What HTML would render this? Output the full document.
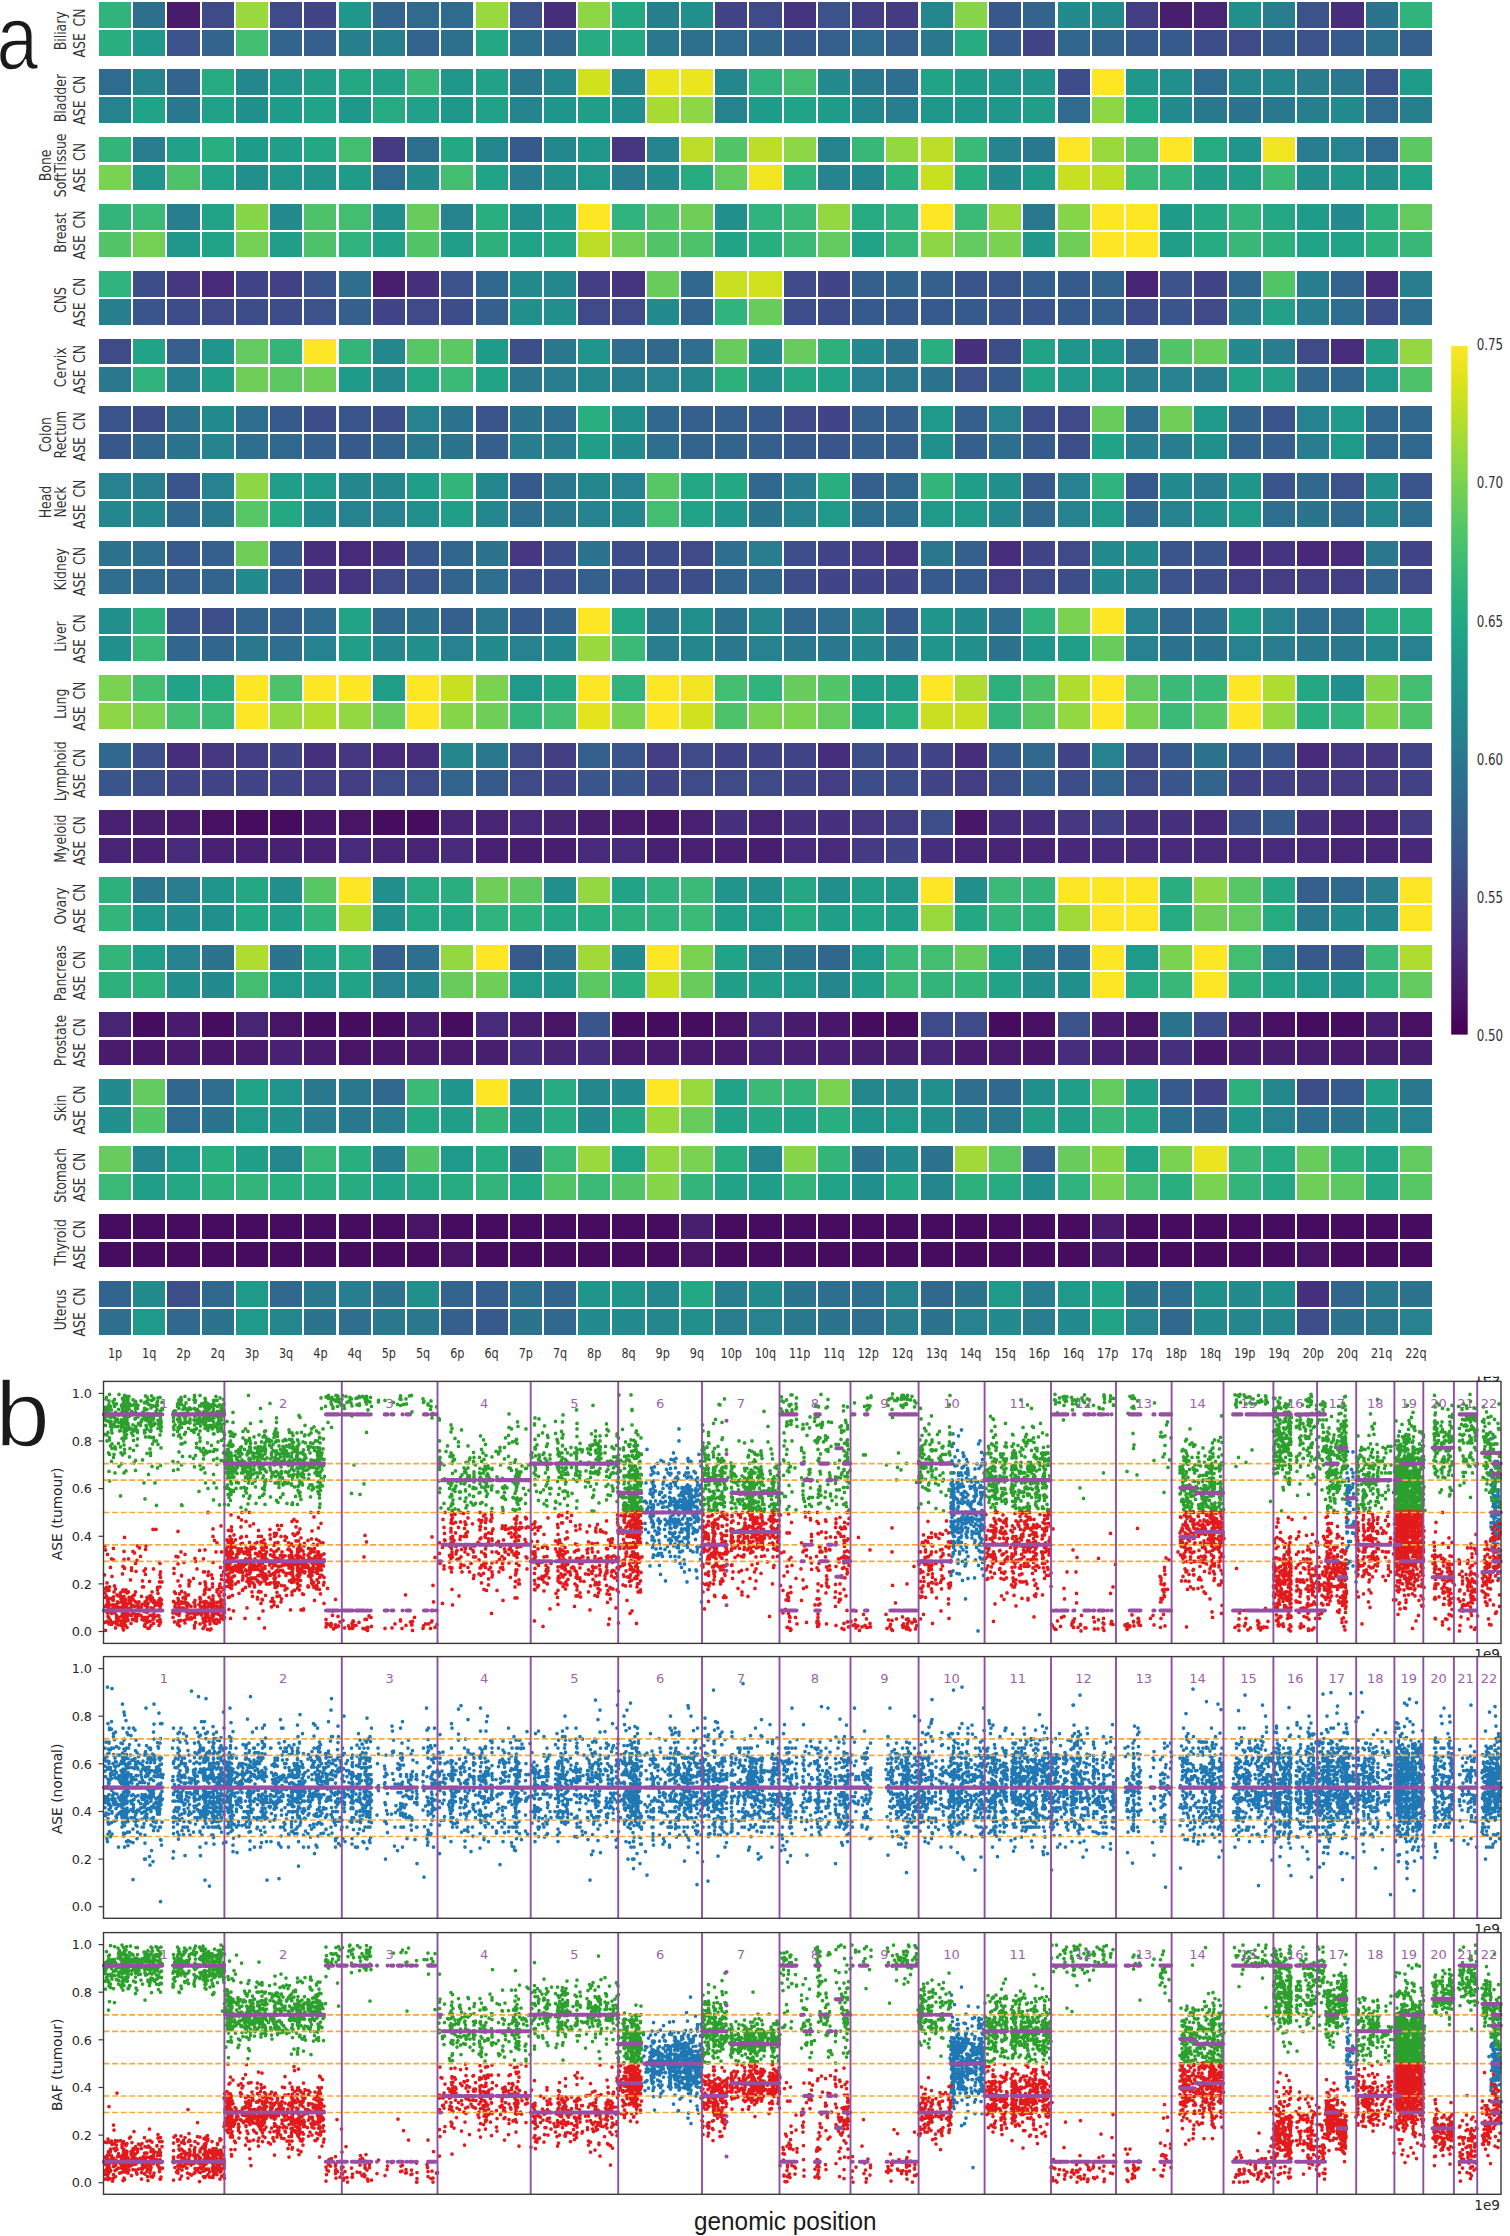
<!DOCTYPE html>
<html><head><meta charset="utf-8"><title>figure</title>
<style>html,body{margin:0;padding:0;background:#fff}svg{display:block}text{font-family:"DejaVu Sans","Liberation Sans",sans-serif}.lib{font-family:"Liberation Sans","DejaVu Sans",sans-serif}</style></head><body>
<svg width="1510" height="2236" viewBox="0 0 1510 2236">
<defs><linearGradient id="cb" x1="0" y1="1" x2="0" y2="0"><stop offset="0.0000" stop-color="#440154"/><stop offset="0.0526" stop-color="#481567"/><stop offset="0.1053" stop-color="#482677"/><stop offset="0.1579" stop-color="#453781"/><stop offset="0.2105" stop-color="#404788"/><stop offset="0.2632" stop-color="#39568c"/><stop offset="0.3158" stop-color="#33638d"/><stop offset="0.3684" stop-color="#2d708e"/><stop offset="0.4211" stop-color="#287d8e"/><stop offset="0.4737" stop-color="#238a8d"/><stop offset="0.5263" stop-color="#1f968b"/><stop offset="0.5789" stop-color="#20a387"/><stop offset="0.6316" stop-color="#29af7f"/><stop offset="0.6842" stop-color="#3cbb75"/><stop offset="0.7368" stop-color="#55c667"/><stop offset="0.7895" stop-color="#73d055"/><stop offset="0.8421" stop-color="#95d840"/><stop offset="0.8947" stop-color="#b8de29"/><stop offset="0.9474" stop-color="#dce319"/><stop offset="1.0000" stop-color="#fde725"/></linearGradient></defs>
<rect width="1510" height="2236" fill="#fff"/>
<g class="h" shape-rendering="crispEdges">
<g transform="translate(0 2.0)"><rect x="98.9" width="32.1" height="25.6" fill="#30b37c"/><rect x="133.1" width="32.1" height="25.6" fill="#2d708e"/><rect x="167.4" width="32.1" height="25.6" fill="#481b6c"/><rect x="201.6" width="32.1" height="25.6" fill="#3f4a89"/><rect x="235.8" width="32.1" height="25.6" fill="#9ad93d"/><rect x="270.1" width="32.1" height="25.6" fill="#3f4a89"/><rect x="304.3" width="32.1" height="25.6" fill="#414487"/><rect x="338.5" width="32.1" height="25.6" fill="#1f978b"/><rect x="372.8" width="32.1" height="25.6" fill="#33648d"/><rect x="407.0" width="32.1" height="25.6" fill="#2f6b8e"/><rect x="441.2" width="32.1" height="25.6" fill="#2f6b8e"/><rect x="475.5" width="32.1" height="25.6" fill="#9ad93d"/><rect x="509.7" width="32.1" height="25.6" fill="#3b528b"/><rect x="544.0" width="32.1" height="25.6" fill="#472e7c"/><rect x="578.2" width="32.1" height="25.6" fill="#8dd645"/><rect x="612.4" width="32.1" height="25.6" fill="#24a884"/><rect x="646.7" width="32.1" height="25.6" fill="#277f8e"/><rect x="680.9" width="32.1" height="25.6" fill="#21908c"/><rect x="715.1" width="32.1" height="25.6" fill="#414487"/><rect x="749.4" width="32.1" height="25.6" fill="#3f4a89"/><rect x="783.6" width="32.1" height="25.6" fill="#453480"/><rect x="817.8" width="32.1" height="25.6" fill="#3b528b"/><rect x="852.1" width="32.1" height="25.6" fill="#433e84"/><rect x="886.3" width="32.1" height="25.6" fill="#443b83"/><rect x="920.5" width="32.1" height="25.6" fill="#24878d"/><rect x="954.8" width="32.1" height="25.6" fill="#87d549"/><rect x="989.0" width="32.1" height="25.6" fill="#38588c"/><rect x="1023.2" width="32.1" height="25.6" fill="#33648d"/><rect x="1057.5" width="32.1" height="25.6" fill="#238b8d"/><rect x="1091.7" width="32.1" height="25.6" fill="#23898d"/><rect x="1126.0" width="32.1" height="25.6" fill="#433e84"/><rect x="1160.2" width="32.1" height="25.6" fill="#481e6f"/><rect x="1194.4" width="32.1" height="25.6" fill="#482475"/><rect x="1228.7" width="32.1" height="25.6" fill="#21908c"/><rect x="1262.9" width="32.1" height="25.6" fill="#287d8e"/><rect x="1297.1" width="32.1" height="25.6" fill="#3b528b"/><rect x="1331.4" width="32.1" height="25.6" fill="#472e7c"/><rect x="1365.6" width="32.1" height="25.6" fill="#2c738e"/><rect x="1399.8" width="32.1" height="25.6" fill="#30b37c"/></g>
<g transform="translate(0 29.9)"><rect x="98.9" width="32.1" height="25.6" fill="#29af7f"/><rect x="133.1" width="32.1" height="25.6" fill="#1f978b"/><rect x="167.4" width="32.1" height="25.6" fill="#3b528b"/><rect x="201.6" width="32.1" height="25.6" fill="#33648d"/><rect x="235.8" width="32.1" height="25.6" fill="#43be71"/><rect x="270.1" width="32.1" height="25.6" fill="#33648d"/><rect x="304.3" width="32.1" height="25.6" fill="#355f8d"/><rect x="338.5" width="32.1" height="25.6" fill="#277f8e"/><rect x="372.8" width="32.1" height="25.6" fill="#277f8e"/><rect x="407.0" width="32.1" height="25.6" fill="#33648d"/><rect x="441.2" width="32.1" height="25.6" fill="#2d708e"/><rect x="475.5" width="32.1" height="25.6" fill="#24a884"/><rect x="509.7" width="32.1" height="25.6" fill="#2d708e"/><rect x="544.0" width="32.1" height="25.6" fill="#31678d"/><rect x="578.2" width="32.1" height="25.6" fill="#27ac81"/><rect x="612.4" width="32.1" height="25.6" fill="#24a884"/><rect x="646.7" width="32.1" height="25.6" fill="#2a788e"/><rect x="680.9" width="32.1" height="25.6" fill="#2d708e"/><rect x="715.1" width="32.1" height="25.6" fill="#2f6b8e"/><rect x="749.4" width="32.1" height="25.6" fill="#31678d"/><rect x="783.6" width="32.1" height="25.6" fill="#375a8c"/><rect x="817.8" width="32.1" height="25.6" fill="#355f8d"/><rect x="852.1" width="32.1" height="25.6" fill="#2f6b8e"/><rect x="886.3" width="32.1" height="25.6" fill="#355f8d"/><rect x="920.5" width="32.1" height="25.6" fill="#2a788e"/><rect x="954.8" width="32.1" height="25.6" fill="#27ac81"/><rect x="989.0" width="32.1" height="25.6" fill="#375a8c"/><rect x="1023.2" width="32.1" height="25.6" fill="#414487"/><rect x="1057.5" width="32.1" height="25.6" fill="#31678d"/><rect x="1091.7" width="32.1" height="25.6" fill="#33648d"/><rect x="1126.0" width="32.1" height="25.6" fill="#375a8c"/><rect x="1160.2" width="32.1" height="25.6" fill="#375a8c"/><rect x="1194.4" width="32.1" height="25.6" fill="#3d4d89"/><rect x="1228.7" width="32.1" height="25.6" fill="#3f4a89"/><rect x="1262.9" width="32.1" height="25.6" fill="#375a8c"/><rect x="1297.1" width="32.1" height="25.6" fill="#3b528b"/><rect x="1331.4" width="32.1" height="25.6" fill="#375a8c"/><rect x="1365.6" width="32.1" height="25.6" fill="#2d708e"/><rect x="1399.8" width="32.1" height="25.6" fill="#355f8d"/></g>
<g transform="translate(0 69.3)"><rect x="98.9" width="32.1" height="25.6" fill="#2f6b8e"/><rect x="133.1" width="32.1" height="25.6" fill="#25848d"/><rect x="167.4" width="32.1" height="25.6" fill="#33648d"/><rect x="201.6" width="32.1" height="25.6" fill="#27ac81"/><rect x="235.8" width="32.1" height="25.6" fill="#24878d"/><rect x="270.1" width="32.1" height="25.6" fill="#1f958b"/><rect x="304.3" width="32.1" height="25.6" fill="#209e88"/><rect x="338.5" width="32.1" height="25.6" fill="#24a884"/><rect x="372.8" width="32.1" height="25.6" fill="#20a188"/><rect x="407.0" width="32.1" height="25.6" fill="#37b878"/><rect x="441.2" width="32.1" height="25.6" fill="#1f978b"/><rect x="475.5" width="32.1" height="25.6" fill="#20a188"/><rect x="509.7" width="32.1" height="25.6" fill="#2a788e"/><rect x="544.0" width="32.1" height="25.6" fill="#24878d"/><rect x="578.2" width="32.1" height="25.6" fill="#d0e11e"/><rect x="612.4" width="32.1" height="25.6" fill="#25848d"/><rect x="646.7" width="32.1" height="25.6" fill="#eae51e"/><rect x="680.9" width="32.1" height="25.6" fill="#eae51e"/><rect x="715.1" width="32.1" height="25.6" fill="#24878d"/><rect x="749.4" width="32.1" height="25.6" fill="#30b37c"/><rect x="783.6" width="32.1" height="25.6" fill="#43be71"/><rect x="817.8" width="32.1" height="25.6" fill="#238b8d"/><rect x="852.1" width="32.1" height="25.6" fill="#2a788e"/><rect x="886.3" width="32.1" height="25.6" fill="#2e6e8e"/><rect x="920.5" width="32.1" height="25.6" fill="#20a387"/><rect x="954.8" width="32.1" height="25.6" fill="#1f9c89"/><rect x="989.0" width="32.1" height="25.6" fill="#1f958b"/><rect x="1023.2" width="32.1" height="25.6" fill="#1f958b"/><rect x="1057.5" width="32.1" height="25.6" fill="#3d4d89"/><rect x="1091.7" width="32.1" height="25.6" fill="#fde725"/><rect x="1126.0" width="32.1" height="25.6" fill="#1f978b"/><rect x="1160.2" width="32.1" height="25.6" fill="#21908c"/><rect x="1194.4" width="32.1" height="25.6" fill="#2f6b8e"/><rect x="1228.7" width="32.1" height="25.6" fill="#24878d"/><rect x="1262.9" width="32.1" height="25.6" fill="#24878d"/><rect x="1297.1" width="32.1" height="25.6" fill="#277f8e"/><rect x="1331.4" width="32.1" height="25.6" fill="#2a788e"/><rect x="1365.6" width="32.1" height="25.6" fill="#3b528b"/><rect x="1399.8" width="32.1" height="25.6" fill="#1f9c89"/></g>
<g transform="translate(0 97.2)"><rect x="98.9" width="32.1" height="25.6" fill="#26828e"/><rect x="133.1" width="32.1" height="25.6" fill="#20a387"/><rect x="167.4" width="32.1" height="25.6" fill="#2a788e"/><rect x="201.6" width="32.1" height="25.6" fill="#20a188"/><rect x="235.8" width="32.1" height="25.6" fill="#21908c"/><rect x="270.1" width="32.1" height="25.6" fill="#1f9c89"/><rect x="304.3" width="32.1" height="25.6" fill="#20a387"/><rect x="338.5" width="32.1" height="25.6" fill="#1f978b"/><rect x="372.8" width="32.1" height="25.6" fill="#27ac81"/><rect x="407.0" width="32.1" height="25.6" fill="#20a188"/><rect x="441.2" width="32.1" height="25.6" fill="#1f978b"/><rect x="475.5" width="32.1" height="25.6" fill="#20a188"/><rect x="509.7" width="32.1" height="25.6" fill="#25848d"/><rect x="544.0" width="32.1" height="25.6" fill="#1f958b"/><rect x="578.2" width="32.1" height="25.6" fill="#209e88"/><rect x="612.4" width="32.1" height="25.6" fill="#21908c"/><rect x="646.7" width="32.1" height="25.6" fill="#a8db34"/><rect x="680.9" width="32.1" height="25.6" fill="#8dd645"/><rect x="715.1" width="32.1" height="25.6" fill="#26828e"/><rect x="749.4" width="32.1" height="25.6" fill="#1f9c89"/><rect x="783.6" width="32.1" height="25.6" fill="#20a387"/><rect x="817.8" width="32.1" height="25.6" fill="#1f9c89"/><rect x="852.1" width="32.1" height="25.6" fill="#24878d"/><rect x="886.3" width="32.1" height="25.6" fill="#287d8e"/><rect x="920.5" width="32.1" height="25.6" fill="#1f978b"/><rect x="954.8" width="32.1" height="25.6" fill="#1f978b"/><rect x="989.0" width="32.1" height="25.6" fill="#1f978b"/><rect x="1023.2" width="32.1" height="25.6" fill="#209e88"/><rect x="1057.5" width="32.1" height="25.6" fill="#2f6b8e"/><rect x="1091.7" width="32.1" height="25.6" fill="#8dd645"/><rect x="1126.0" width="32.1" height="25.6" fill="#24a884"/><rect x="1160.2" width="32.1" height="25.6" fill="#238b8d"/><rect x="1194.4" width="32.1" height="25.6" fill="#2a788e"/><rect x="1228.7" width="32.1" height="25.6" fill="#2c738e"/><rect x="1262.9" width="32.1" height="25.6" fill="#2a788e"/><rect x="1297.1" width="32.1" height="25.6" fill="#277f8e"/><rect x="1331.4" width="32.1" height="25.6" fill="#238b8d"/><rect x="1365.6" width="32.1" height="25.6" fill="#2f6b8e"/><rect x="1399.8" width="32.1" height="25.6" fill="#277f8e"/></g>
<g transform="translate(0 136.6)"><rect x="98.9" width="32.1" height="25.6" fill="#33b57a"/><rect x="133.1" width="32.1" height="25.6" fill="#287d8e"/><rect x="167.4" width="32.1" height="25.6" fill="#20a188"/><rect x="201.6" width="32.1" height="25.6" fill="#29af7f"/><rect x="235.8" width="32.1" height="25.6" fill="#1f9c89"/><rect x="270.1" width="32.1" height="25.6" fill="#209e88"/><rect x="304.3" width="32.1" height="25.6" fill="#24a884"/><rect x="338.5" width="32.1" height="25.6" fill="#43be71"/><rect x="372.8" width="32.1" height="25.6" fill="#443b83"/><rect x="407.0" width="32.1" height="25.6" fill="#2d708e"/><rect x="441.2" width="32.1" height="25.6" fill="#24a884"/><rect x="475.5" width="32.1" height="25.6" fill="#24878d"/><rect x="509.7" width="32.1" height="25.6" fill="#375a8c"/><rect x="544.0" width="32.1" height="25.6" fill="#24878d"/><rect x="578.2" width="32.1" height="25.6" fill="#1f978b"/><rect x="612.4" width="32.1" height="25.6" fill="#453881"/><rect x="646.7" width="32.1" height="25.6" fill="#25848d"/><rect x="680.9" width="32.1" height="25.6" fill="#bcde27"/><rect x="715.1" width="32.1" height="25.6" fill="#52c569"/><rect x="749.4" width="32.1" height="25.6" fill="#bcde27"/><rect x="783.6" width="32.1" height="25.6" fill="#8dd645"/><rect x="817.8" width="32.1" height="25.6" fill="#25848d"/><rect x="852.1" width="32.1" height="25.6" fill="#37b878"/><rect x="886.3" width="32.1" height="25.6" fill="#94d841"/><rect x="920.5" width="32.1" height="25.6" fill="#bcde27"/><rect x="954.8" width="32.1" height="25.6" fill="#3aba76"/><rect x="989.0" width="32.1" height="25.6" fill="#25848d"/><rect x="1023.2" width="32.1" height="25.6" fill="#2a788e"/><rect x="1057.5" width="32.1" height="25.6" fill="#fde725"/><rect x="1091.7" width="32.1" height="25.6" fill="#9ad93d"/><rect x="1126.0" width="32.1" height="25.6" fill="#5cc862"/><rect x="1160.2" width="32.1" height="25.6" fill="#fde725"/><rect x="1194.4" width="32.1" height="25.6" fill="#27ac81"/><rect x="1228.7" width="32.1" height="25.6" fill="#1f958b"/><rect x="1262.9" width="32.1" height="25.6" fill="#f0e520"/><rect x="1297.1" width="32.1" height="25.6" fill="#287d8e"/><rect x="1331.4" width="32.1" height="25.6" fill="#26828e"/><rect x="1365.6" width="32.1" height="25.6" fill="#2f6b8e"/><rect x="1399.8" width="32.1" height="25.6" fill="#5cc862"/></g>
<g transform="translate(0 164.5)"><rect x="98.9" width="32.1" height="25.6" fill="#7ad251"/><rect x="133.1" width="32.1" height="25.6" fill="#1f958b"/><rect x="167.4" width="32.1" height="25.6" fill="#4dc26b"/><rect x="201.6" width="32.1" height="25.6" fill="#20a387"/><rect x="235.8" width="32.1" height="25.6" fill="#21908c"/><rect x="270.1" width="32.1" height="25.6" fill="#1f978b"/><rect x="304.3" width="32.1" height="25.6" fill="#1f958b"/><rect x="338.5" width="32.1" height="25.6" fill="#1f9c89"/><rect x="372.8" width="32.1" height="25.6" fill="#2f6b8e"/><rect x="407.0" width="32.1" height="25.6" fill="#238b8d"/><rect x="441.2" width="32.1" height="25.6" fill="#43be71"/><rect x="475.5" width="32.1" height="25.6" fill="#20a387"/><rect x="509.7" width="32.1" height="25.6" fill="#287d8e"/><rect x="544.0" width="32.1" height="25.6" fill="#21908c"/><rect x="578.2" width="32.1" height="25.6" fill="#1f998a"/><rect x="612.4" width="32.1" height="25.6" fill="#287d8e"/><rect x="646.7" width="32.1" height="25.6" fill="#238b8d"/><rect x="680.9" width="32.1" height="25.6" fill="#27ac81"/><rect x="715.1" width="32.1" height="25.6" fill="#62ca5f"/><rect x="749.4" width="32.1" height="25.6" fill="#f0e520"/><rect x="783.6" width="32.1" height="25.6" fill="#30b37c"/><rect x="817.8" width="32.1" height="25.6" fill="#25848d"/><rect x="852.1" width="32.1" height="25.6" fill="#24878d"/><rect x="886.3" width="32.1" height="25.6" fill="#2cb17d"/><rect x="920.5" width="32.1" height="25.6" fill="#c9e021"/><rect x="954.8" width="32.1" height="25.6" fill="#29af7f"/><rect x="989.0" width="32.1" height="25.6" fill="#238b8d"/><rect x="1023.2" width="32.1" height="25.6" fill="#1f9c89"/><rect x="1057.5" width="32.1" height="25.6" fill="#c9e021"/><rect x="1091.7" width="32.1" height="25.6" fill="#bcde27"/><rect x="1126.0" width="32.1" height="25.6" fill="#3aba76"/><rect x="1160.2" width="32.1" height="25.6" fill="#30b37c"/><rect x="1194.4" width="32.1" height="25.6" fill="#209e88"/><rect x="1228.7" width="32.1" height="25.6" fill="#209e88"/><rect x="1262.9" width="32.1" height="25.6" fill="#3aba76"/><rect x="1297.1" width="32.1" height="25.6" fill="#21908c"/><rect x="1331.4" width="32.1" height="25.6" fill="#1f978b"/><rect x="1365.6" width="32.1" height="25.6" fill="#21908c"/><rect x="1399.8" width="32.1" height="25.6" fill="#20a387"/></g>
<g transform="translate(0 204.0)"><rect x="98.9" width="32.1" height="25.6" fill="#33b57a"/><rect x="133.1" width="32.1" height="25.6" fill="#3aba76"/><rect x="167.4" width="32.1" height="25.6" fill="#277f8e"/><rect x="201.6" width="32.1" height="25.6" fill="#20a387"/><rect x="235.8" width="32.1" height="25.6" fill="#87d549"/><rect x="270.1" width="32.1" height="25.6" fill="#238b8d"/><rect x="304.3" width="32.1" height="25.6" fill="#4dc26b"/><rect x="338.5" width="32.1" height="25.6" fill="#43be71"/><rect x="372.8" width="32.1" height="25.6" fill="#21908c"/><rect x="407.0" width="32.1" height="25.6" fill="#68cc5c"/><rect x="441.2" width="32.1" height="25.6" fill="#25848d"/><rect x="475.5" width="32.1" height="25.6" fill="#29af7f"/><rect x="509.7" width="32.1" height="25.6" fill="#21908c"/><rect x="544.0" width="32.1" height="25.6" fill="#209e88"/><rect x="578.2" width="32.1" height="25.6" fill="#fde725"/><rect x="612.4" width="32.1" height="25.6" fill="#30b37c"/><rect x="646.7" width="32.1" height="25.6" fill="#52c569"/><rect x="680.9" width="32.1" height="25.6" fill="#6ece58"/><rect x="715.1" width="32.1" height="25.6" fill="#21908c"/><rect x="749.4" width="32.1" height="25.6" fill="#30b37c"/><rect x="783.6" width="32.1" height="25.6" fill="#3aba76"/><rect x="817.8" width="32.1" height="25.6" fill="#94d841"/><rect x="852.1" width="32.1" height="25.6" fill="#27ac81"/><rect x="886.3" width="32.1" height="25.6" fill="#30b37c"/><rect x="920.5" width="32.1" height="25.6" fill="#fde725"/><rect x="954.8" width="32.1" height="25.6" fill="#3aba76"/><rect x="989.0" width="32.1" height="25.6" fill="#9ad93d"/><rect x="1023.2" width="32.1" height="25.6" fill="#2a788e"/><rect x="1057.5" width="32.1" height="25.6" fill="#87d549"/><rect x="1091.7" width="32.1" height="25.6" fill="#fde725"/><rect x="1126.0" width="32.1" height="25.6" fill="#fde725"/><rect x="1160.2" width="32.1" height="25.6" fill="#1f9c89"/><rect x="1194.4" width="32.1" height="25.6" fill="#24a884"/><rect x="1228.7" width="32.1" height="25.6" fill="#33b57a"/><rect x="1262.9" width="32.1" height="25.6" fill="#24a884"/><rect x="1297.1" width="32.1" height="25.6" fill="#1f9c89"/><rect x="1331.4" width="32.1" height="25.6" fill="#238b8d"/><rect x="1365.6" width="32.1" height="25.6" fill="#2cb17d"/><rect x="1399.8" width="32.1" height="25.6" fill="#62ca5f"/></g>
<g transform="translate(0 231.9)"><rect x="98.9" width="32.1" height="25.6" fill="#52c569"/><rect x="133.1" width="32.1" height="25.6" fill="#73d055"/><rect x="167.4" width="32.1" height="25.6" fill="#1f978b"/><rect x="201.6" width="32.1" height="25.6" fill="#20a387"/><rect x="235.8" width="32.1" height="25.6" fill="#73d055"/><rect x="270.1" width="32.1" height="25.6" fill="#209e88"/><rect x="304.3" width="32.1" height="25.6" fill="#4dc26b"/><rect x="338.5" width="32.1" height="25.6" fill="#30b37c"/><rect x="372.8" width="32.1" height="25.6" fill="#20a188"/><rect x="407.0" width="32.1" height="25.6" fill="#52c569"/><rect x="441.2" width="32.1" height="25.6" fill="#209e88"/><rect x="475.5" width="32.1" height="25.6" fill="#2cb17d"/><rect x="509.7" width="32.1" height="25.6" fill="#20a387"/><rect x="544.0" width="32.1" height="25.6" fill="#24a884"/><rect x="578.2" width="32.1" height="25.6" fill="#bcde27"/><rect x="612.4" width="32.1" height="25.6" fill="#6ece58"/><rect x="646.7" width="32.1" height="25.6" fill="#52c569"/><rect x="680.9" width="32.1" height="25.6" fill="#4dc26b"/><rect x="715.1" width="32.1" height="25.6" fill="#20a387"/><rect x="749.4" width="32.1" height="25.6" fill="#29af7f"/><rect x="783.6" width="32.1" height="25.6" fill="#3aba76"/><rect x="817.8" width="32.1" height="25.6" fill="#62ca5f"/><rect x="852.1" width="32.1" height="25.6" fill="#20a387"/><rect x="886.3" width="32.1" height="25.6" fill="#37b878"/><rect x="920.5" width="32.1" height="25.6" fill="#8dd645"/><rect x="954.8" width="32.1" height="25.6" fill="#62ca5f"/><rect x="989.0" width="32.1" height="25.6" fill="#7ad251"/><rect x="1023.2" width="32.1" height="25.6" fill="#1f978b"/><rect x="1057.5" width="32.1" height="25.6" fill="#6ece58"/><rect x="1091.7" width="32.1" height="25.6" fill="#fde725"/><rect x="1126.0" width="32.1" height="25.6" fill="#fde725"/><rect x="1160.2" width="32.1" height="25.6" fill="#209e88"/><rect x="1194.4" width="32.1" height="25.6" fill="#27ac81"/><rect x="1228.7" width="32.1" height="25.6" fill="#37b878"/><rect x="1262.9" width="32.1" height="25.6" fill="#2cb17d"/><rect x="1297.1" width="32.1" height="25.6" fill="#20a387"/><rect x="1331.4" width="32.1" height="25.6" fill="#20a387"/><rect x="1365.6" width="32.1" height="25.6" fill="#2cb17d"/><rect x="1399.8" width="32.1" height="25.6" fill="#37b878"/></g>
<g transform="translate(0 271.3)"><rect x="98.9" width="32.1" height="25.6" fill="#30b37c"/><rect x="133.1" width="32.1" height="25.6" fill="#3d4d89"/><rect x="167.4" width="32.1" height="25.6" fill="#453881"/><rect x="201.6" width="32.1" height="25.6" fill="#472b7a"/><rect x="235.8" width="32.1" height="25.6" fill="#414487"/><rect x="270.1" width="32.1" height="25.6" fill="#424185"/><rect x="304.3" width="32.1" height="25.6" fill="#39558c"/><rect x="338.5" width="32.1" height="25.6" fill="#2e6e8e"/><rect x="372.8" width="32.1" height="25.6" fill="#481e6f"/><rect x="407.0" width="32.1" height="25.6" fill="#46317e"/><rect x="441.2" width="32.1" height="25.6" fill="#3b528b"/><rect x="475.5" width="32.1" height="25.6" fill="#30698d"/><rect x="509.7" width="32.1" height="25.6" fill="#238b8d"/><rect x="544.0" width="32.1" height="25.6" fill="#24878d"/><rect x="578.2" width="32.1" height="25.6" fill="#433e84"/><rect x="612.4" width="32.1" height="25.6" fill="#453480"/><rect x="646.7" width="32.1" height="25.6" fill="#68cc5c"/><rect x="680.9" width="32.1" height="25.6" fill="#30698d"/><rect x="715.1" width="32.1" height="25.6" fill="#c9e021"/><rect x="749.4" width="32.1" height="25.6" fill="#d0e11e"/><rect x="783.6" width="32.1" height="25.6" fill="#3f4a89"/><rect x="817.8" width="32.1" height="25.6" fill="#414487"/><rect x="852.1" width="32.1" height="25.6" fill="#355f8d"/><rect x="886.3" width="32.1" height="25.6" fill="#33648d"/><rect x="920.5" width="32.1" height="25.6" fill="#355f8d"/><rect x="954.8" width="32.1" height="25.6" fill="#39558c"/><rect x="989.0" width="32.1" height="25.6" fill="#39558c"/><rect x="1023.2" width="32.1" height="25.6" fill="#355f8d"/><rect x="1057.5" width="32.1" height="25.6" fill="#375a8c"/><rect x="1091.7" width="32.1" height="25.6" fill="#33648d"/><rect x="1126.0" width="32.1" height="25.6" fill="#482475"/><rect x="1160.2" width="32.1" height="25.6" fill="#3b528b"/><rect x="1194.4" width="32.1" height="25.6" fill="#414487"/><rect x="1228.7" width="32.1" height="25.6" fill="#30698d"/><rect x="1262.9" width="32.1" height="25.6" fill="#52c569"/><rect x="1297.1" width="32.1" height="25.6" fill="#287d8e"/><rect x="1331.4" width="32.1" height="25.6" fill="#33648d"/><rect x="1365.6" width="32.1" height="25.6" fill="#472b7a"/><rect x="1399.8" width="32.1" height="25.6" fill="#287d8e"/></g>
<g transform="translate(0 299.2)"><rect x="98.9" width="32.1" height="25.6" fill="#277f8e"/><rect x="133.1" width="32.1" height="25.6" fill="#39558c"/><rect x="167.4" width="32.1" height="25.6" fill="#3d4d89"/><rect x="201.6" width="32.1" height="25.6" fill="#3f4a89"/><rect x="235.8" width="32.1" height="25.6" fill="#3d4d89"/><rect x="270.1" width="32.1" height="25.6" fill="#3d4d89"/><rect x="304.3" width="32.1" height="25.6" fill="#3b528b"/><rect x="338.5" width="32.1" height="25.6" fill="#355f8d"/><rect x="372.8" width="32.1" height="25.6" fill="#414487"/><rect x="407.0" width="32.1" height="25.6" fill="#3f4a89"/><rect x="441.2" width="32.1" height="25.6" fill="#3d4d89"/><rect x="475.5" width="32.1" height="25.6" fill="#355f8d"/><rect x="509.7" width="32.1" height="25.6" fill="#21908c"/><rect x="544.0" width="32.1" height="25.6" fill="#21908c"/><rect x="578.2" width="32.1" height="25.6" fill="#3f4a89"/><rect x="612.4" width="32.1" height="25.6" fill="#3f4a89"/><rect x="646.7" width="32.1" height="25.6" fill="#238b8d"/><rect x="680.9" width="32.1" height="25.6" fill="#33648d"/><rect x="715.1" width="32.1" height="25.6" fill="#30b37c"/><rect x="749.4" width="32.1" height="25.6" fill="#68cc5c"/><rect x="783.6" width="32.1" height="25.6" fill="#3c4f8a"/><rect x="817.8" width="32.1" height="25.6" fill="#3d4d89"/><rect x="852.1" width="32.1" height="25.6" fill="#375a8c"/><rect x="886.3" width="32.1" height="25.6" fill="#375a8c"/><rect x="920.5" width="32.1" height="25.6" fill="#375a8c"/><rect x="954.8" width="32.1" height="25.6" fill="#375a8c"/><rect x="989.0" width="32.1" height="25.6" fill="#39558c"/><rect x="1023.2" width="32.1" height="25.6" fill="#39558c"/><rect x="1057.5" width="32.1" height="25.6" fill="#375a8c"/><rect x="1091.7" width="32.1" height="25.6" fill="#355f8d"/><rect x="1126.0" width="32.1" height="25.6" fill="#3d4d89"/><rect x="1160.2" width="32.1" height="25.6" fill="#39558c"/><rect x="1194.4" width="32.1" height="25.6" fill="#3f4a89"/><rect x="1228.7" width="32.1" height="25.6" fill="#287d8e"/><rect x="1262.9" width="32.1" height="25.6" fill="#20a188"/><rect x="1297.1" width="32.1" height="25.6" fill="#287d8e"/><rect x="1331.4" width="32.1" height="25.6" fill="#2e6e8e"/><rect x="1365.6" width="32.1" height="25.6" fill="#3d4d89"/><rect x="1399.8" width="32.1" height="25.6" fill="#2e6e8e"/></g>
<g transform="translate(0 338.6)"><rect x="98.9" width="32.1" height="25.6" fill="#3f4a89"/><rect x="133.1" width="32.1" height="25.6" fill="#20a387"/><rect x="167.4" width="32.1" height="25.6" fill="#355f8d"/><rect x="201.6" width="32.1" height="25.6" fill="#1f958b"/><rect x="235.8" width="32.1" height="25.6" fill="#62ca5f"/><rect x="270.1" width="32.1" height="25.6" fill="#33b57a"/><rect x="304.3" width="32.1" height="25.6" fill="#fde725"/><rect x="338.5" width="32.1" height="25.6" fill="#33b57a"/><rect x="372.8" width="32.1" height="25.6" fill="#24878d"/><rect x="407.0" width="32.1" height="25.6" fill="#57c766"/><rect x="441.2" width="32.1" height="25.6" fill="#5cc862"/><rect x="475.5" width="32.1" height="25.6" fill="#1f9c89"/><rect x="509.7" width="32.1" height="25.6" fill="#3c4f8a"/><rect x="544.0" width="32.1" height="25.6" fill="#2a788e"/><rect x="578.2" width="32.1" height="25.6" fill="#1f958b"/><rect x="612.4" width="32.1" height="25.6" fill="#2e6e8e"/><rect x="646.7" width="32.1" height="25.6" fill="#30698d"/><rect x="680.9" width="32.1" height="25.6" fill="#2e6e8e"/><rect x="715.1" width="32.1" height="25.6" fill="#68cc5c"/><rect x="749.4" width="32.1" height="25.6" fill="#238b8d"/><rect x="783.6" width="32.1" height="25.6" fill="#68cc5c"/><rect x="817.8" width="32.1" height="25.6" fill="#2cb17d"/><rect x="852.1" width="32.1" height="25.6" fill="#238b8d"/><rect x="886.3" width="32.1" height="25.6" fill="#2c738e"/><rect x="920.5" width="32.1" height="25.6" fill="#29af7f"/><rect x="954.8" width="32.1" height="25.6" fill="#46317e"/><rect x="989.0" width="32.1" height="25.6" fill="#3d4d89"/><rect x="1023.2" width="32.1" height="25.6" fill="#20a387"/><rect x="1057.5" width="32.1" height="25.6" fill="#1f958b"/><rect x="1091.7" width="32.1" height="25.6" fill="#1f958b"/><rect x="1126.0" width="32.1" height="25.6" fill="#31678d"/><rect x="1160.2" width="32.1" height="25.6" fill="#52c569"/><rect x="1194.4" width="32.1" height="25.6" fill="#68cc5c"/><rect x="1228.7" width="32.1" height="25.6" fill="#238b8d"/><rect x="1262.9" width="32.1" height="25.6" fill="#287d8e"/><rect x="1297.1" width="32.1" height="25.6" fill="#3f4a89"/><rect x="1331.4" width="32.1" height="25.6" fill="#472e7c"/><rect x="1365.6" width="32.1" height="25.6" fill="#209e88"/><rect x="1399.8" width="32.1" height="25.6" fill="#94d841"/></g>
<g transform="translate(0 366.5)"><rect x="98.9" width="32.1" height="25.6" fill="#2a788e"/><rect x="133.1" width="32.1" height="25.6" fill="#30b37c"/><rect x="167.4" width="32.1" height="25.6" fill="#277f8e"/><rect x="201.6" width="32.1" height="25.6" fill="#209e88"/><rect x="235.8" width="32.1" height="25.6" fill="#6ece58"/><rect x="270.1" width="32.1" height="25.6" fill="#5cc862"/><rect x="304.3" width="32.1" height="25.6" fill="#6ece58"/><rect x="338.5" width="32.1" height="25.6" fill="#1f9c89"/><rect x="372.8" width="32.1" height="25.6" fill="#24878d"/><rect x="407.0" width="32.1" height="25.6" fill="#24a884"/><rect x="441.2" width="32.1" height="25.6" fill="#3aba76"/><rect x="475.5" width="32.1" height="25.6" fill="#20a387"/><rect x="509.7" width="32.1" height="25.6" fill="#2a788e"/><rect x="544.0" width="32.1" height="25.6" fill="#287d8e"/><rect x="578.2" width="32.1" height="25.6" fill="#24878d"/><rect x="612.4" width="32.1" height="25.6" fill="#277f8e"/><rect x="646.7" width="32.1" height="25.6" fill="#26828e"/><rect x="680.9" width="32.1" height="25.6" fill="#24878d"/><rect x="715.1" width="32.1" height="25.6" fill="#2cb17d"/><rect x="749.4" width="32.1" height="25.6" fill="#21908c"/><rect x="783.6" width="32.1" height="25.6" fill="#24a884"/><rect x="817.8" width="32.1" height="25.6" fill="#20a387"/><rect x="852.1" width="32.1" height="25.6" fill="#26828e"/><rect x="886.3" width="32.1" height="25.6" fill="#2a788e"/><rect x="920.5" width="32.1" height="25.6" fill="#2c738e"/><rect x="954.8" width="32.1" height="25.6" fill="#3b528b"/><rect x="989.0" width="32.1" height="25.6" fill="#375a8c"/><rect x="1023.2" width="32.1" height="25.6" fill="#20a387"/><rect x="1057.5" width="32.1" height="25.6" fill="#1f998a"/><rect x="1091.7" width="32.1" height="25.6" fill="#1f998a"/><rect x="1126.0" width="32.1" height="25.6" fill="#287d8e"/><rect x="1160.2" width="32.1" height="25.6" fill="#26828e"/><rect x="1194.4" width="32.1" height="25.6" fill="#287d8e"/><rect x="1228.7" width="32.1" height="25.6" fill="#20a387"/><rect x="1262.9" width="32.1" height="25.6" fill="#20a188"/><rect x="1297.1" width="32.1" height="25.6" fill="#30698d"/><rect x="1331.4" width="32.1" height="25.6" fill="#30698d"/><rect x="1365.6" width="32.1" height="25.6" fill="#1f998a"/><rect x="1399.8" width="32.1" height="25.6" fill="#4dc26b"/></g>
<g transform="translate(0 405.9)"><rect x="98.9" width="32.1" height="25.6" fill="#39558c"/><rect x="133.1" width="32.1" height="25.6" fill="#3d4d89"/><rect x="167.4" width="32.1" height="25.6" fill="#2c738e"/><rect x="201.6" width="32.1" height="25.6" fill="#238b8d"/><rect x="235.8" width="32.1" height="25.6" fill="#2e6e8e"/><rect x="270.1" width="32.1" height="25.6" fill="#375a8c"/><rect x="304.3" width="32.1" height="25.6" fill="#3d4d89"/><rect x="338.5" width="32.1" height="25.6" fill="#39558c"/><rect x="372.8" width="32.1" height="25.6" fill="#3c4f8a"/><rect x="407.0" width="32.1" height="25.6" fill="#26828e"/><rect x="441.2" width="32.1" height="25.6" fill="#2c738e"/><rect x="475.5" width="32.1" height="25.6" fill="#39558c"/><rect x="509.7" width="32.1" height="25.6" fill="#2c738e"/><rect x="544.0" width="32.1" height="25.6" fill="#2e6e8e"/><rect x="578.2" width="32.1" height="25.6" fill="#29af7f"/><rect x="612.4" width="32.1" height="25.6" fill="#21908c"/><rect x="646.7" width="32.1" height="25.6" fill="#30698d"/><rect x="680.9" width="32.1" height="25.6" fill="#355f8d"/><rect x="715.1" width="32.1" height="25.6" fill="#355f8d"/><rect x="749.4" width="32.1" height="25.6" fill="#375a8c"/><rect x="783.6" width="32.1" height="25.6" fill="#3f4a89"/><rect x="817.8" width="32.1" height="25.6" fill="#414487"/><rect x="852.1" width="32.1" height="25.6" fill="#355f8d"/><rect x="886.3" width="32.1" height="25.6" fill="#355f8d"/><rect x="920.5" width="32.1" height="25.6" fill="#1f998a"/><rect x="954.8" width="32.1" height="25.6" fill="#355f8d"/><rect x="989.0" width="32.1" height="25.6" fill="#26828e"/><rect x="1023.2" width="32.1" height="25.6" fill="#3c4f8a"/><rect x="1057.5" width="32.1" height="25.6" fill="#3f4a89"/><rect x="1091.7" width="32.1" height="25.6" fill="#68cc5c"/><rect x="1126.0" width="32.1" height="25.6" fill="#2e6e8e"/><rect x="1160.2" width="32.1" height="25.6" fill="#6ece58"/><rect x="1194.4" width="32.1" height="25.6" fill="#1f998a"/><rect x="1228.7" width="32.1" height="25.6" fill="#33648d"/><rect x="1262.9" width="32.1" height="25.6" fill="#39558c"/><rect x="1297.1" width="32.1" height="25.6" fill="#26828e"/><rect x="1331.4" width="32.1" height="25.6" fill="#1f998a"/><rect x="1365.6" width="32.1" height="25.6" fill="#30698d"/><rect x="1399.8" width="32.1" height="25.6" fill="#30698d"/></g>
<g transform="translate(0 433.8)"><rect x="98.9" width="32.1" height="25.6" fill="#38588c"/><rect x="133.1" width="32.1" height="25.6" fill="#31678d"/><rect x="167.4" width="32.1" height="25.6" fill="#2c738e"/><rect x="201.6" width="32.1" height="25.6" fill="#25848d"/><rect x="235.8" width="32.1" height="25.6" fill="#2e6e8e"/><rect x="270.1" width="32.1" height="25.6" fill="#30698d"/><rect x="304.3" width="32.1" height="25.6" fill="#355f8d"/><rect x="338.5" width="32.1" height="25.6" fill="#375a8c"/><rect x="372.8" width="32.1" height="25.6" fill="#33648d"/><rect x="407.0" width="32.1" height="25.6" fill="#2a788e"/><rect x="441.2" width="32.1" height="25.6" fill="#2c738e"/><rect x="475.5" width="32.1" height="25.6" fill="#355f8d"/><rect x="509.7" width="32.1" height="25.6" fill="#287d8e"/><rect x="544.0" width="32.1" height="25.6" fill="#287d8e"/><rect x="578.2" width="32.1" height="25.6" fill="#209e88"/><rect x="612.4" width="32.1" height="25.6" fill="#238b8d"/><rect x="646.7" width="32.1" height="25.6" fill="#2e6e8e"/><rect x="680.9" width="32.1" height="25.6" fill="#33648d"/><rect x="715.1" width="32.1" height="25.6" fill="#33648d"/><rect x="749.4" width="32.1" height="25.6" fill="#355f8d"/><rect x="783.6" width="32.1" height="25.6" fill="#375a8c"/><rect x="817.8" width="32.1" height="25.6" fill="#39558c"/><rect x="852.1" width="32.1" height="25.6" fill="#355f8d"/><rect x="886.3" width="32.1" height="25.6" fill="#355f8d"/><rect x="920.5" width="32.1" height="25.6" fill="#21908c"/><rect x="954.8" width="32.1" height="25.6" fill="#355f8d"/><rect x="989.0" width="32.1" height="25.6" fill="#2e6e8e"/><rect x="1023.2" width="32.1" height="25.6" fill="#375a8c"/><rect x="1057.5" width="32.1" height="25.6" fill="#3c4f8a"/><rect x="1091.7" width="32.1" height="25.6" fill="#20a387"/><rect x="1126.0" width="32.1" height="25.6" fill="#287d8e"/><rect x="1160.2" width="32.1" height="25.6" fill="#287d8e"/><rect x="1194.4" width="32.1" height="25.6" fill="#21908c"/><rect x="1228.7" width="32.1" height="25.6" fill="#33648d"/><rect x="1262.9" width="32.1" height="25.6" fill="#355f8d"/><rect x="1297.1" width="32.1" height="25.6" fill="#287d8e"/><rect x="1331.4" width="32.1" height="25.6" fill="#1f998a"/><rect x="1365.6" width="32.1" height="25.6" fill="#30698d"/><rect x="1399.8" width="32.1" height="25.6" fill="#30698d"/></g>
<g transform="translate(0 473.2)"><rect x="98.9" width="32.1" height="25.6" fill="#26828e"/><rect x="133.1" width="32.1" height="25.6" fill="#287d8e"/><rect x="167.4" width="32.1" height="25.6" fill="#39558c"/><rect x="201.6" width="32.1" height="25.6" fill="#26828e"/><rect x="235.8" width="32.1" height="25.6" fill="#8dd645"/><rect x="270.1" width="32.1" height="25.6" fill="#209e88"/><rect x="304.3" width="32.1" height="25.6" fill="#1f998a"/><rect x="338.5" width="32.1" height="25.6" fill="#24878d"/><rect x="372.8" width="32.1" height="25.6" fill="#24878d"/><rect x="407.0" width="32.1" height="25.6" fill="#209e88"/><rect x="441.2" width="32.1" height="25.6" fill="#33b57a"/><rect x="475.5" width="32.1" height="25.6" fill="#24878d"/><rect x="509.7" width="32.1" height="25.6" fill="#375a8c"/><rect x="544.0" width="32.1" height="25.6" fill="#2a788e"/><rect x="578.2" width="32.1" height="25.6" fill="#24878d"/><rect x="612.4" width="32.1" height="25.6" fill="#26828e"/><rect x="646.7" width="32.1" height="25.6" fill="#57c766"/><rect x="680.9" width="32.1" height="25.6" fill="#24a884"/><rect x="715.1" width="32.1" height="25.6" fill="#24a884"/><rect x="749.4" width="32.1" height="25.6" fill="#30698d"/><rect x="783.6" width="32.1" height="25.6" fill="#287d8e"/><rect x="817.8" width="32.1" height="25.6" fill="#29af7f"/><rect x="852.1" width="32.1" height="25.6" fill="#355f8d"/><rect x="886.3" width="32.1" height="25.6" fill="#30698d"/><rect x="920.5" width="32.1" height="25.6" fill="#33b57a"/><rect x="954.8" width="32.1" height="25.6" fill="#209e88"/><rect x="989.0" width="32.1" height="25.6" fill="#21908c"/><rect x="1023.2" width="32.1" height="25.6" fill="#375a8c"/><rect x="1057.5" width="32.1" height="25.6" fill="#26828e"/><rect x="1091.7" width="32.1" height="25.6" fill="#30b37c"/><rect x="1126.0" width="32.1" height="25.6" fill="#375a8c"/><rect x="1160.2" width="32.1" height="25.6" fill="#238b8d"/><rect x="1194.4" width="32.1" height="25.6" fill="#287d8e"/><rect x="1228.7" width="32.1" height="25.6" fill="#1f958b"/><rect x="1262.9" width="32.1" height="25.6" fill="#39558c"/><rect x="1297.1" width="32.1" height="25.6" fill="#30698d"/><rect x="1331.4" width="32.1" height="25.6" fill="#3b528b"/><rect x="1365.6" width="32.1" height="25.6" fill="#21908c"/><rect x="1399.8" width="32.1" height="25.6" fill="#39558c"/></g>
<g transform="translate(0 501.1)"><rect x="98.9" width="32.1" height="25.6" fill="#24878d"/><rect x="133.1" width="32.1" height="25.6" fill="#24878d"/><rect x="167.4" width="32.1" height="25.6" fill="#30698d"/><rect x="201.6" width="32.1" height="25.6" fill="#2a788e"/><rect x="235.8" width="32.1" height="25.6" fill="#57c766"/><rect x="270.1" width="32.1" height="25.6" fill="#24a884"/><rect x="304.3" width="32.1" height="25.6" fill="#238b8d"/><rect x="338.5" width="32.1" height="25.6" fill="#26828e"/><rect x="372.8" width="32.1" height="25.6" fill="#26828e"/><rect x="407.0" width="32.1" height="25.6" fill="#21908c"/><rect x="441.2" width="32.1" height="25.6" fill="#209e88"/><rect x="475.5" width="32.1" height="25.6" fill="#24878d"/><rect x="509.7" width="32.1" height="25.6" fill="#2e6e8e"/><rect x="544.0" width="32.1" height="25.6" fill="#2a788e"/><rect x="578.2" width="32.1" height="25.6" fill="#26828e"/><rect x="612.4" width="32.1" height="25.6" fill="#24878d"/><rect x="646.7" width="32.1" height="25.6" fill="#43be71"/><rect x="680.9" width="32.1" height="25.6" fill="#20a387"/><rect x="715.1" width="32.1" height="25.6" fill="#1f958b"/><rect x="749.4" width="32.1" height="25.6" fill="#2c738e"/><rect x="783.6" width="32.1" height="25.6" fill="#26828e"/><rect x="817.8" width="32.1" height="25.6" fill="#1f998a"/><rect x="852.1" width="32.1" height="25.6" fill="#2e6e8e"/><rect x="886.3" width="32.1" height="25.6" fill="#2e6e8e"/><rect x="920.5" width="32.1" height="25.6" fill="#1f998a"/><rect x="954.8" width="32.1" height="25.6" fill="#1f998a"/><rect x="989.0" width="32.1" height="25.6" fill="#24878d"/><rect x="1023.2" width="32.1" height="25.6" fill="#30698d"/><rect x="1057.5" width="32.1" height="25.6" fill="#26828e"/><rect x="1091.7" width="32.1" height="25.6" fill="#1f998a"/><rect x="1126.0" width="32.1" height="25.6" fill="#30698d"/><rect x="1160.2" width="32.1" height="25.6" fill="#26828e"/><rect x="1194.4" width="32.1" height="25.6" fill="#21908c"/><rect x="1228.7" width="32.1" height="25.6" fill="#1f998a"/><rect x="1262.9" width="32.1" height="25.6" fill="#2e6e8e"/><rect x="1297.1" width="32.1" height="25.6" fill="#2c738e"/><rect x="1331.4" width="32.1" height="25.6" fill="#30698d"/><rect x="1365.6" width="32.1" height="25.6" fill="#24878d"/><rect x="1399.8" width="32.1" height="25.6" fill="#2e6e8e"/></g>
<g transform="translate(0 540.6)"><rect x="98.9" width="32.1" height="25.6" fill="#2c738e"/><rect x="133.1" width="32.1" height="25.6" fill="#2e6e8e"/><rect x="167.4" width="32.1" height="25.6" fill="#375a8c"/><rect x="201.6" width="32.1" height="25.6" fill="#355f8d"/><rect x="235.8" width="32.1" height="25.6" fill="#6ece58"/><rect x="270.1" width="32.1" height="25.6" fill="#375a8c"/><rect x="304.3" width="32.1" height="25.6" fill="#472e7c"/><rect x="338.5" width="32.1" height="25.6" fill="#472b7a"/><rect x="372.8" width="32.1" height="25.6" fill="#46317e"/><rect x="407.0" width="32.1" height="25.6" fill="#38588c"/><rect x="441.2" width="32.1" height="25.6" fill="#31678d"/><rect x="475.5" width="32.1" height="25.6" fill="#2c738e"/><rect x="509.7" width="32.1" height="25.6" fill="#453881"/><rect x="544.0" width="32.1" height="25.6" fill="#3d4d89"/><rect x="578.2" width="32.1" height="25.6" fill="#2c738e"/><rect x="612.4" width="32.1" height="25.6" fill="#3d4d89"/><rect x="646.7" width="32.1" height="25.6" fill="#3d4d89"/><rect x="680.9" width="32.1" height="25.6" fill="#3f4a89"/><rect x="715.1" width="32.1" height="25.6" fill="#2e6e8e"/><rect x="749.4" width="32.1" height="25.6" fill="#287d8e"/><rect x="783.6" width="32.1" height="25.6" fill="#3c4f8a"/><rect x="817.8" width="32.1" height="25.6" fill="#414487"/><rect x="852.1" width="32.1" height="25.6" fill="#433e84"/><rect x="886.3" width="32.1" height="25.6" fill="#453480"/><rect x="920.5" width="32.1" height="25.6" fill="#2a788e"/><rect x="954.8" width="32.1" height="25.6" fill="#355f8d"/><rect x="989.0" width="32.1" height="25.6" fill="#472e7c"/><rect x="1023.2" width="32.1" height="25.6" fill="#414487"/><rect x="1057.5" width="32.1" height="25.6" fill="#3f4a89"/><rect x="1091.7" width="32.1" height="25.6" fill="#238b8d"/><rect x="1126.0" width="32.1" height="25.6" fill="#238b8d"/><rect x="1160.2" width="32.1" height="25.6" fill="#39558c"/><rect x="1194.4" width="32.1" height="25.6" fill="#39558c"/><rect x="1228.7" width="32.1" height="25.6" fill="#472e7c"/><rect x="1262.9" width="32.1" height="25.6" fill="#453480"/><rect x="1297.1" width="32.1" height="25.6" fill="#482878"/><rect x="1331.4" width="32.1" height="25.6" fill="#472b7a"/><rect x="1365.6" width="32.1" height="25.6" fill="#2a788e"/><rect x="1399.8" width="32.1" height="25.6" fill="#414487"/></g>
<g transform="translate(0 568.5)"><rect x="98.9" width="32.1" height="25.6" fill="#2e6e8e"/><rect x="133.1" width="32.1" height="25.6" fill="#30698d"/><rect x="167.4" width="32.1" height="25.6" fill="#355f8d"/><rect x="201.6" width="32.1" height="25.6" fill="#33648d"/><rect x="235.8" width="32.1" height="25.6" fill="#238b8d"/><rect x="270.1" width="32.1" height="25.6" fill="#375a8c"/><rect x="304.3" width="32.1" height="25.6" fill="#453480"/><rect x="338.5" width="32.1" height="25.6" fill="#453480"/><rect x="372.8" width="32.1" height="25.6" fill="#3f4a89"/><rect x="407.0" width="32.1" height="25.6" fill="#39558c"/><rect x="441.2" width="32.1" height="25.6" fill="#33648d"/><rect x="475.5" width="32.1" height="25.6" fill="#2e6e8e"/><rect x="509.7" width="32.1" height="25.6" fill="#3c4f8a"/><rect x="544.0" width="32.1" height="25.6" fill="#3c4f8a"/><rect x="578.2" width="32.1" height="25.6" fill="#355f8d"/><rect x="612.4" width="32.1" height="25.6" fill="#3c4f8a"/><rect x="646.7" width="32.1" height="25.6" fill="#3d4d89"/><rect x="680.9" width="32.1" height="25.6" fill="#3d4d89"/><rect x="715.1" width="32.1" height="25.6" fill="#33648d"/><rect x="749.4" width="32.1" height="25.6" fill="#30698d"/><rect x="783.6" width="32.1" height="25.6" fill="#3d4d89"/><rect x="817.8" width="32.1" height="25.6" fill="#414487"/><rect x="852.1" width="32.1" height="25.6" fill="#414487"/><rect x="886.3" width="32.1" height="25.6" fill="#414487"/><rect x="920.5" width="32.1" height="25.6" fill="#375a8c"/><rect x="954.8" width="32.1" height="25.6" fill="#375a8c"/><rect x="989.0" width="32.1" height="25.6" fill="#433e84"/><rect x="1023.2" width="32.1" height="25.6" fill="#3f4a89"/><rect x="1057.5" width="32.1" height="25.6" fill="#3d4d89"/><rect x="1091.7" width="32.1" height="25.6" fill="#238b8d"/><rect x="1126.0" width="32.1" height="25.6" fill="#24878d"/><rect x="1160.2" width="32.1" height="25.6" fill="#3b528b"/><rect x="1194.4" width="32.1" height="25.6" fill="#3d4d89"/><rect x="1228.7" width="32.1" height="25.6" fill="#433e84"/><rect x="1262.9" width="32.1" height="25.6" fill="#433e84"/><rect x="1297.1" width="32.1" height="25.6" fill="#433e84"/><rect x="1331.4" width="32.1" height="25.6" fill="#433e84"/><rect x="1365.6" width="32.1" height="25.6" fill="#33648d"/><rect x="1399.8" width="32.1" height="25.6" fill="#3f4a89"/></g>
<g transform="translate(0 607.9)"><rect x="98.9" width="32.1" height="25.6" fill="#21908c"/><rect x="133.1" width="32.1" height="25.6" fill="#2cb17d"/><rect x="167.4" width="32.1" height="25.6" fill="#39558c"/><rect x="201.6" width="32.1" height="25.6" fill="#3c4f8a"/><rect x="235.8" width="32.1" height="25.6" fill="#33648d"/><rect x="270.1" width="32.1" height="25.6" fill="#355f8d"/><rect x="304.3" width="32.1" height="25.6" fill="#2f6b8e"/><rect x="338.5" width="32.1" height="25.6" fill="#20a387"/><rect x="372.8" width="32.1" height="25.6" fill="#30698d"/><rect x="407.0" width="32.1" height="25.6" fill="#2c738e"/><rect x="441.2" width="32.1" height="25.6" fill="#355f8d"/><rect x="475.5" width="32.1" height="25.6" fill="#2a788e"/><rect x="509.7" width="32.1" height="25.6" fill="#375a8c"/><rect x="544.0" width="32.1" height="25.6" fill="#33648d"/><rect x="578.2" width="32.1" height="25.6" fill="#fde725"/><rect x="612.4" width="32.1" height="25.6" fill="#24a884"/><rect x="646.7" width="32.1" height="25.6" fill="#2a788e"/><rect x="680.9" width="32.1" height="25.6" fill="#21908c"/><rect x="715.1" width="32.1" height="25.6" fill="#2c738e"/><rect x="749.4" width="32.1" height="25.6" fill="#24878d"/><rect x="783.6" width="32.1" height="25.6" fill="#30698d"/><rect x="817.8" width="32.1" height="25.6" fill="#2e6e8e"/><rect x="852.1" width="32.1" height="25.6" fill="#24878d"/><rect x="886.3" width="32.1" height="25.6" fill="#375a8c"/><rect x="920.5" width="32.1" height="25.6" fill="#1f958b"/><rect x="954.8" width="32.1" height="25.6" fill="#238b8d"/><rect x="989.0" width="32.1" height="25.6" fill="#2e6e8e"/><rect x="1023.2" width="32.1" height="25.6" fill="#30b37c"/><rect x="1057.5" width="32.1" height="25.6" fill="#7ad251"/><rect x="1091.7" width="32.1" height="25.6" fill="#fde725"/><rect x="1126.0" width="32.1" height="25.6" fill="#26828e"/><rect x="1160.2" width="32.1" height="25.6" fill="#30698d"/><rect x="1194.4" width="32.1" height="25.6" fill="#2e6e8e"/><rect x="1228.7" width="32.1" height="25.6" fill="#209e88"/><rect x="1262.9" width="32.1" height="25.6" fill="#26828e"/><rect x="1297.1" width="32.1" height="25.6" fill="#2e6e8e"/><rect x="1331.4" width="32.1" height="25.6" fill="#2e6e8e"/><rect x="1365.6" width="32.1" height="25.6" fill="#27ac81"/><rect x="1399.8" width="32.1" height="25.6" fill="#29af7f"/></g>
<g transform="translate(0 635.8)"><rect x="98.9" width="32.1" height="25.6" fill="#21908c"/><rect x="133.1" width="32.1" height="25.6" fill="#3aba76"/><rect x="167.4" width="32.1" height="25.6" fill="#31678d"/><rect x="201.6" width="32.1" height="25.6" fill="#31678d"/><rect x="235.8" width="32.1" height="25.6" fill="#2a788e"/><rect x="270.1" width="32.1" height="25.6" fill="#2e6e8e"/><rect x="304.3" width="32.1" height="25.6" fill="#26828e"/><rect x="338.5" width="32.1" height="25.6" fill="#209e88"/><rect x="372.8" width="32.1" height="25.6" fill="#24878d"/><rect x="407.0" width="32.1" height="25.6" fill="#21908c"/><rect x="441.2" width="32.1" height="25.6" fill="#26828e"/><rect x="475.5" width="32.1" height="25.6" fill="#238b8d"/><rect x="509.7" width="32.1" height="25.6" fill="#26828e"/><rect x="544.0" width="32.1" height="25.6" fill="#24878d"/><rect x="578.2" width="32.1" height="25.6" fill="#9ad93d"/><rect x="612.4" width="32.1" height="25.6" fill="#3aba76"/><rect x="646.7" width="32.1" height="25.6" fill="#287d8e"/><rect x="680.9" width="32.1" height="25.6" fill="#24878d"/><rect x="715.1" width="32.1" height="25.6" fill="#2a788e"/><rect x="749.4" width="32.1" height="25.6" fill="#26828e"/><rect x="783.6" width="32.1" height="25.6" fill="#2a788e"/><rect x="817.8" width="32.1" height="25.6" fill="#2a788e"/><rect x="852.1" width="32.1" height="25.6" fill="#24878d"/><rect x="886.3" width="32.1" height="25.6" fill="#2c738e"/><rect x="920.5" width="32.1" height="25.6" fill="#1f958b"/><rect x="954.8" width="32.1" height="25.6" fill="#21908c"/><rect x="989.0" width="32.1" height="25.6" fill="#2c738e"/><rect x="1023.2" width="32.1" height="25.6" fill="#1f958b"/><rect x="1057.5" width="32.1" height="25.6" fill="#209e88"/><rect x="1091.7" width="32.1" height="25.6" fill="#68cc5c"/><rect x="1126.0" width="32.1" height="25.6" fill="#26828e"/><rect x="1160.2" width="32.1" height="25.6" fill="#2c738e"/><rect x="1194.4" width="32.1" height="25.6" fill="#2c738e"/><rect x="1228.7" width="32.1" height="25.6" fill="#26828e"/><rect x="1262.9" width="32.1" height="25.6" fill="#287d8e"/><rect x="1297.1" width="32.1" height="25.6" fill="#2a788e"/><rect x="1331.4" width="32.1" height="25.6" fill="#2a788e"/><rect x="1365.6" width="32.1" height="25.6" fill="#24878d"/><rect x="1399.8" width="32.1" height="25.6" fill="#26828e"/></g>
<g transform="translate(0 675.2)"><rect x="98.9" width="32.1" height="25.6" fill="#7ad251"/><rect x="133.1" width="32.1" height="25.6" fill="#43be71"/><rect x="167.4" width="32.1" height="25.6" fill="#20a387"/><rect x="201.6" width="32.1" height="25.6" fill="#27ac81"/><rect x="235.8" width="32.1" height="25.6" fill="#fde725"/><rect x="270.1" width="32.1" height="25.6" fill="#4dc26b"/><rect x="304.3" width="32.1" height="25.6" fill="#fde725"/><rect x="338.5" width="32.1" height="25.6" fill="#fde725"/><rect x="372.8" width="32.1" height="25.6" fill="#209e88"/><rect x="407.0" width="32.1" height="25.6" fill="#fde725"/><rect x="441.2" width="32.1" height="25.6" fill="#c9e021"/><rect x="475.5" width="32.1" height="25.6" fill="#7ad251"/><rect x="509.7" width="32.1" height="25.6" fill="#1f998a"/><rect x="544.0" width="32.1" height="25.6" fill="#24a884"/><rect x="578.2" width="32.1" height="25.6" fill="#fde725"/><rect x="612.4" width="32.1" height="25.6" fill="#30b37c"/><rect x="646.7" width="32.1" height="25.6" fill="#fde725"/><rect x="680.9" width="32.1" height="25.6" fill="#f0e520"/><rect x="715.1" width="32.1" height="25.6" fill="#43be71"/><rect x="749.4" width="32.1" height="25.6" fill="#30b37c"/><rect x="783.6" width="32.1" height="25.6" fill="#68cc5c"/><rect x="817.8" width="32.1" height="25.6" fill="#52c569"/><rect x="852.1" width="32.1" height="25.6" fill="#209e88"/><rect x="886.3" width="32.1" height="25.6" fill="#209e88"/><rect x="920.5" width="32.1" height="25.6" fill="#fde725"/><rect x="954.8" width="32.1" height="25.6" fill="#aedc2f"/><rect x="989.0" width="32.1" height="25.6" fill="#2cb17d"/><rect x="1023.2" width="32.1" height="25.6" fill="#4dc26b"/><rect x="1057.5" width="32.1" height="25.6" fill="#aedc2f"/><rect x="1091.7" width="32.1" height="25.6" fill="#fde725"/><rect x="1126.0" width="32.1" height="25.6" fill="#62ca5f"/><rect x="1160.2" width="32.1" height="25.6" fill="#3aba76"/><rect x="1194.4" width="32.1" height="25.6" fill="#37b878"/><rect x="1228.7" width="32.1" height="25.6" fill="#fde725"/><rect x="1262.9" width="32.1" height="25.6" fill="#aedc2f"/><rect x="1297.1" width="32.1" height="25.6" fill="#24a884"/><rect x="1331.4" width="32.1" height="25.6" fill="#21908c"/><rect x="1365.6" width="32.1" height="25.6" fill="#87d549"/><rect x="1399.8" width="32.1" height="25.6" fill="#43be71"/></g>
<g transform="translate(0 703.1)"><rect x="98.9" width="32.1" height="25.6" fill="#8dd645"/><rect x="133.1" width="32.1" height="25.6" fill="#7ad251"/><rect x="167.4" width="32.1" height="25.6" fill="#43be71"/><rect x="201.6" width="32.1" height="25.6" fill="#3aba76"/><rect x="235.8" width="32.1" height="25.6" fill="#fde725"/><rect x="270.1" width="32.1" height="25.6" fill="#94d841"/><rect x="304.3" width="32.1" height="25.6" fill="#aedc2f"/><rect x="338.5" width="32.1" height="25.6" fill="#94d841"/><rect x="372.8" width="32.1" height="25.6" fill="#68cc5c"/><rect x="407.0" width="32.1" height="25.6" fill="#fde725"/><rect x="441.2" width="32.1" height="25.6" fill="#87d549"/><rect x="475.5" width="32.1" height="25.6" fill="#6ece58"/><rect x="509.7" width="32.1" height="25.6" fill="#33b57a"/><rect x="544.0" width="32.1" height="25.6" fill="#43be71"/><rect x="578.2" width="32.1" height="25.6" fill="#e4e41c"/><rect x="612.4" width="32.1" height="25.6" fill="#7ad251"/><rect x="646.7" width="32.1" height="25.6" fill="#fde725"/><rect x="680.9" width="32.1" height="25.6" fill="#d0e11e"/><rect x="715.1" width="32.1" height="25.6" fill="#4dc26b"/><rect x="749.4" width="32.1" height="25.6" fill="#7ad251"/><rect x="783.6" width="32.1" height="25.6" fill="#7ad251"/><rect x="817.8" width="32.1" height="25.6" fill="#62ca5f"/><rect x="852.1" width="32.1" height="25.6" fill="#20a387"/><rect x="886.3" width="32.1" height="25.6" fill="#29af7f"/><rect x="920.5" width="32.1" height="25.6" fill="#c9e021"/><rect x="954.8" width="32.1" height="25.6" fill="#c9e021"/><rect x="989.0" width="32.1" height="25.6" fill="#33b57a"/><rect x="1023.2" width="32.1" height="25.6" fill="#57c766"/><rect x="1057.5" width="32.1" height="25.6" fill="#94d841"/><rect x="1091.7" width="32.1" height="25.6" fill="#fde725"/><rect x="1126.0" width="32.1" height="25.6" fill="#7ad251"/><rect x="1160.2" width="32.1" height="25.6" fill="#3aba76"/><rect x="1194.4" width="32.1" height="25.6" fill="#57c766"/><rect x="1228.7" width="32.1" height="25.6" fill="#fde725"/><rect x="1262.9" width="32.1" height="25.6" fill="#94d841"/><rect x="1297.1" width="32.1" height="25.6" fill="#29af7f"/><rect x="1331.4" width="32.1" height="25.6" fill="#30b37c"/><rect x="1365.6" width="32.1" height="25.6" fill="#87d549"/><rect x="1399.8" width="32.1" height="25.6" fill="#4dc26b"/></g>
<g transform="translate(0 742.5)"><rect x="98.9" width="32.1" height="25.6" fill="#30698d"/><rect x="133.1" width="32.1" height="25.6" fill="#3c4f8a"/><rect x="167.4" width="32.1" height="25.6" fill="#472e7c"/><rect x="201.6" width="32.1" height="25.6" fill="#453881"/><rect x="235.8" width="32.1" height="25.6" fill="#433e84"/><rect x="270.1" width="32.1" height="25.6" fill="#414487"/><rect x="304.3" width="32.1" height="25.6" fill="#46317e"/><rect x="338.5" width="32.1" height="25.6" fill="#453881"/><rect x="372.8" width="32.1" height="25.6" fill="#472b7a"/><rect x="407.0" width="32.1" height="25.6" fill="#472e7c"/><rect x="441.2" width="32.1" height="25.6" fill="#24878d"/><rect x="475.5" width="32.1" height="25.6" fill="#2a788e"/><rect x="509.7" width="32.1" height="25.6" fill="#3f4a89"/><rect x="544.0" width="32.1" height="25.6" fill="#433e84"/><rect x="578.2" width="32.1" height="25.6" fill="#355f8d"/><rect x="612.4" width="32.1" height="25.6" fill="#39558c"/><rect x="646.7" width="32.1" height="25.6" fill="#433e84"/><rect x="680.9" width="32.1" height="25.6" fill="#3f4a89"/><rect x="715.1" width="32.1" height="25.6" fill="#414487"/><rect x="749.4" width="32.1" height="25.6" fill="#414487"/><rect x="783.6" width="32.1" height="25.6" fill="#414487"/><rect x="817.8" width="32.1" height="25.6" fill="#472e7c"/><rect x="852.1" width="32.1" height="25.6" fill="#3d4d89"/><rect x="886.3" width="32.1" height="25.6" fill="#414487"/><rect x="920.5" width="32.1" height="25.6" fill="#414487"/><rect x="954.8" width="32.1" height="25.6" fill="#472e7c"/><rect x="989.0" width="32.1" height="25.6" fill="#375a8c"/><rect x="1023.2" width="32.1" height="25.6" fill="#30698d"/><rect x="1057.5" width="32.1" height="25.6" fill="#414487"/><rect x="1091.7" width="32.1" height="25.6" fill="#26828e"/><rect x="1126.0" width="32.1" height="25.6" fill="#3f4a89"/><rect x="1160.2" width="32.1" height="25.6" fill="#375a8c"/><rect x="1194.4" width="32.1" height="25.6" fill="#2c738e"/><rect x="1228.7" width="32.1" height="25.6" fill="#375a8c"/><rect x="1262.9" width="32.1" height="25.6" fill="#39558c"/><rect x="1297.1" width="32.1" height="25.6" fill="#472b7a"/><rect x="1331.4" width="32.1" height="25.6" fill="#453881"/><rect x="1365.6" width="32.1" height="25.6" fill="#453881"/><rect x="1399.8" width="32.1" height="25.6" fill="#414487"/></g>
<g transform="translate(0 770.4)"><rect x="98.9" width="32.1" height="25.6" fill="#39558c"/><rect x="133.1" width="32.1" height="25.6" fill="#3c4f8a"/><rect x="167.4" width="32.1" height="25.6" fill="#414487"/><rect x="201.6" width="32.1" height="25.6" fill="#414487"/><rect x="235.8" width="32.1" height="25.6" fill="#414487"/><rect x="270.1" width="32.1" height="25.6" fill="#414487"/><rect x="304.3" width="32.1" height="25.6" fill="#433e84"/><rect x="338.5" width="32.1" height="25.6" fill="#433e84"/><rect x="372.8" width="32.1" height="25.6" fill="#3f4a89"/><rect x="407.0" width="32.1" height="25.6" fill="#3f4a89"/><rect x="441.2" width="32.1" height="25.6" fill="#33648d"/><rect x="475.5" width="32.1" height="25.6" fill="#375a8c"/><rect x="509.7" width="32.1" height="25.6" fill="#3f4a89"/><rect x="544.0" width="32.1" height="25.6" fill="#414487"/><rect x="578.2" width="32.1" height="25.6" fill="#39558c"/><rect x="612.4" width="32.1" height="25.6" fill="#39558c"/><rect x="646.7" width="32.1" height="25.6" fill="#414487"/><rect x="680.9" width="32.1" height="25.6" fill="#3f4a89"/><rect x="715.1" width="32.1" height="25.6" fill="#3f4a89"/><rect x="749.4" width="32.1" height="25.6" fill="#3f4a89"/><rect x="783.6" width="32.1" height="25.6" fill="#414487"/><rect x="817.8" width="32.1" height="25.6" fill="#433e84"/><rect x="852.1" width="32.1" height="25.6" fill="#3d4d89"/><rect x="886.3" width="32.1" height="25.6" fill="#3d4d89"/><rect x="920.5" width="32.1" height="25.6" fill="#414487"/><rect x="954.8" width="32.1" height="25.6" fill="#433e84"/><rect x="989.0" width="32.1" height="25.6" fill="#3c4f8a"/><rect x="1023.2" width="32.1" height="25.6" fill="#355f8d"/><rect x="1057.5" width="32.1" height="25.6" fill="#3d4d89"/><rect x="1091.7" width="32.1" height="25.6" fill="#33648d"/><rect x="1126.0" width="32.1" height="25.6" fill="#3f4a89"/><rect x="1160.2" width="32.1" height="25.6" fill="#39558c"/><rect x="1194.4" width="32.1" height="25.6" fill="#33648d"/><rect x="1228.7" width="32.1" height="25.6" fill="#424185"/><rect x="1262.9" width="32.1" height="25.6" fill="#424185"/><rect x="1297.1" width="32.1" height="25.6" fill="#443b83"/><rect x="1331.4" width="32.1" height="25.6" fill="#443b83"/><rect x="1365.6" width="32.1" height="25.6" fill="#443b83"/><rect x="1399.8" width="32.1" height="25.6" fill="#424185"/></g>
<g transform="translate(0 809.8)"><rect x="98.9" width="32.1" height="25.6" fill="#482172"/><rect x="133.1" width="32.1" height="25.6" fill="#481e6f"/><rect x="167.4" width="32.1" height="25.6" fill="#481b6c"/><rect x="201.6" width="32.1" height="25.6" fill="#471062"/><rect x="235.8" width="32.1" height="25.6" fill="#460c5f"/><rect x="270.1" width="32.1" height="25.6" fill="#460c5f"/><rect x="304.3" width="32.1" height="25.6" fill="#481769"/><rect x="338.5" width="32.1" height="25.6" fill="#481466"/><rect x="372.8" width="32.1" height="25.6" fill="#460c5f"/><rect x="407.0" width="32.1" height="25.6" fill="#460c5f"/><rect x="441.2" width="32.1" height="25.6" fill="#482475"/><rect x="475.5" width="32.1" height="25.6" fill="#482475"/><rect x="509.7" width="32.1" height="25.6" fill="#472b7a"/><rect x="544.0" width="32.1" height="25.6" fill="#482475"/><rect x="578.2" width="32.1" height="25.6" fill="#481e6f"/><rect x="612.4" width="32.1" height="25.6" fill="#481b6c"/><rect x="646.7" width="32.1" height="25.6" fill="#481769"/><rect x="680.9" width="32.1" height="25.6" fill="#482172"/><rect x="715.1" width="32.1" height="25.6" fill="#46317e"/><rect x="749.4" width="32.1" height="25.6" fill="#482475"/><rect x="783.6" width="32.1" height="25.6" fill="#46317e"/><rect x="817.8" width="32.1" height="25.6" fill="#46317e"/><rect x="852.1" width="32.1" height="25.6" fill="#453881"/><rect x="886.3" width="32.1" height="25.6" fill="#433e84"/><rect x="920.5" width="32.1" height="25.6" fill="#3c4f8a"/><rect x="954.8" width="32.1" height="25.6" fill="#481769"/><rect x="989.0" width="32.1" height="25.6" fill="#472e7c"/><rect x="1023.2" width="32.1" height="25.6" fill="#472e7c"/><rect x="1057.5" width="32.1" height="25.6" fill="#453881"/><rect x="1091.7" width="32.1" height="25.6" fill="#424185"/><rect x="1126.0" width="32.1" height="25.6" fill="#472e7c"/><rect x="1160.2" width="32.1" height="25.6" fill="#46317e"/><rect x="1194.4" width="32.1" height="25.6" fill="#482878"/><rect x="1228.7" width="32.1" height="25.6" fill="#3d4d89"/><rect x="1262.9" width="32.1" height="25.6" fill="#375a8c"/><rect x="1297.1" width="32.1" height="25.6" fill="#46317e"/><rect x="1331.4" width="32.1" height="25.6" fill="#482475"/><rect x="1365.6" width="32.1" height="25.6" fill="#482475"/><rect x="1399.8" width="32.1" height="25.6" fill="#443b83"/></g>
<g transform="translate(0 837.7)"><rect x="98.9" width="32.1" height="25.6" fill="#482475"/><rect x="133.1" width="32.1" height="25.6" fill="#482172"/><rect x="167.4" width="32.1" height="25.6" fill="#472b7a"/><rect x="201.6" width="32.1" height="25.6" fill="#482172"/><rect x="235.8" width="32.1" height="25.6" fill="#482172"/><rect x="270.1" width="32.1" height="25.6" fill="#482172"/><rect x="304.3" width="32.1" height="25.6" fill="#482172"/><rect x="338.5" width="32.1" height="25.6" fill="#472b7a"/><rect x="372.8" width="32.1" height="25.6" fill="#482475"/><rect x="407.0" width="32.1" height="25.6" fill="#482475"/><rect x="441.2" width="32.1" height="25.6" fill="#472b7a"/><rect x="475.5" width="32.1" height="25.6" fill="#482172"/><rect x="509.7" width="32.1" height="25.6" fill="#481e6f"/><rect x="544.0" width="32.1" height="25.6" fill="#481e6f"/><rect x="578.2" width="32.1" height="25.6" fill="#472b7a"/><rect x="612.4" width="32.1" height="25.6" fill="#472b7a"/><rect x="646.7" width="32.1" height="25.6" fill="#482172"/><rect x="680.9" width="32.1" height="25.6" fill="#482172"/><rect x="715.1" width="32.1" height="25.6" fill="#482172"/><rect x="749.4" width="32.1" height="25.6" fill="#481e6f"/><rect x="783.6" width="32.1" height="25.6" fill="#472b7a"/><rect x="817.8" width="32.1" height="25.6" fill="#472b7a"/><rect x="852.1" width="32.1" height="25.6" fill="#443b83"/><rect x="886.3" width="32.1" height="25.6" fill="#414487"/><rect x="920.5" width="32.1" height="25.6" fill="#472e7c"/><rect x="954.8" width="32.1" height="25.6" fill="#482475"/><rect x="989.0" width="32.1" height="25.6" fill="#482475"/><rect x="1023.2" width="32.1" height="25.6" fill="#482475"/><rect x="1057.5" width="32.1" height="25.6" fill="#482878"/><rect x="1091.7" width="32.1" height="25.6" fill="#472b7a"/><rect x="1126.0" width="32.1" height="25.6" fill="#472b7a"/><rect x="1160.2" width="32.1" height="25.6" fill="#472b7a"/><rect x="1194.4" width="32.1" height="25.6" fill="#472b7a"/><rect x="1228.7" width="32.1" height="25.6" fill="#472b7a"/><rect x="1262.9" width="32.1" height="25.6" fill="#472b7a"/><rect x="1297.1" width="32.1" height="25.6" fill="#472b7a"/><rect x="1331.4" width="32.1" height="25.6" fill="#482475"/><rect x="1365.6" width="32.1" height="25.6" fill="#482475"/><rect x="1399.8" width="32.1" height="25.6" fill="#482878"/></g>
<g transform="translate(0 877.2)"><rect x="98.9" width="32.1" height="25.6" fill="#2cb17d"/><rect x="133.1" width="32.1" height="25.6" fill="#2a788e"/><rect x="167.4" width="32.1" height="25.6" fill="#287d8e"/><rect x="201.6" width="32.1" height="25.6" fill="#1f958b"/><rect x="235.8" width="32.1" height="25.6" fill="#24a884"/><rect x="270.1" width="32.1" height="25.6" fill="#21908c"/><rect x="304.3" width="32.1" height="25.6" fill="#57c766"/><rect x="338.5" width="32.1" height="25.6" fill="#fde725"/><rect x="372.8" width="32.1" height="25.6" fill="#21908c"/><rect x="407.0" width="32.1" height="25.6" fill="#27ac81"/><rect x="441.2" width="32.1" height="25.6" fill="#29af7f"/><rect x="475.5" width="32.1" height="25.6" fill="#6ece58"/><rect x="509.7" width="32.1" height="25.6" fill="#5cc862"/><rect x="544.0" width="32.1" height="25.6" fill="#21908c"/><rect x="578.2" width="32.1" height="25.6" fill="#94d841"/><rect x="612.4" width="32.1" height="25.6" fill="#20a387"/><rect x="646.7" width="32.1" height="25.6" fill="#30b37c"/><rect x="680.9" width="32.1" height="25.6" fill="#3aba76"/><rect x="715.1" width="32.1" height="25.6" fill="#1f958b"/><rect x="749.4" width="32.1" height="25.6" fill="#21908c"/><rect x="783.6" width="32.1" height="25.6" fill="#24a884"/><rect x="817.8" width="32.1" height="25.6" fill="#21908c"/><rect x="852.1" width="32.1" height="25.6" fill="#209e88"/><rect x="886.3" width="32.1" height="25.6" fill="#1f978b"/><rect x="920.5" width="32.1" height="25.6" fill="#fde725"/><rect x="954.8" width="32.1" height="25.6" fill="#21908c"/><rect x="989.0" width="32.1" height="25.6" fill="#3aba76"/><rect x="1023.2" width="32.1" height="25.6" fill="#33b57a"/><rect x="1057.5" width="32.1" height="25.6" fill="#fde725"/><rect x="1091.7" width="32.1" height="25.6" fill="#fde725"/><rect x="1126.0" width="32.1" height="25.6" fill="#fde725"/><rect x="1160.2" width="32.1" height="25.6" fill="#29af7f"/><rect x="1194.4" width="32.1" height="25.6" fill="#8dd645"/><rect x="1228.7" width="32.1" height="25.6" fill="#57c766"/><rect x="1262.9" width="32.1" height="25.6" fill="#24a884"/><rect x="1297.1" width="32.1" height="25.6" fill="#355f8d"/><rect x="1331.4" width="32.1" height="25.6" fill="#30698d"/><rect x="1365.6" width="32.1" height="25.6" fill="#287d8e"/><rect x="1399.8" width="32.1" height="25.6" fill="#fde725"/></g>
<g transform="translate(0 905.1)"><rect x="98.9" width="32.1" height="25.6" fill="#33b57a"/><rect x="133.1" width="32.1" height="25.6" fill="#1f958b"/><rect x="167.4" width="32.1" height="25.6" fill="#238b8d"/><rect x="201.6" width="32.1" height="25.6" fill="#21908c"/><rect x="235.8" width="32.1" height="25.6" fill="#24a884"/><rect x="270.1" width="32.1" height="25.6" fill="#209e88"/><rect x="304.3" width="32.1" height="25.6" fill="#33b57a"/><rect x="338.5" width="32.1" height="25.6" fill="#aedc2f"/><rect x="372.8" width="32.1" height="25.6" fill="#21908c"/><rect x="407.0" width="32.1" height="25.6" fill="#24a884"/><rect x="441.2" width="32.1" height="25.6" fill="#24a884"/><rect x="475.5" width="32.1" height="25.6" fill="#30b37c"/><rect x="509.7" width="32.1" height="25.6" fill="#2cb17d"/><rect x="544.0" width="32.1" height="25.6" fill="#24a884"/><rect x="578.2" width="32.1" height="25.6" fill="#29af7f"/><rect x="612.4" width="32.1" height="25.6" fill="#2cb17d"/><rect x="646.7" width="32.1" height="25.6" fill="#30b37c"/><rect x="680.9" width="32.1" height="25.6" fill="#3aba76"/><rect x="715.1" width="32.1" height="25.6" fill="#209e88"/><rect x="749.4" width="32.1" height="25.6" fill="#1f998a"/><rect x="783.6" width="32.1" height="25.6" fill="#27ac81"/><rect x="817.8" width="32.1" height="25.6" fill="#209e88"/><rect x="852.1" width="32.1" height="25.6" fill="#20a387"/><rect x="886.3" width="32.1" height="25.6" fill="#209e88"/><rect x="920.5" width="32.1" height="25.6" fill="#9ad93d"/><rect x="954.8" width="32.1" height="25.6" fill="#24a884"/><rect x="989.0" width="32.1" height="25.6" fill="#33b57a"/><rect x="1023.2" width="32.1" height="25.6" fill="#2cb17d"/><rect x="1057.5" width="32.1" height="25.6" fill="#a1da38"/><rect x="1091.7" width="32.1" height="25.6" fill="#fde725"/><rect x="1126.0" width="32.1" height="25.6" fill="#fde725"/><rect x="1160.2" width="32.1" height="25.6" fill="#27ac81"/><rect x="1194.4" width="32.1" height="25.6" fill="#6ece58"/><rect x="1228.7" width="32.1" height="25.6" fill="#62ca5f"/><rect x="1262.9" width="32.1" height="25.6" fill="#27ac81"/><rect x="1297.1" width="32.1" height="25.6" fill="#2a788e"/><rect x="1331.4" width="32.1" height="25.6" fill="#238b8d"/><rect x="1365.6" width="32.1" height="25.6" fill="#24878d"/><rect x="1399.8" width="32.1" height="25.6" fill="#fde725"/></g>
<g transform="translate(0 944.5)"><rect x="98.9" width="32.1" height="25.6" fill="#33b57a"/><rect x="133.1" width="32.1" height="25.6" fill="#209e88"/><rect x="167.4" width="32.1" height="25.6" fill="#26828e"/><rect x="201.6" width="32.1" height="25.6" fill="#2c738e"/><rect x="235.8" width="32.1" height="25.6" fill="#aedc2f"/><rect x="270.1" width="32.1" height="25.6" fill="#2c738e"/><rect x="304.3" width="32.1" height="25.6" fill="#20a387"/><rect x="338.5" width="32.1" height="25.6" fill="#27ac81"/><rect x="372.8" width="32.1" height="25.6" fill="#355f8d"/><rect x="407.0" width="32.1" height="25.6" fill="#2e6e8e"/><rect x="441.2" width="32.1" height="25.6" fill="#94d841"/><rect x="475.5" width="32.1" height="25.6" fill="#fde725"/><rect x="509.7" width="32.1" height="25.6" fill="#375a8c"/><rect x="544.0" width="32.1" height="25.6" fill="#2c738e"/><rect x="578.2" width="32.1" height="25.6" fill="#a1da38"/><rect x="612.4" width="32.1" height="25.6" fill="#238b8d"/><rect x="646.7" width="32.1" height="25.6" fill="#fde725"/><rect x="680.9" width="32.1" height="25.6" fill="#7ad251"/><rect x="715.1" width="32.1" height="25.6" fill="#20a387"/><rect x="749.4" width="32.1" height="25.6" fill="#26828e"/><rect x="783.6" width="32.1" height="25.6" fill="#2c738e"/><rect x="817.8" width="32.1" height="25.6" fill="#31678d"/><rect x="852.1" width="32.1" height="25.6" fill="#1f998a"/><rect x="886.3" width="32.1" height="25.6" fill="#3aba76"/><rect x="920.5" width="32.1" height="25.6" fill="#43be71"/><rect x="954.8" width="32.1" height="25.6" fill="#68cc5c"/><rect x="989.0" width="32.1" height="25.6" fill="#20a387"/><rect x="1023.2" width="32.1" height="25.6" fill="#2a788e"/><rect x="1057.5" width="32.1" height="25.6" fill="#2e6e8e"/><rect x="1091.7" width="32.1" height="25.6" fill="#fde725"/><rect x="1126.0" width="32.1" height="25.6" fill="#1f998a"/><rect x="1160.2" width="32.1" height="25.6" fill="#7ad251"/><rect x="1194.4" width="32.1" height="25.6" fill="#fde725"/><rect x="1228.7" width="32.1" height="25.6" fill="#43be71"/><rect x="1262.9" width="32.1" height="25.6" fill="#26828e"/><rect x="1297.1" width="32.1" height="25.6" fill="#375a8c"/><rect x="1331.4" width="32.1" height="25.6" fill="#38588c"/><rect x="1365.6" width="32.1" height="25.6" fill="#3aba76"/><rect x="1399.8" width="32.1" height="25.6" fill="#aedc2f"/></g>
<g transform="translate(0 972.4)"><rect x="98.9" width="32.1" height="25.6" fill="#2cb17d"/><rect x="133.1" width="32.1" height="25.6" fill="#2cb17d"/><rect x="167.4" width="32.1" height="25.6" fill="#21908c"/><rect x="201.6" width="32.1" height="25.6" fill="#238b8d"/><rect x="235.8" width="32.1" height="25.6" fill="#43be71"/><rect x="270.1" width="32.1" height="25.6" fill="#1f998a"/><rect x="304.3" width="32.1" height="25.6" fill="#1f998a"/><rect x="338.5" width="32.1" height="25.6" fill="#20a387"/><rect x="372.8" width="32.1" height="25.6" fill="#26828e"/><rect x="407.0" width="32.1" height="25.6" fill="#24878d"/><rect x="441.2" width="32.1" height="25.6" fill="#68cc5c"/><rect x="475.5" width="32.1" height="25.6" fill="#6ece58"/><rect x="509.7" width="32.1" height="25.6" fill="#1f998a"/><rect x="544.0" width="32.1" height="25.6" fill="#1f958b"/><rect x="578.2" width="32.1" height="25.6" fill="#5cc862"/><rect x="612.4" width="32.1" height="25.6" fill="#29af7f"/><rect x="646.7" width="32.1" height="25.6" fill="#c9e021"/><rect x="680.9" width="32.1" height="25.6" fill="#68cc5c"/><rect x="715.1" width="32.1" height="25.6" fill="#209e88"/><rect x="749.4" width="32.1" height="25.6" fill="#209e88"/><rect x="783.6" width="32.1" height="25.6" fill="#1f998a"/><rect x="817.8" width="32.1" height="25.6" fill="#24878d"/><rect x="852.1" width="32.1" height="25.6" fill="#209e88"/><rect x="886.3" width="32.1" height="25.6" fill="#3aba76"/><rect x="920.5" width="32.1" height="25.6" fill="#33b57a"/><rect x="954.8" width="32.1" height="25.6" fill="#33b57a"/><rect x="989.0" width="32.1" height="25.6" fill="#20a387"/><rect x="1023.2" width="32.1" height="25.6" fill="#21908c"/><rect x="1057.5" width="32.1" height="25.6" fill="#21908c"/><rect x="1091.7" width="32.1" height="25.6" fill="#fde725"/><rect x="1126.0" width="32.1" height="25.6" fill="#27ac81"/><rect x="1160.2" width="32.1" height="25.6" fill="#37b878"/><rect x="1194.4" width="32.1" height="25.6" fill="#fde725"/><rect x="1228.7" width="32.1" height="25.6" fill="#2cb17d"/><rect x="1262.9" width="32.1" height="25.6" fill="#20a387"/><rect x="1297.1" width="32.1" height="25.6" fill="#1f998a"/><rect x="1331.4" width="32.1" height="25.6" fill="#1f958b"/><rect x="1365.6" width="32.1" height="25.6" fill="#30b37c"/><rect x="1399.8" width="32.1" height="25.6" fill="#62ca5f"/></g>
<g transform="translate(0 1011.8)"><rect x="98.9" width="32.1" height="25.6" fill="#482475"/><rect x="133.1" width="32.1" height="25.6" fill="#460c5f"/><rect x="167.4" width="32.1" height="25.6" fill="#481b6c"/><rect x="201.6" width="32.1" height="25.6" fill="#460c5f"/><rect x="235.8" width="32.1" height="25.6" fill="#482475"/><rect x="270.1" width="32.1" height="25.6" fill="#481466"/><rect x="304.3" width="32.1" height="25.6" fill="#460c5f"/><rect x="338.5" width="32.1" height="25.6" fill="#460c5f"/><rect x="372.8" width="32.1" height="25.6" fill="#460c5f"/><rect x="407.0" width="32.1" height="25.6" fill="#481b6c"/><rect x="441.2" width="32.1" height="25.6" fill="#460c5f"/><rect x="475.5" width="32.1" height="25.6" fill="#472b7a"/><rect x="509.7" width="32.1" height="25.6" fill="#481e6f"/><rect x="544.0" width="32.1" height="25.6" fill="#481466"/><rect x="578.2" width="32.1" height="25.6" fill="#39558c"/><rect x="612.4" width="32.1" height="25.6" fill="#460c5f"/><rect x="646.7" width="32.1" height="25.6" fill="#460c5f"/><rect x="680.9" width="32.1" height="25.6" fill="#460c5f"/><rect x="715.1" width="32.1" height="25.6" fill="#481466"/><rect x="749.4" width="32.1" height="25.6" fill="#472b7a"/><rect x="783.6" width="32.1" height="25.6" fill="#481b6c"/><rect x="817.8" width="32.1" height="25.6" fill="#481769"/><rect x="852.1" width="32.1" height="25.6" fill="#460c5f"/><rect x="886.3" width="32.1" height="25.6" fill="#460c5f"/><rect x="920.5" width="32.1" height="25.6" fill="#3f4a89"/><rect x="954.8" width="32.1" height="25.6" fill="#3f4a89"/><rect x="989.0" width="32.1" height="25.6" fill="#460c5f"/><rect x="1023.2" width="32.1" height="25.6" fill="#471062"/><rect x="1057.5" width="32.1" height="25.6" fill="#3b528b"/><rect x="1091.7" width="32.1" height="25.6" fill="#481b6c"/><rect x="1126.0" width="32.1" height="25.6" fill="#481466"/><rect x="1160.2" width="32.1" height="25.6" fill="#2c738e"/><rect x="1194.4" width="32.1" height="25.6" fill="#3d4d89"/><rect x="1228.7" width="32.1" height="25.6" fill="#481b6c"/><rect x="1262.9" width="32.1" height="25.6" fill="#471062"/><rect x="1297.1" width="32.1" height="25.6" fill="#460c5f"/><rect x="1331.4" width="32.1" height="25.6" fill="#460c5f"/><rect x="1365.6" width="32.1" height="25.6" fill="#481e6f"/><rect x="1399.8" width="32.1" height="25.6" fill="#471062"/></g>
<g transform="translate(0 1039.7)"><rect x="98.9" width="32.1" height="25.6" fill="#481b6c"/><rect x="133.1" width="32.1" height="25.6" fill="#481769"/><rect x="167.4" width="32.1" height="25.6" fill="#481b6c"/><rect x="201.6" width="32.1" height="25.6" fill="#481769"/><rect x="235.8" width="32.1" height="25.6" fill="#481b6c"/><rect x="270.1" width="32.1" height="25.6" fill="#482172"/><rect x="304.3" width="32.1" height="25.6" fill="#481b6c"/><rect x="338.5" width="32.1" height="25.6" fill="#481466"/><rect x="372.8" width="32.1" height="25.6" fill="#481769"/><rect x="407.0" width="32.1" height="25.6" fill="#481b6c"/><rect x="441.2" width="32.1" height="25.6" fill="#481b6c"/><rect x="475.5" width="32.1" height="25.6" fill="#481e6f"/><rect x="509.7" width="32.1" height="25.6" fill="#472e7c"/><rect x="544.0" width="32.1" height="25.6" fill="#482475"/><rect x="578.2" width="32.1" height="25.6" fill="#472e7c"/><rect x="612.4" width="32.1" height="25.6" fill="#481b6c"/><rect x="646.7" width="32.1" height="25.6" fill="#481b6c"/><rect x="680.9" width="32.1" height="25.6" fill="#481b6c"/><rect x="715.1" width="32.1" height="25.6" fill="#481b6c"/><rect x="749.4" width="32.1" height="25.6" fill="#482475"/><rect x="783.6" width="32.1" height="25.6" fill="#482172"/><rect x="817.8" width="32.1" height="25.6" fill="#482172"/><rect x="852.1" width="32.1" height="25.6" fill="#481e6f"/><rect x="886.3" width="32.1" height="25.6" fill="#481e6f"/><rect x="920.5" width="32.1" height="25.6" fill="#482475"/><rect x="954.8" width="32.1" height="25.6" fill="#481b6c"/><rect x="989.0" width="32.1" height="25.6" fill="#481b6c"/><rect x="1023.2" width="32.1" height="25.6" fill="#481769"/><rect x="1057.5" width="32.1" height="25.6" fill="#472e7c"/><rect x="1091.7" width="32.1" height="25.6" fill="#482172"/><rect x="1126.0" width="32.1" height="25.6" fill="#481e6f"/><rect x="1160.2" width="32.1" height="25.6" fill="#46317e"/><rect x="1194.4" width="32.1" height="25.6" fill="#481769"/><rect x="1228.7" width="32.1" height="25.6" fill="#481e6f"/><rect x="1262.9" width="32.1" height="25.6" fill="#481e6f"/><rect x="1297.1" width="32.1" height="25.6" fill="#481e6f"/><rect x="1331.4" width="32.1" height="25.6" fill="#481b6c"/><rect x="1365.6" width="32.1" height="25.6" fill="#481e6f"/><rect x="1399.8" width="32.1" height="25.6" fill="#481e6f"/></g>
<g transform="translate(0 1079.1)"><rect x="98.9" width="32.1" height="25.6" fill="#238b8d"/><rect x="133.1" width="32.1" height="25.6" fill="#62ca5f"/><rect x="167.4" width="32.1" height="25.6" fill="#31678d"/><rect x="201.6" width="32.1" height="25.6" fill="#2e6e8e"/><rect x="235.8" width="32.1" height="25.6" fill="#20a387"/><rect x="270.1" width="32.1" height="25.6" fill="#1f958b"/><rect x="304.3" width="32.1" height="25.6" fill="#2a788e"/><rect x="338.5" width="32.1" height="25.6" fill="#2a788e"/><rect x="372.8" width="32.1" height="25.6" fill="#30698d"/><rect x="407.0" width="32.1" height="25.6" fill="#3aba76"/><rect x="441.2" width="32.1" height="25.6" fill="#1f958b"/><rect x="475.5" width="32.1" height="25.6" fill="#fde725"/><rect x="509.7" width="32.1" height="25.6" fill="#238b8d"/><rect x="544.0" width="32.1" height="25.6" fill="#27ac81"/><rect x="578.2" width="32.1" height="25.6" fill="#24878d"/><rect x="612.4" width="32.1" height="25.6" fill="#238b8d"/><rect x="646.7" width="32.1" height="25.6" fill="#fde725"/><rect x="680.9" width="32.1" height="25.6" fill="#9ad93d"/><rect x="715.1" width="32.1" height="25.6" fill="#20a387"/><rect x="749.4" width="32.1" height="25.6" fill="#3aba76"/><rect x="783.6" width="32.1" height="25.6" fill="#33b57a"/><rect x="817.8" width="32.1" height="25.6" fill="#7ad251"/><rect x="852.1" width="32.1" height="25.6" fill="#24878d"/><rect x="886.3" width="32.1" height="25.6" fill="#24878d"/><rect x="920.5" width="32.1" height="25.6" fill="#21908c"/><rect x="954.8" width="32.1" height="25.6" fill="#2e6e8e"/><rect x="989.0" width="32.1" height="25.6" fill="#30698d"/><rect x="1023.2" width="32.1" height="25.6" fill="#21908c"/><rect x="1057.5" width="32.1" height="25.6" fill="#209e88"/><rect x="1091.7" width="32.1" height="25.6" fill="#62ca5f"/><rect x="1126.0" width="32.1" height="25.6" fill="#209e88"/><rect x="1160.2" width="32.1" height="25.6" fill="#375a8c"/><rect x="1194.4" width="32.1" height="25.6" fill="#414487"/><rect x="1228.7" width="32.1" height="25.6" fill="#2cb17d"/><rect x="1262.9" width="32.1" height="25.6" fill="#24878d"/><rect x="1297.1" width="32.1" height="25.6" fill="#3d4d89"/><rect x="1331.4" width="32.1" height="25.6" fill="#375a8c"/><rect x="1365.6" width="32.1" height="25.6" fill="#209e88"/><rect x="1399.8" width="32.1" height="25.6" fill="#2a788e"/></g>
<g transform="translate(0 1107.0)"><rect x="98.9" width="32.1" height="25.6" fill="#21908c"/><rect x="133.1" width="32.1" height="25.6" fill="#52c569"/><rect x="167.4" width="32.1" height="25.6" fill="#2f6b8e"/><rect x="201.6" width="32.1" height="25.6" fill="#2c738e"/><rect x="235.8" width="32.1" height="25.6" fill="#1f998a"/><rect x="270.1" width="32.1" height="25.6" fill="#21908c"/><rect x="304.3" width="32.1" height="25.6" fill="#287d8e"/><rect x="338.5" width="32.1" height="25.6" fill="#2a788e"/><rect x="372.8" width="32.1" height="25.6" fill="#287d8e"/><rect x="407.0" width="32.1" height="25.6" fill="#24a884"/><rect x="441.2" width="32.1" height="25.6" fill="#209e88"/><rect x="475.5" width="32.1" height="25.6" fill="#33b57a"/><rect x="509.7" width="32.1" height="25.6" fill="#21908c"/><rect x="544.0" width="32.1" height="25.6" fill="#27ac81"/><rect x="578.2" width="32.1" height="25.6" fill="#238b8d"/><rect x="612.4" width="32.1" height="25.6" fill="#24a884"/><rect x="646.7" width="32.1" height="25.6" fill="#9ad93d"/><rect x="680.9" width="32.1" height="25.6" fill="#68cc5c"/><rect x="715.1" width="32.1" height="25.6" fill="#20a387"/><rect x="749.4" width="32.1" height="25.6" fill="#24a884"/><rect x="783.6" width="32.1" height="25.6" fill="#20a387"/><rect x="817.8" width="32.1" height="25.6" fill="#29af7f"/><rect x="852.1" width="32.1" height="25.6" fill="#1f958b"/><rect x="886.3" width="32.1" height="25.6" fill="#1f998a"/><rect x="920.5" width="32.1" height="25.6" fill="#21908c"/><rect x="954.8" width="32.1" height="25.6" fill="#287d8e"/><rect x="989.0" width="32.1" height="25.6" fill="#2a788e"/><rect x="1023.2" width="32.1" height="25.6" fill="#209e88"/><rect x="1057.5" width="32.1" height="25.6" fill="#209e88"/><rect x="1091.7" width="32.1" height="25.6" fill="#37b878"/><rect x="1126.0" width="32.1" height="25.6" fill="#27ac81"/><rect x="1160.2" width="32.1" height="25.6" fill="#2e6e8e"/><rect x="1194.4" width="32.1" height="25.6" fill="#33648d"/><rect x="1228.7" width="32.1" height="25.6" fill="#1f958b"/><rect x="1262.9" width="32.1" height="25.6" fill="#26828e"/><rect x="1297.1" width="32.1" height="25.6" fill="#2e6e8e"/><rect x="1331.4" width="32.1" height="25.6" fill="#2c738e"/><rect x="1365.6" width="32.1" height="25.6" fill="#21908c"/><rect x="1399.8" width="32.1" height="25.6" fill="#26828e"/></g>
<g transform="translate(0 1146.4)"><rect x="98.9" width="32.1" height="25.6" fill="#68cc5c"/><rect x="133.1" width="32.1" height="25.6" fill="#24878d"/><rect x="167.4" width="32.1" height="25.6" fill="#1f998a"/><rect x="201.6" width="32.1" height="25.6" fill="#29af7f"/><rect x="235.8" width="32.1" height="25.6" fill="#209e88"/><rect x="270.1" width="32.1" height="25.6" fill="#24878d"/><rect x="304.3" width="32.1" height="25.6" fill="#37b878"/><rect x="338.5" width="32.1" height="25.6" fill="#29af7f"/><rect x="372.8" width="32.1" height="25.6" fill="#277f8e"/><rect x="407.0" width="32.1" height="25.6" fill="#52c569"/><rect x="441.2" width="32.1" height="25.6" fill="#1f998a"/><rect x="475.5" width="32.1" height="25.6" fill="#27ac81"/><rect x="509.7" width="32.1" height="25.6" fill="#2c738e"/><rect x="544.0" width="32.1" height="25.6" fill="#3aba76"/><rect x="578.2" width="32.1" height="25.6" fill="#9ad93d"/><rect x="612.4" width="32.1" height="25.6" fill="#20a387"/><rect x="646.7" width="32.1" height="25.6" fill="#94d841"/><rect x="680.9" width="32.1" height="25.6" fill="#7ad251"/><rect x="715.1" width="32.1" height="25.6" fill="#29af7f"/><rect x="749.4" width="32.1" height="25.6" fill="#24878d"/><rect x="783.6" width="32.1" height="25.6" fill="#87d549"/><rect x="817.8" width="32.1" height="25.6" fill="#33b57a"/><rect x="852.1" width="32.1" height="25.6" fill="#2c738e"/><rect x="886.3" width="32.1" height="25.6" fill="#238b8d"/><rect x="920.5" width="32.1" height="25.6" fill="#2c738e"/><rect x="954.8" width="32.1" height="25.6" fill="#a1da38"/><rect x="989.0" width="32.1" height="25.6" fill="#5cc862"/><rect x="1023.2" width="32.1" height="25.6" fill="#355f8d"/><rect x="1057.5" width="32.1" height="25.6" fill="#68cc5c"/><rect x="1091.7" width="32.1" height="25.6" fill="#87d549"/><rect x="1126.0" width="32.1" height="25.6" fill="#20a387"/><rect x="1160.2" width="32.1" height="25.6" fill="#7ad251"/><rect x="1194.4" width="32.1" height="25.6" fill="#eae51e"/><rect x="1228.7" width="32.1" height="25.6" fill="#3aba76"/><rect x="1262.9" width="32.1" height="25.6" fill="#27ac81"/><rect x="1297.1" width="32.1" height="25.6" fill="#68cc5c"/><rect x="1331.4" width="32.1" height="25.6" fill="#2cb17d"/><rect x="1365.6" width="32.1" height="25.6" fill="#20a387"/><rect x="1399.8" width="32.1" height="25.6" fill="#62ca5f"/></g>
<g transform="translate(0 1174.3)"><rect x="98.9" width="32.1" height="25.6" fill="#3aba76"/><rect x="133.1" width="32.1" height="25.6" fill="#209e88"/><rect x="167.4" width="32.1" height="25.6" fill="#24a884"/><rect x="201.6" width="32.1" height="25.6" fill="#2cb17d"/><rect x="235.8" width="32.1" height="25.6" fill="#33b57a"/><rect x="270.1" width="32.1" height="25.6" fill="#29af7f"/><rect x="304.3" width="32.1" height="25.6" fill="#29af7f"/><rect x="338.5" width="32.1" height="25.6" fill="#27ac81"/><rect x="372.8" width="32.1" height="25.6" fill="#20a387"/><rect x="407.0" width="32.1" height="25.6" fill="#24a884"/><rect x="441.2" width="32.1" height="25.6" fill="#27ac81"/><rect x="475.5" width="32.1" height="25.6" fill="#33b57a"/><rect x="509.7" width="32.1" height="25.6" fill="#24a884"/><rect x="544.0" width="32.1" height="25.6" fill="#52c569"/><rect x="578.2" width="32.1" height="25.6" fill="#3aba76"/><rect x="612.4" width="32.1" height="25.6" fill="#52c569"/><rect x="646.7" width="32.1" height="25.6" fill="#87d549"/><rect x="680.9" width="32.1" height="25.6" fill="#33b57a"/><rect x="715.1" width="32.1" height="25.6" fill="#20a387"/><rect x="749.4" width="32.1" height="25.6" fill="#209e88"/><rect x="783.6" width="32.1" height="25.6" fill="#33b57a"/><rect x="817.8" width="32.1" height="25.6" fill="#20a387"/><rect x="852.1" width="32.1" height="25.6" fill="#21908c"/><rect x="886.3" width="32.1" height="25.6" fill="#24a884"/><rect x="920.5" width="32.1" height="25.6" fill="#24878d"/><rect x="954.8" width="32.1" height="25.6" fill="#2cb17d"/><rect x="989.0" width="32.1" height="25.6" fill="#27ac81"/><rect x="1023.2" width="32.1" height="25.6" fill="#21908c"/><rect x="1057.5" width="32.1" height="25.6" fill="#30b37c"/><rect x="1091.7" width="32.1" height="25.6" fill="#7ad251"/><rect x="1126.0" width="32.1" height="25.6" fill="#43be71"/><rect x="1160.2" width="32.1" height="25.6" fill="#29af7f"/><rect x="1194.4" width="32.1" height="25.6" fill="#7ad251"/><rect x="1228.7" width="32.1" height="25.6" fill="#33b57a"/><rect x="1262.9" width="32.1" height="25.6" fill="#24a884"/><rect x="1297.1" width="32.1" height="25.6" fill="#6ece58"/><rect x="1331.4" width="32.1" height="25.6" fill="#5cc862"/><rect x="1365.6" width="32.1" height="25.6" fill="#24a884"/><rect x="1399.8" width="32.1" height="25.6" fill="#57c766"/></g>
<g transform="translate(0 1213.8)"><rect x="98.9" width="32.1" height="25.6" fill="#460c5f"/><rect x="133.1" width="32.1" height="25.6" fill="#460c5f"/><rect x="167.4" width="32.1" height="25.6" fill="#460c5f"/><rect x="201.6" width="32.1" height="25.6" fill="#460c5f"/><rect x="235.8" width="32.1" height="25.6" fill="#460c5f"/><rect x="270.1" width="32.1" height="25.6" fill="#460c5f"/><rect x="304.3" width="32.1" height="25.6" fill="#460c5f"/><rect x="338.5" width="32.1" height="25.6" fill="#460c5f"/><rect x="372.8" width="32.1" height="25.6" fill="#460c5f"/><rect x="407.0" width="32.1" height="25.6" fill="#481466"/><rect x="441.2" width="32.1" height="25.6" fill="#460c5f"/><rect x="475.5" width="32.1" height="25.6" fill="#460c5f"/><rect x="509.7" width="32.1" height="25.6" fill="#460c5f"/><rect x="544.0" width="32.1" height="25.6" fill="#460c5f"/><rect x="578.2" width="32.1" height="25.6" fill="#460c5f"/><rect x="612.4" width="32.1" height="25.6" fill="#460c5f"/><rect x="646.7" width="32.1" height="25.6" fill="#460c5f"/><rect x="680.9" width="32.1" height="25.6" fill="#481e6f"/><rect x="715.1" width="32.1" height="25.6" fill="#460c5f"/><rect x="749.4" width="32.1" height="25.6" fill="#460c5f"/><rect x="783.6" width="32.1" height="25.6" fill="#460c5f"/><rect x="817.8" width="32.1" height="25.6" fill="#460c5f"/><rect x="852.1" width="32.1" height="25.6" fill="#460c5f"/><rect x="886.3" width="32.1" height="25.6" fill="#460c5f"/><rect x="920.5" width="32.1" height="25.6" fill="#460c5f"/><rect x="954.8" width="32.1" height="25.6" fill="#460c5f"/><rect x="989.0" width="32.1" height="25.6" fill="#460c5f"/><rect x="1023.2" width="32.1" height="25.6" fill="#460c5f"/><rect x="1057.5" width="32.1" height="25.6" fill="#460c5f"/><rect x="1091.7" width="32.1" height="25.6" fill="#481b6c"/><rect x="1126.0" width="32.1" height="25.6" fill="#460c5f"/><rect x="1160.2" width="32.1" height="25.6" fill="#460c5f"/><rect x="1194.4" width="32.1" height="25.6" fill="#460c5f"/><rect x="1228.7" width="32.1" height="25.6" fill="#460c5f"/><rect x="1262.9" width="32.1" height="25.6" fill="#460c5f"/><rect x="1297.1" width="32.1" height="25.6" fill="#460c5f"/><rect x="1331.4" width="32.1" height="25.6" fill="#460c5f"/><rect x="1365.6" width="32.1" height="25.6" fill="#460c5f"/><rect x="1399.8" width="32.1" height="25.6" fill="#460c5f"/></g>
<g transform="translate(0 1241.7)"><rect x="98.9" width="32.1" height="25.6" fill="#460c5f"/><rect x="133.1" width="32.1" height="25.6" fill="#460c5f"/><rect x="167.4" width="32.1" height="25.6" fill="#460c5f"/><rect x="201.6" width="32.1" height="25.6" fill="#460c5f"/><rect x="235.8" width="32.1" height="25.6" fill="#460c5f"/><rect x="270.1" width="32.1" height="25.6" fill="#460c5f"/><rect x="304.3" width="32.1" height="25.6" fill="#460c5f"/><rect x="338.5" width="32.1" height="25.6" fill="#460c5f"/><rect x="372.8" width="32.1" height="25.6" fill="#460c5f"/><rect x="407.0" width="32.1" height="25.6" fill="#460c5f"/><rect x="441.2" width="32.1" height="25.6" fill="#481466"/><rect x="475.5" width="32.1" height="25.6" fill="#460c5f"/><rect x="509.7" width="32.1" height="25.6" fill="#460c5f"/><rect x="544.0" width="32.1" height="25.6" fill="#460c5f"/><rect x="578.2" width="32.1" height="25.6" fill="#460c5f"/><rect x="612.4" width="32.1" height="25.6" fill="#460c5f"/><rect x="646.7" width="32.1" height="25.6" fill="#460c5f"/><rect x="680.9" width="32.1" height="25.6" fill="#481466"/><rect x="715.1" width="32.1" height="25.6" fill="#460c5f"/><rect x="749.4" width="32.1" height="25.6" fill="#460c5f"/><rect x="783.6" width="32.1" height="25.6" fill="#460c5f"/><rect x="817.8" width="32.1" height="25.6" fill="#460c5f"/><rect x="852.1" width="32.1" height="25.6" fill="#460c5f"/><rect x="886.3" width="32.1" height="25.6" fill="#460c5f"/><rect x="920.5" width="32.1" height="25.6" fill="#460c5f"/><rect x="954.8" width="32.1" height="25.6" fill="#460c5f"/><rect x="989.0" width="32.1" height="25.6" fill="#460c5f"/><rect x="1023.2" width="32.1" height="25.6" fill="#460c5f"/><rect x="1057.5" width="32.1" height="25.6" fill="#460c5f"/><rect x="1091.7" width="32.1" height="25.6" fill="#481769"/><rect x="1126.0" width="32.1" height="25.6" fill="#460c5f"/><rect x="1160.2" width="32.1" height="25.6" fill="#460c5f"/><rect x="1194.4" width="32.1" height="25.6" fill="#460c5f"/><rect x="1228.7" width="32.1" height="25.6" fill="#460c5f"/><rect x="1262.9" width="32.1" height="25.6" fill="#460c5f"/><rect x="1297.1" width="32.1" height="25.6" fill="#481466"/><rect x="1331.4" width="32.1" height="25.6" fill="#460c5f"/><rect x="1365.6" width="32.1" height="25.6" fill="#460c5f"/><rect x="1399.8" width="32.1" height="25.6" fill="#460c5f"/></g>
<g transform="translate(0 1281.1)"><rect x="98.9" width="32.1" height="25.6" fill="#33648d"/><rect x="133.1" width="32.1" height="25.6" fill="#238b8d"/><rect x="167.4" width="32.1" height="25.6" fill="#3c4f8a"/><rect x="201.6" width="32.1" height="25.6" fill="#30698d"/><rect x="235.8" width="32.1" height="25.6" fill="#1f998a"/><rect x="270.1" width="32.1" height="25.6" fill="#30698d"/><rect x="304.3" width="32.1" height="25.6" fill="#2a788e"/><rect x="338.5" width="32.1" height="25.6" fill="#287d8e"/><rect x="372.8" width="32.1" height="25.6" fill="#2c738e"/><rect x="407.0" width="32.1" height="25.6" fill="#21908c"/><rect x="441.2" width="32.1" height="25.6" fill="#33648d"/><rect x="475.5" width="32.1" height="25.6" fill="#355f8d"/><rect x="509.7" width="32.1" height="25.6" fill="#2e6e8e"/><rect x="544.0" width="32.1" height="25.6" fill="#33648d"/><rect x="578.2" width="32.1" height="25.6" fill="#1f958b"/><rect x="612.4" width="32.1" height="25.6" fill="#1f958b"/><rect x="646.7" width="32.1" height="25.6" fill="#24878d"/><rect x="680.9" width="32.1" height="25.6" fill="#24a884"/><rect x="715.1" width="32.1" height="25.6" fill="#287d8e"/><rect x="749.4" width="32.1" height="25.6" fill="#238b8d"/><rect x="783.6" width="32.1" height="25.6" fill="#2c738e"/><rect x="817.8" width="32.1" height="25.6" fill="#2e6e8e"/><rect x="852.1" width="32.1" height="25.6" fill="#2e6e8e"/><rect x="886.3" width="32.1" height="25.6" fill="#26828e"/><rect x="920.5" width="32.1" height="25.6" fill="#30698d"/><rect x="954.8" width="32.1" height="25.6" fill="#2c738e"/><rect x="989.0" width="32.1" height="25.6" fill="#1f998a"/><rect x="1023.2" width="32.1" height="25.6" fill="#287d8e"/><rect x="1057.5" width="32.1" height="25.6" fill="#1f998a"/><rect x="1091.7" width="32.1" height="25.6" fill="#20a387"/><rect x="1126.0" width="32.1" height="25.6" fill="#2c738e"/><rect x="1160.2" width="32.1" height="25.6" fill="#2e6e8e"/><rect x="1194.4" width="32.1" height="25.6" fill="#21908c"/><rect x="1228.7" width="32.1" height="25.6" fill="#238b8d"/><rect x="1262.9" width="32.1" height="25.6" fill="#21908c"/><rect x="1297.1" width="32.1" height="25.6" fill="#46317e"/><rect x="1331.4" width="32.1" height="25.6" fill="#33648d"/><rect x="1365.6" width="32.1" height="25.6" fill="#2a788e"/><rect x="1399.8" width="32.1" height="25.6" fill="#2c738e"/></g>
<g transform="translate(0 1309.0)"><rect x="98.9" width="32.1" height="25.6" fill="#2e6e8e"/><rect x="133.1" width="32.1" height="25.6" fill="#1f998a"/><rect x="167.4" width="32.1" height="25.6" fill="#30698d"/><rect x="201.6" width="32.1" height="25.6" fill="#2c738e"/><rect x="235.8" width="32.1" height="25.6" fill="#1f998a"/><rect x="270.1" width="32.1" height="25.6" fill="#24878d"/><rect x="304.3" width="32.1" height="25.6" fill="#2c738e"/><rect x="338.5" width="32.1" height="25.6" fill="#2e6e8e"/><rect x="372.8" width="32.1" height="25.6" fill="#2a788e"/><rect x="407.0" width="32.1" height="25.6" fill="#2a788e"/><rect x="441.2" width="32.1" height="25.6" fill="#355f8d"/><rect x="475.5" width="32.1" height="25.6" fill="#375a8c"/><rect x="509.7" width="32.1" height="25.6" fill="#2c738e"/><rect x="544.0" width="32.1" height="25.6" fill="#30698d"/><rect x="578.2" width="32.1" height="25.6" fill="#238b8d"/><rect x="612.4" width="32.1" height="25.6" fill="#238b8d"/><rect x="646.7" width="32.1" height="25.6" fill="#24878d"/><rect x="680.9" width="32.1" height="25.6" fill="#21908c"/><rect x="715.1" width="32.1" height="25.6" fill="#287d8e"/><rect x="749.4" width="32.1" height="25.6" fill="#26828e"/><rect x="783.6" width="32.1" height="25.6" fill="#2a788e"/><rect x="817.8" width="32.1" height="25.6" fill="#2c738e"/><rect x="852.1" width="32.1" height="25.6" fill="#2e6e8e"/><rect x="886.3" width="32.1" height="25.6" fill="#287d8e"/><rect x="920.5" width="32.1" height="25.6" fill="#2c738e"/><rect x="954.8" width="32.1" height="25.6" fill="#26828e"/><rect x="989.0" width="32.1" height="25.6" fill="#238b8d"/><rect x="1023.2" width="32.1" height="25.6" fill="#287d8e"/><rect x="1057.5" width="32.1" height="25.6" fill="#238b8d"/><rect x="1091.7" width="32.1" height="25.6" fill="#20a387"/><rect x="1126.0" width="32.1" height="25.6" fill="#26828e"/><rect x="1160.2" width="32.1" height="25.6" fill="#30698d"/><rect x="1194.4" width="32.1" height="25.6" fill="#238b8d"/><rect x="1228.7" width="32.1" height="25.6" fill="#24878d"/><rect x="1262.9" width="32.1" height="25.6" fill="#24878d"/><rect x="1297.1" width="32.1" height="25.6" fill="#3c4f8a"/><rect x="1331.4" width="32.1" height="25.6" fill="#2c738e"/><rect x="1365.6" width="32.1" height="25.6" fill="#2a788e"/><rect x="1399.8" width="32.1" height="25.6" fill="#26828e"/></g>
</g>
<text transform="translate(85.2 17.4) rotate(-90) scale(0.82 1)" font-size="15.2" text-anchor="middle" fill="#333">CN</text><text transform="translate(85.2 45.3) rotate(-90) scale(0.82 1)" font-size="15.2" text-anchor="middle" fill="#333">ASE</text><text transform="translate(66.2 30.8) rotate(-90) scale(0.82 1)" font-size="15.2" text-anchor="middle" fill="#333">Biliary</text>
<text transform="translate(85.2 84.7) rotate(-90) scale(0.82 1)" font-size="15.2" text-anchor="middle" fill="#333">CN</text><text transform="translate(85.2 112.6) rotate(-90) scale(0.82 1)" font-size="15.2" text-anchor="middle" fill="#333">ASE</text><text transform="translate(66.2 98.1) rotate(-90) scale(0.82 1)" font-size="15.2" text-anchor="middle" fill="#333">Bladder</text>
<text transform="translate(85.2 152.0) rotate(-90) scale(0.82 1)" font-size="15.2" text-anchor="middle" fill="#333">CN</text><text transform="translate(85.2 179.9) rotate(-90) scale(0.82 1)" font-size="15.2" text-anchor="middle" fill="#333">ASE</text><text transform="translate(51.0 165.4) rotate(-90) scale(0.82 1)" font-size="15.2" text-anchor="middle" fill="#333">Bone</text><text transform="translate(66.2 165.4) rotate(-90) scale(0.82 1)" font-size="15.2" text-anchor="middle" fill="#333">SoftTissue</text>
<text transform="translate(85.2 219.4) rotate(-90) scale(0.82 1)" font-size="15.2" text-anchor="middle" fill="#333">CN</text><text transform="translate(85.2 247.3) rotate(-90) scale(0.82 1)" font-size="15.2" text-anchor="middle" fill="#333">ASE</text><text transform="translate(66.2 232.7) rotate(-90) scale(0.82 1)" font-size="15.2" text-anchor="middle" fill="#333">Breast</text>
<text transform="translate(85.2 286.7) rotate(-90) scale(0.82 1)" font-size="15.2" text-anchor="middle" fill="#333">CN</text><text transform="translate(85.2 314.6) rotate(-90) scale(0.82 1)" font-size="15.2" text-anchor="middle" fill="#333">ASE</text><text transform="translate(66.2 300.0) rotate(-90) scale(0.82 1)" font-size="15.2" text-anchor="middle" fill="#333">CNS</text>
<text transform="translate(85.2 354.0) rotate(-90) scale(0.82 1)" font-size="15.2" text-anchor="middle" fill="#333">CN</text><text transform="translate(85.2 381.9) rotate(-90) scale(0.82 1)" font-size="15.2" text-anchor="middle" fill="#333">ASE</text><text transform="translate(66.2 367.3) rotate(-90) scale(0.82 1)" font-size="15.2" text-anchor="middle" fill="#333">Cervix</text>
<text transform="translate(85.2 421.3) rotate(-90) scale(0.82 1)" font-size="15.2" text-anchor="middle" fill="#333">CN</text><text transform="translate(85.2 449.2) rotate(-90) scale(0.82 1)" font-size="15.2" text-anchor="middle" fill="#333">ASE</text><text transform="translate(51.0 434.7) rotate(-90) scale(0.82 1)" font-size="15.2" text-anchor="middle" fill="#333">Colon</text><text transform="translate(66.2 434.7) rotate(-90) scale(0.82 1)" font-size="15.2" text-anchor="middle" fill="#333">Rectum</text>
<text transform="translate(85.2 488.6) rotate(-90) scale(0.82 1)" font-size="15.2" text-anchor="middle" fill="#333">CN</text><text transform="translate(85.2 516.5) rotate(-90) scale(0.82 1)" font-size="15.2" text-anchor="middle" fill="#333">ASE</text><text transform="translate(51.0 502.0) rotate(-90) scale(0.82 1)" font-size="15.2" text-anchor="middle" fill="#333">Head</text><text transform="translate(66.2 502.0) rotate(-90) scale(0.82 1)" font-size="15.2" text-anchor="middle" fill="#333">Neck</text>
<text transform="translate(85.2 556.0) rotate(-90) scale(0.82 1)" font-size="15.2" text-anchor="middle" fill="#333">CN</text><text transform="translate(85.2 583.9) rotate(-90) scale(0.82 1)" font-size="15.2" text-anchor="middle" fill="#333">ASE</text><text transform="translate(66.2 569.3) rotate(-90) scale(0.82 1)" font-size="15.2" text-anchor="middle" fill="#333">Kidney</text>
<text transform="translate(85.2 623.3) rotate(-90) scale(0.82 1)" font-size="15.2" text-anchor="middle" fill="#333">CN</text><text transform="translate(85.2 651.2) rotate(-90) scale(0.82 1)" font-size="15.2" text-anchor="middle" fill="#333">ASE</text><text transform="translate(66.2 636.6) rotate(-90) scale(0.82 1)" font-size="15.2" text-anchor="middle" fill="#333">Liver</text>
<text transform="translate(85.2 690.6) rotate(-90) scale(0.82 1)" font-size="15.2" text-anchor="middle" fill="#333">CN</text><text transform="translate(85.2 718.5) rotate(-90) scale(0.82 1)" font-size="15.2" text-anchor="middle" fill="#333">ASE</text><text transform="translate(66.2 703.9) rotate(-90) scale(0.82 1)" font-size="15.2" text-anchor="middle" fill="#333">Lung</text>
<text transform="translate(85.2 757.9) rotate(-90) scale(0.82 1)" font-size="15.2" text-anchor="middle" fill="#333">CN</text><text transform="translate(85.2 785.8) rotate(-90) scale(0.82 1)" font-size="15.2" text-anchor="middle" fill="#333">ASE</text><text transform="translate(66.2 771.3) rotate(-90) scale(0.82 1)" font-size="15.2" text-anchor="middle" fill="#333">Lymphoid</text>
<text transform="translate(85.2 825.2) rotate(-90) scale(0.82 1)" font-size="15.2" text-anchor="middle" fill="#333">CN</text><text transform="translate(85.2 853.1) rotate(-90) scale(0.82 1)" font-size="15.2" text-anchor="middle" fill="#333">ASE</text><text transform="translate(66.2 838.6) rotate(-90) scale(0.82 1)" font-size="15.2" text-anchor="middle" fill="#333">Myeloid</text>
<text transform="translate(85.2 892.6) rotate(-90) scale(0.82 1)" font-size="15.2" text-anchor="middle" fill="#333">CN</text><text transform="translate(85.2 920.5) rotate(-90) scale(0.82 1)" font-size="15.2" text-anchor="middle" fill="#333">ASE</text><text transform="translate(66.2 905.9) rotate(-90) scale(0.82 1)" font-size="15.2" text-anchor="middle" fill="#333">Ovary</text>
<text transform="translate(85.2 959.9) rotate(-90) scale(0.82 1)" font-size="15.2" text-anchor="middle" fill="#333">CN</text><text transform="translate(85.2 987.8) rotate(-90) scale(0.82 1)" font-size="15.2" text-anchor="middle" fill="#333">ASE</text><text transform="translate(66.2 973.2) rotate(-90) scale(0.82 1)" font-size="15.2" text-anchor="middle" fill="#333">Pancreas</text>
<text transform="translate(85.2 1027.2) rotate(-90) scale(0.82 1)" font-size="15.2" text-anchor="middle" fill="#333">CN</text><text transform="translate(85.2 1055.1) rotate(-90) scale(0.82 1)" font-size="15.2" text-anchor="middle" fill="#333">ASE</text><text transform="translate(66.2 1040.5) rotate(-90) scale(0.82 1)" font-size="15.2" text-anchor="middle" fill="#333">Prostate</text>
<text transform="translate(85.2 1094.5) rotate(-90) scale(0.82 1)" font-size="15.2" text-anchor="middle" fill="#333">CN</text><text transform="translate(85.2 1122.4) rotate(-90) scale(0.82 1)" font-size="15.2" text-anchor="middle" fill="#333">ASE</text><text transform="translate(66.2 1107.9) rotate(-90) scale(0.82 1)" font-size="15.2" text-anchor="middle" fill="#333">Skin</text>
<text transform="translate(85.2 1161.8) rotate(-90) scale(0.82 1)" font-size="15.2" text-anchor="middle" fill="#333">CN</text><text transform="translate(85.2 1189.7) rotate(-90) scale(0.82 1)" font-size="15.2" text-anchor="middle" fill="#333">ASE</text><text transform="translate(66.2 1175.2) rotate(-90) scale(0.82 1)" font-size="15.2" text-anchor="middle" fill="#333">Stomach</text>
<text transform="translate(85.2 1229.2) rotate(-90) scale(0.82 1)" font-size="15.2" text-anchor="middle" fill="#333">CN</text><text transform="translate(85.2 1257.1) rotate(-90) scale(0.82 1)" font-size="15.2" text-anchor="middle" fill="#333">ASE</text><text transform="translate(66.2 1242.5) rotate(-90) scale(0.82 1)" font-size="15.2" text-anchor="middle" fill="#333">Thyroid</text>
<text transform="translate(85.2 1296.5) rotate(-90) scale(0.82 1)" font-size="15.2" text-anchor="middle" fill="#333">CN</text><text transform="translate(85.2 1324.4) rotate(-90) scale(0.82 1)" font-size="15.2" text-anchor="middle" fill="#333">ASE</text><text transform="translate(66.2 1309.8) rotate(-90) scale(0.82 1)" font-size="15.2" text-anchor="middle" fill="#333">Uterus</text>
<text transform="translate(115.0 1357.9) scale(0.79 1)" font-size="14.2" text-anchor="middle" fill="#333">1p</text><text transform="translate(149.2 1357.9) scale(0.79 1)" font-size="14.2" text-anchor="middle" fill="#333">1q</text><text transform="translate(183.4 1357.9) scale(0.79 1)" font-size="14.2" text-anchor="middle" fill="#333">2p</text><text transform="translate(217.7 1357.9) scale(0.79 1)" font-size="14.2" text-anchor="middle" fill="#333">2q</text><text transform="translate(251.9 1357.9) scale(0.79 1)" font-size="14.2" text-anchor="middle" fill="#333">3p</text><text transform="translate(286.1 1357.9) scale(0.79 1)" font-size="14.2" text-anchor="middle" fill="#333">3q</text><text transform="translate(320.4 1357.9) scale(0.79 1)" font-size="14.2" text-anchor="middle" fill="#333">4p</text><text transform="translate(354.6 1357.9) scale(0.79 1)" font-size="14.2" text-anchor="middle" fill="#333">4q</text><text transform="translate(388.8 1357.9) scale(0.79 1)" font-size="14.2" text-anchor="middle" fill="#333">5p</text><text transform="translate(423.1 1357.9) scale(0.79 1)" font-size="14.2" text-anchor="middle" fill="#333">5q</text><text transform="translate(457.3 1357.9) scale(0.79 1)" font-size="14.2" text-anchor="middle" fill="#333">6p</text><text transform="translate(491.5 1357.9) scale(0.79 1)" font-size="14.2" text-anchor="middle" fill="#333">6q</text><text transform="translate(525.8 1357.9) scale(0.79 1)" font-size="14.2" text-anchor="middle" fill="#333">7p</text><text transform="translate(560.0 1357.9) scale(0.79 1)" font-size="14.2" text-anchor="middle" fill="#333">7q</text><text transform="translate(594.2 1357.9) scale(0.79 1)" font-size="14.2" text-anchor="middle" fill="#333">8p</text><text transform="translate(628.5 1357.9) scale(0.79 1)" font-size="14.2" text-anchor="middle" fill="#333">8q</text><text transform="translate(662.7 1357.9) scale(0.79 1)" font-size="14.2" text-anchor="middle" fill="#333">9p</text><text transform="translate(696.9 1357.9) scale(0.79 1)" font-size="14.2" text-anchor="middle" fill="#333">9q</text><text transform="translate(731.2 1357.9) scale(0.79 1)" font-size="14.2" text-anchor="middle" fill="#333">10p</text><text transform="translate(765.4 1357.9) scale(0.79 1)" font-size="14.2" text-anchor="middle" fill="#333">10q</text><text transform="translate(799.6 1357.9) scale(0.79 1)" font-size="14.2" text-anchor="middle" fill="#333">11p</text><text transform="translate(833.9 1357.9) scale(0.79 1)" font-size="14.2" text-anchor="middle" fill="#333">11q</text><text transform="translate(868.1 1357.9) scale(0.79 1)" font-size="14.2" text-anchor="middle" fill="#333">12p</text><text transform="translate(902.4 1357.9) scale(0.79 1)" font-size="14.2" text-anchor="middle" fill="#333">12q</text><text transform="translate(936.6 1357.9) scale(0.79 1)" font-size="14.2" text-anchor="middle" fill="#333">13q</text><text transform="translate(970.8 1357.9) scale(0.79 1)" font-size="14.2" text-anchor="middle" fill="#333">14q</text><text transform="translate(1005.1 1357.9) scale(0.79 1)" font-size="14.2" text-anchor="middle" fill="#333">15q</text><text transform="translate(1039.3 1357.9) scale(0.79 1)" font-size="14.2" text-anchor="middle" fill="#333">16p</text><text transform="translate(1073.5 1357.9) scale(0.79 1)" font-size="14.2" text-anchor="middle" fill="#333">16q</text><text transform="translate(1107.8 1357.9) scale(0.79 1)" font-size="14.2" text-anchor="middle" fill="#333">17p</text><text transform="translate(1142.0 1357.9) scale(0.79 1)" font-size="14.2" text-anchor="middle" fill="#333">17q</text><text transform="translate(1176.2 1357.9) scale(0.79 1)" font-size="14.2" text-anchor="middle" fill="#333">18p</text><text transform="translate(1210.5 1357.9) scale(0.79 1)" font-size="14.2" text-anchor="middle" fill="#333">18q</text><text transform="translate(1244.7 1357.9) scale(0.79 1)" font-size="14.2" text-anchor="middle" fill="#333">19p</text><text transform="translate(1278.9 1357.9) scale(0.79 1)" font-size="14.2" text-anchor="middle" fill="#333">19q</text><text transform="translate(1313.2 1357.9) scale(0.79 1)" font-size="14.2" text-anchor="middle" fill="#333">20p</text><text transform="translate(1347.4 1357.9) scale(0.79 1)" font-size="14.2" text-anchor="middle" fill="#333">20q</text><text transform="translate(1381.6 1357.9) scale(0.79 1)" font-size="14.2" text-anchor="middle" fill="#333">21q</text><text transform="translate(1415.9 1357.9) scale(0.79 1)" font-size="14.2" text-anchor="middle" fill="#333">22q</text>
<rect x="1451.2" y="346" width="16.5" height="688.6" fill="url(#cb)"/>
<text transform="translate(1476.8 350.2) scale(0.79 1)" font-size="15" fill="#333">0.75</text><text transform="translate(1476.8 488.3) scale(0.79 1)" font-size="15" fill="#333">0.70</text><text transform="translate(1476.8 626.5) scale(0.79 1)" font-size="15" fill="#333">0.65</text><text transform="translate(1476.8 764.6) scale(0.79 1)" font-size="15" fill="#333">0.60</text><text transform="translate(1476.8 902.8) scale(0.79 1)" font-size="15" fill="#333">0.55</text><text transform="translate(1476.8 1040.9) scale(0.79 1)" font-size="15" fill="#333">0.50</text>
<text class="lib" transform="translate(-3.4 69.4) scale(0.83 1)" font-size="90" fill="#1a1a1a" stroke="#fff" stroke-width="1.5">a</text>
<text class="lib" transform="translate(-4.8 1445.6) scale(1.05 1)" font-size="93.5" fill="#1a1a1a" stroke="#fff" stroke-width="1.5">b</text>
<g><clipPath id="c9"><rect x="1470" y="1376.6" width="40" height="6"/></clipPath><text x="1500" y="1381.8" font-size="13.6" text-anchor="end" fill="#111" clip-path="url(#c9)">1e9</text><rect x="103.5" y="1381.4" width="1397.5" height="262.0" fill="#fff"/>
<g transform="translate(103.5 1381.4) scale(.5)" fill="none" stroke-linecap="round">
<path d="M1076 233zm5 7zm2 22zm0 22zm1-44zm0 56zm1-93zm1 40zm1-107zm0 120zm0 6zm0 62zm1-69zm2-4zm0 51zm3-78zm0 46zm0 99zm1-152zm0 23zm0 4zm0 20zm1-77zm0 75zm0 12zm1-101zm0 53zm0 26zm0 29zm1-80zm0 56zm0 53zm0 7zm1-138zm0 24zm0 76zm0 12zm0 41zm1-118zm0 11zm0 6zm0 25zm0 13zm0 43zm0 3zm0 37zm1-153zm0 8zm0 3zm0 12zm0 0zm0 25zm0 2zm0 3zm0 16zm0 16zm0 2zm0 5zm0 36zm0 20zm1-164zm1-12zm0 39zm0 109zm1-20zm1-80zm0 20zm1 96zm2-73zm0 44zm0 42zm1-184zm1 19zm0 1zm0 62zm0 32zm0 24zm1-27zm0 18zm0 51zm1-49zm0 9zm0 14zm0 29zm1-121zm0 58zm0 12zm0 29zm0 43zm1-146zm1 18zm0 40zm0 54zm0 52zm1-228zm1 64zm0 21zm0 101zm1-82zm1-10zm0 98zm1-145zm0 9zm0 18zm0 11zm0 19zm1-101zm0 39zm0 62zm1-11zm1-59zm0 104zm1-67zm0 47zm0 60zm1-96zm0 47zm0 23zm0 89zm2-223zm1 32zm0 72zm1-29zm0 79zm1-147zm0 99zm0 2zm1 33zm1-152zm0 97zm1-49zm0 19zm0 12zm0 14zm0 4zm0 0zm0 40zm0 39zm0 0zm1-154zm0 26zm0 9zm0 26zm0 28zm0 10zm0 7zm0 11zm0 11zm1-141zm0 31zm0 0zm0 9zm0 20zm0 5zm0 1zm0 31zm0 1zm0 5zm0 40zm0 7zm0 0zm0 26zm1-194zm0 28zm0 27zm0 35zm0 48zm1-19zm0 5zm0 24zm0 14zm1-14zm1-42zm1 5zm0 10zm0 3zm0 30zm1-167zm0 14zm0 43zm0 40zm0 22zm0 67zm1-95zm0 50zm1-48zm0 12zm0 42zm0 14zm1-142zm0 35zm0 0zm0 6zm0 1zm0 48zm0 10zm0 0zm0 13zm0 27zm0 23zm0 25zm1-177zm0 21zm0 11zm0 3zm0 34zm0 0zm0 2zm0 4zm0 1zm0 6zm0 2zm0 5zm0 0zm0 30zm0 21zm0 46zm1-205zm0 86zm0 2zm0 1zm0 35zm1-80zm0 42zm0 0zm0 42zm0 31zm0 3zm0 1zm1-126zm0 49zm0 22zm0 0zm0 27zm0 43zm1-52zm0 32zm1-117zm0 18zm0 31zm0 9zm1-70zm0 84zm0 9zm0 4zm0 0zm0 0zm0 1zm0 47zm0 5zm1-238zm0 24zm0 64zm0 45zm0 21zm0 13zm0 4zm0 44zm0 41zm1-111zm0 40zm0 41zm0 20zm1-105zm0 49zm0 17zm0 62zm1-113zm0 90zm1-116zm1-3zm0 26zm0 5zm0 42zm0 77zm1-160zm0 2zm0 14zm0 58zm0 15zm0 19zm1-79zm0 34zm0 64zm2-109zm0 6zm0 21zm0 5zm1-43zm0 13zm0 7zm0 9zm0 6zm0 8zm0 51zm0 14zm0 30zm1-169zm0 25zm0 29zm0 4zm0 5zm0 11zm0 7zm0 26zm0 70zm0 16zm1-157zm0 10zm0 17zm0 5zm1-20zm0 26zm1-79zm0 28zm0 44zm0 29zm0 30zm1-64zm0 62zm1-119zm0 27zm0 32zm0 10zm0 36zm0 1zm0 29zm0 73zm1-228zm0 34zm0 7zm0 4zm0 26zm0 5zm0 13zm0 13zm0 6zm0 11zm0 18zm0 5zm0 17zm1-178zm0 3zm0 34zm0 30zm0 3zm0 16zm0 13zm0 25zm0 11zm0 16zm0 1zm0 1zm0 3zm0 3zm0 12zm1-165zm0 23zm0 31zm0 43zm0 5zm0 0zm0 0zm0 14zm0 10zm0 7zm0 4zm0 7zm0 6zm0 12zm1-92zm1 45zm0 102zm1-167zm0 15zm0 9zm0 0zm0 2zm0 23zm0 3zm0 25zm1-70zm0 25zm0 4zm0 4zm0 7zm0 18zm0 63zm0 0zm1-178zm0 31zm0 29zm0 6zm0 1zm0 2zm0 11zm0 8zm0 8zm0 20zm0 10zm1-55zm0 6zm0 25zm1-67zm0 22zm1 32zm1-19zm0 15zm0 2zm0 15zm0 6zm0 25zm0 11zm0 37zm1-110zm0 11zm0 25zm0 34zm1-121zm1 51zm0 20zm0 11zm0 0zm0 10zm0 10zm0 14zm1-46zm1-67zm0 35zm0 98zm1-119zm0 17zm0 6zm0 0zm0 5zm0 15zm0 10zm0 127zm1-139zm0 40zm0 23zm0 78zm1-140zm0 21zm0 2zm0 4zm0 65zm0 10zm0 52zm1-200zm0 8zm0 6zm0 12zm0 9zm0 0zm0 25zm0 9zm0 0zm0 0zm0 14zm0 22zm0 1zm0 36zm1-107zm0 9zm0 25zm0 10zm0 0zm0 8zm2-134zm0 130zm2-62zm0 48zm0 30zm1-132zm0 50zm0 15zm0 1zm0 18zm0 86zm0 26zm1-187zm0 38zm0 18zm0 21zm0 12zm0 34zm0 54zm1-106zm0 53zm0 148zm1-100zm2-211zm496 75zm0 26zm0 12zm0 8zm0 0zm0 3zm0 8zm0 18zm0 10zm0 30zm0 68zm1-228zm0 4zm0 19zm0 34zm0 1zm0 6zm0 20zm0 4zm0 34zm0 20zm0 79zm1-251zm0 29zm0 38zm0 3zm0 9zm0 58zm0 5zm0 12zm0 3zm0 5zm0 58zm1-151zm0 8zm0 55zm0 2zm0 27zm0 5zm1-191zm0 60zm0 52zm0 4zm0 21zm0 2zm0 62zm0 37zm0 36zm1-255zm0 59zm0 24zm0 7zm0 2zm0 21zm0 3zm0 7zm0 9zm0 6zm0 0zm0 4zm0 24zm0 9zm0 11zm0 10zm0 7zm0 4zm0 1zm0 13zm1-162zm0 33zm0 6zm0 6zm0 7zm0 19zm0 8zm0 0zm0 5zm0 22zm0 2zm0 1zm0 2zm0 5zm0 1zm0 29zm1-97zm0 47zm0 2zm0 14zm0 15zm0 12zm1-171zm0 18zm0 63zm0 2zm0 104zm4-170zm0 35zm0 9zm0 23zm0 61zm0 3zm0 85zm1-246zm0 76zm0 22zm0 21zm0 5zm0 29zm0 11zm1-103zm0 0zm0 1zm0 4zm0 6zm0 4zm0 6zm0 22zm0 1zm0 8zm0 25zm0 2zm0 2zm0 6zm0 32zm0 4zm0 4zm0 31zm0 7zm1-255zm0 74zm0 5zm0 9zm0 10zm0 44zm0 11zm0 40zm1-143zm0 82zm0 21zm0 51zm0 7zm0 2zm1-115zm0 36zm0 33zm0 26zm0 39zm0 4zm0 40zm1-91zm1-52zm0 38zm1-97zm0 28zm0 14zm0 87zm0 19zm1-234zm0 178zm0 17zm0 9zm0 8zm0 13zm1-149zm0 15zm0 9zm0 8zm0 21zm0 10zm0 26zm0 9zm0 16zm1-63zm0 20zm0 18zm0 0zm0 22zm0 13zm0 63zm0 38zm1-255zm0 29zm0 56zm0 4zm0 44zm0 9zm0 52zm1-187zm0 20zm0 40zm0 56zm1-117zm0 83zm1-12zm0 21zm1 21zm0 107zm1-186zm0 79zm0 12zm0 6zm0 12zm0 35zm0 30zm0 11zm0 67zm1-269zm0 56zm0 10zm0 30zm0 10zm0 8zm0 3zm0 1zm0 21zm0 59zm1-208zm0 28zm0 10zm0 68zm0 0zm0 48zm0 22zm0 9zm1-41zm0 0zm0 12zm1-150zm0 12zm0 5zm0 20zm0 46zm0 24zm0 32zm1-123zm0 4zm0 3zm0 2zm0 40zm0 12zm0 23zm0 0zm0 13zm0 19zm0 56zm0 44zm1-197zm0 0zm0 0zm0 47zm0 37zm1-34zm0 15zm2-52zm1 4zm0 0zm0 36zm0 14zm0 10zm1-30zm0 3zm0 6zm0 25zm0 8zm1-87zm0 2zm0 71zm1-75zm0 44zm0 15zm0 44zm0 6zm0 7zm1-102zm0 51zm0 18zm2-40zm0 34zm1-44zm0 35zm0 25zm0 12zm1-94zm0 30zm0 19zm0 68zm0 68zm1-218zm0 17zm0 6zm0 19zm0 15zm0 30zm0 56zm0 2zm1-121zm0 15zm0 71zm0 72zm1-156zm0 21zm0 3zm0 61zm0 18zm1-87zm0 11zm0 40zm0 8zm0 20zm0 36zm1-167zm2 36zm0 78zm0 24zm0 196zm1-374zm0 119zm0 124zm1-194zm0 102zm0 13zm0 38zm0 11zm1-126zm0 64zm0 25zm0 6zm0 3zm0 17zm1-208zm0 122zm0 37zm0 74zm1-144zm0 1zm0 13zm0 17zm0 37zm0 14zm0 4zm0 20zm0 27zm1-172zm0 55zm0 2zm0 8zm0 0zm0 12zm0 16zm0 5zm0 18zm0 8zm0 2zm0 2zm0 1zm0 16zm0 8zm0 33zm1-213zm0 90zm0 64zm1-132zm0 35zm0 29zm0 30zm0 4zm0 26zm0 28zm0 11zm0 48zm1-219zm0 56zm0 50zm0 11zm0 14zm0 40zm0 0zm0 14zm0 16zm0 5zm0 0zm1-163zm0 23zm0 37zm0 17zm0 21zm1-30zm0 8zm0 51zm0 33zm0 29zm1-166zm0 4zm0 36zm0 8zm0 84zm0 5zm1-212zm0 48zm724 87zm1-99zm0 12zm0 23zm0 3zm0 7zm0 16zm0 34zm0 4zm0 19zm0 2zm0 30zm1-193zm0 29zm0 45zm0 16zm0 7zm0 25zm0 2zm0 26zm0 12zm0 57zm0 15zm1-180zm0 15zm0 5zm0 63zm0 87zm1-165zm0 121zm0 8zm1-106zm1-13zm0 8zm1 25zm0 6zm0 14zm1-46zm0 104zm0 40zm1-71zm1-113zm2 36zm0 91zm1-162zm0 42zm0 8zm0 14zm0 27zm0 53zm0 84zm1-144zm0 31zm0 48zm1-24zm0 4zm0 20zm4 77zm0 20zm270-223zm0 11zm0 18zm0 76zm0 8zm1-113zm0 91zm1-72zm0 41zm0 58zm0 34zm1-140zm0 33zm0 112zm1-222zm0 92zm0 7zm0 2zm0 6zm0 30zm0 12zm0 0zm0 8zm0 34zm0 22zm1-132zm0 7zm0 15zm0 12zm0 11zm0 5zm0 18zm0 20zm0 37zm1-120zm0 3zm0 59zm0 13zm0 7zm0 3zm0 8zm1-106zm0 22zm0 2zm0 20zm0 32zm0 9zm0 29zm0 1zm0 14zm0 1zm0 11zm0 9zm0 42zm1-218zm0 36zm0 13zm0 5zm0 15zm0 7zm0 8zm0 2zm0 8zm0 0zm0 32zm0 3zm0 2zm0 10zm0 3zm0 6zm0 1zm0 8zm0 22zm1-138zm0 14zm0 15zm0 8zm0 12zm0 10zm0 4zm0 6zm0 27zm0 7zm0 4zm0 1zm0 16zm1-85zm0 49zm0 11zm1-64zm0 122zm0 10zm1-204zm0 70zm1-76zm0 29zm0 2zm0 59zm0 12zm0 0zm0 18zm0 26zm1-139zm0 55zm0 5zm0 13zm0 22zm0 25zm0 25zm0 13zm0 24zm1-162zm0 5zm0 25zm0 14zm0 9zm0 22zm0 0zm0 0zm0 5zm0 10zm0 3zm0 26zm0 88zm1-221zm0 67zm0 12zm0 10zm0 14zm0 13zm0 16zm1-12zm0 11zm0 44zm1-43z" stroke="#1f77b4" stroke-width="7.4"/>
<path d="M3 52zm0 4zm0 17zm0 4zm0 29zm1-43zm0 25zm1-53zm0 22zm0 10zm1-35zm1 37zm0 10zm0 28zm0 12zm1-68zm0 13zm1-2zm0 3zm0 2zm0 12zm0 23zm1-50zm0 10zm0 7zm0 74zm1-104zm0 7zm0 2zm0 6zm0 11zm0 115zm1-154zm0 55zm0 32zm0 4zm0 29zm0 53zm2-149zm0 6zm0 15zm0 1zm0 12zm0 0zm0 6zm0 39zm1-49zm1-23zm0 9zm0 31zm0 63zm1-94zm0 26zm0 11zm0 22zm0 9zm2-94zm1 31zm0 15zm0 66zm1-107zm0 101zm1-110zm0 14zm0 22zm1 8zm0 51zm0 52zm1-121zm0 19zm0 9zm0 45zm1-60zm1-30zm2 31zm1 14zm1-34zm0 11zm0 57zm1-98zm0 56zm0 88zm1-71zm2-1zm0 33zm0 98zm1-86zm1-95zm0 29zm0 4zm0 6zm0 4zm0 74zm1-113zm0 9zm0 19zm0 3zm0 7zm0 24zm1-80zm0 1zm0 21zm0 8zm0 3zm0 23zm0 57zm1-103zm0 46zm1-23zm0 12zm0 40zm1-85zm0 5zm0 8zm0 14zm0 4zm0 19zm0 17zm0 14zm0 12zm0 56zm1-155zm0 22zm0 20zm0 2zm0 0zm0 9zm0 14zm0 7zm0 7zm0 27zm0 7zm1-78zm0 13zm1 15zm1-40zm0 4zm0 56zm0 66zm1-149zm0 1zm0 1zm0 8zm0 4zm0 11zm0 14zm0 0zm0 3zm0 12zm0 1zm0 1zm0 12zm0 8zm1-60zm0 6zm0 4zm0 3zm0 5zm0 4zm0 4zm0 5zm0 8zm1-50zm1-4zm0 4zm0 5zm0 12zm0 2zm0 11zm0 1zm0 18zm0 3zm0 9zm1-48zm0 47zm0 1zm1-66zm0 25zm0 15zm0 22zm1-47zm0 106zm1-17zm2-86zm0 15zm0 4zm1-7zm0 35zm0 8zm1-42zm1 35zm1-59zm0 10zm0 40zm0 21zm1 10zm0 20zm1-39zm0 64zm2-123zm0 35zm1-35zm0 10zm0 5zm0 7zm0 12zm0 20zm0 64zm0 20zm1-134zm0 20zm0 26zm0 5zm2 33zm1-74zm0 45zm0 3zm0 13zm1-67zm0 23zm1 13zm2 2zm2 2zm1-49zm0 42zm1-1zm1-13zm0 9zm1-9zm0 90zm1-96zm2 142zm1-160zm0 11zm0 16zm0 2zm0 26zm0 5zm1-61zm0 13zm0 2zm0 45zm0 133zm1-206zm0 42zm0 6zm0 34zm1-23zm1 2zm1-59zm0 9zm0 16zm0 39zm0 49zm1-79zm0 1zm0 13zm1-43zm0 9zm0 27zm0 5zm1-5zm0 114zm1-140zm0 65zm1-45zm0 18zm0 1zm1-16zm0 16zm0 14zm0 36zm1-64zm0 8zm0 1zm0 4zm0 16zm0 43zm0 5zm1-100zm0 5zm0 36zm0 2zm0 7zm0 14zm1-83zm0 9zm1 51zm0 81zm1-93zm0 48zm1-52zm1-37zm0 13zm0 24zm0 2zm0 37zm1-78zm0 33zm0 17zm0 3zm0 0zm0 32zm2-53zm0 18zm0 119zm2-153zm0 10zm0 5zm1-17zm0 18zm0 1zm0 52zm0 129zm1-205zm0 13zm1-16zm0 8zm0 125zm1-140zm0 34zm0 0zm0 11zm0 16zm0 32zm1-61zm0 2zm0 19zm1-2zm0 3zm1-3zm1-52zm0 62zm0 13zm1-48zm0 8zm0 6zm0 9zm0 11zm0 75zm1-89zm0 3zm0 2zm0 15zm0 34zm1-42zm1-49zm0 12zm1 2zm21 104zm1-99zm0 6zm0 4zm0 2zm0 7zm0 11zm0 16zm0 71zm1-82zm1-37zm1 28zm1-28zm4-14zm0 5zm0 26zm0 24zm1-33zm0 26zm0 69zm0 14zm1-67zm1-72zm0 3zm0 6zm0 8zm0 19zm0 8zm0 14zm0 14zm0 32zm1-72zm0 3zm0 6zm0 11zm0 4zm0 14zm1-31zm0 4zm2-48zm0 12zm0 20zm0 18zm0 31zm0 12zm1-88zm0 9zm0 37zm0 9zm0 75zm0 80zm1-122zm0 123zm1-164zm0 66zm1-94zm2-4zm0 18zm1-21zm0 4zm0 1zm0 10zm0 20zm0 22zm1-76zm0 41zm0 2zm0 4zm0 4zm0 41zm1-49zm0 29zm1-59zm1 12zm0 26zm2-22zm0 23zm1-17zm0 2zm1 27zm1-58zm1 17zm0 28zm1-25zm0 19zm0 3zm0 5zm0 67zm2-95zm1 43zm4 2zm0 54zm1-117zm0 40zm0 20zm0 5zm1-74zm0 3zm0 23zm0 33zm0 84zm1-129zm0 13zm0 1zm0 14zm0 9zm1-41zm0 58zm0 52zm2-85zm0 31zm0 30zm0 8zm1-70zm1-6zm0 1zm0 19zm0 8zm2-3zm0 25zm1-39zm0 10zm0 2zm0 141zm1-171zm0 12zm0 11zm0 11zm0 51zm1-106zm0 36zm0 35zm0 14zm0 7zm0 48zm1-91zm0 1zm0 11zm1-40zm0 17zm0 73zm0 37zm1-131zm3 21zm0 16zm1-38zm0 18zm0 11zm0 4zm0 7zm0 0zm0 50zm0 9zm0 12zm0 18zm1-128zm0 15zm0 4zm0 83zm1-96zm0 16zm0 1zm0 7zm0 11zm1-52zm0 8zm0 7zm0 1zm0 1zm0 13zm0 12zm0 3zm0 15zm0 89zm1-146zm0 4zm0 10zm0 21zm0 2zm0 3zm0 10zm0 4zm0 0zm0 48zm0 64zm1-160zm0 11zm0 9zm0 18zm1-21zm0 83zm1-93zm0 19zm1-25zm0 31zm0 0zm0 18zm0 30zm1-34zm0 9zm0 43zm0 73zm1-168zm0 8zm1 2zm0 8zm0 25zm1-40zm0 21zm0 8zm0 14zm1-44zm0 4zm0 23zm0 13zm0 52zm1-93zm2 81zm1-66zm0 15zm1-11zm0 22zm0 7zm0 0zm1-45zm0 11zm0 2zm0 3zm0 7zm0 19zm1-54zm0 6zm0 12zm0 1zm0 4zm0 8zm0 12zm0 10zm0 14zm0 35zm0 17zm0 29zm0 51zm1-168zm0 4zm0 32zm0 98zm1-67zm1-88zm0 16zm0 2zm1-2zm0 26zm1-60zm0 8zm0 49zm1 126zm1-175zm0 26zm0 20zm0 5zm0 48zm0 17zm0 12zm1-116zm0 10zm0 5zm0 0zm0 4zm0 0zm0 1zm0 17zm0 8zm1 1zm0 4zm0 21zm1-48zm0 6zm2-32zm0 17zm0 18zm0 165zm1-214zm0 34zm0 4zm0 6zm0 20zm1-35zm0 15zm0 15zm1-38zm0 4zm0 2zm0 2zm0 4zm0 1zm0 5zm0 4zm0 2zm0 8zm0 4zm0 5zm0 63zm1-91zm0 10zm0 15zm0 7zm0 19zm1-70zm0 49zm2 62zm1-123zm0 19zm0 14zm0 74zm1-98zm0 14zm0 0zm0 3zm0 5zm0 18zm0 18zm0 11zm0 14zm1-21zm0 34zm0 105zm1-82zm0 48zm1-69zm1 3zm0 11zm0 8zm0 9zm0 9zm1-37zm0 2zm0 66zm1-134zm0 66zm0 4zm0 22zm1-36zm0 7zm0 52zm0 12zm0 7zm1-86zm0 9zm0 6zm0 8zm0 5zm0 4zm0 17zm0 14zm0 3zm0 32zm1-89zm0 9zm0 28zm0 9zm0 4zm0 27zm0 33zm1-87zm0 9zm0 14zm0 49zm1-131zm0 22zm0 2zm0 35zm1-34zm0 52zm0 5zm0 9zm0 25zm1-116zm0 8zm0 10zm0 4zm0 7zm0 16zm0 7zm0 3zm0 11zm0 9zm0 0zm0 24zm0 17zm0 5zm0 16zm1-113zm0 18zm0 12zm0 0zm0 9zm0 10zm0 2zm0 7zm0 0zm0 20zm0 0zm0 23zm1-77zm0 7zm0 1zm0 1zm0 18zm0 28zm0 1zm1-102zm0 23zm0 4zm0 30zm1 11zm0 3zm0 13zm0 5zm1-130zm0 20zm0 46zm0 0zm0 55zm0 35zm1-108zm0 64zm0 46zm1-42zm0 13zm2-85zm0 42zm1 30zm1-38zm0 28zm0 46zm1-59zm0 12zm0 16zm0 19zm1-50zm0 21zm0 11zm1-13zm1-13zm1-21zm0 7zm0 19zm0 1zm0 39zm3-53zm0 12zm1-30zm0 2zm0 7zm1 27zm0 45zm0 39zm1-121zm0 32zm0 4zm0 16zm1-38zm0 12zm0 9zm1 10zm1-76zm0 13zm0 55zm0 5zm0 10zm1 46zm1-17zm1-76zm0 25zm0 16zm1 21zm1-103zm0 23zm0 54zm0 7zm0 12zm0 1zm0 27zm1-95zm0 67zm0 66zm1-89zm0 13zm0 33zm0 9zm1-104zm0 28zm0 33zm1-36zm0 22zm0 18zm1-84zm0 40zm0 105zm1-217zm0 144zm0 11zm0 12zm0 8zm1-65zm0 5zm0 11zm0 2zm0 31zm0 47zm1-120zm0 17zm0 39zm0 13zm0 14zm1-78zm0 35zm0 1zm0 7zm0 21zm0 46zm1-145zm0 40zm0 8zm0 4zm0 3zm0 18zm0 15zm0 2zm0 4zm0 5zm0 9zm1-51zm0 37zm2 8zm1-43zm0 21zm0 22zm0 18zm1-55zm0 0zm0 0zm2-38zm0 33zm0 10zm0 8zm0 7zm0 7zm1-25zm0 32zm1-50zm0 64zm0 2zm1-76zm0 88zm1 33zm2-101zm0 40zm1-46zm0 14zm0 7zm0 33zm1-60zm0 1zm0 3zm1 9zm0 16zm1-53zm0 29zm0 35zm1-26zm0 15zm0 11zm0 0zm0 12zm0 49zm1-81zm0 12zm0 13zm1-122zm0 77zm0 9zm0 11zm0 1zm0 31zm1-103zm0 67zm1-26zm0 26zm0 5zm0 13zm0 7zm1-18zm0 20zm1-40zm0 4zm0 11zm0 46zm0 19zm0 14zm1-117zm0 54zm0 3zm0 1zm1 20zm1 36zm1-125zm0 8zm0 22zm0 35zm0 11zm0 24zm0 0zm0 10zm0 7zm1-94zm0 1zm0 6zm0 6zm0 3zm0 5zm0 1zm0 11zm0 50zm0 40zm1-147zm0 37zm0 3zm0 40zm1-67zm0 85zm0 2zm1-80zm0 62zm1-28zm4-37zm1 5zm0 7zm1-84zm0 128zm1-17zm0 22zm0 21zm0 33zm2-112zm0 13zm0 11zm0 4zm0 44zm1-39zm0 30zm0 6zm2-62zm0 12zm1 1zm0 23zm0 21zm1-78zm0 7zm0 47zm1 1zm0 7zm1-67zm0 8zm0 50zm0 2zm0 43zm1-82zm0 19zm0 12zm0 38zm1-95zm0 51zm0 9zm0 25zm1-107zm0 9zm0 37zm0 20zm0 22zm0 77zm1-119zm0 24zm1-40zm0 7zm0 93zm1-40zm0 20zm0 59zm1-123zm0 36zm0 32zm1-58zm0 16zm0 52zm0 2zm0 6zm0 7zm2-47zm0 26zm1-55zm0 15zm0 46zm0 35zm1-95zm0 23zm0 0zm0 11zm1 9zm0 4zm0 8zm0 2zm1-50zm1 49zm1-74zm0 11zm0 10zm0 64zm0 3zm0 18zm0 1zm2-90zm0 7zm0 4zm0 3zm0 7zm1-23zm0 22zm1-40zm0 46zm0 37zm0 5zm1-23zm1-63zm1 11zm0 10zm0 4zm0 61zm1-59zm0 99zm1-94zm1 13zm0 20zm1-53zm0 15zm0 23zm0 35zm1-106zm0 61zm0 22zm0 9zm1-87zm0 14zm0 11zm0 31zm1-26zm2 19zm1-33zm0 32zm0 25zm0 13zm0 17zm0 2zm1-104zm0 13zm0 1zm0 1zm0 25zm0 17zm0 0zm0 12zm0 2zm0 72zm1-123zm0 45zm0 26zm0 2zm0 47zm0 3zm1-138zm0 22zm0 5zm0 28zm1-41zm0 35zm0 31zm1-10zm0 8zm1-51zm0 76zm1-72zm1 1zm0 90zm1-74zm1-5zm0 5zm1-53zm0 27zm0 17zm0 0zm0 8zm0 18zm1-56zm0 18zm0 6zm0 2zm0 5zm0 1zm0 37zm0 5zm0 55zm1-127zm0 10zm0 14zm0 13zm0 3zm0 15zm0 6zm0 30zm0 8zm1-33zm0 24zm1-141zm0 57zm0 98zm1-58zm0 8zm0 26zm1-127zm0 84zm0 11zm0 5zm0 32zm0 18zm0 7zm1-65zm1-21zm0 44zm0 49zm1-134zm0 88zm1-7zm0 7zm0 13zm0 0zm1-60zm0 21zm0 10zm0 9zm0 24zm1-86zm0 22zm0 2zm0 13zm0 9zm1-30zm0 31zm0 9zm0 9zm1 7zm1-84zm0 38zm0 9zm1-68zm0 19zm0 40zm0 5zm0 12zm0 0zm0 6zm1-47zm1 30zm0 25zm4-48zm0 46zm1-44zm0 4zm0 32zm0 27zm0 18zm1-106zm0 79zm2-43zm0 29zm0 35zm1-84zm0 8zm0 39zm0 61zm1-128zm0 54zm0 50zm1-112zm0 63zm1 49zm0 10zm1-59zm0 14zm1-48zm0 87zm1-79zm0 82zm1-123zm0 76zm0 5zm1-34zm0 29zm1-8zm0 24zm1-64zm1 43zm0 21zm1-84zm0 75zm0 5zm1-47zm0 9zm0 16zm0 3zm0 28zm0 23zm1-92zm0 24zm0 5zm0 8zm0 27zm1-32zm0 9zm0 4zm0 10zm0 27zm0 19zm1-56zm0 7zm0 12zm0 41zm1-121zm0 32zm0 5zm0 13zm0 5zm0 2zm1-48zm0 21zm0 5zm0 12zm0 18zm0 15zm0 16zm0 10zm0 3zm0 14zm0 7zm0 19zm1-139zm0 10zm0 23zm0 0zm0 43zm0 56zm1-64zm0 23zm0 14zm1-185zm0 119zm1-98zm0 93zm0 0zm0 18zm0 30zm1-52zm0 12zm0 17zm0 5zm1-10zm0 42zm1-114zm0 40zm1-20zm0 53zm0 29zm1-41zm1 34zm2-140zm1-19zm3 1zm1 50zm1-54zm0 6zm5 0zm0 8zm1-6zm0 10zm0 46zm1-60zm2 19zm0 3zm3-17zm2 2zm1-11zm2 12zm1-11zm0 1zm0 4zm0 1zm0 5zm0 10zm1-20zm1 6zm0 1zm2 5zm3 5zm2-12zm1-7zm3 20zm1 6zm3-24zm2 12zm4-3zm2-7zm2 11zm1-8zm0 189zm1-175zm0 20zm4 98zm4-133zm2 13zm1-14zm2 14zm1-17zm1 2zm0 13zm0 3zm1 178zm5-196zm2 1zm1 174zm2-170zm1 2zm0 3zm2-10zm0 2zm0 13zm0 57zm1-65zm0 3zm1-1zm1 18zm4-16zm1-9zm2 18zm14-12zm0 3zm13-3zm17 4zm8 4zm5-11zm1-6zm0 1zm0 18zm1-12zm5 10zm5-11zm1 10zm6-16zm4-1zm1 33zm22-26zm1 7zm1-2zm8 5zm0 2zm5 9zm1-17zm0 11zm2 23zm2-9zm7-13zm5 23zm0 125zm1-122zm0 42zm0 20zm0 17zm0 16zm0 4zm0 46zm1-70zm0 10zm0 3zm0 49zm2 39zm2-55zm4-31zm0 30zm0 47zm1-49zm3-55zm3-11zm2 74zm0 52zm2-41zm1-64zm0 81zm2-144zm0 14zm0 42zm0 65zm0 41zm1-45zm0 22zm1-132zm0 70zm0 39zm0 0zm0 26zm0 15zm0 1zm0 13zm1-107zm0 33zm0 60zm0 0zm1-96zm0 11zm0 58zm0 20zm0 8zm3-89zm1-42zm0 99zm0 7zm0 35zm1-76zm1 30zm2-9zm1-2zm2-77zm0 9zm0 127zm2-36zm1 13zm1-42zm0 1zm0 28zm1-22zm0 5zm1-107zm1 90zm4-14zm1 8zm0 24zm1-2zm0 37zm1-63zm0 40zm0 2zm0 0zm1-57zm0 21zm0 50zm0 20zm2-5zm1-55zm1-64zm0 34zm0 10zm0 16zm3-33zm0 33zm0 3zm0 17zm0 18zm1-74zm2 89zm4-28zm0 33zm1-105zm0 18zm0 52zm0 18zm1-78zm0 12zm0 17zm0 4zm0 5zm0 3zm0 8zm0 13zm0 33zm3-80zm0 77zm1-30zm6 9zm1-71zm0 31zm1-9zm0 18zm0 0zm0 13zm0 17zm1-113zm0 75zm0 8zm0 6zm0 46zm0 0zm1-50zm1-58zm0 24zm0 36zm0 1zm0 14zm1 31zm2-99zm1-26zm0 59zm0 7zm1-27zm0 44zm1 13zm1-43zm0 31zm1-75zm0 45zm0 1zm0 5zm0 23zm0 10zm0 1zm1-63zm0 71zm0 28zm1-58zm0 15zm0 26zm2-45zm0 40zm1-56zm0 18zm0 23zm1-36zm1 18zm5 22zm0 3zm1-66zm0 23zm0 2zm0 33zm0 45zm8-114zm2 51zm0 30zm2 0zm1-79zm0 3zm3-13zm0 7zm1 28zm3 65zm1-38zm0 18zm0 40zm1 5zm1-43zm0 16zm2-98zm0 23zm0 67zm0 12zm1-25zm1-96zm0 123zm3-23zm3-105zm0 42zm1-85zm0 27zm0 32zm0 49zm3-9zm0 10zm2-79zm0 83zm2-57zm0 77zm1 3zm0 31zm0 24zm1-23zm1-34zm1-37zm1 43zm0 19zm0 35zm1-140zm0 38zm0 33zm0 8zm1-2zm0 23zm0 38zm1-141zm0 61zm0 9zm0 8zm0 4zm0 10zm0 3zm0 3zm0 22zm1-112zm0 59zm0 26zm0 1zm0 23zm0 3zm0 6zm1-161zm1 9zm0 96zm0 18zm0 42zm1-65zm0 4zm1-2zm0 5zm0 3zm0 45zm1-50zm0 52zm0 17zm3-74zm0 54zm2-66zm3 45zm4-40zm0 52zm0 18zm1-149zm1 79zm4-7zm1 51zm4-71zm1-1zm1-3zm0 9zm3 13zm1 18zm1-98zm0 2zm1-14zm0 43zm0 16zm0 3zm0 35zm0 26zm0 11zm1-72zm0 14zm0 25zm0 3zm0 10zm2 33zm1-93zm3-19zm0 48zm0 34zm0 48zm1-163zm0 72zm1 4zm2 9zm0 62zm4-119zm1 43zm1 71zm1-74zm0 102zm1-156zm1 65zm1 29zm1 26zm1-79zm0 29zm0 8zm0 71zm1-74zm0 41zm0 44zm1-141zm0 17zm0 47zm0 2zm0 2zm0 22zm1-86zm0 52zm0 34zm1-6zm2 22zm1-67zm0 8zm0 70zm2-11zm8 40zm1-174zm0 24zm0 136zm1 2zm2-126zm0 51zm1-48zm0 16zm0 36zm0 29zm1-77zm0 23zm0 27zm0 2zm1-34zm0 1zm0 28zm0 2zm0 5zm0 49zm1-77zm0 43zm1-49zm0 6zm0 32zm0 33zm1-52zm0 83zm3-145zm0 58zm0 4zm0 25zm1-74zm0 30zm0 30zm0 20zm1-112zm0 32zm0 15zm0 1zm0 24zm0 43zm1-129zm0 39zm0 74zm0 40zm3 14zm1-48zm0 11zm0 22zm1-83zm0 20zm0 17zm0 3zm0 9zm0 20zm1-43zm0 39zm1-28zm1-13zm0 3zm1-20zm0 40zm0 39zm0 26zm1-62zm0 43zm6-97zm0 15zm1 25zm1 52zm3-28zm2-53zm2 44zm1-54zm0 50zm1-126zm0 86zm0 7zm0 5zm0 13zm0 3zm0 5zm0 77zm1-169zm0 11zm0 15zm0 27zm0 6zm0 35zm0 10zm0 11zm0 0zm0 1zm0 39zm5-45zm1-70zm0 0zm0 12zm0 45zm0 7zm1-27zm3-20zm1-4zm6 62zm0 12zm1-32zm2-13zm1-31zm0 62zm1-32zm1-22zm0 0zm0 59zm1-40zm2-34zm1 7zm0 1zm0 10zm0 35zm0 2zm0 9zm0 18zm2-105zm0 67zm1 87zm1-132zm0 1zm0 104zm1-184zm0 119zm0 16zm1-12zm0 57zm1-11zm0 43zm2-142zm0 7zm1-26zm0 11zm0 13zm0 15zm0 42zm0 3zm0 0zm1-40zm0 13zm1 49zm1-62zm1-16zm1-3zm0 11zm0 16zm0 35zm1-58zm0 15zm0 36zm0 4zm1-25zm0 25zm0 60zm2-134zm0 10zm0 18zm0 6zm0 4zm0 27zm1-43zm1 13zm0 10zm8-11zm1-13zm1 80zm1-125zm0 23zm0 72zm0 10zm0 47zm1-141zm1 64zm1 16zm0 30zm0 21zm1-128zm0 69zm2 24zm2-33zm0 28zm0 41zm3-97zm0 1zm0 51zm0 26zm1-48zm1 53zm0 5zm1-68zm0 22zm0 10zm1-48zm4 16zm1-23zm0 32zm0 9zm1-64zm0 4zm0 51zm0 23zm0 1zm0 15zm0 41zm1-28zm1-57zm0 65zm1-107zm0 34zm0 15zm0 10zm0 4zm0 16zm0 0zm0 11zm1-176zm0 154zm1-46zm0 87zm2-43zm0 51zm1-72zm2 66zm1-128zm1 132zm0 5zm1-100zm0 4zm0 111zm0 8zm1-94zm0 3zm0 24zm0 2zm0 14zm0 27zm0 13zm0 5zm0 2zm0 1zm0 1zm1-104zm0 24zm0 17zm0 8zm0 44zm1-79zm0 50zm0 31zm1-124zm0 111zm1-82zm0 94zm0 2zm0 12zm1-101zm0 94zm0 5zm1-99zm0 31zm0 60zm0 13zm1-42zm0 29zm0 11zm1-110zm0 42zm0 22zm1-86zm0 22zm0 54zm1-46zm0 24zm0 35zm0 13zm0 5zm1-104zm0 29zm0 9zm0 16zm0 0zm0 29zm0 8zm0 19zm1-114zm0 65zm0 18zm0 5zm0 8zm0 31zm0 1zm1-83zm0 7zm0 47zm0 14zm0 10zm0 0zm1-222zm0 90zm0 47zm0 31zm0 2zm0 37zm1-94zm0 37zm0 13zm0 3zm0 20zm0 15zm0 14zm0 1zm1-187zm0 2zm0 29zm0 62zm0 21zm0 6zm0 12zm0 59zm0 9zm1-108zm0 2zm0 24zm0 13zm0 27zm0 17zm0 1zm0 21zm1-63zm0 36zm0 8zm0 5zm1-100zm0 48zm0 7zm0 1zm0 30zm0 27zm0 1zm0 3zm1-138zm0 11zm0 63zm0 37zm0 13zm1-89zm0 1zm0 15zm0 39zm0 17zm0 19zm1-65zm0 7zm0 11zm0 13zm0 22zm0 4zm0 15zm1-130zm0 5zm0 3zm0 25zm0 16zm0 13zm0 7zm0 6zm0 21zm0 29zm1-144zm0 33zm0 2zm0 46zm0 67zm0 2zm1-153zm0 49zm0 28zm0 14zm0 35zm0 4zm0 1zm0 12zm1-101zm0 12zm0 46zm0 8zm0 5zm0 10zm0 2zm0 20zm0 1zm0 9zm0 5zm1-131zm0 15zm0 37zm0 11zm0 10zm0 4zm0 9zm0 3zm0 1zm0 13zm0 19zm0 6zm1-149zm0 90zm0 19zm0 27zm0 11zm1-111zm0 7zm1-3zm0 1zm0 15zm0 23zm1 38zm0 16zm1-80zm0 13zm0 22zm0 6zm0 32zm0 20zm1-50zm0 6zm0 49zm1-145zm0 32zm0 41zm0 1zm0 31zm0 22zm0 11zm1-105zm0 41zm0 16zm0 56zm1-4zm117-15zm3-103zm0 23zm0 54zm1-127zm0 86zm0 18zm0 6zm1-98zm0 24zm0 21zm0 39zm0 37zm0 12zm0 16zm0 8zm0 1zm2-122zm0 2zm1 50zm0 49zm0 10zm1-101zm0 2zm0 5zm0 7zm0 17zm0 7zm1 17zm0 8zm0 6zm1-40zm2-43zm0 1zm0 22zm0 13zm0 30zm2-21zm0 0zm0 11zm0 3zm0 6zm0 3zm0 34zm0 11zm1-142zm0 6zm0 15zm0 25zm0 26zm0 9zm0 24zm0 33zm0 17zm1-133zm0 32zm0 44zm0 6zm0 11zm0 16zm0 4zm0 12zm0 6zm0 4zm2-39zm1-28zm0 66zm2-21zm0 21zm1-28zm1-33zm0 34zm1-90zm0 42zm0 9zm0 4zm0 37zm1-149zm0 63zm0 4zm0 22zm0 4zm0 6zm0 6zm0 31zm0 0zm0 2zm0 9zm1-54zm0 69zm0 5zm0 6zm1-123zm0 51zm0 7zm0 5zm0 28zm1-47zm0 19zm0 7zm0 38zm0 4zm0 4zm1-174zm0 116zm0 3zm0 39zm1-63zm0 17zm0 60zm1-44zm0 47zm1-41zm0 7zm1-63zm0 0zm0 104zm1-128zm0 35zm0 67zm0 13zm1-87zm0 60zm1-172zm0 100zm0 42zm1 14zm1-155zm0 111zm0 4zm0 17zm0 27zm0 25zm0 4zm1 9zm1-16zm1-67zm0 14zm0 8zm0 7zm0 2zm0 54zm1-164zm0 34zm0 38zm0 19zm0 1zm0 5zm0 11zm0 8zm0 23zm0 4zm0 20zm1-132zm0 59zm0 6zm0 5zm0 0zm0 48zm1 6zm2-78zm0 44zm0 28zm0 20zm1-216zm0 170zm0 9zm0 28zm0 8zm1-79zm0 12zm0 26zm0 7zm2-46zm0 3zm1-36zm0 77zm3-22zm6-29zm0 17zm0 6zm0 56zm1-72zm0 6zm0 15zm0 8zm0 13zm0 1zm0 18zm0 23zm1-80zm0 9zm0 15zm0 24zm0 2zm0 8zm0 10zm0 12zm1-71zm0 14zm0 24zm0 11zm0 4zm1-48zm1 13zm1-31zm0 15zm1 1zm0 12zm1 47zm2-55zm0 13zm0 50zm3-53zm0 37zm1-38zm0 9zm0 0zm0 31zm1-22zm0 23zm1-121zm1 106zm0 11zm1-39zm0 2zm0 27zm0 19zm4-56zm1 36zm0 14zm1-32zm0 29zm1-37zm0 49zm1-39zm0 2zm0 43zm1-131zm0 51zm0 19zm0 9zm0 19zm0 4zm0 20zm0 9zm1-75zm0 18zm0 15zm1-1zm0 3zm0 10zm0 3zm0 22zm1-27zm0 27zm2-75zm0 39zm0 21zm0 18zm1-52zm1-49zm0 43zm0 2zm0 34zm0 0zm0 2zm0 16zm1-100zm0 3zm0 42zm0 26zm0 27zm1-63zm0 8zm0 38zm1-91zm0 26zm0 25zm0 5zm0 4zm0 5zm0 7zm0 30zm0 16zm1-73zm0 21zm0 10zm0 42zm1-44zm0 6zm0 0zm0 10zm0 18zm1-69zm0 6zm0 9zm0 0zm0 22zm0 20zm0 3zm0 15zm1-60zm0 11zm0 33zm0 7zm0 16zm1-140zm0 21zm0 45zm0 24zm0 25zm0 2zm1-57zm0 30zm0 21zm0 7zm0 8zm0 12zm1-95zm0 37zm0 2zm0 8zm0 16zm0 3zm0 25zm1-70zm0 16zm0 6zm0 40zm1-33zm0 2zm1-71zm0 1zm0 13zm0 53zm0 12zm0 18zm1-68zm0 11zm0 24zm0 19zm0 13zm0 15zm1-108zm0 14zm0 65zm0 28zm1-11zm1-38zm0 2zm1-33zm0 86zm1-112zm0 45zm1 57zm1-61zm0 10zm0 43zm1-65zm0 4zm0 49zm0 21zm0 6zm1-80zm0 1zm0 14zm0 22zm0 1zm0 18zm1-42zm0 13zm0 50zm2-114zm0 2zm0 2zm0 4zm0 24zm0 13zm0 40zm0 31zm1-107zm0 30zm0 5zm0 3zm0 20zm0 14zm0 9zm1-75zm0 33zm0 14zm0 33zm1-48zm0 48zm0 5zm0 7zm1-52zm1 14zm1-148zm0 159zm0 1zm0 26zm0 14zm1-5zm5-36zm2-129zm0 31zm1 76zm0 31zm1-14zm1 6zm0 1zm0 29zm1-71zm0 46zm1-40zm1-50zm0 93zm1 8zm0 10zm1-101zm0 53zm0 5zm0 1zm0 24zm0 30zm1-103zm0 41zm0 0zm0 1zm0 8zm0 9zm0 2zm0 2zm1-3zm1-12zm0 6zm0 10zm0 2zm0 2zm0 34zm1-66zm0 0zm0 8zm0 4zm0 41zm0 9zm0 1zm1-58zm0 54zm1-78zm0 82zm0 1zm1-58zm0 22zm2 12zm1-64zm0 7zm0 72zm1-58zm0 69zm1-26zm1-28zm0 11zm0 26zm0 1zm0 2zm0 15zm1-77zm0 11zm0 17zm0 16zm0 10zm0 8zm0 3zm1-50zm0 26zm0 17zm0 3zm1-77zm1-100zm1-10zm1-24zm1 8zm0 185zm1-163zm2-20zm0 116zm0 31zm1-85zm0 26zm0 30zm1 71zm1-111zm1 111zm2-193zm0 21zm0 31zm0 57zm1-65zm0 3zm0 52zm0 120zm1-195zm0 26zm0 92zm2-15zm1-117zm0 126zm0 8zm0 27zm0 42zm1-201zm2 30zm0 91zm1-143zm0 19zm0 40zm1-7zm1-52zm0 30zm0 3zm0 59zm0 102zm6-48zm2-128zm0 10zm0 202zm1-224zm0 19zm0 24zm1 14zm9 43zm0 5zm0 55zm2-98zm1-9zm0 119zm0 3zm0 11zm0 8zm1-133zm0 140zm0 1zm1-92zm0 9zm0 8zm1 80zm2 10zm3-165zm0 23zm0 86zm3 40zm1-57zm0 9zm1-93zm0 90zm0 49zm0 14zm1-175zm0 105zm0 7zm1 16zm0 14zm2 37zm2-18zm4-152zm1-7zm0 46zm1-70zm3 39zm0 35zm1-73zm0 20zm0 45zm0 4zm0 80zm1-132zm0 3zm0 49zm0 17zm0 22zm0 74zm1-182zm0 1zm0 61zm0 3zm0 42zm0 60zm0 8zm0 20zm1-91zm0 6zm2-74zm0 27zm0 67zm0 30zm0 6zm0 3zm1-74zm0 40zm0 58zm1-217zm0 202zm1-136zm2-10zm0 5zm2 34zm3 111zm1-123zm0 7zm0 105zm1-168zm0 64zm0 20zm2 61zm1-147zm0 61zm0 140zm1-216zm0 100zm0 4zm0 66zm1-125zm0 83zm1 90zm1-71zm1 5zm0 5zm1 32zm0 4zm1-99zm1-48zm1 156zm6-74zm1 27zm0 4zm0 9zm1-78zm0 105zm1-14zm0 29zm4-120zm0 47zm0 19zm2-34zm0 59zm1-126zm1 102zm1-77zm1-27zm0 9zm0 4zm0 84zm1-3zm0 51zm3-185zm0 10zm0 153zm0 34zm1-147zm0 40zm0 37zm0 2zm1-54zm0 98zm1-73zm0 11zm0 30zm1-112zm1 4zm0 161zm1 7zm1-131zm0 24zm0 2zm0 14zm0 31zm0 9zm0 13zm1-161zm0 37zm0 5zm0 2zm0 0zm0 22zm0 8zm0 2zm0 1zm0 24zm0 5zm0 2zm0 4zm0 20zm0 8zm0 21zm2-76zm1 67zm0 54zm2-79zm9-135zm18 104zm2-97zm2 97zm3-90zm1-24zm0 15zm3 5zm2-4zm2-20zm0 3zm31 135zm3-130zm0 11zm3-13zm5-2zm0 23zm1-31zm0 47zm4-34zm4 159zm1-159zm1-4zm0 138zm2-29zm5-107zm0 12zm0 129zm1-144zm0 0zm0 16zm1-21zm2 24zm1-24zm1 7zm0 12zm4-13zm0 10zm0 1zm1-13zm0 0zm0 14zm0 118zm2-136zm0 7zm0 1zm6 1zm3-7zm5 9zm0 12zm3-8zm1 159zm4-42zm0 93zm1-63zm0 4zm1-56zm0 11zm0 12zm1-44zm0 16zm0 13zm0 42zm0 14zm1-148zm0 127zm1-106zm0 94zm0 4zm0 18zm0 54zm1-57zm1-80zm0 21zm0 5zm0 9zm0 10zm0 39zm0 5zm1-60zm0 15zm0 59zm2-38zm1-27zm0 20zm0 8zm1-80zm1 31zm1 71zm0 18zm1-115zm0 20zm0 37zm0 16zm3 45zm1-36zm1-27zm0 53zm0 35zm1-157zm0 21zm0 45zm0 52zm0 15zm1-62zm1-30zm2 11zm0 37zm1-105zm0 101zm0 9zm1-62zm0 4zm0 17zm0 1zm0 19zm0 29zm0 4zm1-54zm0 26zm0 1zm0 15zm6-41zm0 55zm0 11zm1-67zm0 38zm0 20zm0 59zm3-148zm2 101zm1-84zm0 31zm1-54zm1 60zm0 28zm1-38zm0 1zm1 70zm1-63zm0 7zm1-33zm1 1zm0 13zm0 16zm0 2zm0 35zm1-69zm0 32zm0 21zm1 13zm0 63zm4-113zm1 82zm4-65zm2-35zm0 15zm0 73zm0 2zm1-171zm0 44zm0 30zm0 20zm1-113zm0 75zm0 3zm0 41zm1-21zm0 38zm1 19zm66 0zm2-39zm0 23zm0 21zm1-24zm0 14zm0 51zm1-15zm0 15zm3-35zm1-18zm0 7zm1-53zm0 13zm1-8zm0 10zm0 45zm0 3zm0 0zm0 12zm0 3zm0 11zm0 13zm0 10zm1-6zm1-53zm1-113zm0 103zm0 12zm1-41zm0 8zm0 55zm0 45zm1-153zm0 26zm0 63zm0 2zm1 20zm0 8zm0 12zm1-69zm0 1zm0 16zm0 52zm1-155zm0 52zm0 43zm0 22zm0 6zm0 7zm0 24zm0 17zm1-170zm0 36zm0 80zm0 27zm1-57zm0 9zm1-16zm0 36zm0 0zm0 14zm0 3zm0 24zm1-142zm0 82zm0 7zm0 28zm0 5zm0 6zm0 7zm0 4zm0 3zm0 3zm0 17zm1-145zm0 24zm0 30zm0 1zm0 32zm0 38zm0 26zm1-120zm0 52zm0 19zm1-86zm0 9zm0 25zm0 54zm0 11zm0 22zm1-28zm0 4zm2-17zm0 32zm3-40zm1-33zm0 27zm0 10zm1-54zm0 1zm0 88zm1-83zm1 21zm0 42zm0 14zm1-79zm0 43zm0 48zm1-18zm0 6zm1-61zm1-22zm0 11zm0 35zm1-36zm0 3zm0 9zm0 9zm0 7zm0 11zm0 31zm1-46zm0 4zm0 18zm0 13zm0 23zm1-107zm0 34zm0 34zm0 18zm1-132zm0 160zm1-121zm0 36zm0 15zm0 18zm0 32zm0 12zm1-105zm0 24zm0 37zm0 49zm9-53zm0 28zm1-40zm0 35zm0 8zm0 3zm1-92zm0 23zm0 16zm0 2zm0 24zm0 10zm0 16zm1-115zm0 37zm0 6zm0 4zm0 30zm0 0zm0 27zm0 3zm0 27zm1-133zm0 68zm0 35zm0 4zm0 13zm0 1zm0 22zm1-125zm0 18zm0 26zm0 40zm0 16zm1-87zm1 38zm1-9zm0 21zm0 4zm0 5zm0 11zm0 13zm0 26zm1-104zm0 3zm0 23zm0 4zm0 15zm0 5zm0 41zm0 5zm0 1zm0 12zm1-101zm0 2zm0 9zm0 28zm0 11zm0 53zm1-79zm3-47zm0 99zm1-35zm0 42zm1-54zm0 38zm0 2zm1-36zm0 38zm0 31zm1-112zm0 117zm1-90zm0 12zm0 3zm0 15zm1-161zm0 125zm0 9zm0 68zm0 16zm1-122zm0 15zm0 55zm0 54zm1-36zm2-129zm0 44zm0 47zm1-65zm0 104zm0 8zm0 23zm1-60zm0 28zm1-38zm0 9zm1-70zm0 29zm0 32zm0 20zm0 9zm0 2zm1-103zm1 18zm0 71zm1-94zm0 105zm0 40zm1 8zm1-212zm0 76zm0 51zm0 15zm0 26zm0 10zm0 2zm1-109zm0 51zm0 7zm0 13zm0 8zm0 17zm0 11zm0 3zm0 16zm0 9zm1-91zm0 18zm2 46zm0 24zm0 5zm1-92zm0 38zm1-39zm0 43zm1-87zm0 49zm0 5zm0 2zm0 2zm0 2zm0 25zm0 1zm0 10zm1-160zm0 84zm0 45zm0 49zm2-142zm0 79zm0 47zm1-49zm0 34zm0 2zm1-111zm0 21zm0 64zm0 15zm1-70zm0 29zm0 36zm1-40zm0 25zm1 18zm1-56zm0 63zm0 28zm0 21zm1-92zm0 49zm0 9zm0 11zm0 9zm0 9zm0 7zm1-96zm0 3zm0 24zm0 35zm0 11zm0 25zm1-116zm0 5zm0 71zm1 2zm1-49zm0 41zm0 16zm0 34zm1-143zm0 107zm1 20zm1-75zm0 13zm0 0zm0 52zm0 1zm0 5zm1-79zm0 13zm1-84zm2 60zm2-41zm0 40zm0 6zm0 54zm0 1zm0 9zm0 38zm0 3zm1-99zm0 36zm0 21zm1-80zm0 14zm0 25zm0 15zm0 14zm0 0zm0 28zm0 26zm1-81zm1-17zm0 1zm0 3zm0 5zm0 10zm0 1zm0 7zm0 2zm0 5zm0 0zm0 14zm0 23zm0 3zm0 4zm0 4zm1-92zm0 9zm0 48zm0 3zm0 22zm1-85zm0 33zm1 37zm0 18zm1-21zm0 21zm1-124zm0 51zm0 88zm1-80zm0 2zm0 88zm0 2zm1-128zm0 13zm0 1zm1 12zm1-2zm1 5zm0 8zm0 22zm0 68zm2-58zm8-162zm1-11zm1 12zm0 7zm1-3zm3 21zm4-30zm0 9zm7-11zm1 46zm1-41zm0 12zm1-18zm0 6zm0 1zm2 3zm2-1zm1-8zm9 1zm2 6zm0 7zm0 12zm4-20zm3 8zm1-6zm1-1zm2-2zm0 13zm4 164zm4-180zm0 1zm2 5zm1 195zm2-207zm0 15zm6-7zm1 13zm3-11zm8 11zm11 4zm1 2zm7 1zm1 128zm1-156zm0 3zm1 0zm0 5zm0 7zm11-2zm1-11zm0 6zm6-1zm0 13zm0 1zm27 132zm2-116zm4-34zm4 4zm0 18zm2-23zm0 75zm1-70zm0 16zm0 84zm1-80zm0 73zm1-93zm5 153zm1-148zm33 119zm1-115zm12 67zm1-8zm3 9zm1 40zm2 71zm1-77zm1-36zm0 19zm3-41zm2-6zm1 91zm3-15zm3-44zm18 58zm0 6zm0 6zm0 0zm0 42zm1-1zm2-7zm0 23zm1-101zm0 75zm0 22zm1-62zm0 9zm0 18zm0 36zm1-101zm0 31zm0 9zm0 14zm0 4zm0 5zm0 2zm0 7zm0 28zm0 4zm1-89zm0 27zm0 68zm0 10zm1-98zm0 32zm0 67zm1-68zm0 30zm0 21zm0 9zm1-39zm0 3zm0 1zm0 37zm1-132zm0 20zm0 58zm0 14zm1-58zm0 32zm0 42zm1-111zm0 27zm0 15zm0 5zm0 18zm0 28zm0 16zm0 8zm1-69zm0 50zm0 0zm0 0zm0 20zm0 3zm0 11zm1-99zm0 60zm0 24zm0 18zm1-85zm0 26zm0 17zm0 30zm0 3zm0 1zm0 5zm1 2zm1-91zm1 17zm0 31zm0 18zm0 15zm1-145zm0 31zm0 82zm0 49zm1-37zm0 21zm0 11zm1-22zm1-16zm0 4zm0 9zm0 24zm1-128zm0 29zm0 67zm0 26zm1-25zm1-47zm0 26zm0 61zm1-130zm0 46zm0 53zm2-101zm0 48zm0 7zm0 0zm0 17zm1-73zm0 40zm1 53zm0 6zm0 10zm0 0zm2-26zm1-32zm1-26zm0 62zm1-62zm0 47zm1-56zm0 24zm0 36zm0 44zm1-87zm0 30zm0 61zm0 3zm2-66zm0 35zm1-54zm0 54zm0 23zm1-32zm0 0zm0 41zm1-27zm0 17zm1-11zm0 12zm0 0zm1-46zm0 45zm0 3zm1-115zm0 55zm0 9zm0 37zm0 3zm0 15zm0 5zm1-40zm0 1zm0 10zm1-20zm0 24zm1-70zm0 52zm0 10zm0 17zm1-92zm0 95zm1-32zm0 2zm0 8zm1-52zm0 17zm0 22zm0 3zm0 26zm0 7zm1-77zm0 15zm0 5zm0 9zm0 1zm0 21zm0 0zm0 31zm1-18zm2-49zm0 67zm1-94zm0 58zm0 9zm1-49zm0 78zm1-69zm0 11zm0 7zm0 28zm0 9zm1-97zm0 10zm0 17zm0 40zm0 1zm1-69zm0 15zm0 21zm2 1zm0 17zm0 27zm0 24zm0 11zm1-121zm0 29zm0 19zm0 10zm0 8zm0 2zm0 17zm0 9zm0 0zm0 29zm0 3zm1-138zm0 46zm0 4zm0 12zm0 15zm0 7zm0 6zm0 1zm0 0zm0 0zm0 7zm0 4zm0 25zm0 8zm1-125zm0 12zm0 6zm0 70zm0 4zm1-31zm0 20zm0 4zm0 7zm0 3zm1-44zm0 25zm0 44zm0 3zm1-139zm0 84zm0 11zm0 2zm0 0zm0 8zm0 25zm0 0zm0 0zm0 0zm1-42zm0 38zm1-83zm0 14zm1 78zm0 5zm4-84zm0 52zm1-106zm0 32zm0 53zm1 39zm0 8zm1-116zm0 32zm0 12zm0 53zm0 16zm1-75zm0 47zm0 3zm1-111zm0 63zm0 15zm0 11zm0 11zm0 2zm0 22zm1-31zm0 25zm0 27zm1-188zm0 94zm0 54zm1-95zm0 25zm0 69zm0 1zm0 27zm0 14zm1-95zm0 4zm0 58zm0 0zm2 31zm23-229zm1 19zm1-1zm0 125zm1-133zm0 3zm0 11zm3-23zm1 124zm1-122zm2-4zm1 16zm7-15zm2 4zm2 14zm0 117zm1-130zm5-1zm2 0zm0 12zm4 2zm0 92zm2-102zm5 10zm5-5zm1-12zm1 14zm4-5zm2 3zm7-11zm0 16zm1-14zm0 5zm0 2zm0 2zm1-1zm2 3zm6 198zm6-207zm0 23zm0 44zm1-44zm0 3zm0 11zm0 62zm0 4zm0 14zm0 8zm0 17zm0 9zm1-121zm0 7zm0 39zm0 18zm0 14zm0 44zm1-151zm0 46zm0 41zm0 3zm0 19zm1-89zm0 5zm0 91zm0 13zm1-67zm0 6zm1-37zm0 53zm0 31zm0 12zm0 13zm1-87zm0 71zm1-106zm0 20zm0 25zm0 1zm0 9zm0 9zm0 50zm0 17zm1-143zm0 86zm0 15zm1-52zm0 1zm0 40zm0 43zm1-127zm0 31zm0 15zm0 11zm0 0zm0 48zm0 16zm0 2zm1-126zm0 56zm0 14zm0 39zm1-119zm0 19zm0 25zm0 0zm0 7zm0 19zm0 5zm0 7zm0 22zm0 2zm0 1zm0 9zm0 8zm0 3zm1-52zm0 1zm0 21zm0 13zm1-89zm0 0zm0 50zm0 0zm0 15zm0 24zm0 11zm1-24zm0 129zm1-153zm1 8zm0 3zm0 10zm0 42zm0 7zm1-35zm0 18zm0 53zm1-131zm0 12zm0 30zm0 16zm0 28zm0 50zm1-122zm0 8zm0 29zm0 2zm1-84zm0 12zm0 51zm0 12zm0 3zm0 5zm0 29zm1-87zm0 54zm0 6zm0 4zm0 52zm1-146zm0 19zm0 31zm0 19zm0 23zm0 15zm0 15zm1-114zm0 9zm0 11zm0 7zm0 59zm1-31zm0 75zm1-91zm0 19zm0 17zm0 10zm0 59zm1-148zm0 81zm0 2zm1-65zm0 70zm0 4zm1-95zm0 15zm0 25zm0 1zm0 37zm0 0zm0 11zm0 69zm1-111zm0 7zm0 15zm0 10zm0 22zm0 36zm1-120zm0 14zm0 5zm0 2zm0 1zm0 8zm0 10zm0 63zm0 6zm0 22zm0 7zm0 4zm0 1zm1-143zm0 9zm0 1zm0 45zm0 1zm0 2zm0 36zm1-118zm0 50zm0 6zm0 7zm0 4zm0 8zm0 3zm0 5zm0 4zm0 18zm0 13zm0 13zm0 4zm0 2zm0 21zm1-128zm0 13zm0 39zm0 27zm1-76zm10 18zm0 2zm0 59zm0 11zm1-95zm0 11zm0 80zm0 22zm1 48zm3-139zm0 58zm1-59zm0 25zm1-43zm0 14zm0 11zm0 32zm0 17zm0 61zm1-128zm0 7zm0 34zm0 7zm0 0zm0 0zm0 43zm0 3zm1-62zm3-62zm1 37zm0 40zm0 30zm1-19zm0 19zm1-63zm2 18zm1-13zm0 3zm1-62zm0 77zm1-2zm1-45zm0 44zm0 27zm1-88zm1-10zm0 40zm0 7zm0 26zm0 35zm0 41zm1-113zm0 6zm0 51zm0 34zm0 59zm1-192zm0 16zm0 61zm0 3zm1 29zm1-54zm1 70zm1-133zm0 18zm0 2zm0 36zm0 16zm0 7zm0 21zm0 4zm0 64zm1-164zm0 9zm0 1zm0 37zm0 2zm0 47zm0 6zm0 19zm1-87zm0 62zm1-3zm1 63zm1-94zm1 99zm1-101zm0 66zm3-2zm0 51zm1-157zm0 8zm0 8zm0 1zm0 51zm0 56zm1-21zm0 20zm1-88zm1 48zm0 11zm0 29zm2-60zm0 36zm0 1zm0 4zm1-90zm0 15zm1 98zm1-129zm2 1zm1 109zm0 61zm1-130zm0 52zm0 19zm1-117zm0 15zm0 0zm0 21zm0 15zm0 22zm0 4zm1-55zm0 39zm0 34zm0 31zm1-36zm1-87zm0 95zm1-95zm0 5zm0 1zm1 186zm1-119zm0 13zm0 4zm1-57zm0 34zm0 18zm0 13zm0 41zm1-30zm0 38zm1-90zm0 12zm0 6zm0 18zm0 76zm0 37zm0 5zm1-114zm0 10zm0 3zm0 1zm0 27zm0 1zm0 5zm0 1zm1-72zm0 63zm0 0zm0 3zm0 5zm0 5zm0 20zm0 10zm0 26zm1-156zm0 12zm0 46zm0 70zm1-75zm0 42zm0 22zm1-35zm0 6zm0 36zm0 15zm1-99zm0 5zm0 3zm0 15zm0 5zm0 38zm0 40zm1-108zm0 12zm0 3zm0 21zm0 2zm0 18zm0 22zm0 43zm1-182zm0 52zm0 21zm2 25zm1-49zm0 22zm0 26zm0 12zm0 4zm0 22zm0 8zm1-99zm0 3zm0 109zm1-119zm0 71zm0 8zm0 11zm0 37zm0 24zm1-111zm0 65zm0 2zm0 25zm1-3zm0 7zm1-111zm0 82zm1-88zm0 5zm0 52zm0 7zm1-14zm0 32zm1-86zm0 26zm0 19zm0 16zm0 11zm0 20zm0 8zm1-103zm0 34zm0 30zm0 20zm0 9zm0 4zm1-137zm0 16zm0 41zm0 1zm0 81zm1-168zm0 151zm1-136zm0 34zm0 10zm0 41zm1-11zm0 3zm0 72zm1-119zm0 33zm0 2zm0 79zm1-100zm0 46zm0 36zm1-127zm0 22zm0 34zm0 13zm0 23zm0 27zm1-93zm0 29zm0 11zm0 9zm1-35zm0 8zm0 1zm0 19zm0 5zm0 2zm0 38zm0 24zm1-149zm0 95zm0 24zm0 2zm0 62zm1-122zm0 11zm0 13zm0 2zm0 0zm0 36zm0 23zm1-154zm0 36zm0 10zm1 7zm0 1zm0 17zm0 3zm0 16zm0 5zm0 12zm0 9zm0 7zm1-136zm0 53zm0 9zm0 6zm0 100zm1-150zm0 20zm0 15zm0 1zm0 25zm0 19zm0 12zm0 8zm0 7zm0 11zm0 7zm0 0zm0 51zm1-195zm0 27zm0 55zm0 1zm0 1zm0 5zm0 0zm0 5zm0 4zm0 4zm0 7zm0 4zm0 2zm0 5zm0 6zm0 0zm0 13zm0 5zm0 34zm0 28zm1-158zm0 25zm0 22zm0 4zm0 3zm0 16zm0 9zm0 17zm0 82zm1-167zm20 62zm0 30zm1-1zm0 57zm1-80zm0 3zm0 13zm1-64zm0 62zm0 36zm0 10zm0 8zm0 22zm1-93zm0 13zm0 14zm0 9zm0 64zm3-107zm1-9zm2-6zm0 18zm0 28zm0 28zm0 40zm3-48zm0 21zm0 13zm0 4zm0 3zm0 12zm1-115zm0 38zm0 12zm0 15zm0 16zm0 1zm0 10zm0 24zm1-98zm0 5zm0 66zm0 21zm0 12zm1-57zm0 18zm1-83zm0 31zm0 27zm0 38zm1-27zm0 20zm0 29zm1-89zm0 22zm1 1zm0 40zm4-95zm0 23zm0 10zm0 17zm0 20zm0 1zm0 2zm0 2zm0 36zm1-136zm0 65zm0 17zm0 19zm0 2zm0 49zm1-77zm0 13zm1-23zm0 23zm0 57zm1-188zm0 60zm0 24zm0 51zm0 5zm0 13zm0 22zm1-74zm0 35zm1-59zm1-52zm0 78zm1-32zm0 0zm1-41zm0 57zm0 12zm0 7zm0 19zm0 3zm0 11zm0 10zm0 11zm1-50zm0 12zm1-81zm1-22zm1 83zm1 34zm0 47zm1-41zm0 33zm2-114zm0 32zm1-122zm0 106zm0 9zm0 32zm0 7zm0 4zm0 23zm0 15zm0 8zm1-89zm0 9zm0 18zm0 12zm0 9zm0 18zm0 4zm1-49zm0 70zm1-15zm1-67zm4 23zm0 70zm1-94zm1 1zm0 68zm1-96zm2 21zm1 21zm1-7zm1-32zm0 33zm0 15zm0 39zm0 13zm1-92zm4-13zm0 79zm1-10zm0 18zm1-34zm0 0zm3-44zm0 44zm1-53zm0 37zm5 55zm2-42zm1-53zm0 46zm0 26zm0 8zm0 7zm0 1zm0 37zm1-99zm0 32zm0 18zm0 14zm0 1zm0 20zm0 8zm0 2zm1-169zm0 86zm0 24zm0 3zm0 2zm0 20zm0 2zm0 2zm0 7zm0 22zm0 2zm0 10zm1-140zm0 41zm0 13zm0 10zm0 0zm0 7zm0 12zm0 3zm0 5zm0 29zm0 15zm1-96zm0 0zm0 25zm0 13zm0 18zm0 21zm0 1zm0 14zm0 6zm1-122zm0 29zm0 6zm0 8zm0 14zm0 7zm0 16zm0 0zm0 6zm1-63zm0 2zm0 8zm0 10zm0 15zm0 8zm0 11zm0 1zm0 6zm0 21zm0 1zm0 12zm0 3zm1-146zm0 10zm0 9zm0 5zm0 4zm0 12zm0 19zm0 9zm0 5zm0 6zm0 11zm0 5zm0 8zm0 20zm0 1zm0 4zm0 1zm0 1zm0 5zm0 6zm0 6zm1-124zm0 24zm0 7zm0 5zm0 6zm0 19zm0 2zm0 5zm0 3zm0 3zm0 3zm0 2zm0 9zm0 1zm0 4zm0 11zm0 0zm0 17zm0 4zm1-157zm0 28zm0 8zm0 7zm0 4zm0 13zm0 3zm0 15zm0 10zm0 5zm0 12zm0 9zm0 8zm0 0zm0 0zm0 3zm0 7zm0 0zm0 2zm0 2zm0 12zm0 5zm1-123zm0 13zm0 16zm0 4zm0 1zm0 5zm0 11zm0 10zm0 6zm0 8zm0 2zm0 8zm0 7zm0 1zm0 6zm0 4zm0 5zm1-111zm0 6zm0 32zm0 9zm0 0zm0 12zm0 24zm0 12zm0 6zm0 5zm0 4zm0 4zm0 13zm1-115zm0 1zm0 34zm0 1zm0 17zm0 12zm0 5zm0 9zm0 1zm0 30zm1-119zm0 27zm0 2zm0 4zm0 26zm0 9zm0 13zm0 2zm0 11zm0 15zm0 1zm0 20zm1-173zm0 80zm0 0zm0 5zm0 6zm0 27zm0 7zm0 5zm0 3zm0 6zm0 1zm0 2zm0 6zm0 6zm0 12zm0 1zm1-142zm0 45zm0 11zm0 6zm0 5zm0 12zm0 7zm0 5zm0 11zm0 8zm0 15zm0 1zm0 1zm0 9zm0 6zm1-76zm0 0zm0 6zm0 9zm0 6zm0 11zm0 0zm0 45zm1-117zm0 77zm0 4zm0 2zm0 5zm0 9zm1-118zm0 6zm0 31zm0 19zm0 11zm0 0zm0 11zm0 13zm0 5zm0 17zm0 3zm0 21zm1-123zm0 19zm0 11zm0 2zm0 14zm0 11zm0 14zm0 1zm0 1zm0 11zm0 8zm0 24zm0 5zm0 6zm0 2zm1-150zm0 5zm0 7zm0 14zm0 6zm0 23zm0 9zm0 20zm0 0zm0 5zm0 5zm0 7zm0 13zm0 9zm0 6zm0 13zm1-128zm0 33zm0 13zm0 7zm0 12zm0 3zm0 8zm0 13zm0 2zm0 0zm0 0zm0 0zm0 0zm0 3zm0 2zm0 1zm0 1zm0 3zm0 1zm0 7zm0 8zm0 1zm0 7zm1-142zm0 19zm0 70zm0 36zm0 7zm0 8zm0 7zm0 5zm1-134zm0 49zm0 5zm0 1zm0 4zm0 6zm0 3zm0 2zm0 2zm0 3zm0 4zm0 2zm0 20zm0 7zm0 0zm0 5zm0 2zm0 15zm1-119zm0 17zm0 15zm0 2zm0 5zm0 9zm0 20zm0 7zm0 6zm0 16zm0 5zm0 23zm1-212zm0 71zm0 16zm0 51zm0 1zm0 1zm0 11zm0 8zm0 2zm0 0zm0 5zm0 11zm0 3zm0 5zm0 10zm0 3zm0 1zm0 2zm1-141zm0 7zm0 22zm0 12zm0 7zm0 6zm0 7zm0 14zm0 5zm0 6zm0 7zm0 5zm0 42zm0 3zm0 2zm0 4zm1-161zm0 49zm0 1zm0 45zm0 3zm0 14zm0 2zm0 11zm0 7zm0 2zm0 5zm0 22zm1-179zm0 29zm0 14zm0 25zm0 6zm0 12zm0 3zm0 13zm0 18zm0 11zm0 11zm0 30zm1-166zm0 31zm0 37zm0 5zm0 46zm0 6zm0 11zm0 4zm0 30zm1-86zm0 26zm0 3zm0 30zm0 6zm0 23zm1-73zm0 4zm0 16zm0 27zm0 1zm0 7zm0 6zm0 5zm1-27zm0 28zm1-178zm0 17zm0 58zm0 16zm0 16zm0 27zm0 0zm0 11zm0 24zm1-79zm0 76zm1-116zm0 26zm0 0zm0 3zm0 3zm0 1zm0 2zm0 38zm0 0zm0 1zm0 1zm0 0zm0 12zm0 5zm0 0zm0 9zm0 1zm0 0zm0 1zm0 9zm0 14zm0 4zm1-190zm0 57zm0 12zm0 4zm0 6zm0 2zm0 11zm0 33zm0 7zm0 11zm0 7zm0 2zm0 0zm0 0zm0 16zm0 10zm0 2zm0 2zm0 2zm0 5zm0 2zm0 5zm1-147zm0 40zm0 5zm0 4zm0 8zm0 3zm0 1zm0 11zm0 31zm0 8zm0 10zm0 7zm0 11zm0 2zm0 6zm1-164zm0 38zm0 7zm0 13zm0 15zm0 0zm0 11zm0 2zm0 0zm0 0zm0 26zm0 19zm0 13zm0 4zm0 1zm0 3zm0 1zm0 2zm1-158zm0 46zm0 6zm0 13zm0 8zm0 12zm0 7zm0 4zm0 11zm0 16zm0 14zm0 1zm0 3zm0 5zm0 10zm0 2zm0 1zm0 2zm1-154zm0 66zm0 15zm0 14zm0 1zm0 26zm0 2zm0 6zm0 2zm0 6zm0 3zm0 4zm0 8zm0 0zm0 1zm0 2zm1-80zm0 9zm0 8zm0 8zm0 0zm0 7zm0 1zm0 7zm0 0zm0 4zm0 14zm0 5zm0 5zm0 2zm0 14zm1-93zm0 8zm0 10zm0 13zm0 14zm0 46zm1-73zm0 20zm0 2zm0 6zm0 3zm0 28zm0 8zm1-72zm0 7zm0 7zm0 5zm0 2zm0 0zm0 2zm0 0zm0 13zm0 8zm0 10zm0 4zm0 5zm1-105zm0 17zm0 56zm0 9zm0 30zm1-105zm0 38zm0 22zm0 5zm0 15zm0 14zm0 3zm1-83zm0 26zm0 5zm0 5zm0 17zm0 12zm0 10zm0 7zm0 12zm0 7zm1-68zm0 22zm0 42zm1-153zm0 24zm0 30zm0 22zm0 1zm0 5zm0 6zm0 30zm0 1zm0 8zm0 3zm1-92zm0 24zm0 36zm0 12zm1-76zm0 20zm0 18zm0 55zm0 23zm0 5zm1-117zm0 37zm0 24zm0 4zm0 14zm0 4zm0 2zm0 0zm0 9zm0 5zm0 8zm0 0zm0 1zm0 6zm0 7zm1-96zm0 1zm0 27zm0 2zm0 32zm0 6zm0 3zm0 15zm0 3zm0 5zm1-157zm0 3zm0 47zm0 1zm0 8zm0 3zm0 4zm0 0zm0 2zm0 22zm0 28zm0 4zm0 6zm0 9zm0 1zm1-120zm0 10zm0 8zm0 31zm0 3zm0 20zm0 10zm0 2zm0 14zm0 2zm0 18zm0 3zm1-88zm0 51zm0 11zm0 0zm0 3zm0 9zm0 12zm0 1zm0 1zm0 4zm0 4zm1-141zm0 4zm0 18zm0 21zm0 22zm0 53zm0 11zm1-79zm0 54zm2 47zm18-153zm0 31zm0 22zm0 12zm1-142zm0 53zm0 11zm0 2zm0 1zm0 16zm0 6zm0 12zm0 4zm0 4zm1-86zm0 16zm0 12zm0 5zm0 6zm0 5zm0 30zm0 6zm0 7zm0 13zm0 23zm0 9zm1-120zm0 22zm0 0zm0 2zm0 5zm0 3zm0 10zm0 3zm0 18zm0 6zm0 3zm0 0zm0 3zm0 0zm0 45zm0 3zm1-43zm0 2zm0 15zm1-66zm1-51zm0 51zm0 7zm0 22zm0 56zm1-96zm0 40zm0 10zm0 10zm1-37zm0 13zm0 72zm1-83zm0 10zm1-71zm1 90zm1 85zm2-133zm0 12zm0 34zm0 27zm0 14zm1-52zm0 6zm0 87zm1-136zm0 42zm0 55zm0 5zm1-129zm0 42zm0 4zm0 56zm0 16zm1-11zm0 30zm0 1zm1-30zm1-51zm0 13zm0 27zm0 20zm1-52zm0 37zm1-54zm0 91zm2-74zm0 20zm1-32zm0 0zm1 54zm2-105zm0 79zm0 4zm1-33zm0 41zm0 8zm0 1zm0 31zm1-84zm0 10zm0 6zm0 14zm0 47zm1-110zm0 30zm0 9zm0 12zm0 1zm0 13zm0 3zm0 91zm1-148zm0 6zm0 83zm0 7zm0 35zm0 14zm1-76zm1 67zm1-126zm0 2zm0 27zm0 46zm0 52zm1-170zm0 62zm0 1zm0 3zm0 5zm0 42zm0 3zm1-98zm0 6zm0 116zm2-21zm10-117zm2 44zm0 25zm0 14zm1-27zm0 31zm0 71zm3-122zm1-30zm1 20zm0 32zm0 9zm1 32zm0 33zm1-137zm0 78zm0 37zm0 0zm0 30zm1-101zm0 17zm0 49zm0 48zm1-126zm2 10zm0 95zm1-105zm0 12zm0 67zm1-107zm0 21zm0 28zm0 62zm1-106zm0 35zm1 34zm1 43zm1-96zm0 6zm0 22zm0 71zm2-60zm0 10zm0 32zm1-125zm0 96zm0 25zm0 5zm0 18zm1-130zm0 40zm0 1zm0 15zm0 27zm0 109zm1-119zm0 9zm0 21zm0 9zm1-79zm0 16zm0 6zm0 21zm1 7zm1 60zm1-91zm0 65zm1-62zm1-42zm0 16zm0 8zm1-6zm0 28zm0 33zm0 33zm1-111zm0 49zm0 8zm1-36zm0 43zm1-46zm0 1zm0 6zm0 18zm0 40zm0 30zm0 2zm1-61zm1-11zm1 68zm9-22zm1-63zm1 112zm1-141zm0 48zm0 12zm1-35zm0 6zm0 86zm1-51zm0 19zm0 59zm1-105zm0 22zm0 9zm0 9zm0 13zm0 8zm1-40zm0 32zm0 25zm1-6zm0 12zm0 43zm1-156zm0 44zm0 4zm0 36zm0 22zm1 0zm0 16zm0 0zm0 22zm1-62zm0 27zm0 27zm1-125zm0 34zm0 11zm0 8zm0 28zm1-31zm0 19zm0 10zm0 36zm1-103zm1 56zm0 7zm0 36zm0 39zm1-120zm0 22zm0 16zm0 11zm0 7zm1-56zm0 13zm0 17zm0 3zm1-65zm0 45zm0 12zm0 92zm1 13zm1-16zm1-28zm1-82zm0 20zm0 57zm0 25zm0 29zm1-101zm0 47zm0 8zm1 48zm1-163zm0 92zm0 36zm1-93zm0 14zm0 18zm0 28zm0 28zm1-56zm0 30zm0 46zm0 17zm0 21zm1-95zm0 5zm1-23zm0 52zm1-71zm0 58zm0 4zm0 30zm2-133zm0 90zm0 62zm1-142zm0 87zm0 11zm0 7zm1-154zm0 51zm0 90zm1-36zm0 96zm1-53z" stroke="#2ca02c" stroke-width="7.4"/>
<path d="M2 387zm1-58zm0 86zm0 8zm0 27zm0 32zm1-145zm0 95zm0 66zm2-86zm0 17zm1-26zm0 42zm0 16zm0 19zm1-134zm0 72zm0 20zm0 12zm0 13zm1-24zm0 12zm0 19zm1-28zm0 14zm0 16zm0 11zm1-65zm0 16zm0 16zm0 11zm0 12zm0 12zm1-74zm0 36zm0 14zm1-1zm1-88zm0 89zm0 17zm0 1zm2-124zm0 79zm0 22zm0 8zm0 22zm1-96zm1 57zm1-9zm0 13zm1-117zm0 23zm0 74zm0 6zm0 21zm0 24zm1-61zm1-12zm0 38zm0 2zm0 13zm1 1zm1-48zm0 33zm0 45zm1-46zm0 0zm0 7zm1-7zm0 21zm0 4zm0 6zm0 7zm1-58zm0 48zm1-34zm1 2zm1-14zm0 24zm0 34zm1-35zm0 20zm0 7zm1-26zm1-1zm0 27zm1-56zm0 56zm1-49zm0 5zm0 6zm1-7zm0 20zm0 16zm0 15zm0 3zm1-48zm0 43zm1-98zm0 34zm0 34zm0 7zm0 4zm0 1zm0 0zm1-95zm0 47zm0 20zm0 6zm0 4zm0 6zm0 35zm0 6zm1-36zm0 10zm0 4zm0 5zm0 20zm1-157zm0 16zm0 74zm0 0zm0 9zm0 8zm0 6zm0 11zm0 7zm1-159zm0 61zm0 1zm0 46zm0 19zm0 1zm0 2zm0 4zm0 3zm0 2zm0 8zm0 25zm1-37zm0 14zm0 2zm1-27zm0 14zm0 1zm0 21zm0 16zm1-71zm0 51zm1-21zm0 25zm0 7zm1-56zm0 21zm0 48zm1-47zm0 19zm0 5zm0 6zm1-21zm0 2zm0 22zm1-123zm0 66zm1 11zm0 6zm1 29zm1-26zm1-44zm0 46zm1-6zm0 15zm0 32zm1-111zm0 5zm0 69zm0 12zm0 9zm1-37zm1 45zm1-136zm0 96zm0 24zm0 4zm1-36zm0 9zm1 12zm0 28zm1-134zm0 84zm1 23zm1-86zm0 57zm0 20zm0 25zm0 4zm0 2zm1-92zm1 94zm0 5zm1-121zm0 84zm0 15zm1-128zm1 118zm0 21zm1-17zm0 15zm1-25zm0 16zm1-124zm2 17zm0 106zm0 1zm1 11zm1-38zm0 21zm0 7zm1-12zm0 30zm1-77zm0 12zm0 61zm2-61zm1-32zm0 99zm1-19zm0 1zm0 29zm1-48zm0 4zm0 27zm0 14zm0 4zm1-154zm0 39zm0 11zm0 55zm0 7zm0 0zm0 25zm0 5zm1-149zm1 111zm1-8zm0 5zm0 17zm0 8zm0 12zm0 8zm1-47zm0 15zm0 22zm1-28zm0 15zm0 20zm0 15zm3-94zm0 93zm1-64zm0 2zm0 1zm0 36zm0 12zm2-51zm0 8zm0 2zm0 14zm0 35zm1-20zm1-47zm1 12zm1-137zm0 174zm0 6zm1-101zm0 67zm0 12zm0 30zm1-19zm0 8zm1-34zm0 32zm1-27zm0 4zm1-1zm1-151zm3 116zm0 5zm0 27zm0 25zm0 10zm1-55zm0 17zm0 6zm0 21zm2-31zm0 4zm0 28zm0 19zm1-126zm0 39zm0 37zm0 3zm0 5zm1-82zm0 23zm0 24zm0 23zm0 14zm0 2zm0 5zm0 1zm0 20zm0 8zm1-103zm0 11zm0 57zm0 32zm2-44zm0 8zm1-44zm22 62zm0 9zm1-32zm0 18zm0 3zm1-87zm0 10zm1 37zm0 60zm1-38zm0 7zm1-26zm1-74zm1 104zm0 11zm2-21zm0 10zm0 2zm0 30zm1-186zm0 51zm0 14zm0 34zm0 35zm0 49zm0 2zm1-47zm0 41zm1-29zm0 18zm1-43zm0 28zm0 11zm0 15zm0 10zm1-80zm0 46zm2-114zm0 103zm0 34zm1-90zm0 1zm0 31zm0 21zm0 14zm2-2zm1-20zm0 10zm1-1zm0 12zm1-92zm0 70zm1 11zm0 35zm1-132zm0 77zm0 18zm0 42zm1-49zm1 8zm1-14zm0 20zm0 8zm0 5zm1-10zm0 5zm0 13zm0 6zm1-31zm1 30zm1-47zm0 38zm1-67zm0 7zm0 4zm0 38zm0 17zm1 0zm0 11zm1-75zm0 74zm2-24zm0 22zm1-9zm0 12zm4-81zm1 48zm0 23zm1-22zm0 18zm0 11zm0 16zm0 5zm1-139zm0 84zm0 10zm0 2zm0 17zm0 0zm1-107zm0 122zm3-107zm1 83zm0 5zm0 2zm1 0zm2-19zm1-108zm1 66zm0 28zm0 3zm0 50zm1-50zm0 7zm0 8zm0 7zm0 2zm0 3zm2 5zm1-14zm2 21zm0 20zm1-139zm0 26zm0 60zm0 18zm0 2zm0 1zm0 17zm0 3zm0 0zm0 11zm1-67zm0 23zm0 2zm1-70zm0 38zm0 28zm0 0zm1-110zm0 64zm0 15zm0 7zm0 21zm0 14zm0 1zm0 0zm0 13zm0 9zm0 7zm0 1zm1-85zm0 3zm0 33zm0 4zm0 11zm0 2zm0 0zm0 12zm0 7zm1-64zm0 4zm0 46zm0 5zm0 12zm0 1zm1-39zm2 10zm0 12zm0 9zm0 24zm1-234zm0 126zm0 69zm0 10zm0 3zm1-89zm0 69zm1-18zm0 12zm0 0zm0 3zm1-31zm0 28zm0 1zm0 14zm0 0zm0 15zm0 5zm1 6zm0 12zm2-51zm0 49zm1-108zm0 50zm0 14zm1 4zm0 2zm0 11zm1-74zm0 11zm0 6zm0 33zm0 15zm0 2zm0 0zm0 3zm0 6zm0 1zm1-176zm0 15zm0 52zm0 67zm0 6zm0 16zm0 2zm0 0zm0 3zm0 14zm0 6zm0 0zm0 3zm1-38zm0 1zm0 5zm0 3zm0 7zm0 2zm0 1zm0 4zm0 5zm0 10zm1-38zm0 2zm0 4zm0 13zm1-142zm0 138zm0 1zm0 26zm1-5zm2-137zm1 108zm0 8zm0 2zm0 5zm0 12zm0 8zm1-161zm0 94zm0 4zm0 30zm1-9zm0 15zm1-41zm1 37zm0 11zm0 2zm0 12zm1-51zm0 24zm0 8zm1-49zm0 19zm0 12zm0 17zm0 23zm1-76zm0 52zm1-85zm0 81zm0 15zm1-179zm0 123zm0 9zm0 15zm0 1zm0 6zm0 4zm0 12zm0 11zm0 2zm0 2zm1-133zm0 47zm0 8zm0 55zm4-70zm0 0zm0 80zm0 1zm0 4zm0 10zm1-60zm0 12zm0 10zm0 14zm0 9zm0 3zm0 10zm0 1zm1-113zm0 64zm0 19zm0 17zm0 10zm1-102zm0 6zm0 22zm0 12zm1-69zm0 45zm0 0zm1-45zm0 6zm0 53zm1-65zm0 32zm0 2zm0 8zm1-60zm0 43zm1-41zm0 11zm0 15zm0 12zm0 3zm1-19zm0 0zm0 0zm0 12zm0 11zm0 5zm0 6zm0 15zm0 7zm0 13zm1-112zm0 21zm0 4zm0 1zm0 2zm0 19zm0 6zm0 8zm0 1zm0 9zm0 0zm0 18zm0 5zm0 40zm1-114zm0 23zm0 43zm0 18zm0 1zm0 53zm1-105zm0 21zm0 59zm1-121zm0 10zm0 2zm0 19zm0 5zm0 8zm0 10zm0 33zm0 11zm0 4zm1-83zm0 1zm0 2zm0 7zm0 2zm0 0zm0 5zm0 11zm0 15zm0 29zm0 6zm0 67zm1-207zm0 63zm0 5zm0 6zm0 4zm0 2zm0 4zm0 1zm0 3zm0 5zm0 0zm0 18zm0 3zm0 13zm0 6zm1-109zm0 7zm0 1zm0 17zm0 16zm0 0zm0 71zm0 11zm1-91zm0 8zm0 10zm0 17zm0 2zm0 12zm0 4zm0 24zm0 8zm1-64zm0 37zm0 10zm0 37zm1-106zm1 32zm0 22zm0 83zm1-152zm1 24zm0 42zm0 16zm1-58zm0 38zm1-52zm0 88zm1-27zm1-31zm0 5zm0 27zm1-28zm1-6zm1-10zm0 4zm0 29zm0 4zm0 29zm1-129zm0 94zm0 35zm1-66zm0 6zm0 3zm0 33zm0 4zm0 43zm1-56zm0 13zm1-9zm1-59zm0 25zm1-47zm0 34zm0 15zm0 20zm1-83zm0 34zm0 24zm0 40zm1-113zm0 98zm0 4zm0 0zm0 17zm1-57zm0 47zm0 11zm0 15zm0 21zm1-77zm0 48zm0 4zm0 23zm1-46zm1-26zm2 130zm1-133zm0 14zm0 9zm0 2zm0 11zm0 35zm1-132zm0 53zm0 46zm1-69zm0 31zm0 15zm0 8zm0 24zm1-2zm0 14zm0 53zm1-107zm1-10zm0 58zm1-55zm0 19zm1-3zm0 23zm0 26zm1-142zm0 60zm0 19zm0 4zm0 9zm0 4zm0 4zm0 11zm0 12zm0 20zm0 4zm1-120zm0 46zm0 13zm0 20zm0 12zm0 14zm0 4zm0 1zm1-44zm0 0zm0 2zm0 9zm0 15zm1-51zm0 42zm0 21zm1-58zm0 28zm1-31zm0 63zm0 26zm1-46zm0 55zm1-99zm0 44zm0 28zm1-118zm0 47zm0 37zm0 7zm0 17zm1 1zm1-27zm0 3zm0 6zm0 31zm0 4zm1-86zm0 9zm0 21zm1-11zm0 49zm2-48zm0 26zm1-49zm0 77zm1-23zm0 22zm0 34zm0 3zm1-86zm0 20zm0 19zm1-90zm0 12zm0 54zm0 57zm1-59zm0 7zm0 33zm0 18zm0 54zm1-133zm0 36zm0 12zm1 16zm1-61zm0 16zm0 8zm0 1zm1-48zm0 60zm0 5zm0 2zm0 14zm0 19zm0 23zm1-134zm0 23zm0 18zm0 32zm1-63zm0 2zm0 24zm0 11zm0 1zm0 2zm0 27zm0 1zm0 48zm1-99zm0 11zm0 6zm0 3zm0 5zm0 2zm0 11zm0 6zm0 56zm1-81zm0 37zm0 66zm1-133zm0 11zm0 47zm1-67zm0 55zm0 21zm1-20zm0 24zm0 1zm0 1zm0 94zm1-168zm0 7zm0 16zm0 2zm0 1zm0 4zm0 15zm0 4zm0 12zm1-41zm0 41zm0 0zm0 11zm0 31zm2-96zm0 9zm0 48zm0 16zm1-49zm0 38zm2 11zm2-24zm1-21zm0 7zm0 38zm1-109zm0 11zm0 57zm0 24zm1-73zm0 32zm0 56zm1-66zm0 50zm0 53zm1 11zm1-78zm1 61zm0 3zm1-87zm0 14zm1 20zm1-56zm0 13zm0 5zm0 22zm0 16zm0 10zm0 8zm0 39zm0 6zm1-143zm0 6zm0 50zm0 27zm0 9zm0 9zm1-82zm0 29zm0 9zm0 24zm0 27zm1-56zm0 25zm0 12zm1-85zm0 60zm0 34zm0 10zm1-108zm0 35zm1 39zm0 44zm0 8zm1-142zm0 72zm0 49zm0 41zm1-128zm0 32zm1-19zm0 36zm0 10zm0 22zm1-107zm0 64zm0 10zm0 19zm1 40zm2-81zm0 30zm1-68zm0 47zm0 84zm1-153zm0 81zm0 39zm0 27zm1-94zm0 8zm0 1zm1 3zm0 14zm0 11zm1-27zm1-2zm0 32zm1-20zm1 48zm1-99zm0 8zm0 31zm0 18zm0 50zm2-51zm0 19zm0 3zm1-76zm0 72zm0 44zm1-14zm2-78zm1-13zm0 43zm0 2zm1-40zm0 21zm0 24zm1-37zm0 14zm0 6zm0 1zm0 27zm0 15zm1-50zm1-10zm0 15zm0 29zm0 74zm2-132zm0 16zm0 5zm0 19zm0 4zm0 5zm0 23zm0 5zm0 0zm1-122zm0 87zm0 20zm0 34zm0 6zm1-76zm0 13zm0 5zm0 8zm0 4zm0 1zm0 5zm0 1zm1-83zm0 55zm0 14zm0 16zm1-61zm0 27zm0 37zm0 4zm1-121zm0 125zm0 17zm1-110zm0 110zm1-22zm1-34zm0 1zm0 3zm1-75zm0 28zm0 29zm0 12zm2-80zm0 25zm0 49zm0 34zm1-84zm0 31zm0 1zm0 5zm0 0zm0 6zm0 17zm0 1zm0 3zm0 5zm0 5zm0 9zm0 16zm0 1zm0 10zm1-73zm0 8zm0 22zm0 9zm0 11zm0 5zm0 16zm1-110zm0 17zm0 19zm0 16zm0 19zm0 8zm0 0zm0 28zm1-80zm0 9zm0 3zm0 25zm0 10zm0 14zm1-51zm0 42zm0 2zm0 34zm1-122zm0 32zm0 23zm0 37zm0 21zm1-74zm0 17zm0 24zm0 23zm1-85zm0 144zm1-120zm0 25zm1 11zm1-5zm0 13zm0 44zm1-86zm0 16zm0 3zm0 21zm1-26zm0 3zm0 1zm0 4zm0 10zm0 10zm0 45zm0 29zm0 2zm1-128zm0 17zm0 23zm1-45zm0 1zm0 58zm1-2zm1-22zm0 5zm0 8zm5-54zm0 30zm0 20zm0 41zm0 2zm1-77zm0 22zm0 17zm0 16zm0 22zm1-66zm1 8zm0 23zm0 5zm1-28zm0 33zm1-51zm0 6zm0 2zm0 36zm0 12zm1-129zm1 53zm0 82zm0 6zm1-104zm0 41zm0 16zm0 7zm0 10zm0 15zm1-24zm0 12zm0 5zm1-44zm0 70zm1-81zm0 10zm0 19zm0 15zm0 32zm1-131zm0 67zm0 3zm0 71zm1-78zm0 104zm1-88zm0 10zm1-3zm1-8zm0 10zm0 5zm0 11zm0 7zm1-66zm0 92zm0 7zm1-59zm0 5zm0 19zm0 1zm0 16zm0 13zm1-83zm0 14zm0 25zm0 18zm1-39zm0 2zm0 17zm0 8zm1-110zm0 31zm0 48zm0 26zm0 9zm0 26zm1-83zm0 36zm1-3zm0 5zm0 2zm0 3zm0 30zm0 24zm1-69zm0 14zm0 9zm0 7zm1-27zm0 5zm0 33zm0 0zm0 37zm1-141zm0 39zm0 0zm0 26zm0 7zm0 13zm1-21zm0 29zm1 11zm1-24zm1-41zm1 46zm0 38zm1-62zm0 12zm0 35zm0 10zm0 42zm4 32zm0 15zm1-7zm2-70zm2 72zm5-2zm0 6zm1-4zm2-27zm0 9zm2 27zm4-59zm0 51zm0 5zm5-22zm0 20zm1-1zm3-8zm6-3zm3 15zm8-4zm2 5zm5-10zm1 6zm0 4zm1-15zm0 13zm1-12zm0 8zm5 0zm6-6zm8 12zm2-143zm2-43zm0 168zm0 19zm0 0zm1-19zm2-155zm0 155zm1 16zm1 4zm0 2zm1-6zm2-23zm2 2zm2 1zm1 18zm27 4zm14-1zm6-8zm11-8zm0 2zm3 15zm7-67zm1 61zm9-7zm2 6zm1 0zm1-7zm0 18zm4-26zm17 22zm1-5zm4-4zm6 0zm4 9zm2-13zm1-170zm0 168zm2-71zm1 33zm3-89zm0 140zm4-6zm5-163zm0 21zm0 18zm1 2zm5-32zm0 112zm1-168zm2 16zm0 77zm0 6zm1-71zm0 13zm0 9zm1-64zm0 56zm9 30zm0 13zm1-31zm0 20zm0 22zm1-41zm1-48zm0 11zm0 5zm0 2zm0 11zm0 3zm0 8zm0 4zm0 27zm0 0zm0 20zm1-107zm0 9zm0 2zm0 53zm0 3zm0 47zm1-66zm0 26zm0 4zm0 28zm0 43zm1-154zm0 11zm0 37zm0 2zm0 13zm0 26zm0 96zm1-163zm0 38zm2-4zm2-52zm1 16zm0 21zm1 27zm0 15zm1-5zm1-2zm0 18zm3-64zm1 63zm0 74zm2-113zm1-54zm0 19zm0 29zm0 62zm1-21zm0 15zm1-30zm1 45zm3-117zm1 46zm0 58zm1-74zm0 33zm0 3zm1-49zm0 60zm1-55zm0 48zm1-48zm0 18zm1 6zm0 17zm2-26zm1-39zm0 11zm0 73zm0 26zm3 9zm2-47zm1 30zm3-79zm1 53zm1-9zm0 12zm0 10zm0 43zm1-6zm2-59zm1 22zm5-29zm2-45zm0 80zm0 1zm0 27zm1-59zm1-64zm0 28zm0 6zm0 1zm0 18zm0 11zm0 47zm1-83zm0 36zm0 47zm1-91zm0 31zm0 59zm0 16zm1-47zm0 27zm0 35zm1-125zm3-9zm0 115zm1-20zm0 4zm0 48zm1-71zm1-79zm0 44zm1-28zm0 12zm0 12zm0 6zm0 23zm0 12zm0 3zm0 22zm1-98zm0 3zm0 50zm0 2zm0 35zm1 54zm4-115zm0 12zm0 7zm0 73zm0 12zm1-31zm3-98zm0 94zm1-92zm1-18zm0 5zm0 37zm0 23zm0 137zm1-191zm0 42zm0 3zm0 23zm0 22zm0 18zm0 10zm1-93zm0 89zm1-92zm7 29zm0 17zm0 20zm1 57zm3-98zm0 24zm1 37zm1-25zm2-26zm0 43zm3-79zm0 56zm1-61zm0 75zm0 8zm1-110zm0 98zm0 16zm0 62zm1-121zm1-24zm1 42zm0 19zm1-13zm1-52zm0 7zm0 45zm6-46zm0 51zm1-42zm0 32zm0 27zm3-31zm0 60zm1-99zm0 10zm1 8zm1-19zm0 47zm0 2zm2-14zm1 0zm1 20zm1-72zm0 31zm1-10zm0 14zm0 10zm0 91zm0 22zm1-141zm0 33zm0 19zm0 43zm0 13zm1-117zm0 2zm0 11zm0 6zm0 11zm0 35zm0 29zm0 4zm0 3zm1-108zm0 50zm0 15zm0 5zm0 18zm1-94zm0 62zm0 20zm0 25zm0 56zm2-105zm1-19zm0 9zm0 26zm0 61zm1-109zm0 72zm0 29zm1-105zm0 18zm0 17zm0 78zm1-75zm1-47zm1 47zm1-37zm1-1zm6 24zm1-44zm1 3zm0 18zm0 29zm0 29zm1-77zm1 79zm0 22zm1-84zm5 1zm3-6zm0 34zm0 21zm1-45zm1 61zm1-12zm1 16zm1-20zm1-56zm0 45zm0 11zm0 13zm0 30zm0 14zm0 18zm0 63zm1-198zm0 11zm0 13zm0 36zm0 4zm0 1zm0 5zm0 23zm0 31zm0 12zm1-66zm3 13zm1-44zm0 91zm1-113zm0 37zm1-43zm0 76zm0 26zm0 14zm2-14zm1-32zm1-71zm3 99zm1-58zm0 29zm0 35zm1 94zm2-184zm0 45zm0 40zm0 10zm0 18zm1-91zm0 61zm3-21zm0 11zm0 9zm1-59zm0 47zm1-26zm0 28zm0 6zm0 20zm1-70zm0 71zm1-132zm0 100zm0 0zm0 6zm2 14zm2 62zm2-91zm9-45zm0 16zm1 89zm2-83zm1-55zm0 146zm1-140zm0 14zm0 19zm0 23zm0 23zm0 8zm0 15zm0 5zm0 19zm0 0zm0 28zm1-176zm0 49zm0 27zm0 44zm1-123zm0 82zm1-32zm0 24zm0 0zm0 14zm0 38zm0 9zm1-80zm0 13zm2 35zm0 15zm0 18zm1-120zm0 63zm1-78zm0 59zm0 46zm1-90zm0 55zm0 11zm0 8zm0 7zm0 24zm1-40zm0 2zm0 6zm0 35zm0 19zm1-39zm2-12zm0 46zm1-73zm0 9zm0 3zm0 13zm0 13zm0 7zm0 9zm1-71zm0 48zm0 13zm0 29zm0 10zm1-14zm2-128zm0 28zm0 106zm1-145zm0 51zm0 28zm0 25zm1-2zm0 17zm0 15zm4-43zm0 28zm1-101zm0 107zm2-119zm0 105zm3-2zm2 2zm1-32zm0 109zm1-72zm0 27zm1-116zm0 36zm1-27zm0 94zm0 37zm1-91zm0 17zm0 3zm0 23zm1-27zm0 32zm0 3zm0 20zm0 1zm0 7zm1-90zm0 67zm0 35zm2-92zm2 27zm1-77zm0 8zm0 59zm0 19zm0 20zm0 30zm1-24zm0 32zm3-67zm1-14zm1 1zm2 49zm3-15zm3-84zm0 36zm1 6zm1-8zm0 18zm0 2zm1-34zm0 56zm0 9zm0 35zm2-132zm1 168zm1-48zm2-28zm1-57zm0 10zm0 0zm0 50zm1-43zm0 29zm1 2zm0 6zm0 18zm4-71zm0 25zm0 3zm0 54zm0 21zm1-129zm0 103zm1-109zm0 8zm0 71zm0 17zm0 17zm3-120zm0 38zm0 106zm1-89zm0 73zm1-58zm0 67zm1-21zm0 4zm1-51zm0 13zm0 19zm1-11zm0 41zm1-120zm0 3zm0 59zm0 22zm1-27zm4-53zm4 88zm0 6zm1-10zm1-82zm1-24zm0 55zm0 17zm0 19zm0 1zm0 10zm0 27zm1-56zm0 2zm0 10zm0 14zm0 5zm0 42zm1-90zm0 107zm1-93zm0 4zm0 65zm1-101zm0 169zm2-60zm0 49zm1-63zm1-90zm0 6zm0 107zm2-120zm0 36zm0 30zm0 8zm0 25zm1-98zm0 6zm0 5zm0 31zm1-43zm0 47zm0 16zm1-18zm0 55zm2-66zm0 30zm1 14zm1-61zm2 121zm1-101zm0 4zm0 28zm1-11zm0 44zm1-150zm0 8zm0 7zm0 90zm0 18zm0 8zm1-111zm0 11zm1 6zm0 48zm0 6zm0 17zm0 46zm0 62zm2-151zm1 2zm0 36zm1-77zm1-25zm0 59zm2-24zm1 56zm1-56zm0 1zm0 60zm0 4zm0 39zm1-109zm0 18zm0 71zm1-118zm0 1zm0 7zm0 2zm0 55zm0 25zm0 5zm0 26zm1-128zm0 0zm0 9zm0 5zm0 6zm0 19zm0 1zm0 21zm0 4zm0 30zm0 1zm0 6zm0 2zm1-36zm1-62zm0 141zm1-140zm0 23zm0 8zm0 24zm0 20zm0 6zm0 29zm1-53zm0 15zm0 3zm1-54zm0 20zm0 128zm1-130zm0 83zm1-106zm0 18zm0 30zm1-24zm1-28zm0 29zm0 15zm1-56zm0 96zm0 27zm0 8zm1-116zm0 14zm0 12zm0 14zm0 0zm0 26zm0 26zm0 14zm0 74zm1-202zm0 17zm0 10zm0 0zm0 1zm0 20zm0 23zm0 16zm0 20zm0 18zm0 22zm1-117zm0 8zm0 8zm0 50zm1-96zm0 37zm0 26zm0 5zm0 30zm0 12zm0 4zm0 22zm1-128zm0 78zm0 111zm1-197zm0 0zm0 15zm0 13zm0 51zm0 19zm1-94zm0 6zm0 17zm0 0zm0 2zm0 9zm0 81zm1-110zm0 14zm0 2zm0 17zm0 1zm0 7zm0 10zm0 2zm0 8zm0 9zm0 10zm0 11zm1-94zm0 1zm0 30zm0 8zm0 3zm0 50zm0 17zm1-102zm0 69zm0 6zm0 1zm0 43zm0 0zm0 0zm1-119zm0 5zm0 14zm0 13zm0 1zm0 2zm0 16zm0 53zm1-90zm0 2zm0 8zm0 71zm1-108zm0 64zm0 5zm0 1zm0 20zm0 38zm1-128zm0 18zm0 2zm0 10zm0 13zm0 3zm0 5zm0 0zm0 17zm0 37zm0 25zm0 92zm1-222zm0 14zm0 10zm0 19zm0 44zm0 45zm0 17zm1-149zm0 2zm0 6zm0 7zm0 7zm0 33zm0 3zm0 25zm0 16zm0 11zm0 9zm0 24zm1-136zm0 9zm0 16zm0 2zm0 14zm0 13zm0 3zm0 36zm0 16zm0 9zm0 34zm1-153zm0 4zm0 0zm0 23zm0 15zm0 47zm0 3zm1-98zm0 24zm0 11zm0 19zm0 35zm0 53zm1-97zm0 10zm0 44zm0 60zm1-129zm0 8zm0 5zm0 9zm0 39zm1-88zm0 3zm0 12zm0 42zm0 77zm0 18zm0 4zm1-39zm1-120zm0 22zm0 9zm1 58zm120 17zm1-79zm0 1zm0 4zm0 16zm0 0zm0 2zm0 7zm0 85zm1-140zm0 3zm0 12zm0 1zm0 18zm0 39zm0 29zm0 5zm0 50zm1-120zm0 1zm0 30zm0 9zm1-9zm1 123zm1-141zm0 22zm1-45zm0 11zm0 5zm0 78zm0 21zm2-92zm0 91zm1-118zm0 21zm0 31zm0 24zm1-7zm0 2zm1-88zm0 35zm0 34zm0 12zm0 65zm1-146zm0 10zm0 8zm0 22zm0 4zm0 2zm0 8zm0 31zm0 26zm0 7zm0 52zm1-92zm0 10zm0 6zm0 45zm1-74zm0 13zm0 0zm0 6zm1-28zm0 25zm0 52zm3-134zm0 59zm0 16zm1-60zm0 46zm1-63zm0 23zm0 56zm0 25zm1-75zm0 2zm0 4zm0 17zm0 3zm0 26zm1-64zm0 1zm0 15zm0 14zm0 35zm0 2zm0 20zm0 8zm0 26zm1-124zm0 8zm0 1zm0 1zm0 16zm0 3zm0 7zm0 2zm0 6zm0 5zm0 11zm0 44zm0 12zm1-111zm0 15zm0 4zm0 3zm0 15zm0 11zm0 34zm0 22zm0 38zm1-151zm0 8zm0 20zm0 42zm0 34zm0 49zm1-146zm1 60zm0 1zm0 9zm1-20zm0 0zm0 7zm0 23zm1-102zm0 79zm1-55zm0 83zm1-94zm0 14zm0 5zm0 33zm3 21zm1-4zm0 29zm1-103zm0 107zm0 23zm0 5zm1-101zm0 48zm0 18zm1-56zm0 10zm1-62zm0 27zm0 18zm0 10zm0 36zm0 1zm0 16zm0 25zm0 5zm1-131zm0 21zm1 55zm0 54zm1-137zm0 8zm0 99zm0 8zm0 55zm1-124zm1 14zm0 7zm0 56zm0 44zm1-155zm0 71zm0 43zm1-68zm0 21zm0 28zm1-37zm0 100zm1-133zm0 9zm0 21zm0 6zm0 6zm0 4zm0 13zm1-91zm0 9zm0 11zm0 79zm2-25zm6-46zm0 4zm0 20zm1-37zm0 25zm0 3zm0 4zm0 3zm0 5zm0 13zm0 2zm0 1zm0 0zm0 30zm1-100zm0 2zm0 10zm0 16zm0 30zm0 1zm0 8zm0 32zm1-56zm0 2zm0 81zm1-115zm0 17zm0 85zm1-61zm3 13zm0 19zm2-90zm3 66zm1-29zm0 20zm0 29zm0 66zm1-147zm0 17zm0 26zm0 1zm0 6zm1 64zm1-47zm1-36zm0 12zm1-43zm0 5zm0 51zm2-20zm0 47zm0 0zm0 28zm1 43zm0 6zm1-165zm1 33zm0 24zm0 82zm1-97zm0 1zm0 46zm1-37zm0 8zm0 14zm0 11zm0 1zm1-58zm0 3zm0 18zm0 21zm1-57zm0 8zm0 1zm0 15zm0 3zm1-13zm3 24zm0 63zm1-82zm0 4zm0 12zm0 3zm0 24zm1-75zm0 40zm0 128zm1-168zm0 29zm0 11zm0 32zm1-45zm0 30zm0 7zm0 0zm2-58zm0 126zm1-118zm0 57zm0 10zm1-72zm0 20zm0 10zm0 21zm0 19zm1-38zm0 9zm0 27zm1-63zm0 65zm0 26zm1-105zm0 7zm0 7zm0 34zm1-39zm0 12zm0 7zm0 2zm0 2zm0 26zm0 21zm0 0zm1-68zm0 11zm0 2zm0 9zm0 3zm0 12zm0 20zm1-25zm1-9zm0 4zm0 5zm0 76zm1-103zm0 29zm0 3zm0 0zm0 104zm1-139zm0 21zm0 9zm1-30zm0 39zm0 37zm0 24zm0 24zm1-127zm0 11zm0 1zm0 12zm0 37zm1-54zm0 40zm1-46zm0 33zm0 10zm0 10zm0 38zm1-72zm0 40zm2-27zm0 8zm0 4zm0 13zm1-45zm3-23zm0 6zm0 5zm0 16zm0 6zm0 19zm0 2zm0 4zm0 1zm0 1zm0 3zm0 4zm0 55zm1-122zm0 48zm0 7zm0 13zm0 20zm1-81zm0 3zm0 38zm0 14zm1-45zm0 2zm0 41zm0 5zm0 9zm1-19zm1-21zm0 37zm1-48zm1 19zm0 3zm0 6zm0 36zm3-65zm3 53zm0 24zm1-58zm0 4zm2-31zm1 49zm0 145zm1-157zm1-43zm0 9zm1 12zm1-19zm0 1zm0 16zm0 3zm1-30zm0 0zm0 33zm0 12zm1-45zm0 8zm0 3zm0 4zm0 18zm0 7zm0 5zm0 16zm0 82zm1-123zm0 24zm0 45zm1-73zm0 16zm0 1zm0 15zm0 16zm0 8zm0 38zm1-105zm0 9zm0 92zm1-106zm1 51zm0 23zm1-58zm2 1zm0 17zm1 33zm0 7zm1-42zm0 17zm0 9zm0 18zm0 12zm1-27zm1-61zm0 26zm0 8zm0 5zm0 5zm0 11zm0 10zm0 2zm0 1zm1-63zm0 11zm0 11zm0 21zm0 16zm3-59zm0 141zm1-65zm4 75zm0 41zm0 4zm2-122zm0 48zm3 67zm1-19zm2-134zm0 67zm0 122zm1-111zm0 47zm0 64zm1-68zm1-159zm0 167zm0 6zm0 26zm1-107zm1-54zm0 167zm0 10zm1-8zm0 22zm1-83zm0 87zm1-146zm0 70zm0 74zm1-214zm1 86zm7 104zm0 0zm1-78zm2 91zm8-110zm1-52zm0 115zm3-97zm0 56zm1 17zm1-76zm1-9zm1-67zm1 9zm2 66zm0 12zm0 62zm0 71zm5-220zm3 12zm0 3zm0 76zm2-47zm0 4zm0 9zm0 44zm0 13zm7 71zm3-97zm1-70zm0 93zm0 62zm0 45zm0 3zm1-221zm0 217zm0 11zm1-186zm0 101zm0 14zm0 46zm0 7zm0 7zm0 1zm1-196zm0 21zm0 73zm0 69zm0 42zm1-125zm0 71zm0 50zm1-154zm1 0zm0 10zm0 104zm1-106zm2-38zm0 108zm1-68zm7-64zm0 57zm0 17zm1-71zm0 22zm0 11zm0 26zm0 84zm1-52zm0 18zm0 14zm0 82zm1-89zm0 13zm2-32zm0 34zm1 0zm2-75zm0 33zm1-32zm0 40zm1-66zm9 121zm1-140zm0 20zm0 94zm0 15zm0 29zm1-175zm0 8zm0 1zm0 38zm0 48zm0 118zm4-186zm1 53zm1-51zm0 57zm0 80zm1-5zm1-164zm0 33zm0 100zm0 19zm1-132zm0 144zm1-126zm1-15zm0 58zm0 36zm1 3zm0 102zm1-120zm2-80zm1 16zm0 8zm0 7zm0 24zm0 1zm0 13zm0 9zm0 44zm0 68zm0 12zm1-214zm0 9zm0 33zm0 6zm0 11zm0 12zm1 40zm1-99zm1 66zm0 69zm1-78zm1-89zm0 56zm0 21zm0 37zm0 9zm0 73zm1-196zm0 91zm0 9zm0 20zm0 99zm1-196zm0 30zm0 0zm1 176zm1-217zm0 79zm0 15zm1-27zm0 18zm3 121zm4 8zm4-2zm1-9zm1-18zm0 34zm4-4zm1-177zm2 186zm5-7zm3-25zm3 22zm3-13zm0 17zm2 0zm5-155zm0 147zm1 7zm31-25zm2 28zm3-17zm3 13zm1-4zm2 10zm1-203zm0 48zm0 137zm1-70zm0 90zm6-55zm2 32zm12-4zm0 17zm1 4zm1-7zm2 6zm4-15zm0 17zm0 2zm1-90zm0 85zm1-14zm0 8zm1-9zm0 17zm1 3zm1-16zm2 18zm4-14zm4-113zm1 106zm0 1zm0 2zm2 1zm0 15zm2-6zm2-1zm3-122zm1-25zm0 89zm1-89zm0 36zm0 6zm1-42zm0 36zm0 23zm0 14zm0 18zm0 43zm3-149zm0 33zm0 2zm0 52zm0 8zm0 9zm1-108zm1 2zm0 1zm0 56zm0 28zm1-102zm0 20zm0 65zm0 74zm1-139zm0 2zm0 71zm1-36zm1-12zm0 5zm0 9zm1-47zm0 18zm0 4zm0 91zm1-68zm3-44zm0 31zm1-71zm0 42zm0 64zm1-74zm0 38zm0 17zm0 38zm0 4zm1-37zm0 4zm0 2zm0 0zm4-32zm1-43zm0 9zm0 15zm0 14zm0 26zm0 2zm0 7zm0 26zm0 13zm1-54zm0 6zm0 54zm1-92zm0 56zm0 7zm0 11zm0 81zm6-178zm0 58zm0 33zm1-87zm0 31zm0 23zm0 41zm1 28zm1-28zm4-91zm2-10zm1 33zm0 65zm1-51zm0 25zm0 83zm1-97zm0 35zm0 18zm1-79zm0 53zm1-83zm0 63zm1-25zm0 3zm1 47zm5-96zm0 32zm1-51zm4 24zm0 18zm0 9zm0 75zm0 30zm0 10zm1-112zm0 14zm0 65zm0 62zm1-93zm0 32zm2-90zm0 4zm0 34zm0 42zm0 5zm1-50zm0 1zm67-67zm2 62zm1-88zm0 43zm0 5zm0 2zm0 17zm0 44zm1-2zm1-32zm0 53zm2-98zm0 52zm0 19zm0 25zm1-57zm0 10zm1-13zm0 13zm2-32zm1 0zm0 66zm1-93zm0 1zm0 10zm1 48zm0 4zm0 20zm1-55zm0 76zm1-32zm1-62zm0 13zm0 11zm0 4zm0 38zm1-74zm0 13zm0 38zm0 14zm0 125zm1-206zm1 30zm0 0zm0 21zm0 0zm0 21zm0 3zm0 35zm1-122zm0 16zm0 1zm0 19zm0 8zm0 1zm0 4zm0 1zm0 13zm0 26zm0 94zm1-164zm0 13zm0 59zm1-68zm0 9zm0 2zm0 4zm0 59zm2-97zm1 0zm0 64zm3-50zm1 38zm0 25zm0 37zm1-74zm0 36zm0 36zm1-96zm0 21zm0 1zm1 64zm0 30zm1-102zm0 34zm0 56zm0 47zm1-126zm0 1zm0 43zm1-54zm0 53zm1-79zm1 15zm0 31zm0 12zm0 20zm0 19zm1-59zm0 9zm0 70zm0 12zm0 40zm1-156zm0 79zm1-81zm0 22zm0 81zm1-103zm1 2zm0 4zm0 20zm0 23zm0 28zm0 4zm1-84zm0 14zm0 31zm0 21zm0 52zm1-68zm0 34zm0 64zm1-109zm0 37zm0 7zm6-26zm1-34zm1 53zm0 3zm0 53zm1-62zm0 4zm0 2zm0 9zm0 12zm1-83zm0 12zm0 13zm0 66zm1-70zm0 40zm0 43zm0 18zm1-86zm0 58zm0 16zm0 1zm1 28zm1-134zm0 117zm1-147zm0 56zm0 10zm0 5zm0 29zm0 7zm1-49zm0 19zm0 4zm0 60zm0 0zm1-126zm0 31zm0 13zm0 35zm0 39zm0 52zm1-133zm0 15zm3-49zm0 4zm0 36zm0 38zm2-70zm0 33zm0 2zm0 32zm1-95zm0 111zm0 14zm1-117zm0 44zm0 86zm1-104zm0 78zm0 27zm1-123zm0 33zm0 18zm0 39zm1-106zm0 45zm0 5zm0 5zm0 29zm0 9zm1-91zm0 121zm0 49zm1-105zm1-67zm0 43zm0 5zm0 91zm1-64zm1-39zm0 32zm0 11zm0 10zm1-70zm0 60zm0 23zm0 6zm1-108zm0 24zm0 8zm0 36zm1-46zm1-15zm0 72zm0 59zm1-107zm1-15zm0 127zm1-118zm0 32zm0 18zm0 1zm0 19zm0 6zm0 7zm1-108zm0 31zm0 32zm0 7zm0 1zm0 101zm0 3zm1-165zm1 47zm0 50zm1-107zm0 46zm0 16zm0 7zm0 4zm1-63zm0 69zm0 16zm1-81zm0 56zm1-35zm1-4zm2 12zm0 51zm0 28zm1-91zm0 29zm0 8zm0 24zm0 19zm1-86zm0 15zm0 12zm0 27zm0 10zm0 11zm1-86zm0 49zm0 16zm0 18zm0 38zm0 74zm1-43zm1-124zm0 4zm0 100zm1-116zm0 28zm0 15zm0 12zm0 1zm0 30zm0 52zm1-127zm0 3zm0 21zm0 29zm0 13zm0 36zm0 20zm1-132zm0 38zm0 14zm0 12zm1-71zm0 24zm0 58zm1 46zm2-89zm1 47zm1-82zm1-24zm3 75zm1-26zm1-20zm0 13zm0 6zm0 27zm0 4zm0 9zm0 10zm0 63zm1-145zm0 69zm1-24zm0 0zm0 0zm0 26zm0 20zm2-105zm0 8zm0 24zm0 6zm0 1zm0 23zm0 2zm0 30zm0 2zm0 17zm0 13zm1-110zm0 1zm0 45zm1-36zm0 29zm0 18zm1-8zm0 1zm1-36zm0 41zm0 49zm1-119zm0 23zm0 36zm0 32zm1-86zm0 98zm1-110zm0 114zm1-92zm1 35zm0 28zm1-80zm0 58zm0 11zm0 5zm0 6zm0 41zm1-126zm0 50zm0 3zm0 3zm1-29zm1 94zm0 27zm1 76zm2 3zm1-194zm3 199zm2 2zm1 0zm3-17zm6 11zm2-18zm5-58zm0 56zm1-35zm5-54zm10 103zm0 2zm0 2zm2-151zm0 142zm1 2zm0 11zm2-17zm3-94zm1 43zm0 19zm1-91zm2 140zm5-6zm0 1zm1 12zm1-31zm7 25zm2 0zm15-21zm2 9zm0 14zm7 0zm1-141zm0 123zm9 6zm0 10zm1-19zm1 11zm0 13zm13-194zm0 120zm1 61zm1-5zm3-69zm0 75zm5-120zm19 121zm1 1zm0 1zm3-3zm0 10zm1-11zm0 6zm4 0zm1-2zm4-22zm3 13zm0 1zm1 8zm7-195zm1 180zm0 8zm1-8zm1 6zm0 7zm3 1zm20-14zm5-6zm2 19zm12-97zm1 51zm0 51zm1-99zm0 5zm0 7zm0 29zm0 7zm0 33zm3-57zm0 0zm0 18zm2 31zm1-59zm0 14zm0 7zm1-56zm0 6zm0 27zm0 25zm1-44zm0 30zm0 73zm2-136zm3 63zm3-59zm18-16zm4-38zm1-32zm0 46zm0 6zm0 24zm1-75zm0 27zm0 20zm0 9zm1 2zm0 69zm1-105zm0 16zm0 15zm1-30zm0 3zm0 12zm0 12zm0 30zm1-65zm0 61zm0 6zm0 36zm1-76zm0 47zm1-16zm1-77zm0 60zm0 4zm1-29zm0 7zm0 41zm0 24zm1-94zm0 6zm0 46zm0 7zm0 59zm1-137zm0 27zm0 92zm1-111zm0 17zm0 5zm0 19zm0 13zm0 167zm1-229zm0 12zm0 20zm0 42zm0 24zm0 19zm1-90zm0 17zm0 4zm0 106zm1-121zm0 21zm1-20zm1-1zm0 91zm0 14zm1-90zm0 9zm0 15zm1-64zm0 29zm0 42zm1-79zm0 17zm0 55zm0 17zm0 6zm0 54zm1-108zm0 59zm1-87zm1-13zm0 81zm2-81zm0 22zm0 2zm0 28zm0 64zm1-116zm0 18zm0 11zm0 69zm0 16zm0 11zm0 28zm1-138zm0 17zm0 10zm0 10zm0 27zm0 46zm1-62zm1-39zm0 37zm1 37zm3-65zm1-11zm1-15zm0 27zm0 12zm0 106zm1-144zm0 40zm0 42zm0 44zm1-134zm0 25zm0 51zm0 22zm1-59zm0 91zm1-113zm0 9zm0 82zm1-65zm0 18zm0 2zm1-28zm0 53zm0 9zm0 38zm2-135zm0 99zm0 50zm1-120zm0 0zm0 2zm0 10zm0 1zm0 28zm1-70zm0 23zm0 18zm0 58zm1-99zm0 39zm0 3zm0 58zm1-85zm0 1zm0 14zm0 7zm0 20zm0 35zm0 67zm1-131zm0 6zm0 0zm0 0zm0 9zm0 19zm0 6zm0 19zm0 31zm2-85zm0 11zm0 29zm0 16zm0 8zm0 65zm1-162zm0 102zm1-98zm0 2zm0 12zm0 61zm0 24zm2-86zm0 6zm0 40zm1-39zm0 31zm1-2zm2-8zm0 34zm0 42zm1-121zm0 6zm0 1zm0 1zm0 2zm0 11zm0 30zm0 0zm0 2zm0 60zm0 60zm1-162zm0 50zm1-52zm0 11zm0 18zm0 8zm0 62zm1-65zm0 8zm0 3zm0 2zm0 11zm0 18zm1-85zm0 0zm0 0zm0 4zm0 1zm0 4zm0 6zm0 0zm0 4zm0 13zm0 3zm0 2zm0 9zm0 8zm0 42zm0 2zm0 101zm1-199zm0 16zm0 3zm0 2zm0 11zm0 4zm0 6zm0 18zm0 8zm0 8zm0 29zm0 105zm1-189zm0 19zm0 8zm1-48zm0 10zm0 3zm0 9zm0 5zm0 0zm0 4zm0 9zm0 18zm0 30zm0 2zm0 28zm1-108zm0 15zm0 12zm0 7zm0 19zm0 73zm1-123zm0 1zm0 1zm0 1zm0 1zm0 35zm0 21zm0 29zm0 5zm0 16zm0 9zm0 0zm1-59zm1-42zm0 8zm0 25zm1-64zm0 2zm1 11zm0 9zm1 46zm1-15zm1-35zm0 5zm0 4zm1 42zm0 5zm0 24zm0 47zm1-114zm0 17zm0 58zm0 3zm1-109zm0 0zm0 20zm0 37zm0 6zm0 1zm0 1zm0 5zm0 9zm0 19zm1-77zm0 1zm0 8zm0 4zm0 29zm0 27zm0 55zm1-126zm0 13zm0 6zm0 2zm0 8zm0 41zm0 8zm1-90zm0 41zm0 1zm0 11zm0 56zm1-80zm0 12zm0 7zm0 10zm0 18zm0 54zm0 3zm0 62zm1-190zm0 9zm0 43zm0 122zm1-186zm0 28zm0 13zm0 2zm0 8zm0 72zm1-77zm0 42zm2-36zm22 178zm3-118zm3 114zm1 0zm1-13zm0 13zm0 1zm0 9zm1-35zm10-5zm0 31zm2-5zm1-10zm4 23zm5-4zm14-14zm1 0zm0 8zm1 6zm1-10zm3 14zm1-5zm3 1zm3-2zm3-37zm2 38zm1 0zm2-12zm11-109zm0 38zm0 2zm0 18zm1-74zm0 9zm0 4zm0 8zm0 10zm0 1zm0 1zm0 3zm0 6zm0 26zm0 0zm0 21zm1-128zm0 0zm0 7zm0 30zm0 16zm0 6zm0 6zm0 31zm0 20zm0 19zm1-79zm0 1zm0 8zm2-47zm0 44zm0 30zm0 6zm1-123zm0 62zm0 47zm0 14zm0 12zm0 28zm0 13zm0 11zm1-166zm0 78zm1 1zm0 5zm0 9zm0 2zm0 12zm0 25zm0 3zm0 6zm1-178zm0 7zm0 48zm0 63zm0 51zm0 3zm0 28zm0 5zm0 7zm1-114zm0 31zm0 1zm0 80zm0 4zm1-100zm0 9zm0 31zm0 8zm0 4zm0 2zm1-88zm0 1zm0 25zm0 23zm0 2zm0 14zm0 26zm1-131zm0 66zm0 16zm0 8zm0 3zm0 15zm0 47zm0 2zm0 15zm1-185zm0 68zm0 12zm0 46zm0 0zm1-112zm0 87zm0 11zm0 4zm0 3zm0 10zm0 39zm1-54zm0 16zm1-54zm1 9zm0 40zm1-107zm0 40zm0 29zm0 12zm0 34zm0 5zm0 45zm1-130zm0 11zm0 25zm0 14zm0 18zm0 67zm1-141zm0 36zm0 12zm1-65zm0 15zm0 20zm0 0zm0 8zm0 6zm0 0zm0 2zm0 14zm0 51zm0 5zm1-80zm0 8zm0 8zm0 13zm0 3zm0 21zm1-101zm0 31zm0 4zm0 8zm0 11zm0 6zm0 2zm0 34zm0 11zm0 17zm1-92zm0 3zm0 14zm0 11zm0 45zm1 7zm1-96zm0 47zm0 33zm0 14zm0 18zm1-89zm0 22zm0 11zm0 61zm0 16zm1-36zm0 29zm1-195zm0 69zm0 5zm0 16zm0 47zm0 3zm1-84zm0 7zm0 46zm0 7zm0 0zm0 1zm0 2zm0 6zm0 8zm0 24zm0 25zm0 5zm0 2zm0 34zm0 2zm1-184zm0 28zm0 29zm0 24zm0 27zm0 0zm0 51zm1-159zm0 9zm0 31zm0 9zm0 31zm0 4zm0 15zm0 15zm0 1zm0 4zm0 9zm0 4zm0 8zm0 34zm1-176zm0 43zm0 3zm0 7zm0 11zm0 6zm0 17zm0 1zm0 4zm0 11zm0 11zm0 0zm0 3zm0 16zm0 25zm0 21zm0 9zm1-138zm0 8zm0 5zm0 7zm0 7zm0 12zm0 5zm0 11zm0 11zm0 8zm0 9zm0 8zm0 18zm0 2zm0 18zm2-214zm8 97zm0 66zm1-124zm0 31zm0 73zm0 22zm1-45zm0 4zm0 9zm1 32zm1-74zm1-57zm0 31zm0 75zm1-115zm0 161zm2-65zm0 33zm0 12zm0 49zm1-130zm0 2zm0 20zm0 18zm0 18zm0 3zm0 2zm0 69zm1-39zm0 31zm4-144zm0 56zm0 3zm1-45zm0 18zm0 80zm0 37zm1-130zm0 42zm0 68zm2-197zm0 102zm2 40zm0 39zm1-146zm1 47zm0 42zm0 17zm0 33zm0 25zm1-135zm1-8zm0 33zm0 0zm0 47zm0 7zm0 15zm0 13zm0 20zm1-46zm0 2zm0 15zm0 14zm0 46zm0 3zm1-128zm0 7zm0 7zm0 92zm1-140zm0 123zm1-103zm2-31zm0 16zm0 23zm0 24zm0 3zm0 5zm0 13zm0 8zm1-17zm0 1zm0 46zm1 50zm1-191zm0 69zm0 34zm0 5zm0 8zm0 5zm2-87zm0 48zm0 17zm0 6zm0 9zm0 25zm1-4zm0 52zm3-62zm0 43zm1-154zm0 51zm0 5zm0 2zm0 3zm0 6zm1 14zm0 2zm0 43zm1-119zm0 87zm1-92zm1 5zm1 62zm0 13zm1-50zm0 18zm0 18zm0 17zm0 6zm0 8zm0 47zm1-73zm0 22zm0 59zm3-113zm1 46zm0 37zm0 20zm1-36zm1-43zm1-4zm0 6zm0 60zm0 12zm1-149zm0 77zm1 44zm1-116zm0 88zm0 8zm0 3zm0 3zm1-90zm0 44zm0 18zm1-1zm1-116zm0 85zm0 16zm0 3zm0 60zm1-116zm0 2zm0 57zm0 4zm1-53zm0 11zm0 9zm0 3zm0 1zm0 3zm0 20zm0 41zm0 14zm1-162zm0 15zm0 14zm0 11zm0 10zm0 8zm0 2zm0 16zm0 3zm0 10zm0 46zm0 11zm0 15zm0 15zm1-184zm0 23zm0 44zm0 20zm0 15zm0 7zm0 23zm0 15zm0 16zm1-141zm0 10zm0 105zm0 10zm0 6zm0 31zm1-99zm0 18zm1-20zm0 44zm0 32zm1-123zm0 7zm0 20zm0 11zm0 16zm0 21zm0 10zm0 5zm0 6zm0 20zm0 19zm0 6zm1-102zm0 69zm1-103zm0 17zm0 24zm0 41zm0 20zm0 3zm0 13zm1-137zm0 145zm1-48zm1-6zm0 18zm1-36zm0 2zm0 16zm1-43zm0 18zm0 18zm0 26zm0 16zm1-148zm0 93zm0 9zm0 9zm0 4zm0 1zm1-41zm0 44zm1-6zm1 10zm0 4zm1-57zm0 49zm0 8zm1-31zm0 28zm0 24zm1-97zm0 18zm0 19zm0 8zm0 5zm0 8zm0 10zm0 48zm1-167zm0 28zm0 16zm0 41zm0 2zm0 1zm0 14zm0 2zm0 11zm0 0zm0 35zm0 4zm0 44zm1-47zm1-40zm0 18zm0 48zm1-129zm0 63zm0 24zm0 11zm0 34zm0 20zm1-100zm0 17zm0 15zm0 49zm0 14zm1-75zm1-10zm0 60zm1-92zm0 24zm0 39zm0 2zm1-54zm0 18zm0 31zm0 11zm1-48zm0 20zm0 22zm0 36zm0 34zm0 7zm1-168zm0 11zm0 12zm0 28zm0 16zm0 11zm0 2zm0 11zm0 24zm0 12zm0 7zm1-110zm0 3zm0 35zm0 13zm0 21zm0 19zm0 3zm1-4zm0 9zm0 36zm1-132zm0 0zm0 23zm0 14zm0 43zm0 69zm1-123zm0 11zm0 3zm0 14zm1-51zm0 1zm0 19zm0 10zm0 7zm0 5zm0 1zm0 0zm0 3zm0 7zm0 1zm0 46zm0 53zm1-157zm0 18zm0 8zm0 7zm0 12zm0 1zm0 1zm0 1zm0 1zm0 18zm0 5zm0 17zm0 3zm0 7zm0 15zm0 8zm1-123zm0 18zm0 9zm0 56zm0 1zm0 27zm0 31zm1-209zm0 122zm0 25zm0 5zm0 17zm19-131zm1-38zm0 25zm0 20zm1-31zm0 18zm0 30zm0 17zm0 70zm1-132zm0 22zm0 38zm0 14zm0 12zm0 2zm0 12zm1-127zm0 20zm0 2zm0 8zm0 26zm0 17zm0 23zm0 18zm0 10zm1-88zm0 27zm0 40zm0 5zm0 61zm1-169zm0 77zm4 30zm2 116zm1-95zm1-113zm0 64zm0 15zm0 12zm0 22zm1-122zm0 6zm0 13zm0 6zm0 15zm0 117zm1-127zm0 19zm0 16zm0 5zm0 13zm0 28zm0 7zm1-85zm0 63zm1-51zm0 24zm0 4zm1 38zm2-64zm0 16zm0 46zm0 4zm3-83zm0 12zm0 41zm1-89zm0 22zm0 10zm0 2zm0 21zm0 68zm0 56zm1-164zm0 9zm0 42zm0 42zm0 31zm0 16zm1-104zm0 46zm0 27zm0 11zm1-135zm0 24zm0 32zm0 134zm1-160zm0 16zm0 2zm0 19zm0 21zm0 9zm1 14zm0 50zm2-68zm1-89zm0 18zm0 5zm0 10zm0 21zm0 24zm0 47zm1-119zm0 26zm0 16zm0 15zm0 18zm0 3zm0 22zm1-94zm0 14zm0 49zm0 0zm0 11zm3 5zm0 10zm1-26zm1-26zm0 64zm1-79zm1 34zm0 17zm0 6zm1-81zm0 8zm0 16zm0 4zm0 65zm1-97zm0 32zm0 18zm0 33zm0 7zm1-27zm1-11zm4-31zm3 11zm0 36zm1 50zm1-91zm4-21zm0 74zm0 46zm1-95zm0 38zm3-71zm1 19zm1-27zm0 24zm0 55zm0 28zm0 6zm0 0zm0 13zm1-28zm2-38zm1-9zm0 1zm0 9zm0 58zm6-36zm0 92zm2-152zm0 32zm0 13zm0 3zm1-58zm0 29zm0 42zm0 91zm1-152zm0 25zm0 5zm0 4zm0 5zm0 8zm0 6zm0 7zm0 7zm1-90zm0 9zm0 5zm0 6zm0 24zm0 4zm0 7zm0 46zm0 20zm0 26zm0 28zm1-175zm0 6zm0 26zm0 3zm0 19zm0 4zm0 3zm0 5zm0 3zm0 16zm0 7zm0 7zm0 9zm0 15zm0 1zm1-124zm0 0zm0 24zm0 18zm0 5zm0 13zm0 0zm0 13zm0 4zm0 2zm0 0zm0 0zm0 19zm0 8zm0 11zm0 39zm1-156zm0 9zm0 16zm0 18zm0 2zm0 15zm0 12zm0 5zm0 34zm0 26zm0 2zm0 0zm1-122zm0 1zm0 18zm0 7zm0 5zm0 0zm0 20zm0 5zm0 6zm0 45zm0 80zm1-193zm0 2zm0 2zm0 3zm0 12zm0 16zm0 12zm0 2zm0 13zm0 15zm0 4zm0 2zm0 31zm0 0zm0 24zm0 10zm1-134zm0 1zm0 1zm0 11zm0 3zm0 3zm0 14zm0 6zm0 6zm0 29zm0 14zm0 2zm0 68zm1-183zm0 8zm0 1zm0 0zm0 2zm0 3zm0 6zm0 19zm0 1zm0 1zm0 4zm0 4zm0 9zm0 6zm0 0zm0 5zm0 11zm0 12zm0 1zm0 4zm0 0zm0 10zm0 74zm1-178zm0 1zm0 4zm0 1zm0 10zm0 2zm0 0zm0 2zm0 8zm0 6zm0 4zm0 7zm0 7zm0 30zm0 12zm0 1zm0 13zm0 15zm0 10zm0 5zm0 13zm0 39zm1-190zm0 9zm0 6zm0 10zm0 51zm0 49zm1-119zm0 39zm0 3zm0 6zm0 36zm0 33zm1-123zm0 24zm0 11zm0 2zm0 11zm0 13zm0 7zm0 8zm0 6zm0 3zm0 15zm1-103zm0 11zm0 3zm0 2zm0 5zm0 9zm0 12zm0 2zm0 15zm0 3zm0 3zm0 1zm0 2zm0 4zm0 4zm0 19zm0 31zm1-100zm0 4zm0 19zm0 2zm0 9zm0 19zm0 2zm0 31zm0 7zm0 24zm1-143zm0 4zm0 4zm0 14zm0 11zm0 1zm0 33zm0 16zm0 12zm0 20zm0 0zm1-115zm0 3zm0 31zm0 5zm0 65zm0 8zm1-112zm0 0zm0 0zm0 0zm0 7zm0 9zm0 11zm0 21zm0 4zm0 10zm0 6zm0 4zm0 15zm0 21zm0 47zm1-155zm0 4zm0 6zm0 2zm0 19zm0 9zm0 9zm0 4zm0 0zm0 2zm0 12zm0 2zm0 19zm0 7zm0 3zm0 4zm0 27zm0 1zm0 2zm0 34zm0 25zm1-184zm0 4zm0 0zm0 11zm0 5zm0 14zm0 1zm0 12zm0 4zm0 2zm0 5zm0 2zm0 1zm0 7zm0 0zm0 3zm0 1zm0 6zm0 26zm0 16zm0 2zm0 3zm1-113zm0 5zm0 6zm0 1zm0 2zm0 17zm0 10zm0 13zm0 9zm0 16zm0 5zm0 4zm0 85zm1-192zm0 12zm0 5zm0 7zm0 10zm0 4zm0 4zm0 5zm0 4zm0 3zm0 2zm0 1zm0 3zm0 12zm0 15zm0 0zm0 3zm0 7zm0 22zm0 56zm0 5zm1-180zm0 23zm0 11zm0 6zm0 10zm0 10zm0 3zm0 3zm0 3zm0 31zm0 37zm1-137zm0 0zm0 24zm0 2zm0 1zm0 0zm0 1zm0 13zm0 8zm0 3zm0 12zm0 0zm0 15zm0 7zm0 2zm0 7zm0 7zm0 9zm0 30zm0 1zm0 5zm1-138zm0 0zm0 6zm0 1zm0 13zm0 7zm0 3zm0 1zm0 2zm0 21zm0 16zm0 4zm0 0zm0 1zm0 6zm0 12zm0 0zm0 35zm0 14zm1-147zm0 5zm0 1zm0 6zm0 6zm0 1zm0 1zm0 2zm0 10zm0 4zm0 11zm0 8zm0 15zm0 15zm0 0zm0 19zm0 3zm0 8zm0 0zm0 13zm1-132zm0 10zm0 0zm0 1zm0 7zm0 42zm0 6zm0 4zm0 0zm0 1zm0 2zm0 30zm0 62zm1-165zm0 6zm0 4zm0 18zm0 3zm0 17zm0 12zm0 18zm0 1zm0 15zm0 28zm0 19zm0 11zm1-152zm0 18zm0 4zm0 4zm0 2zm0 10zm0 29zm0 30zm0 45zm1-135zm0 6zm0 0zm0 2zm0 2zm0 2zm0 8zm0 45zm0 2zm0 2zm0 29zm0 13zm0 10zm1-128zm0 46zm0 15zm0 41zm0 32zm1-68zm0 77zm0 9zm1-152zm0 28zm0 10zm0 12zm0 20zm0 0zm0 0zm0 9zm0 51zm1-130zm0 0zm0 14zm0 10zm0 8zm0 10zm0 35zm0 2zm0 23zm0 21zm1-123zm0 0zm0 0zm0 11zm0 10zm0 10zm0 0zm0 1zm0 3zm0 1zm0 21zm0 6zm0 1zm0 25zm0 15zm0 15zm0 6zm0 38zm0 69zm1-232zm0 1zm0 9zm0 0zm0 0zm0 3zm0 2zm0 0zm0 1zm0 1zm0 5zm0 0zm0 7zm0 1zm0 0zm0 0zm0 10zm0 0zm0 2zm0 0zm0 0zm0 21zm0 1zm0 3zm0 3zm0 28zm0 1zm0 8zm0 8zm0 1zm0 3zm0 3zm1-119zm0 5zm0 9zm0 1zm0 9zm0 21zm0 4zm0 14zm0 20zm0 19zm0 20zm0 21zm1-146zm0 0zm0 8zm0 10zm0 50zm0 17zm1-85zm0 0zm0 24zm0 10zm0 10zm0 6zm0 38zm0 12zm0 6zm0 19zm0 14zm0 16zm1-141zm0 10zm0 2zm0 26zm0 8zm0 6zm0 9zm0 9zm0 48zm0 21zm0 14zm1-157zm0 2zm0 18zm0 9zm0 14zm0 26zm0 2zm0 5zm0 22zm1-108zm0 6zm0 4zm0 1zm0 5zm0 49zm0 10zm0 1zm0 0zm0 20zm0 5zm0 35zm0 81zm1-217zm0 0zm0 5zm0 2zm0 5zm0 3zm0 1zm0 2zm0 4zm0 5zm0 4zm0 9zm0 22zm0 36zm1-25zm0 12zm0 4zm0 24zm1-86zm0 3zm0 12zm0 6zm0 5zm0 22zm0 49zm0 11zm1-128zm0 13zm0 40zm0 6zm0 13zm0 10zm0 7zm1-93zm0 10zm0 20zm0 4zm0 1zm0 0zm0 10zm0 0zm0 15zm0 5zm0 79zm0 59zm1-206zm0 27zm0 15zm0 86zm0 48zm1-113zm1-63zm0 7zm0 2zm0 30zm0 4zm0 3zm0 18zm0 1zm0 4zm1-58zm0 10zm0 3zm0 15zm0 21zm0 14zm0 5zm0 4zm0 16zm0 20zm1-119zm0 0zm0 24zm0 3zm0 13zm0 0zm0 16zm0 0zm0 23zm0 0zm0 11zm0 2zm0 15zm0 1zm0 59zm1-159zm0 1zm0 9zm0 0zm0 2zm0 26zm0 14zm0 0zm0 12zm0 32zm0 4zm0 40zm0 38zm1-152zm0 0zm0 4zm0 5zm0 17zm0 7zm0 3zm0 42zm0 23zm0 8zm1-143zm0 6zm0 9zm0 15zm0 13zm0 0zm0 2zm0 0zm0 10zm0 3zm0 6zm0 15zm0 10zm0 28zm0 2zm0 4zm0 2zm0 63zm1-159zm0 22zm0 17zm0 23zm0 20zm0 15zm0 47zm0 14zm1-138zm0 11zm0 14zm0 5zm0 16zm0 54zm1-112zm0 113zm17-63zm1 15zm2-42zm1 8zm0 8zm0 0zm0 16zm0 21zm0 7zm0 32zm0 21zm1-88zm0 15zm0 2zm0 6zm0 38zm0 24zm0 42zm1-173zm0 68zm0 22zm0 5zm0 9zm0 0zm0 4zm0 3zm0 2zm0 21zm0 40zm1-193zm0 88zm0 5zm1-25zm1 37zm0 0zm2-37zm0 36zm0 19zm2 26zm1-55zm2-28zm1 37zm1-31zm1 27zm0 33zm1-152zm0 63zm0 71zm0 85zm0 6zm1-163zm0 30zm0 7zm0 36zm0 24zm0 2zm1-54zm0 42zm0 35zm1-89zm0 39zm0 15zm0 12zm0 23zm1-86zm0 45zm0 16zm0 13zm1-77zm1 118zm3-102zm0 27zm0 14zm0 62zm1-111zm0 16zm1 38zm0 2zm1-89zm0 62zm0 35zm1-116zm0 48zm0 5zm0 6zm0 48zm0 18zm0 7zm0 21zm0 29zm1-122zm0 4zm0 11zm0 10zm0 18zm0 31zm0 20zm1-118zm0 67zm0 51zm1-86zm0 54zm1-44zm0 5zm0 28zm0 19zm1-62zm0 0zm1-59zm0 28zm0 16zm0 90zm0 13zm1-85zm0 15zm1 3zm1 31zm2-26zm8 28zm1-78zm1 4zm0 4zm0 21zm0 33zm0 80zm1-82zm0 23zm0 48zm2-17zm2-91zm0 73zm1-62zm0 8zm0 6zm0 43zm0 11zm2-22zm0 9zm1 1zm1-22zm2 23zm1-62zm2 8zm1-61zm0 31zm0 33zm0 13zm0 37zm1-89zm0 3zm0 46zm0 4zm0 7zm0 26zm0 31zm1-76zm0 2zm2 1zm1-29zm0 14zm0 20zm1-21zm0 41zm0 15zm0 9zm1-126zm0 8zm0 36zm0 12zm0 20zm0 32zm0 26zm0 2zm0 1zm0 29zm1-107zm0 27zm0 8zm0 2zm0 1zm0 14zm0 22zm0 1zm0 9zm1-123zm0 7zm0 43zm0 41zm1-68zm0 29zm0 46zm1-13zm2-13zm1-83zm0 51zm0 15zm0 2zm0 14zm0 80zm1-75zm0 15zm1-99zm0 26zm0 130zm1-187zm1 38zm0 59zm1-14zm1 80zm9-50zm1-36zm0 11zm0 15zm2-8zm0 20zm1-33zm1-31zm0 24zm0 24zm0 0zm1-69zm0 14zm0 12zm0 10zm0 6zm0 54zm1-72zm0 30zm0 35zm0 16zm1-120zm0 79zm1-38zm0 7zm0 4zm0 2zm0 0zm0 32zm1-80zm0 42zm0 75zm0 4zm1-113zm0 11zm0 48zm1 20zm0 13zm1-63zm0 8zm0 9zm0 19zm0 75zm2-138zm0 33zm0 24zm0 92zm1-134zm0 12zm0 22zm0 1zm0 5zm0 45zm1-118zm0 68zm0 14zm0 14zm1-100zm0 172zm2-174zm1 86zm1-104zm0 9zm0 10zm0 14zm0 53zm1-67zm0 27zm0 8zm0 8zm0 14zm0 1zm0 75zm1-75zm1-83zm0 21zm0 6zm0 14zm0 5zm0 26zm2-33zm0 11zm0 2zm0 12zm0 17zm0 19zm0 75zm1-202zm0 112zm1 87zm2-165zm0 76zm1-57zm0 26zm0 43zm0 14zm1-113zm0 50zm0 21zm0 9zm0 5zm0 11zm1-71zm0 4zm1-7zm0 45zm0 75zm0 23zm1-165zm0 16zm0 48z" stroke="#e31a1c" stroke-width="7.4"/>
</g>
<line x1="103.5" x2="1501" y1="1463.6" y2="1463.6" stroke="#f6a935" stroke-width="1.7" stroke-dasharray="5.9 2.7"/><line x1="103.5" x2="1501" y1="1480.1" y2="1480.1" stroke="#f6a935" stroke-width="1.7" stroke-dasharray="5.9 2.7"/><line x1="103.5" x2="1501" y1="1512.5" y2="1512.5" stroke="#f6a935" stroke-width="1.7" stroke-dasharray="5.9 2.7"/><line x1="103.5" x2="1501" y1="1544.8" y2="1544.8" stroke="#f6a935" stroke-width="1.7" stroke-dasharray="5.9 2.7"/><line x1="103.5" x2="1501" y1="1561.3" y2="1561.3" stroke="#f6a935" stroke-width="1.7" stroke-dasharray="5.9 2.7"/>
<path d="M103.9 1414.4H162.3M173.0 1414.4H224.2M326.0 1414.4H338.3M341.6 1414.4H352.7M355.8 1414.4H364.1M366.7 1414.4H367.9M370.7 1414.4h0M384.7 1414.4H387.6M391.6 1414.4H393.4M402.5 1414.4h0M406.5 1414.4H410.0M424.0 1414.4H427.5M431.4 1414.4H433.2M436.3 1414.4H436.7M780.6 1414.4H796.5M815.3 1414.4H819.8M852.0 1414.4H854.5M865.0 1414.4H867.5M890.3 1414.4H900.4M903.0 1414.4H916.3M1051.8 1414.4H1051.9M1054.9 1414.4H1058.0M1060.7 1414.4H1067.5M1073.3 1414.4H1074.4M1084.3 1414.4H1089.7M1093.1 1414.4H1094.3M1098.5 1414.4H1104.1M1107.6 1414.4h0M1111.5 1414.4h0M1129.7 1414.4H1140.4M1153.4 1414.4H1154.5M1160.4 1414.4H1171.0M1233.1 1414.4H1241.4M1246.6 1414.4H1259.3M1262.2 1414.4H1290.7M1296.1 1414.4H1300.6M1303.2 1414.4H1325.0M1459.6 1414.4H1476.3M103.9 1610.5H162.3M173.0 1610.5H224.2M326.0 1610.5H338.3M341.6 1610.5H352.7M355.8 1610.5H364.1M366.7 1610.5H367.9M370.7 1610.5h0M384.7 1610.5H387.6M391.6 1610.5H393.4M402.5 1610.5h0M406.5 1610.5H410.0M424.0 1610.5H427.5M431.4 1610.5H433.2M436.3 1610.5H436.7M780.6 1610.5H796.5M815.3 1610.5H819.8M852.0 1610.5H854.5M865.0 1610.5H867.5M890.3 1610.5H900.4M903.0 1610.5H916.3M1051.8 1610.5H1051.9M1054.9 1610.5H1058.0M1060.7 1610.5H1067.5M1073.3 1610.5H1074.4M1084.3 1610.5H1089.7M1093.1 1610.5H1094.3M1098.5 1610.5H1104.1M1107.6 1610.5h0M1111.5 1610.5h0M1129.7 1610.5H1140.4M1153.4 1610.5H1154.5M1160.4 1610.5H1171.0M1233.1 1610.5H1241.4M1246.6 1610.5H1259.3M1262.2 1610.5H1290.7M1296.1 1610.5H1300.6M1303.2 1610.5H1325.0M1459.6 1610.5H1476.3M225.1 1463.6H324.1M439.6 1463.6H441.0M530.9 1463.6H551.7M555.6 1463.6H618.2M801.5 1463.6H803.7M820.1 1463.6H827.7M843.7 1463.6H850.1M918.9 1463.6H932.5M935.7 1463.6H936.0M939.0 1463.6H951.0M1326.1 1463.6H1337.9M1401.1 1463.6H1423.2M1493.1 1463.6H1500.7M225.1 1561.3H324.1M439.6 1561.3H441.0M530.9 1561.3H551.7M555.6 1561.3H618.2M801.5 1561.3H803.7M820.1 1561.3H827.7M843.7 1561.3H850.1M918.9 1561.3H932.5M935.7 1561.3H936.0M939.0 1561.3H951.0M1326.1 1561.3H1337.9M1401.1 1561.3H1423.2M1493.1 1561.3H1500.7M442.6 1480.1H461.6M464.2 1480.1H470.4M473.1 1480.1H475.5M479.0 1480.1H493.0M496.7 1480.1H529.9M702.2 1480.1H726.6M804.3 1480.1H806.5M809.3 1480.1H811.9M828.2 1480.1H831.6M835.4 1480.1H835.9M984.6 1480.1H1007.1M1011.6 1480.1H1050.5M1356.4 1480.1H1390.5M1394.9 1480.1H1400.4M442.6 1544.8H461.6M464.2 1544.8H470.4M473.1 1544.8H475.5M479.0 1544.8H493.0M496.7 1544.8H529.9M702.2 1544.8H726.6M804.3 1544.8H806.5M809.3 1544.8H811.9M828.2 1544.8H831.6M835.4 1544.8H835.9M984.6 1544.8H1007.1M1011.6 1544.8H1050.5M1356.4 1544.8H1390.5M1394.9 1544.8H1400.4M618.3 1492.9H641.3M731.5 1492.9H779.2M1195.6 1492.9H1223.0M618.3 1532.0H641.3M731.5 1532.0H779.2M1195.6 1532.0H1223.0M644.3 1512.5H701.7M951.0 1512.5H984.2M1491.0 1512.5H1500.8M836.3 1448.2H841.9M836.3 1576.7H841.9M1180.3 1487.9H1194.9M1180.3 1537.0H1194.9M1338.3 1447.7H1346.4M1432.6 1447.7H1453.3M1338.3 1577.2H1346.4M1432.6 1577.2H1453.3M1346.8 1498.2H1355.9M1346.8 1526.7H1355.9M1482.4 1452.9H1493.1M1497.8 1452.9H1499.6M1482.4 1572.0H1493.1M1497.8 1572.0H1499.6M1492.4 1474.4H1500.2M1492.4 1550.5H1500.2M726.5 1420.8h0M726.5 1454.1h0M726.5 1570.8h0M726.5 1605.3h0M726.5 1564.8h0" stroke="#984ea3" stroke-width="4.1" stroke-linecap="round" fill="none"/>
<path d="M224.4 1381.4V1643.4M341.8 1381.4V1643.4M437.5 1381.4V1643.4M530.7 1381.4V1643.4M618.2 1381.4V1643.4M702.0 1381.4V1643.4M779.5 1381.4V1643.4M850.5 1381.4V1643.4M918.6 1381.4V1643.4M984.6 1381.4V1643.4M1051.0 1381.4V1643.4M1116.0 1381.4V1643.4M1171.6 1381.4V1643.4M1223.5 1381.4V1643.4M1273.4 1381.4V1643.4M1317.1 1381.4V1643.4M1356.2 1381.4V1643.4M1394.4 1381.4V1643.4M1423.3 1381.4V1643.4M1453.9 1381.4V1643.4M1477.2 1381.4V1643.4" stroke="#8e519f" stroke-width="1.9" fill="none"/>
<text x="163.9" y="1407.8" font-size="13" text-anchor="middle" fill="#9d5fae">1</text><text x="283.1" y="1407.8" font-size="13" text-anchor="middle" fill="#9d5fae">2</text><text x="389.6" y="1407.8" font-size="13" text-anchor="middle" fill="#9d5fae">3</text><text x="484.1" y="1407.8" font-size="13" text-anchor="middle" fill="#9d5fae">4</text><text x="574.5" y="1407.8" font-size="13" text-anchor="middle" fill="#9d5fae">5</text><text x="660.1" y="1407.8" font-size="13" text-anchor="middle" fill="#9d5fae">6</text><text x="740.8" y="1407.8" font-size="13" text-anchor="middle" fill="#9d5fae">7</text><text x="815.0" y="1407.8" font-size="13" text-anchor="middle" fill="#9d5fae">8</text><text x="884.5" y="1407.8" font-size="13" text-anchor="middle" fill="#9d5fae">9</text><text x="951.6" y="1407.8" font-size="13" text-anchor="middle" fill="#9d5fae">10</text><text x="1017.8" y="1407.8" font-size="13" text-anchor="middle" fill="#9d5fae">11</text><text x="1083.5" y="1407.8" font-size="13" text-anchor="middle" fill="#9d5fae">12</text><text x="1143.8" y="1407.8" font-size="13" text-anchor="middle" fill="#9d5fae">13</text><text x="1197.5" y="1407.8" font-size="13" text-anchor="middle" fill="#9d5fae">14</text><text x="1248.5" y="1407.8" font-size="13" text-anchor="middle" fill="#9d5fae">15</text><text x="1295.2" y="1407.8" font-size="13" text-anchor="middle" fill="#9d5fae">16</text><text x="1336.7" y="1407.8" font-size="13" text-anchor="middle" fill="#9d5fae">17</text><text x="1375.3" y="1407.8" font-size="13" text-anchor="middle" fill="#9d5fae">18</text><text x="1408.8" y="1407.8" font-size="13" text-anchor="middle" fill="#9d5fae">19</text><text x="1438.6" y="1407.8" font-size="13" text-anchor="middle" fill="#9d5fae">20</text><text x="1465.6" y="1407.8" font-size="13" text-anchor="middle" fill="#9d5fae">21</text><text x="1489.1" y="1407.8" font-size="13" text-anchor="middle" fill="#9d5fae">22</text>
<rect x="103.5" y="1381.4" width="1397.5" height="262.0" fill="none" stroke="#3a3a3a" stroke-width="1.4"/>
<line x1="98.5" x2="103.5" y1="1631.5" y2="1631.5" stroke="#3a3a3a" stroke-width="1.2"/><text x="92.0" y="1636.2" font-size="12.8" text-anchor="end" fill="#262626">0.0</text><line x1="98.5" x2="103.5" y1="1583.9" y2="1583.9" stroke="#3a3a3a" stroke-width="1.2"/><text x="92.0" y="1588.6" font-size="12.8" text-anchor="end" fill="#262626">0.2</text><line x1="98.5" x2="103.5" y1="1536.3" y2="1536.3" stroke="#3a3a3a" stroke-width="1.2"/><text x="92.0" y="1541.0" font-size="12.8" text-anchor="end" fill="#262626">0.4</text><line x1="98.5" x2="103.5" y1="1488.6" y2="1488.6" stroke="#3a3a3a" stroke-width="1.2"/><text x="92.0" y="1493.3" font-size="12.8" text-anchor="end" fill="#262626">0.6</text><line x1="98.5" x2="103.5" y1="1441.0" y2="1441.0" stroke="#3a3a3a" stroke-width="1.2"/><text x="92.0" y="1445.7" font-size="12.8" text-anchor="end" fill="#262626">0.8</text><line x1="98.5" x2="103.5" y1="1393.4" y2="1393.4" stroke="#3a3a3a" stroke-width="1.2"/><text x="92.0" y="1398.1" font-size="12.8" text-anchor="end" fill="#262626">1.0</text>
<text transform="translate(62 1513.9) rotate(-90)" font-size="13.8" text-anchor="middle" fill="#262626">ASE (tumour)</text>
<text x="1500" y="1659.4" font-size="13.6" text-anchor="end" fill="#262626">1e9</text>
</g>
<g><rect x="103.5" y="1656.6" width="1397.5" height="261.7" fill="#fff"/>
<g transform="translate(103.5 1656.6) scale(.5)" fill="none" stroke-linecap="round">
<path d="M2 207zm1-24zm0 0zm0 20zm0 16zm0 10zm0 33zm0 0zm0 18zm0 9zm0 13zm1-62zm0 46zm0 4zm0 2zm0 26zm1-147zm0 38zm0 104zm1-51zm0 22zm0 6zm1-91zm0 1zm0 60zm0 2zm0 0zm0 26zm0 1zm0 75zm1-303zm0 134zm0 27zm0 3zm0 55zm0 6zm0 84zm1-236zm0 75zm0 36zm0 17zm0 22zm0 40zm0 7zm0 24zm1-170zm0 68zm0 9zm0 27zm0 7zm0 0zm0 19zm0 20zm1-164zm0 2zm0 20zm0 17zm0 4zm0 8zm0 27zm0 1zm0 4zm0 8zm0 14zm0 30zm1-163zm0 3zm0 79zm0 37zm0 33zm0 1zm0 0zm0 38zm0 16zm1-104zm1-60zm0 36zm0 3zm0 9zm0 4zm0 7zm0 17zm0 0zm0 0zm0 0zm0 40zm0 58zm1-61zm1-169zm0 15zm0 38zm0 53zm0 8zm0 18zm0 5zm0 18zm0 47zm1-268zm0 166zm0 6zm0 74zm0 3zm0 42zm1-77zm1-64zm0 48zm0 27zm1-135zm0 6zm0 23zm0 13zm0 1zm0 76zm0 0zm0 2zm0 18zm1-31zm0 11zm0 11zm1-118zm0 53zm0 17zm0 26zm0 27zm0 7zm0 33zm1-126zm0 25zm0 14zm0 43zm1-134zm0 59zm0 9zm0 2zm0 41zm0 0zm0 0zm1-19zm0 48zm0 13zm0 16zm1-140zm0 31zm0 21zm0 90zm0 0zm0 5zm1-52zm0 42zm1-120zm0 99zm1 0zm0 3zm1-81zm0 22zm0 5zm0 37zm0 32zm0 67zm1-198zm0 55zm0 24zm0 34zm0 0zm0 17zm1-116zm0 84zm1-30zm0 36zm1-73zm0 26zm0 9zm0 13zm0 0zm1-89zm0 41zm0 14zm0 82zm1-101zm0 5zm0 24zm0 16zm0 8zm0 0zm0 15zm0 22zm0 11zm0 3zm0 4zm1-85zm0 18zm0 12zm0 24zm0 7zm0 9zm0 20zm0 19zm1-246zm0 79zm0 19zm0 9zm0 43zm0 1zm0 30zm0 2zm0 3zm0 3zm0 2zm0 8zm0 28zm0 10zm1-189zm0 82zm0 26zm0 33zm0 0zm0 2zm0 4zm0 4zm0 2zm0 42zm1-102zm0 12zm0 23zm0 6zm0 2zm0 34zm0 40zm0 6zm1-248zm0 56zm0 18zm0 11zm0 4zm0 7zm0 5zm0 2zm0 11zm0 3zm0 3zm0 13zm0 5zm0 32zm0 8zm0 7zm0 9zm0 12zm0 3zm1-203zm0 48zm0 41zm0 8zm0 22zm0 1zm0 3zm0 0zm0 5zm0 1zm0 8zm0 4zm0 4zm0 17zm0 0zm0 2zm0 11zm0 15zm0 3zm0 5zm0 7zm0 16zm0 43zm1-193zm0 40zm0 66zm0 12zm0 48zm1-157zm0 4zm0 43zm0 11zm0 7zm0 69zm1-203zm0 90zm0 44zm0 5zm0 16zm0 27zm1-127zm0 13zm0 7zm0 13zm0 20zm0 4zm0 4zm0 0zm0 6zm0 3zm0 6zm0 3zm0 4zm0 6zm0 44zm0 0zm0 54zm1-218zm0 70zm0 1zm0 21zm0 7zm0 7zm0 31zm0 3zm0 1zm0 10zm0 3zm0 16zm1-68zm0 21zm0 3zm0 47zm0 26zm1-195zm0 48zm0 17zm0 11zm0 0zm0 30zm0 6zm0 2zm0 5zm0 35zm0 20zm0 38zm0 10zm1-195zm0 31zm0 39zm0 6zm0 51zm1-167zm0 69zm0 2zm0 8zm0 16zm0 33zm1-95zm0 75zm0 100zm1-137zm0 156zm1-173zm0 92zm1-131zm0 78zm0 4zm0 22zm0 44zm0 16zm1-115zm0 37zm0 2zm0 16zm0 0zm0 16zm0 16zm0 28zm1-100zm0 31zm1-46zm0 81zm1-46zm0 20zm0 14zm0 30zm0 4zm0 35zm0 27zm0 74zm1-303zm0 143zm0 10zm0 6zm1-97zm0 41zm0 40zm0 42zm1-104zm0 98zm1-175zm0 57zm0 58zm1-74zm0 23zm0 5zm0 3zm0 3zm0 40zm0 0zm0 18zm0 30zm0 7zm0 0zm0 9zm0 1zm0 3zm1-163zm0 71zm0 8zm0 64zm0 27zm1-27zm0 2zm1-120zm0 22zm0 125zm0 25zm1-142zm0 16zm0 18zm0 51zm0 44zm1-141zm0 15zm0 37zm0 16zm1-78zm0 89zm0 38zm1-150zm0 131zm1-111zm0 54zm2-37zm0 80zm0 9zm0 52zm1-125zm0 6zm0 26zm1-21zm0 11zm0 30zm0 31zm1-37zm0 26zm0 23zm0 16zm1-124zm0 8zm0 22zm0 39zm0 26zm1-103zm1 132zm1-119zm0 74zm0 38zm1-137zm0 25zm0 30zm0 25zm0 5zm0 4zm0 15zm0 9zm0 95zm1-210zm0 28zm0 39zm0 16zm0 19zm0 13zm0 10zm0 2zm0 35zm0 16zm1-183zm0 0zm0 2zm0 36zm0 0zm0 11zm0 1zm0 36zm0 17zm0 3zm0 109zm0 0zm1-302zm0 214zm1-139zm0 149zm1-130zm0 15zm0 10zm0 12zm0 28zm0 0zm0 27zm0 1zm0 16zm0 9zm0 7zm1-97zm0 1zm0 13zm0 23zm0 18zm0 26zm1-102zm0 1zm0 33zm0 24zm0 4zm0 16zm0 11zm0 11zm1-50zm0 8zm1-79zm0 38zm1-22zm0 33zm0 30zm0 7zm0 131zm1-217zm0 45zm0 18zm0 16zm0 6zm0 8zm0 7zm0 20zm0 114zm1-234zm0 1zm0 2zm0 17zm0 9zm0 68zm0 4zm1-76zm0 36zm0 18zm0 11zm0 5zm0 7zm0 4zm0 19zm0 2zm0 15zm0 12zm1-75zm0 18zm0 108zm1-160zm0 43zm0 29zm1-105zm0 2zm0 130zm1-122zm0 64zm0 53zm0 88zm1-259zm0 97zm0 25zm0 1zm0 6zm0 22zm0 20zm0 8zm0 18zm1-253zm0 40zm0 30zm0 32zm0 42zm0 27zm0 29zm0 46zm1-129zm0 90zm1-103zm0 7zm0 26zm0 62zm0 47zm1-113zm1 12zm0 44zm0 7zm0 41zm1-111zm0 4zm0 0zm0 77zm0 26zm1-66zm0 45zm1-135zm0 53zm0 3zm0 3zm0 26zm0 54zm0 1zm0 3zm1-135zm0 48zm0 9zm0 3zm0 22zm0 20zm0 14zm0 0zm0 5zm0 47zm1-165zm0 45zm0 27zm1-142zm0 90zm0 16zm0 70zm0 0zm0 7zm1-68zm0 52zm0 0zm0 30zm0 5zm0 26zm1-168zm0 27zm0 7zm0 9zm0 10zm0 2zm0 34zm0 19zm0 3zm0 5zm0 5zm0 4zm0 7zm1-171zm0 30zm0 76zm0 17zm0 5zm0 13zm0 3zm0 63zm0 25zm0 124zm1-255zm0 18zm0 36zm0 7zm0 71zm1-164zm0 12zm0 162zm1-243zm0 136zm0 61zm1-89zm0 43zm1-49zm19-53zm0 65zm1-8zm0 8zm0 14zm0 27zm0 33zm0 81zm1-260zm0 24zm0 45zm0 2zm0 48zm0 11zm0 3zm0 55zm0 10zm0 13zm0 36zm1-181zm0 101zm0 10zm1-64zm0 51zm0 1zm1-86zm0 67zm0 33zm1-119zm0 66zm1 33zm1-80zm0 105zm2-162zm0 57zm0 56zm0 3zm0 29zm0 14zm0 11zm0 16zm1-197zm0 11zm0 18zm0 10zm0 12zm0 34zm0 7zm0 16zm0 0zm0 8zm0 19zm1-43zm0 59zm0 60zm1-147zm0 15zm0 15zm0 10zm0 4zm0 0zm0 0zm0 10zm0 30zm0 2zm0 53zm1-206zm0 37zm0 11zm0 37zm0 1zm0 25zm0 19zm0 6zm0 30zm0 0zm0 10zm1-156zm0 57zm0 34zm0 65zm2-184zm0 71zm0 37zm0 11zm0 13zm0 7zm0 2zm0 5zm0 1zm1-81zm0 5zm0 28zm0 20zm0 10zm0 0zm0 7zm0 1zm0 6zm0 4zm0 25zm1 9zm0 24zm1-145zm0 35zm0 53zm1-29zm0 5zm0 74zm1-187zm0 202zm1-61zm0 2zm0 9zm0 24zm1-127zm0 11zm0 23zm0 3zm0 13zm0 1zm0 8zm0 51zm1-95zm0 22zm0 2zm0 12zm0 40zm0 0zm0 1zm0 16zm0 30zm0 57zm1-231zm0 47zm0 72zm1-65zm0 32zm1-94zm0 63zm0 6zm0 44zm0 0zm0 7zm1-106zm0 49zm0 6zm0 3zm1-5zm0 2zm0 113zm1-153zm0 101zm0 14zm1-41zm0 55zm0 31zm1-151zm0 46zm0 30zm0 9zm0 33zm0 15zm1-79zm0 1zm0 44zm0 14zm1-101zm0 53zm0 0zm0 10zm0 43zm0 17zm0 25zm2-107zm0 3zm0 61zm1-245zm0 175zm0 31zm4-48zm0 4zm0 120zm1-137zm0 22zm0 10zm0 37zm0 16zm0 11zm1-137zm0 29zm0 27zm0 17zm0 16zm0 0zm0 10zm0 7zm0 10zm0 13zm1-159zm0 49zm0 41zm0 3zm0 4zm0 10zm0 12zm0 7zm0 15zm0 18zm0 20zm1-97zm0 29zm0 8zm0 7zm0 66zm2-124zm0 42zm0 9zm0 36zm1-103zm0 91zm1-134zm0 87zm0 30zm0 5zm0 32zm0 16zm0 5zm1-77zm1-170zm0 91zm1-11zm0 30zm0 41zm0 64zm0 15zm1-123zm0 4zm0 23zm0 48zm0 22zm0 1zm1-108zm0 26zm0 11zm0 66zm0 28zm0 14zm0 2zm0 25zm0 2zm0 30zm1-224zm0 26zm0 18zm0 24zm0 1zm0 54zm0 32zm0 3zm0 83zm1-215zm0 17zm0 32zm0 87zm1-189zm0 185zm1 42zm2-169zm0 44zm0 30zm0 79zm1-198zm0 40zm0 4zm0 23zm0 1zm0 17zm0 0zm0 10zm0 5zm0 19zm0 0zm0 6zm0 7zm0 5zm0 4zm0 18zm0 6zm0 2zm0 9zm0 22zm1-136zm0 19zm0 20zm0 1zm0 2zm0 31zm0 8zm1-156zm0 73zm0 37zm0 22zm0 8zm0 29zm0 12zm0 11zm0 0zm1-111zm0 17zm0 0zm0 4zm0 4zm0 3zm0 1zm0 2zm0 20zm0 0zm0 0zm0 0zm0 5zm0 2zm0 11zm0 7zm0 2zm0 3zm0 14zm0 21zm0 2zm0 118zm1-293zm0 44zm0 6zm0 6zm0 28zm0 6zm0 1zm0 17zm0 0zm0 0zm0 13zm0 2zm0 6zm0 1zm0 5zm0 3zm0 15zm0 3zm0 5zm0 4zm1-235zm0 70zm0 10zm0 98zm0 0zm0 38zm0 7zm0 15zm0 12zm0 39zm1-179zm0 6zm0 40zm1 38zm0 3zm1-130zm0 41zm0 33zm0 25zm0 22zm0 0zm0 3zm0 24zm0 16zm1-112zm0 4zm0 37zm0 18zm0 11zm0 23zm0 0zm0 6zm0 39zm1-101zm0 0zm0 22zm0 10zm1-101zm0 82zm0 9zm0 27zm0 21zm0 0zm0 31zm1-152zm0 4zm0 21zm0 5zm0 43zm0 10zm0 1zm0 7zm0 13zm0 33zm0 133zm1-240zm0 7zm0 11zm0 6zm0 29zm0 17zm0 13zm1-20zm1-68zm0 22zm1-4zm0 59zm0 22zm0 44zm1-125zm0 2zm0 28zm0 70zm0 25zm1-176zm0 33zm0 0zm0 10zm0 2zm0 7zm0 9zm0 3zm0 17zm0 34zm0 23zm0 10zm0 12zm0 0zm1-201zm0 31zm0 9zm0 3zm0 11zm0 42zm0 26zm0 7zm0 3zm0 1zm0 0zm0 5zm0 2zm0 11zm0 5zm0 7zm0 7zm0 12zm0 35zm1-202zm0 19zm0 9zm0 11zm0 9zm0 2zm0 7zm0 8zm0 0zm0 20zm0 4zm0 0zm0 18zm0 0zm0 0zm0 14zm0 0zm0 6zm0 7zm0 17zm0 11zm0 13zm0 32zm1-198zm0 9zm0 77zm0 12zm0 0zm0 20zm0 13zm0 80zm1-185zm0 31zm0 25zm0 21zm0 60zm1-83zm0 66zm0 14zm0 17zm1-49zm0 11zm1-139zm0 50zm0 45zm0 41zm1-149zm0 74zm0 43zm0 24zm0 28zm0 10zm0 11zm1-117zm0 18zm0 11zm0 4zm0 5zm0 0zm0 0zm0 18zm0 22zm0 8zm0 31zm1-174zm0 27zm0 18zm0 50zm0 11zm0 7zm0 0zm0 4zm0 5zm0 36zm0 2zm1-124zm0 47zm0 34zm0 31zm1-123zm0 22zm0 7zm0 28zm0 81zm0 9zm1-103zm0 12zm0 2zm1-82zm0 15zm0 57zm0 12zm0 4zm0 28zm0 9zm0 1zm0 9zm1-113zm0 54zm0 5zm0 37zm0 24zm0 6zm0 27zm1-117zm0 51zm0 1zm0 18zm0 2zm0 3zm1-139zm0 16zm0 5zm0 0zm0 18zm0 3zm0 4zm0 22zm0 8zm0 2zm0 6zm0 2zm0 18zm0 7zm0 2zm0 3zm0 8zm0 1zm0 11zm0 1zm0 5zm0 6zm0 12zm0 6zm1-105zm0 1zm0 20zm0 15zm0 3zm0 0zm0 41zm0 19zm0 29zm1-115zm0 40zm3-165zm0 76zm0 25zm0 20zm0 18zm0 12zm0 16zm0 8zm0 6zm0 81zm1-230zm0 40zm0 14zm0 17zm0 22zm0 0zm0 8zm0 0zm0 2zm0 1zm0 1zm0 14zm0 14zm0 13zm0 21zm0 6zm1-108zm0 37zm0 5zm0 6zm0 6zm0 16zm0 13zm0 1zm1-55zm0 1zm0 24zm1 0zm0 79zm1-158zm0 37zm0 5zm0 26zm0 27zm0 23zm0 70zm1-133zm0 19zm0 33zm0 37zm1-116zm0 29zm0 40zm1-63zm0 2zm0 9zm0 43zm0 14zm0 2zm0 2zm0 15zm0 0zm1-107zm0 52zm0 6zm0 7zm0 0zm0 0zm0 0zm0 18zm0 1zm0 3zm0 23zm0 1zm0 2zm0 31zm0 13zm1-135zm0 9zm0 8zm0 4zm0 4zm0 18zm0 5zm0 14zm0 3zm0 5zm0 16zm0 0zm0 7zm0 18zm0 6zm0 5zm1-138zm0 18zm0 12zm0 59zm0 12zm1-144zm0 32zm0 19zm0 1zm0 9zm1-118zm0 98zm0 24zm0 37zm0 31zm0 6zm0 9zm0 12zm1-142zm0 5zm0 17zm0 1zm0 38zm0 3zm0 10zm0 0zm0 5zm0 5zm0 0zm0 14zm0 1zm0 6zm0 1zm0 5zm0 7zm0 5zm0 1zm0 8zm0 0zm0 12zm0 0zm1-190zm0 31zm0 6zm0 54zm0 6zm0 7zm0 4zm0 0zm0 7zm0 1zm0 2zm0 2zm0 10zm0 0zm0 0zm0 0zm0 44zm0 4zm0 18zm0 13zm0 9zm1-152zm0 16zm0 18zm0 0zm0 18zm0 12zm0 0zm0 7zm0 9zm0 23zm0 21zm1-119zm0 33zm0 10zm0 26zm0 29zm0 9zm0 7zm0 15zm0 3zm1-105zm0 35zm0 11zm0 22zm0 27zm0 9zm0 13zm1-197zm0 75zm0 152zm0 13zm1-193zm0 120zm0 46zm1-117zm1-2zm0 92zm1-74zm0 11zm0 7zm1-48zm0 20zm0 10zm1-79zm0 106zm1-86zm0 90zm0 3zm0 9zm0 5zm0 31zm1-101zm0 152zm1-158zm1-12zm0 36zm0 0zm0 14zm0 24zm1-43zm0 9zm0 0zm0 23zm0 45zm0 7zm1-120zm0 19zm0 15zm0 32zm0 76zm1-145zm0 75zm1-75zm0 36zm1 16zm0 17zm0 17zm1-86zm0 43zm0 29zm0 5zm1-56zm0 13zm0 4zm0 10zm0 0zm0 40zm1-82zm0 42zm0 10zm0 66zm1-108zm0 24zm0 8zm1-86zm0 38zm0 0zm0 9zm0 16zm0 4zm0 79zm2-12zm0 0zm1-74zm1-59zm0 159zm1-142zm0 3zm0 8zm0 29zm0 14zm0 41zm0 0zm0 33zm0 0zm1-139zm0 14zm0 19zm1-39zm0 26zm0 29zm0 30zm0 48zm0 20zm0 11zm1-113zm0 21zm0 13zm0 11zm0 37zm1-185zm0 148zm0 7zm1-58zm0 54zm0 24zm0 14zm0 8zm1-77zm0 17zm0 7zm0 41zm1-137zm0 19zm0 14zm0 56zm0 57zm0 22zm0 10zm1-163zm0 29zm0 2zm0 3zm0 26zm0 2zm0 12zm0 4zm0 14zm0 1zm0 8zm0 11zm0 26zm1-95zm0 1zm0 48zm0 4zm0 26zm0 17zm0 7zm0 1zm0 34zm0 17zm1-306zm0 130zm0 22zm0 8zm0 30zm0 6zm0 2zm0 11zm0 7zm0 0zm0 36zm0 18zm1-131zm0 29zm0 57zm1 7zm1-50zm1-111zm0 71zm0 14zm1 36zm0 17zm0 0zm0 16zm0 1zm1-123zm0 0zm0 31zm0 22zm1-29zm0 62zm0 20zm0 1zm0 32zm1-139zm0 10zm0 18zm0 3zm0 23zm0 3zm0 141zm1-189zm0 28zm0 8zm0 27zm0 29zm3-141zm0 71zm1-22zm0 52zm0 82zm0 18zm1-134zm0 4zm0 11zm0 42zm0 29zm0 26zm0 19zm1-165zm0 27zm0 11zm0 26zm0 46zm1-94zm0 40zm0 35zm0 9zm0 3zm1-80zm0 32zm0 46zm0 45zm0 4zm1-112zm0 24zm0 4zm0 20zm0 62zm1-125zm1 1zm0 62zm0 0zm0 17zm0 1zm0 9zm0 59zm0 33zm1-178zm0 0zm0 2zm0 3zm0 22zm0 80zm0 15zm1-83zm0 20zm0 30zm0 35zm0 30zm0 15zm1-203zm0 25zm0 34zm0 34zm0 0zm0 16zm0 0zm0 6zm0 19zm0 5zm1-165zm0 29zm0 11zm0 18zm0 35zm0 9zm0 17zm0 0zm0 0zm0 13zm0 12zm0 20zm0 5zm0 7zm1-116zm0 59zm0 30zm0 4zm2-56zm0 7zm0 43zm0 51zm1-204zm0 39zm0 2zm0 2zm0 52zm0 1zm0 16zm0 13zm0 0zm0 0zm0 54zm0 2zm0 4zm1-127zm0 27zm0 10zm0 2zm0 58zm0 11zm0 1zm0 15zm0 6zm0 26zm1-188zm0 99zm0 8zm0 1zm0 8zm0 5zm1-59zm0 86zm1-71zm0 39zm0 5zm0 5zm0 81zm1-78zm0 31zm0 124zm2-185zm2 38zm1-38zm1 0zm0 17zm0 13zm0 10zm0 27zm1-146zm0 79zm0 14zm0 10zm0 14zm1-117zm0 187zm1-138zm0 30zm0 16zm0 36zm1-97zm0 45zm0 5zm0 22zm1-43zm1 7zm0 88zm1-103zm0 56zm1-80zm0 0zm0 22zm0 10zm0 22zm0 12zm0 25zm0 22zm1-107zm0 28zm0 3zm0 11zm0 0zm0 30zm0 13zm1-102zm0 5zm0 28zm0 17zm0 39zm0 4zm0 4zm0 25zm1-109zm0 18zm0 16zm0 5zm0 2zm0 61zm1-74zm0 7zm0 11zm0 0zm0 16zm1-42zm0 18zm0 19zm0 16zm0 3zm0 3zm0 7zm1-50zm0 10zm1-59zm0 4zm0 12zm0 43zm0 0zm0 6zm1 24zm1-50zm0 8zm0 33zm0 90zm1-200zm0 89zm0 9zm0 1zm0 12zm0 6zm0 86zm0 68zm1-182zm1-18zm0 45zm1-163zm0 57zm0 57zm0 22zm0 79zm1-71zm0 10zm0 0zm0 79zm0 22zm1-238zm0 103zm0 16zm0 27zm0 18zm0 10zm1-120zm0 61zm0 4zm1-55zm0 36zm0 19zm1-119zm0 94zm0 1zm0 38zm0 4zm1-90zm0 151zm1-103zm0 27zm0 67zm1-162zm0 44zm1-31zm0 39zm0 28zm0 12zm0 40zm0 33zm0 12zm1-85zm1-48zm0 30zm1-61zm0 7zm0 60zm0 16zm0 50zm0 9zm1-119zm2 72zm0 18zm1-56zm0 22zm0 25zm0 23zm0 45zm0 26zm1-203zm0 18zm0 26zm0 14zm0 4zm0 117zm1-129zm0 10zm0 2zm0 14zm0 8zm0 28zm0 20zm1-30zm1-18zm0 0zm2-79zm0 45zm0 11zm0 13zm0 17zm0 2zm0 25zm0 1zm0 33zm0 5zm0 6zm0 9zm1-167zm0 11zm0 34zm0 0zm0 3zm0 31zm0 13zm0 1zm0 4zm0 3zm0 6zm0 9zm1-109zm0 47zm0 17zm0 13zm0 6zm0 8zm0 9zm0 7zm0 4zm0 0zm0 10zm0 1zm0 11zm1-86zm0 17zm0 34zm0 62zm1-109zm0 2zm0 68zm0 0zm1-134zm0 38zm0 41zm0 45zm1-82zm0 0zm0 71zm0 65zm1-129zm1 17zm0 15zm0 12zm0 15zm0 45zm1-62zm0 43zm0 35zm1-108zm1-41zm0 18zm0 6zm0 8zm0 64zm0 18zm0 44zm1-217zm0 51zm0 3zm0 13zm0 2zm0 18zm0 8zm0 3zm0 1zm0 4zm0 1zm0 21zm0 7zm0 2zm0 11zm0 9zm0 19zm0 7zm0 24zm1-181zm0 23zm0 53zm0 21zm0 16zm0 4zm0 7zm0 5zm0 16zm0 12zm0 5zm1-130zm0 27zm0 21zm0 30zm0 30zm0 70zm0 49zm1-199zm0 2zm0 5zm0 9zm0 14zm1-79zm0 2zm0 57zm0 90zm1-204zm0 105zm0 33zm0 4zm0 13zm0 4zm0 3zm0 15zm0 10zm0 34zm1-68zm0 4zm0 10zm0 49zm1-122zm0 40zm0 76zm1-64zm1-18zm0 18zm0 17zm0 31zm1-156zm0 62zm0 28zm0 18zm0 0zm0 27zm1-67zm0 14zm0 19zm0 34zm0 24zm1-119zm0 42zm0 0zm0 2zm0 31zm0 1zm0 8zm0 27zm0 0zm0 5zm0 47zm0 24zm1-119zm0 42zm1-53zm0 11zm0 27zm0 34zm0 0zm1-91zm0 17zm0 13zm0 0zm0 8zm0 2zm0 36zm1 17zm0 24zm5-144zm0 23zm0 34zm0 27zm0 28zm0 37zm1-158zm0 45zm0 39zm0 7zm0 2zm0 13zm0 2zm0 0zm0 77zm1-119zm0 52zm1-45zm0 7zm1 13zm0 9zm0 2zm0 38zm1-138zm0 64zm0 16zm0 0zm0 10zm0 1zm0 0zm0 70zm1-99zm0 13zm1-68zm0 14zm0 124zm1-155zm0 18zm0 28zm0 10zm0 0zm0 16zm0 0zm0 0zm1-45zm0 61zm0 8zm1-66zm1-86zm0 80zm0 59zm0 5zm0 2zm0 55zm1-176zm0 24zm0 38zm0 56zm0 40zm0 24zm1-131zm0 52zm0 132zm1-257zm0 95zm1 44zm0 43zm1-83zm0 11zm0 15zm0 7zm0 46zm0 62zm1-178zm0 44zm0 19zm0 17zm0 35zm1-131zm0 59zm0 93zm0 46zm1-238zm0 62zm0 17zm0 5zm0 19zm0 7zm0 9zm0 44zm1-106zm0 40zm0 2zm0 20zm0 5zm0 53zm0 39zm1-169zm0 28zm0 18zm0 4zm0 6zm0 16zm0 13zm0 1zm0 29zm0 27zm1-152zm0 23zm0 81zm1-113zm0 12zm0 20zm0 3zm0 13zm0 26zm0 1zm0 30zm0 0zm0 13zm0 4zm0 8zm0 31zm0 0zm1-141zm0 16zm0 3zm0 20zm0 16zm0 12zm0 4zm0 0zm0 17zm0 31zm1-134zm0 70zm0 16zm0 21zm0 35zm0 0zm1-77zm0 9zm0 32zm0 27zm0 45zm1-140zm0 121zm1-78zm0 56zm0 22zm1-102zm0 7zm0 22zm1-3zm0 17zm1-54zm0 28zm0 52zm0 2zm0 49zm1-126zm0 49zm0 29zm3-111zm0 40zm0 15zm0 4zm0 69zm1-128zm0 3zm0 6zm0 11zm0 8zm0 14zm0 26zm0 27zm0 15zm0 16zm0 25zm0 1zm1-104zm0 20zm0 27zm1-49zm0 44zm0 32zm1-119zm0 57zm0 8zm0 0zm0 3zm1-29zm0 26zm0 19zm0 6zm1-157zm0 59zm0 6zm0 16zm0 8zm0 28zm0 15zm0 95zm1-157zm0 9zm1 76zm2-116zm0 29zm0 47zm0 35zm1-173zm0 93zm0 32zm0 30zm0 0zm0 7zm0 18zm0 29zm0 25zm1-257zm0 76zm0 54zm0 17zm0 5zm0 26zm0 40zm0 15zm1-55zm0 11zm0 80zm1-193zm0 68zm0 18zm0 64zm0 12zm1-115zm0 7zm0 48zm0 0zm0 66zm1-91zm0 25zm2 15zm0 55zm1-70zm1-55zm0 33zm0 0zm0 13zm0 9zm0 10zm0 19zm0 19zm0 17zm0 10zm0 27zm0 4zm0 13zm1-163zm0 12zm0 8zm0 51zm0 12zm0 26zm1-65zm1 100zm1-176zm0 17zm0 28zm0 31zm0 0zm0 13zm0 10zm0 11zm0 14zm0 19zm1-190zm0 33zm0 53zm0 47zm0 12zm1-124zm0 38zm0 71zm0 23zm0 82zm1-144zm1 99zm1-130zm0 9zm0 14zm0 100zm2-108zm0 7zm0 1zm0 50zm0 17zm0 1zm0 88zm1-150zm0 34zm0 21zm0 2zm0 2zm0 59zm1-102zm0 83zm0 14zm1-158zm0 65zm1-51zm0 41zm0 52zm0 74zm1-140zm0 43zm0 25zm1-173zm0 75zm0 56zm0 23zm0 9zm0 21zm1-109zm0 79zm0 5zm0 14zm0 4zm0 14zm1-30zm0 90zm2-156zm0 62zm1-48zm1 12zm0 101zm1-133zm1 54zm0 4zm0 10zm1-48zm1 24zm1-18zm0 28zm0 18zm1-49zm0 98zm2-67zm0 30zm0 12zm1-121zm0 20zm0 34zm0 7zm0 18zm0 8zm0 13zm0 19zm0 28zm0 1zm1-128zm0 14zm0 19zm0 1zm0 18zm0 7zm0 0zm0 0zm0 17zm0 2zm0 8zm0 13zm0 20zm0 1zm0 8zm0 33zm0 11zm1-178zm0 15zm0 8zm0 12zm0 8zm0 11zm0 26zm0 2zm0 1zm0 7zm0 15zm0 0zm1-68zm0 2zm0 19zm0 10zm0 28zm0 11zm1-34zm0 20zm0 32zm0 2zm0 22zm1-21zm3 56zm1-141zm0 35zm0 40zm1-97zm0 69zm0 23zm1-133zm0 22zm0 45zm0 11zm0 74zm1-40zm0 92zm1-119zm0 92zm1-200zm0 82zm1-16zm0 24zm0 37zm1-98zm0 0zm0 22zm0 9zm0 26zm0 8zm0 5zm0 9zm0 0zm0 83zm1-178zm0 41zm0 1zm0 31zm0 22zm0 4zm0 8zm0 1zm0 9zm0 1zm0 4zm0 19zm0 2zm0 9zm0 8zm0 2zm1-132zm0 39zm0 56zm0 40zm2-109zm0 25zm1-73zm0 28zm0 19zm0 74zm0 30zm1-151zm0 17zm0 104zm0 7zm1 14zm0 53zm1-64zm0 4zm0 38zm1-165zm0 31zm0 8zm0 48zm0 12zm0 2zm0 88zm1-170zm0 60zm1-95zm0 30zm0 17zm0 17zm0 5zm0 0zm0 26zm0 5zm0 9zm0 8zm0 19zm0 7zm0 31zm1-144zm0 2zm0 15zm0 22zm0 12zm0 24zm0 7zm0 1zm0 18zm0 4zm1-109zm0 14zm0 21zm0 42zm0 6zm0 1zm1-106zm0 36zm0 33zm0 22zm0 0zm0 0zm0 18zm0 18zm0 16zm0 6zm1-197zm0 80zm0 19zm0 24zm0 7zm0 16zm0 9zm0 14zm0 18zm0 74zm1-177zm0 33zm0 7zm0 0zm0 9zm0 6zm0 0zm0 0zm0 18zm0 9zm0 21zm1-145zm0 18zm0 53zm0 26zm0 30zm0 26zm0 23zm0 0zm1-62zm0 11zm1-46zm0 69zm0 17zm1-127zm0 6zm0 12zm0 15zm0 26zm0 0zm0 30zm0 4zm0 14zm0 12zm0 46zm1-208zm0 44zm0 51zm0 7zm0 10zm0 10zm0 2zm0 8zm0 18zm0 6zm0 6zm0 19zm0 31zm1-202zm0 50zm0 42zm0 27zm0 1zm0 72zm1-126zm0 10zm0 6zm0 10zm0 28zm0 13zm1-160zm0 105zm0 28zm0 12zm0 44zm11-15zm1-103zm1-31zm1 12zm0 63zm0 10zm12-49zm0 21zm0 15zm0 74zm1-104zm0 15zm0 12zm0 40zm1 4zm0 34zm0 75zm1-208zm0 36zm1 75zm0 26zm1-98zm0 26zm1 12zm0 41zm0 37zm7-90zm1 53zm1-176zm0 58zm1-48zm0 41zm0 44zm2-67zm0 22zm0 2zm0 55zm2 133zm1-124zm0 86zm1-29zm1-14zm3-74zm0 164zm1-174zm0 0zm0 41zm0 7zm0 10zm0 35zm2-81zm2-8zm0 6zm0 38zm1-119zm0 51zm0 9zm0 14zm0 19zm0 3zm0 16zm0 7zm0 0zm0 10zm0 22zm0 8zm0 3zm0 8zm0 4zm1-55zm0 10zm0 28zm0 41zm2-168zm0 22zm0 12zm0 49zm1-126zm0 72zm0 49zm0 44zm0 5zm0 13zm0 68zm1-119zm0 18zm1-63zm0 103zm0 21zm2-39zm2 13zm1-38zm0 19zm0 26zm1-86zm0 4zm0 22zm0 6zm0 10zm0 44zm1-60zm0 6zm0 96zm2-181zm1-16zm0 80zm0 4zm0 30zm0 41zm2-38zm0 35zm1-57zm0 4zm1-9zm0 5zm1-67zm0 41zm0 4zm0 6zm0 91zm1-99zm0 46zm0 38zm0 25zm1-107zm0 22zm0 18zm0 47zm1-139zm0 42zm0 32zm0 9zm0 55zm1-119zm0 55zm3 30zm1 74zm2-121zm1-9zm0 3zm0 30zm0 15zm0 57zm1-129zm0 34zm0 16zm0 13zm0 7zm0 10zm0 4zm0 45zm0 73zm12-178zm0 14zm0 57zm1-124zm0 0zm0 47zm0 29zm1 3zm0 6zm0 173zm1-101zm2-41zm2-196zm1 44zm0 93zm0 22zm0 19zm0 83zm1-172zm0 70zm0 95zm0 20zm1-211zm0 15zm0 22zm0 59zm0 0zm0 20zm0 7zm0 7zm0 14zm0 7zm0 30zm0 24zm1-228zm0 45zm0 34zm0 68zm0 6zm0 55zm3-131zm1-42zm0 179zm1-117zm0 4zm0 49zm0 1zm0 20zm0 22zm0 18zm1-171zm0 0zm0 23zm0 56zm0 9zm0 13zm1-48zm0 17zm0 5zm0 18zm0 20zm0 10zm0 4zm0 0zm0 17zm1-82zm0 17zm0 22zm0 5zm0 0zm0 19zm0 19zm1-122zm0 26zm0 26zm0 2zm0 3zm0 25zm0 14zm1-104zm0 15zm0 19zm0 88zm0 62zm1-94zm1-144zm0 60zm1-25zm0 70zm0 5zm0 34zm0 18zm1 0zm2-102zm0 28zm0 24zm0 7zm1 14zm1-49zm3-35zm0 47zm1-46zm0 39zm0 4zm0 16zm0 5zm0 5zm0 27zm0 13zm0 35zm0 57zm1-238zm0 47zm0 9zm0 2zm0 54zm2 60zm2-99zm1 22zm0 43zm1-103zm2 46zm0 7zm0 8zm0 20zm0 15zm0 40zm1-65zm0 13zm0 45zm0 41zm1-147zm0 40zm2-10zm3-33zm2 25zm0 60zm2-60zm0 56zm0 9zm1-63zm0 24zm0 0zm0 27zm0 18zm1 7zm1-106zm0 6zm0 0zm0 22zm0 3zm0 1zm0 5zm0 17zm0 6zm0 20zm0 4zm0 10zm0 11zm0 9zm0 8zm0 40zm1-236zm0 49zm0 57zm0 22zm0 3zm0 39zm0 4zm0 22zm1-187zm0 78zm0 7zm0 4zm0 4zm0 26zm0 0zm0 10zm0 3zm0 5zm0 0zm0 6zm0 19zm1-96zm0 12zm0 19zm0 8zm0 14zm0 27zm0 0zm0 10zm0 8zm0 34zm0 0zm1-119zm0 22zm0 32zm0 11zm0 8zm0 27zm0 12zm2-106zm1 34zm1-26zm0 26zm0 4zm0 14zm0 54zm1-106zm0 44zm0 18zm1-76zm0 14zm0 34zm1 0zm1 8zm0 57zm0 14zm1-9zm2-227zm0 50zm0 12zm0 79zm1 2zm0 21zm1-64zm1 17zm0 80zm1-78zm0 8zm0 22zm0 8zm0 22zm0 31zm0 1zm1-218zm0 138zm0 53zm0 3zm1-30zm0 89zm1-131zm0 66zm3-72zm1 8zm0 40zm0 40zm1-119zm0 47zm0 22zm0 62zm0 33zm1-118zm0 40zm0 100zm0 12zm1-216zm0 37zm0 78zm0 5zm0 11zm0 3zm1-89zm0 38zm0 6zm0 45zm0 16zm0 11zm1-46zm0 39zm1 28zm1-93zm0 35zm1-163zm0 61zm0 4zm0 55zm0 27zm0 40zm0 28zm0 9zm3-126zm0 12zm0 1zm0 2zm0 28zm0 43zm1-48zm1-67zm1 45zm0 150zm3-49zm1-45zm0 6zm0 57zm1-164zm0 2zm0 15zm0 5zm0 23zm0 4zm0 24zm0 37zm1-102zm0 11zm0 14zm0 12zm0 4zm0 4zm0 1zm0 5zm0 8zm0 34zm2-82zm1 63zm0 33zm0 12zm1-60zm4 31zm2-53zm0 6zm0 31zm0 1zm0 38zm1-117zm0 73zm0 36zm1-125zm0 20zm0 37zm0 6zm0 16zm0 0zm0 9zm0 36zm0 3zm0 17zm0 27zm0 29zm1-280zm0 46zm0 54zm0 17zm0 10zm0 9zm0 18zm0 53zm0 8zm1-119zm0 50zm0 13zm0 66zm0 4zm1-120zm0 36zm0 14zm0 0zm0 0zm0 18zm0 2zm0 35zm1-130zm0 6zm2 47zm1-4zm0 10zm0 4zm0 12zm0 32zm1-10zm0 8zm0 27zm0 42zm0 5zm1-86zm0 47zm1-144zm0 20zm0 34zm0 101zm1-158zm0 3zm0 28zm0 19zm0 6zm0 4zm0 8zm0 5zm0 15zm0 21zm0 13zm0 15zm0 1zm0 4zm0 19zm1-192zm0 81zm0 22zm0 2zm0 8zm0 4zm0 23zm0 40zm1-199zm0 92zm0 48zm0 20zm2-171zm0 198zm1-108zm0 21zm0 32zm1-26zm0 1zm0 47zm0 7zm0 43zm0 36zm1-146zm0 38zm3-94zm0 151zm1-62zm1 5zm0 0zm0 14zm0 2zm0 6zm0 2zm0 28zm1-145zm0 3zm0 11zm0 9zm0 26zm0 16zm0 0zm0 6zm0 18zm0 4zm0 5zm0 4zm1-25zm0 95zm1-57zm6-38zm1 16zm0 87zm0 4zm1-76zm0 3zm0 30zm2-15zm1-112zm0 37zm0 55zm0 57zm1-28zm1-92zm1-4zm0 208zm1-172zm0 9zm0 22zm3-2zm0 56zm0 12zm1-136zm0 27zm0 19zm0 50zm0 7zm0 9zm1-148zm0 18zm0 61zm0 2zm0 120zm1-160zm0 4zm0 22zm1-27zm1-17zm0 29zm0 28zm0 76zm0 9zm0 18zm1-139zm0 1zm1-2zm0 19zm0 0zm0 9zm0 62zm3-40zm3-119zm0 106zm0 42zm0 59zm1-156zm0 11zm0 7zm0 26zm0 2zm0 101zm0 0zm3-169zm0 56zm0 46zm0 15zm1-27zm0 18zm1-81zm0 25zm0 148zm1-189zm0 113zm0 83zm1-112zm0 74zm1-115zm0 36zm0 8zm0 5zm1-5zm0 50zm1-160zm0 221zm1-145zm0 53zm0 98zm1-104zm0 5zm0 1zm0 5zm0 8zm0 0zm0 30zm0 9zm1-135zm0 4zm0 12zm0 3zm0 29zm0 35zm0 15zm0 6zm0 78zm1-221zm0 34zm0 4zm0 15zm0 16zm0 4zm0 8zm0 43zm0 9zm0 12zm0 3zm0 7zm1-139zm0 12zm0 1zm0 24zm0 20zm0 22zm0 10zm0 7zm0 1zm0 11zm0 31zm0 12zm0 16zm0 14zm1-155zm0 5zm0 3zm0 3zm0 6zm0 18zm0 9zm0 2zm0 7zm0 22zm0 10zm0 47zm1-127zm1-31zm0 28zm0 51zm0 11zm0 11zm1-70zm0 14zm0 4zm0 4zm0 48zm0 2zm1-119zm0 46zm0 37zm0 12zm0 27zm0 21zm0 20zm1-100zm0 6zm0 4zm0 22zm0 24zm0 3zm0 65zm1-187zm1 61zm1-45zm0 1zm0 102zm1 80zm1-191zm0 92zm3-84zm3 90zm1-25zm0 41zm0 28zm0 32zm1-135zm0 0zm0 22zm0 51zm0 2zm1-6zm0 3zm1-136zm0 134zm1 71zm2-119zm1 44zm2-106zm2 136zm1-93zm0 11zm0 4zm0 30zm1-70zm0 86zm0 55zm1-53zm1-18zm1-40zm0 88zm1-99zm0 19zm1 3zm0 11zm0 14zm0 4zm0 0zm0 22zm0 14zm0 6zm0 6zm0 12zm1-97zm0 3zm0 4zm0 4zm0 6zm0 7zm0 1zm0 4zm0 8zm0 7zm0 33zm0 0zm0 1zm0 3zm0 11zm0 37zm0 16zm1-216zm0 74zm0 34zm0 0zm0 14zm0 34zm2-53zm1-39zm0 86zm1-29zm0 27zm1-44zm0 83zm1-192zm0 83zm0 3zm0 7zm0 68zm0 18zm0 17zm0 15zm1-75zm0 37zm1-17zm0 36zm1-113zm1 13zm0 43zm0 22zm3-66zm1 12zm0 5zm0 1zm0 66zm1-49zm0 60zm1-73zm1-102zm0 36zm0 3zm0 41zm0 13zm0 9zm0 79zm1-74zm0 8zm0 86zm1-103zm1 61zm1-110zm0 13zm0 11zm0 97zm1-104zm0 14zm0 18zm0 4zm0 65zm0 30zm1-174zm0 53zm0 12zm0 0zm0 27zm0 54zm0 6zm1-132zm0 17zm0 8zm0 12zm0 35zm0 17zm0 10zm0 52zm1-150zm0 21zm0 7zm0 3zm0 5zm0 56zm0 31zm1-129zm1 64zm1 0zm1-65zm0 65zm0 19zm0 29zm2-33zm0 45zm8-12zm1-134zm0 46zm0 23zm0 11zm0 28zm1-50zm0 28zm2-108zm0 111zm0 55zm1-108zm0 2zm0 43zm0 19zm0 24zm0 57zm1-174zm0 31zm0 5zm0 5zm0 12zm0 1zm0 13zm0 12zm0 0zm0 6zm0 2zm0 45zm0 7zm0 23zm0 25zm1-203zm0 52zm0 25zm0 18zm0 16zm0 3zm0 3zm0 8zm0 18zm0 0zm1-101zm0 53zm0 17zm0 10zm1-76zm0 26zm0 1zm0 5zm0 8zm0 9zm0 0zm0 0zm0 60zm0 30zm1-116zm0 16zm0 10zm0 46zm2-114zm0 6zm0 110zm1-51zm0 3zm0 4zm0 10zm0 48zm0 7zm1-128zm0 6zm0 5zm0 14zm0 0zm0 8zm0 26zm1-113zm0 11zm0 60zm0 0zm0 5zm0 11zm0 5zm0 3zm0 18zm0 16zm0 11zm0 21zm1-113zm0 31zm0 2zm0 0zm0 48zm0 0zm0 18zm0 18zm0 6zm1-98zm2-39zm0 79zm0 72zm1-215zm0 41zm0 16zm0 62zm0 7zm0 17zm0 12zm0 10zm0 13zm0 33zm1-163zm0 24zm0 1zm0 14zm0 47zm0 9zm0 10zm0 1zm0 0zm0 37zm0 25zm1-99zm0 26zm0 38zm1-52zm1-105zm0 64zm0 63zm0 1zm0 34zm1-74zm0 26zm0 5zm0 24zm0 6zm0 4zm0 14zm0 12zm1-112zm0 58zm0 18zm0 29zm0 16zm4-164zm0 81zm1-45zm0 22zm1-8zm0 69zm1-36zm0 5zm0 60zm1-65zm2-21zm1 15zm1 2zm1 30zm0 47zm0 37zm1-133zm0 35zm1-41zm0 30zm0 11zm1-119zm0 22zm0 67zm0 30zm0 0zm1-82zm0 12zm0 22zm0 11zm0 6zm0 17zm0 14zm0 0zm0 4zm0 11zm0 15zm0 68zm1-187zm0 10zm0 31zm0 0zm0 14zm0 12zm0 6zm0 6zm0 10zm0 0zm0 16zm0 1zm0 40zm0 3zm0 12zm0 7zm0 20zm1-168zm0 53zm0 0zm2 0zm2 2zm0 58zm1-146zm0 65zm0 6zm0 9zm0 6zm0 1zm0 15zm0 22zm0 8zm0 49zm0 0zm1-116zm0 51zm0 55zm3-51zm0 69zm1-184zm0 192zm1-119zm2-41zm3 80zm0 5zm0 70zm1-58zm2-91zm0 33zm0 18zm1-26zm0 56zm0 38zm1-86zm0 10zm0 64zm0 56zm1-188zm0 0zm0 50zm0 14zm0 20zm0 25zm0 40zm1-119zm1 6zm1 7zm0 226zm1-261zm0 58zm0 1zm0 5zm0 12zm0 0zm0 16zm0 32zm2-43zm0 50zm0 79zm1-202zm0 31zm0 7zm0 5zm0 8zm1-74zm0 48zm0 25zm0 44zm0 68zm1-157zm0 17zm0 1zm0 33zm0 12zm0 127zm1-67zm0 13zm1-57zm0 52zm2-165zm0 2zm0 24zm0 49zm0 49zm0 0zm0 38zm1-240zm0 80zm0 28zm0 17zm0 59zm0 13zm0 10zm0 2zm0 0zm1-125zm0 61zm0 4zm0 6zm0 20zm0 13zm0 27zm1 18zm1-84zm1-22zm0 0zm0 42zm0 33zm1-163zm0 152zm0 20zm0 29zm0 18zm0 23zm1-161zm0 11zm0 7zm0 19zm0 18zm0 48zm1-70zm0 36zm0 2zm0 13zm0 29zm1-84zm0 31zm0 2zm1-162zm0 44zm0 46zm0 8zm0 21zm0 16zm0 68zm0 27zm1-154zm0 46zm0 17zm0 4zm0 142zm1-178zm0 35zm0 59zm4-72zm4-86zm0 75zm0 77zm1-99zm0 25zm1-45zm0 106zm1-116zm0 10zm0 45zm0 0zm0 34zm0 21zm0 13zm0 3zm0 2zm0 15zm0 4zm0 12zm1-104zm0 34zm0 0zm0 0zm0 55zm0 3zm0 40zm1-157zm0 11zm0 108zm1-146zm0 62zm0 1zm0 7zm0 16zm0 52zm1-137zm0 22zm0 55zm0 38zm2-73zm0 43zm0 41zm1-14zm1-43zm0 27zm0 11zm0 6zm0 9zm0 0zm2-109zm0 31zm0 4zm0 7zm0 69zm1-73zm0 20zm0 6zm0 4zm0 4zm0 14zm0 15zm0 59zm1-216zm0 49zm0 79zm0 0zm1-18zm0 18zm0 18zm0 33zm1-135zm0 127zm0 21zm1-64zm0 11zm0 1zm1 11zm1-23zm2-44zm0 149zm1-160zm0 23zm0 10zm0 13zm0 9zm0 119zm1-238zm0 40zm0 11zm0 20zm0 28zm0 20zm0 11zm0 18zm1-194zm0 111zm0 1zm0 80zm0 15zm0 60zm1-199zm0 9zm0 88zm1-193zm0 145zm0 3zm0 7zm0 23zm0 4zm0 11zm0 28zm0 20zm0 0zm0 11zm0 8zm0 21zm1-88zm1 16zm0 44zm1-33zm1-82zm0 55zm0 60zm1-126zm0 57zm2-17zm0 50zm1-75zm1 3zm0 22zm0 26zm1-48zm0 18zm1-113zm0 59zm0 18zm0 18zm0 37zm0 0zm0 11zm0 0zm0 16zm0 6zm0 0zm0 0zm0 5zm0 1zm0 6zm0 1zm1-161zm0 58zm0 9zm0 6zm0 27zm0 17zm0 1zm0 8zm0 13zm0 29zm0 1zm0 22zm0 1zm0 2zm0 5zm1-107zm0 48zm1 17zm0 14zm1-159zm0 42zm0 28zm0 7zm0 11zm0 26zm0 8zm0 8zm0 50zm0 42zm1-156zm0 20zm0 45zm1-172zm0 122zm0 33zm0 7zm0 33zm1-124zm0 59zm0 25zm0 57zm1-105zm0 70zm0 14zm0 20zm0 23zm0 64zm1-129zm1-40zm0 36zm0 11zm0 1zm1-141zm0 93zm0 6zm0 20zm0 27zm0 10zm0 3zm0 23zm0 10zm0 37zm1-205zm0 27zm0 5zm0 0zm0 4zm0 5zm0 3zm0 51zm0 29zm0 32zm0 12zm1-242zm0 83zm0 31zm0 7zm0 18zm0 6zm0 16zm0 8zm0 0zm0 0zm0 7zm0 8zm0 6zm0 6zm0 21zm0 34zm1-145zm0 2zm0 40zm0 19zm0 12zm0 36zm0 2zm0 71zm1-204zm0 33zm0 18zm0 34zm0 10zm0 3zm0 29zm0 6zm0 0zm0 8zm0 14zm1-159zm0 10zm0 11zm0 20zm0 8zm0 23zm0 12zm0 17zm0 24zm0 2zm1-61zm0 23zm0 0zm0 14zm0 8zm0 1zm0 7zm0 8zm0 15zm0 90zm1-191zm0 11zm0 17zm0 20zm0 0zm0 8zm0 6zm0 7zm0 69zm1-124zm0 20zm0 7zm0 7zm0 0zm0 0zm0 16zm0 11zm0 7zm0 14zm0 59zm0 1zm0 54zm1-207zm0 18zm0 3zm0 2zm0 14zm0 8zm0 22zm0 33zm0 21zm0 23zm0 20zm0 24zm1-234zm0 12zm0 53zm0 4zm0 19zm0 3zm0 0zm0 9zm0 24zm1-155zm0 20zm0 23zm0 45zm0 9zm0 41zm0 5zm0 11zm0 4zm0 16zm0 13zm1-144zm0 0zm0 31zm0 27zm0 48zm0 7zm0 21zm0 13zm1-108zm0 4zm0 14zm0 12zm0 1zm0 15zm0 36zm0 18zm0 1zm1-134zm0 9zm0 7zm0 9zm0 34zm0 6zm0 8zm0 4zm0 3zm0 10zm0 0zm0 8zm0 4zm0 5zm0 6zm0 1zm0 7zm1-127zm0 0zm0 23zm0 19zm0 0zm0 3zm0 17zm0 27zm0 10zm0 2zm0 2zm0 6zm0 4zm0 26zm0 72zm1-251zm0 11zm0 64zm0 38zm0 6zm0 21zm0 1zm0 3zm0 4zm0 1zm0 1zm0 14zm0 3zm0 24zm0 3zm0 0zm1-145zm0 5zm0 0zm0 29zm0 36zm0 0zm0 17zm0 1zm0 9zm0 3zm0 1zm0 1zm0 6zm0 6zm1-139zm0 6zm0 97zm0 10zm0 3zm0 27zm0 11zm1-129zm0 30zm0 0zm0 24zm0 16zm0 27zm0 45zm1-75zm0 10zm0 92zm1-152zm0 44zm0 39zm0 22zm0 8zm0 5zm0 14zm0 73zm1-217zm0 36zm0 4zm0 1zm0 24zm0 60zm0 40zm0 13zm1-141zm0 2zm0 55zm0 31zm0 19zm1-132zm0 10zm0 43zm0 57zm0 22zm0 4zm0 30zm5-43zm2-135zm0 99zm1 94zm1-162zm1 82zm1-117zm0 52zm0 65zm0 127zm1-136zm2-22zm0 41zm3-103zm0 79zm1-142zm0 51zm0 57zm0 60zm1-77zm0 62zm0 3zm1-105zm0 29zm0 55zm1-100zm0 54zm0 16zm0 82zm1-132zm0 31zm0 22zm1-9zm0 0zm0 36zm0 21zm0 31zm0 13zm0 6zm0 7zm1-170zm0 17zm0 36zm0 6zm0 1zm0 5zm0 42zm0 6zm0 12zm0 4zm0 51zm1-174zm1 41zm0 39zm0 1zm1-62zm1-16zm0 80zm1-69zm2 45zm0 0zm0 27zm1-49zm1-23zm0 3zm0 8zm0 25zm0 36zm1-35zm0 8zm0 27zm1-125zm0 102zm0 23zm1-17zm0 8zm0 22zm0 8zm0 47zm1-174zm1 8zm0 54zm0 17zm1 72zm1-30zm0 6zm1-18zm1-67zm0 87zm1-50zm0 15zm0 20zm0 35zm0 43zm1-113zm0 10zm0 92zm1-161zm1 167zm1-140zm0 25zm0 27zm1-115zm0 85zm0 23zm0 38zm3-24zm1-86zm0 116zm1-94zm0 11zm0 105zm2-104zm0 25zm1-59zm0 18zm0 27zm0 30zm0 32zm0 31zm0 13zm0 23zm0 4zm1-238zm0 60zm0 22zm0 5zm0 32zm0 70zm0 9zm1-222zm0 64zm0 10zm0 69zm0 0zm0 18zm0 4zm0 3zm0 2zm0 41zm0 11zm0 0zm0 0zm1-158zm0 31zm0 32zm0 43zm0 21zm1-162zm0 88zm0 37zm0 68zm1-185zm2-1zm1 48zm0 41zm0 24zm0 21zm0 21zm1-48zm0 23zm1-113zm0 22zm0 22zm1-73zm0 62zm0 9zm0 21zm0 1zm0 4zm0 13zm0 9zm0 0zm0 17zm0 23zm0 0zm1-150zm0 36zm0 17zm0 4zm0 19zm0 8zm0 3zm0 10zm0 13zm0 13zm0 3zm0 11zm0 21zm0 17zm0 8zm0 9zm1-161zm0 51zm0 2zm0 64zm0 41zm1-92zm0 28zm0 13zm0 35zm0 16zm0 20zm1-140zm0 5zm0 6zm0 90zm1-88zm1-63zm0 24zm0 41zm1-44zm0 25zm0 11zm0 4zm0 25zm0 5zm0 61zm0 4zm1-176zm0 6zm0 101zm0 4zm0 41zm0 2zm0 11zm0 25zm1-118zm0 69zm0 25zm0 40zm1-162zm0 41zm0 58zm0 4zm1-23zm0 14zm1-45zm1-47zm0 87zm0 6zm0 2zm0 4zm1-56zm0 4zm0 21zm0 13zm0 5zm0 9zm1-90zm0 48zm2-36zm0 48zm0 22zm1-50zm0 34zm0 0zm0 5zm0 5zm0 7zm0 26zm0 30zm0 9zm1-151zm0 4zm0 16zm0 21zm0 6zm0 6zm0 51zm0 14zm0 0zm0 92zm1-187zm0 58zm0 28zm1-16zm0 25zm1-75zm0 2zm0 2zm0 16zm0 95zm1-154zm0 117zm1-117zm0 41zm0 5zm0 20zm0 12zm0 15zm1-68zm0 0zm0 2zm0 1zm0 5zm0 10zm0 2zm0 5zm0 2zm0 36zm0 13zm0 18zm0 19zm1-243zm0 85zm0 42zm0 7zm0 14zm0 16zm0 0zm0 0zm0 7zm0 15zm0 12zm0 29zm0 37zm1-259zm0 98zm0 10zm0 17zm0 6zm0 0zm0 28zm0 0zm0 8zm0 32zm0 79zm1-14zm1-148zm1 19zm0 24zm0 7zm0 7zm0 12zm0 14zm0 0zm0 8zm1-107zm0 11zm0 24zm0 1zm0 7zm0 7zm0 36zm0 21zm1-191zm0 107zm0 36zm0 0zm0 22zm0 12zm0 4zm0 5zm0 5zm0 12zm1-128zm0 84zm1 45zm0 1zm1-121zm1-9zm0 11zm0 33zm0 3zm0 12zm0 9zm0 18zm0 61zm1-193zm0 57zm0 66zm0 9zm1-88zm1-21zm0 28zm0 13zm0 50zm0 16zm0 20zm0 33zm1-69zm1-79zm0 165zm1-181zm0 49zm0 3zm0 21zm0 33zm0 5zm0 44zm1-108zm0 66zm0 24zm0 51zm1-115zm0 11zm0 40zm0 5zm0 42zm0 12zm0 106zm1-313zm0 52zm0 2zm0 17zm0 8zm0 0zm0 14zm0 26zm0 10zm0 17zm0 48zm0 13zm0 25zm0 17zm1-161zm0 31zm0 27zm0 25zm0 36zm2-88zm2-28zm0 28zm0 24zm1-78zm0 15zm0 13zm0 2zm0 46zm0 0zm0 24zm1-125zm0 31zm0 14zm0 4zm0 62zm0 25zm0 38zm1-130zm0 19zm0 23zm1-10zm0 14zm0 11zm0 20zm0 27zm1-128zm0 4zm0 0zm0 0zm0 12zm0 7zm0 20zm0 9zm0 7zm0 34zm0 114zm1-203zm0 0zm0 5zm0 10zm0 10zm0 4zm0 6zm0 10zm0 24zm0 17zm0 0zm0 6zm0 21zm0 21zm2-163zm0 68zm0 29zm1-68zm0 21zm0 61zm0 3zm1-169zm0 20zm0 16zm0 77zm0 39zm0 3zm0 40zm1-125zm0 13zm0 42zm0 44zm0 4zm2-7zm1-53zm0 0zm0 13zm0 13zm0 0zm0 27zm0 7zm1-101zm0 89zm1-122zm0 5zm0 30zm0 20zm0 11zm0 17zm0 41zm0 4zm0 14zm0 2zm0 143zm1-293zm0 58zm0 24zm0 2zm0 6zm0 0zm0 7zm0 4zm0 5zm0 11zm0 7zm0 0zm0 2zm0 3zm0 17zm0 15zm0 38zm0 5zm1-130zm0 10zm0 4zm0 18zm0 0zm0 10zm0 13zm0 7zm0 28zm0 21zm0 0zm1-123zm0 44zm1-44zm0 8zm0 5zm0 123zm1-131zm2 39zm0 26zm0 22zm1-85zm1 21zm0 16zm0 7zm0 7zm1-87zm0 49zm0 24zm0 17zm0 1zm0 9zm0 47zm1-269zm0 161zm0 8zm0 9zm0 3zm0 2zm0 10zm0 2zm0 0zm0 7zm0 0zm0 4zm0 4zm0 2zm0 3zm0 2zm0 13zm0 3zm1-131zm0 5zm0 15zm0 33zm0 2zm0 5zm0 16zm0 17zm0 8zm0 7zm0 14zm0 7zm0 3zm0 8zm0 1zm0 15zm0 8zm1-186zm0 53zm0 1zm0 35zm0 9zm0 49zm0 11zm0 30zm0 13zm0 7zm1-166zm0 3zm0 48zm0 34zm0 6zm0 1zm0 49zm0 11zm0 0zm1-211zm0 106zm0 26zm0 7zm0 31zm1-66zm0 44zm0 47zm1-111zm0 88zm0 2zm1-60zm0 4zm0 48zm1-164zm0 82zm0 44zm0 4zm0 27zm1-146zm0 123zm0 26zm0 14zm0 13zm0 80zm1-121zm0 79zm1-138zm1 31zm0 43zm1-137zm0 4zm0 54zm0 20zm0 10zm0 18zm0 16zm0 45zm0 18zm1-129zm0 80zm0 14zm0 4zm0 47zm1-119zm0 47zm1-109zm0 60zm0 12zm0 35zm0 39zm1-171zm0 25zm0 28zm0 5zm0 5zm0 14zm0 34zm0 0zm0 11zm0 16zm0 7zm0 2zm0 14zm0 15zm0 7zm0 7zm0 5zm1-143zm0 33zm0 26zm0 14zm0 51zm1-107zm0 28zm0 56zm1-59zm0 31zm0 13zm1-27zm0 89zm0 0zm1-148zm0 33zm0 26zm0 10zm0 12zm0 0zm0 38zm0 5zm1-161zm0 43zm0 53zm0 7zm0 112zm1-136zm1-1zm0 18zm0 17zm0 50zm1-87zm0 4zm0 16zm0 10zm0 0zm0 21zm0 11zm0 68zm1-138zm0 6zm0 31zm0 84zm8-155zm0 17zm0 20zm0 114zm1-154zm0 6zm0 0zm0 8zm0 21zm0 23zm0 7zm0 18zm0 12zm0 1zm0 9zm0 8zm0 9zm1-168zm0 9zm0 52zm0 41zm0 9zm0 21zm0 6zm0 38zm0 8zm0 6zm0 3zm0 5zm1-153zm0 31zm0 35zm0 0zm0 6zm0 49zm1-80zm1 19zm2 0zm0 23zm1-65zm0 22zm2-33zm0 3zm0 120zm3-64zm0 32zm1-111zm0 68zm0 32zm0 6zm0 65zm1-132zm0 0zm0 58zm0 0zm0 30zm0 19zm1-78zm0 21zm1-80zm0 20zm1-29zm0 4zm0 20zm0 70zm1-60zm0 29zm2 9zm0 72zm1-71zm0 54zm0 31zm1-111zm0 32zm1-208zm0 165zm0 85zm0 18zm1-96zm0 36zm0 18zm1-83zm0 22zm0 11zm0 32zm0 11zm0 5zm0 42zm1-155zm0 18zm0 92zm0 9zm0 12zm0 16zm0 10zm0 5zm0 14zm1-112zm0 24zm0 20zm0 3zm0 8zm0 5zm1-82zm0 19zm0 92zm1-8zm2-127zm0 59zm0 20zm0 5zm1-68zm0 47zm0 23zm0 6zm1-35zm0 11zm0 5zm0 6zm0 50zm1-121zm0 45zm0 37zm0 7zm0 37zm0 70zm1-157zm0 21zm0 11zm0 0zm0 84zm1-126zm0 13zm0 5zm0 8zm0 6zm0 20zm0 109zm1-198zm0 20zm0 7zm0 47zm0 5zm0 57zm1-161zm0 45zm0 27zm0 0zm0 32zm0 56zm0 19zm1-134zm0 11zm0 11zm0 3zm0 12zm0 10zm0 12zm0 11zm0 8zm0 79zm1-177zm0 57zm0 0zm0 42zm0 14zm0 45zm1-138zm0 4zm0 7zm0 22zm0 17zm0 27zm1-71zm0 37zm0 7zm0 2zm0 7zm0 39zm0 16zm0 8zm1-119zm0 15zm0 22zm0 0zm0 4zm0 21zm0 12zm0 20zm0 17zm1-87zm0 1zm0 15zm0 16zm0 6zm0 14zm0 59zm1-88zm0 17zm1-65zm0 35zm0 22zm0 4zm0 20zm0 23zm1-100zm0 22zm0 23zm0 8zm0 27zm0 26zm1-172zm0 79zm0 14zm0 14zm0 21zm0 25zm0 40zm1-122zm0 14zm0 34zm1-55zm0 7zm0 19zm0 25zm0 4zm0 0zm0 18zm1-48zm0 46zm0 9zm0 62zm1-170zm0 63zm0 15zm0 27zm0 30zm1-107zm0 55zm0 132zm1-119zm0 26zm0 104zm1-199zm0 40zm0 16zm0 0zm0 4zm0 7zm0 37zm0 7zm1-67zm0 25zm0 14zm0 11zm1-51zm0 52zm0 21zm2-164zm0 45zm0 4zm0 13zm0 2zm0 6zm0 4zm0 7zm0 5zm0 18zm0 28zm0 2zm0 14zm0 35zm0 60zm1-275zm0 81zm0 10zm0 33zm0 12zm0 89zm1-191zm0 45zm0 4zm0 21zm0 12zm0 47zm1-86zm0 45zm0 20zm0 9zm0 64zm1-113zm0 63zm1-29zm0 48zm0 31zm1-109zm0 47zm0 10zm0 11zm0 29zm1-101zm0 56zm0 12zm0 45zm3-28zm3-142zm0 58zm1 58zm0 25zm0 17zm2-4zm0 16zm1-111zm0 16zm0 16zm0 13zm0 39zm1-178zm1 148zm1 14zm0 12zm1-107zm0 51zm0 32zm1-59zm0 13zm0 4zm0 18zm0 0zm0 27zm0 24zm0 9zm0 32zm0 27zm1-214zm0 4zm0 2zm0 1zm0 21zm0 2zm0 37zm0 6zm0 7zm0 4zm0 4zm0 23zm0 0zm0 11zm0 52zm1-113zm0 77zm1-100zm0 17zm0 15zm0 2zm0 11zm0 25zm0 11zm0 18zm0 12zm0 6zm1-117zm0 9zm0 12zm0 36zm0 0zm0 65zm2-99zm0 6zm0 28zm0 34zm0 29zm1-97zm0 64zm2-89zm0 73zm0 11zm1-124zm0 43zm0 16zm0 14zm1-22zm0 0zm0 11zm0 37zm0 18zm0 5zm2-102zm0 11zm0 18zm0 6zm0 18zm0 0zm0 10zm0 7zm0 9zm0 13zm0 16zm0 8zm0 23zm0 1zm0 6zm1-98zm0 0zm0 5zm0 26zm0 0zm0 95zm1-150zm0 86zm1-20zm1-11zm0 0zm1 13zm0 113zm1-108zm0 15zm1-86zm0 148zm1-16zm0 23zm1-150zm0 72zm0 28zm0 64zm1-224zm0 108zm0 0zm0 44zm1-81zm0 2zm0 9zm0 26zm0 22zm0 0zm0 15zm1-163zm0 84zm0 28zm0 56zm1 16zm0 66zm1-203zm0 26zm0 39zm0 14zm1 34zm1-66zm0 59zm0 1zm0 27zm1-134zm0 10zm0 1zm0 15zm0 33zm0 32zm0 7zm0 29zm0 12zm0 48zm1-161zm0 5zm0 12zm0 14zm0 42zm0 8zm0 3zm0 10zm0 7zm0 4zm0 97zm1-133zm1-95zm0 27zm0 55zm0 20zm0 8zm0 13zm0 4zm1-118zm0 13zm0 9zm0 61zm0 11zm0 20zm1-92zm0 30zm0 31zm0 66zm1-170zm0 80zm0 55zm0 12zm0 25zm1-90zm0 32zm0 15zm0 32zm0 66zm1-108zm0 2zm0 18zm0 16zm0 15zm0 0zm1-103zm0 2zm0 4zm0 14zm0 4zm0 79zm1-238zm0 80zm0 28zm0 26zm0 59zm0 58zm2-92zm3 11zm1-48zm0 37zm1-79zm0 79zm0 60zm1-88zm0 28zm0 48zm0 0zm1-109zm0 13zm0 26zm0 2zm1-76zm0 89zm0 7zm8 36zm1-36zm0 0zm0 0zm0 60zm0 8zm2-131zm1 1zm0 14zm0 26zm0 8zm0 44zm0 11zm0 7zm1-174zm0 81zm0 34zm0 25zm1-69zm0 18zm0 37zm0 48zm1-82zm0 56zm1-94zm1 80zm0 76zm2-167zm0 83zm0 40zm0 25zm1-38zm0 41zm0 67zm3-161zm1-42zm0 24zm0 66zm1-29zm0 3zm0 15zm0 16zm1-16zm0 1zm0 8zm1-113zm0 45zm0 67zm0 6zm0 30zm2-137zm0 62zm0 3zm0 82zm0 14zm0 16zm2-112zm4-35zm1-27zm0 31zm0 73zm1 25zm2-9zm1-117zm0 26zm0 50zm0 25zm0 4zm0 1zm0 35zm1-119zm0 17zm0 17zm0 1zm0 1zm0 42zm0 41zm0 7zm1-151zm0 11zm0 52zm0 9zm0 7zm0 11zm0 20zm0 3zm0 0zm0 8zm0 6zm0 31zm0 0zm1-124zm0 0zm0 3zm0 8zm0 34zm0 0zm0 4zm0 9zm0 7zm0 2zm0 2zm0 5zm0 2zm1-31zm0 18zm0 9zm0 13zm0 49zm1-132zm1-48zm0 30zm0 35zm0 12zm0 6zm0 8zm0 62zm0 17zm0 16zm1-160zm0 56zm0 9zm0 65zm1-138zm0 156zm1-245zm0 189zm0 21zm1 16zm1-98zm0 34zm2 27zm3-49zm1-35zm0 45zm0 10zm0 2zm0 11zm0 47zm1-137zm0 50zm0 3zm0 26zm0 0zm0 38zm0 3zm0 38zm1-138zm0 11zm0 48zm0 0zm1-59zm0 25zm0 27zm1-13zm0 1zm0 8zm1-148zm0 159zm0 30zm0 8zm0 2zm0 33zm1-103zm0 53zm0 13zm1 32zm1-78zm0 22zm0 15zm1-98zm0 31zm0 40zm0 52zm1-147zm0 70zm0 35zm1-27zm1 17zm1 0zm6-22zm0 56zm1-92zm0 44zm0 5zm0 1zm0 30zm0 21zm0 5zm0 104zm1-253zm0 53zm0 11zm0 37zm0 0zm0 22zm0 13zm0 44zm1-26zm0 1zm3-133zm1 93zm0 41zm0 5zm0 9zm1-160zm0 68zm0 77zm1-104zm0 77zm0 52zm1-216zm0 123zm0 32zm0 16zm0 39zm1-97zm0 89zm0 8zm1-39zm0 34zm1-126zm0 37zm0 31zm0 4zm0 20zm0 35zm0 41zm1-150zm0 18zm0 4zm0 36zm1 97zm2-212zm0 43zm0 40zm0 40zm0 31zm1-146zm0 18zm0 6zm0 14zm0 10zm0 51zm0 6zm0 2zm0 12zm0 0zm0 1zm0 2zm0 27zm0 23zm1-185zm0 47zm0 13zm0 58zm0 6zm0 5zm0 3zm0 43zm1-96zm0 18zm0 27zm0 18zm1-7zm0 15zm1-60zm0 3zm0 81zm0 7zm1-204zm0 127zm1-70zm0 23zm0 34zm0 26zm0 3zm0 4zm0 18zm0 0zm0 2zm0 12zm0 22zm0 0zm0 19zm1-150zm0 2zm0 2zm0 17zm0 12zm0 0zm0 12zm0 2zm0 8zm0 22zm0 0zm0 1zm0 14zm0 3zm0 18zm0 2zm0 0zm0 0zm0 5zm0 3zm0 40zm1-159zm0 25zm0 10zm1-43zm0 59zm1-55zm0 29zm0 3zm0 23zm0 92zm1-92zm0 32zm1-87zm2 5zm1 68zm1-118zm0 35zm0 39zm0 94zm1-95zm0 106zm1-79zm0 27zm3-186zm0 68zm0 47zm0 62zm0 11zm1 2zm1-47zm0 26zm1-63zm0 31zm0 22zm0 0zm0 48zm4-15zm1-55zm0 49zm1-43zm1 16zm5-61zm0 61zm0 20zm0 55zm0 4zm1-138zm0 33zm0 61zm1-65zm1-31zm0 39zm0 6zm0 76zm1-33zm1-140zm0 45zm0 93zm0 35zm1-123zm0 15zm0 19zm0 19zm0 60zm1-107zm0 59zm0 22zm0 31zm1-79zm0 39zm0 7zm0 28zm1-120zm0 94zm0 24zm0 35zm1-102zm1-60zm0 20zm0 25zm0 29zm0 37zm0 26zm0 2zm0 19zm1-104zm0 3zm2 49zm1-45zm0 23zm1-5zm0 14zm0 7zm0 81zm1-191zm0 51zm0 6zm0 6zm0 10zm0 2zm0 78zm1-103zm0 49zm0 1zm0 32zm0 57zm30-136zm1 19zm1 75zm1-106zm1-54zm0 16zm0 1zm0 28zm0 31zm0 9zm0 96zm0 0zm0 56zm1-165zm0 0zm0 26zm0 4zm0 7zm2 31zm1-197zm0 94zm0 47zm1-30zm0 14zm0 2zm0 32zm0 0zm0 12zm0 15zm0 25zm0 13zm1-114zm0 27zm1-37zm0 19zm0 27zm0 1zm0 21zm1-81zm0 15zm0 25zm0 18zm0 5zm0 50zm0 47zm1-120zm0 6zm0 4zm0 22zm0 22zm0 76zm1-84zm1-48zm0 71zm1-45zm1-68zm0 89zm0 25zm2-106zm1 9zm0 7zm0 52zm1-89zm0 49zm0 30zm0 10zm0 13zm0 35zm0 5zm0 10zm0 24zm1-155zm0 87zm1-61zm0 1zm0 41zm0 0zm0 13zm0 14zm0 7zm0 15zm0 12zm1-120zm0 21zm0 72zm0 63zm1-97zm0 28zm0 20zm0 11zm0 54zm1-99zm0 4zm0 9zm1-92zm0 39zm0 53zm1-75zm1 48zm0 40zm1-40zm0 11zm0 13zm0 3zm0 10zm0 62zm0 14zm1-168zm0 3zm0 2zm0 24zm0 15zm0 4zm0 38zm0 9zm0 5zm0 3zm0 6zm1-80zm0 19zm0 7zm0 0zm0 27zm1-106zm0 36zm0 2zm0 55zm0 36zm1-68zm0 48zm0 72zm1-145zm0 18zm0 1zm0 24zm0 39zm0 26zm1-130zm0 31zm0 15zm0 7zm0 12zm0 21zm0 15zm1-51zm0 63zm1-113zm0 65zm0 79zm1-118zm0 100zm0 58zm1-178zm0 6zm0 17zm0 36zm0 0zm0 39zm0 50zm0 22zm1-202zm0 26zm0 10zm0 5zm0 5zm0 19zm0 0zm0 1zm0 5zm0 4zm0 2zm0 3zm0 2zm0 4zm0 1zm0 4zm0 0zm0 4zm0 12zm0 3zm0 21zm0 20zm0 110zm1-249zm0 14zm0 17zm0 32zm0 16zm0 22zm0 2zm0 3zm0 7zm0 45zm1-158zm0 23zm0 26zm0 10zm0 14zm0 16zm0 17zm0 0zm0 41zm0 24zm1-132zm0 10zm0 5zm0 7zm0 4zm0 14zm0 0zm0 0zm0 41zm0 1zm0 1zm0 11zm0 23zm0 15zm1-164zm0 5zm0 4zm0 35zm0 57zm0 3zm0 36zm0 21zm1-137zm0 0zm0 26zm0 22zm0 39zm1-128zm0 55zm0 77zm1-20zm0 11zm0 29zm1-131zm0 52zm0 16zm1 18zm1 52zm1-113zm0 19zm0 13zm1 11zm0 30zm0 25zm2-55zm0 48zm1-68zm0 68zm0 12zm0 6zm0 13zm1-222zm0 64zm0 20zm0 13zm0 46zm0 0zm0 3zm0 12zm0 12zm0 2zm0 9zm0 22zm0 1zm0 4zm1-74zm0 23zm0 0zm1-45zm0 10zm0 46zm1-87zm0 51zm0 11zm0 25zm0 18zm1-96zm0 19zm0 12zm0 40zm0 20zm0 41zm1-61zm1-63zm0 26zm0 30zm0 37zm1-31zm0 17zm1-102zm0 42zm0 37zm0 9zm1-38zm0 25zm1-141zm0 65zm0 51zm0 10zm0 8zm1-46zm0 14zm0 6zm0 49zm0 6zm0 19zm0 12zm0 27zm1-148zm0 35zm0 4zm0 46zm0 16zm0 15zm0 3zm0 12zm1-156zm0 52zm0 22zm0 12zm0 29zm1-66zm1-20zm0 27zm0 0zm0 4zm0 10zm0 16zm0 6zm0 10zm0 2zm0 7zm0 13zm0 17zm0 5zm1-170zm0 54zm0 8zm0 66zm1-61zm0 77zm1-76zm0 2zm0 57zm0 15zm0 36zm1-127zm0 59zm0 0zm0 10zm0 38zm1-35zm0 13zm1-52zm0 46zm0 80zm0 8zm1-199zm0 19zm0 58zm0 14zm0 34zm0 6zm1-146zm0 47zm0 41zm0 65zm3-13zm0 7zm1-149zm0 54zm0 38zm0 38zm1-67zm0 25zm0 28zm0 57zm0 0zm0 14zm0 32zm1-232zm0 58zm0 4zm0 11zm0 48zm0 11zm0 16zm0 1zm0 32zm1-38zm1-56zm2-94zm0 26zm1-30zm0 102zm0 4zm0 4zm0 7zm0 8zm0 38zm0 39zm0 32zm1-278zm0 40zm0 88zm0 15zm0 5zm0 28zm0 22zm0 5zm0 0zm0 63zm1-183zm0 21zm0 46zm0 4zm0 18zm0 4zm0 18zm0 43zm0 31zm6-92zm0 10zm0 7zm0 12zm0 32zm0 18zm1-132zm0 12zm0 23zm0 0zm0 61zm0 22zm0 3zm1-68zm4 84zm1-84zm0 43zm1-57zm1-12zm0 26zm1-98zm0 106zm0 3zm0 12zm1-60zm0 59zm0 12zm0 85zm1-203zm0 75zm0 9zm0 0zm0 34zm1-144zm0 84zm0 26zm1-86zm0 32zm0 28zm0 2zm0 13zm1-30zm0 10zm0 21zm0 0zm0 58zm1-10zm0 17zm0 20zm4-105zm1-4zm0 74zm1-47zm3-21zm1-77zm0 26zm0 86zm0 34zm0 38zm1-121zm0 1zm0 15zm0 26zm0 25zm0 3zm0 10zm0 21zm1-53zm0 24zm0 2zm0 33zm0 4zm1-168zm0 109zm0 50zm0 25zm1-138zm0 9zm0 21zm0 1zm0 39zm0 5zm0 63zm1-193zm0 49zm0 0zm0 14zm0 19zm0 3zm0 41zm0 9zm0 28zm0 20zm0 44zm1-227zm0 78zm0 6zm0 19zm0 1zm0 0zm0 17zm0 25zm0 17zm0 24zm0 13zm1-157zm0 6zm0 2zm0 9zm0 16zm0 39zm0 18zm0 2zm0 70zm1-205zm0 80zm0 22zm0 20zm0 6zm0 69zm1-103zm0 14zm0 9zm0 13zm0 2zm0 14zm0 10zm0 8zm0 23zm1-274zm0 112zm0 10zm0 3zm0 38zm0 4zm0 10zm0 2zm0 16zm0 0zm0 3zm0 2zm0 4zm0 5zm0 6zm0 0zm0 9zm0 8zm0 3zm0 12zm1-147zm0 16zm0 20zm0 10zm0 15zm0 16zm0 2zm0 16zm0 0zm0 0zm0 23zm0 25zm0 12zm0 11zm1-107zm0 11zm0 25zm0 24zm0 3zm0 41zm1-159zm0 61zm0 8zm0 55zm4-81zm0 24zm0 2zm0 32zm0 12zm0 53zm1-97zm0 2zm0 63zm0 1zm0 86zm1-238zm0 20zm0 25zm0 20zm0 3zm0 6zm0 2zm0 9zm0 23zm0 8zm0 1zm0 2zm0 2zm0 9zm0 5zm0 3zm0 26zm0 16zm0 21zm1-172zm0 14zm0 31zm0 10zm0 2zm0 36zm0 23zm1-99zm0 45zm0 46zm0 31zm0 13zm1-192zm0 56zm0 19zm0 62zm0 16zm0 2zm0 32zm1 21zm1-159zm0 25zm1-3zm0 12zm0 30zm0 13zm0 58zm1-124zm0 59zm0 11zm0 11zm0 2zm0 6zm1-231zm0 73zm0 59zm0 47zm0 2zm0 12zm0 1zm0 37zm0 23zm1-139zm0 61zm0 16zm0 34zm0 40zm0 0zm0 74zm1-154zm0 7zm0 12zm0 23zm0 39zm0 5zm1-99zm0 76zm0 12zm0 83zm1-116zm0 34zm2-120zm0 0zm1 45zm0 0zm0 14zm0 18zm0 9zm0 11zm0 57zm1-154zm0 0zm0 8zm0 5zm0 15zm0 1zm0 19zm0 20zm0 18zm1-99zm0 1zm0 27zm0 4zm0 0zm0 67zm0 0zm1-50zm0 23zm0 60zm1-150zm0 2zm0 43zm0 71zm0 7zm0 12zm1-164zm0 11zm0 12zm0 54zm0 2zm0 30zm0 24zm0 0zm0 25zm0 15zm1-119zm0 17zm0 16zm0 10zm1-3zm0 25zm3-56zm0 41zm0 31zm0 8zm0 16zm1-95zm0 55zm0 18zm0 4zm1-62zm0 28zm0 46zm1-159zm0 99zm0 12zm0 41zm0 2zm0 69zm1-205zm0 107zm0 0zm2-20zm1 47zm0 38zm1-79zm0 11zm0 18zm0 1zm1-62zm0 20zm0 42zm0 32zm0 0zm0 9zm0 4zm0 104zm1-265zm0 21zm0 79zm0 60zm1-123zm0 27zm0 36zm0 22zm0 55zm1-97zm0 20zm0 13zm0 36zm1-15zm2-76zm0 20zm0 65zm0 36zm1-101zm0 38zm0 44zm1-139zm0 14zm0 92zm0 13zm1-85zm0 11zm0 34zm0 43zm1-65zm0 22zm0 27zm1-118zm0 18zm0 25zm0 48zm0 10zm0 3zm0 0zm0 40zm0 40zm1-152zm0 33zm0 0zm0 4zm0 11zm0 3zm0 8zm0 0zm0 0zm0 13zm0 11zm0 10zm0 16zm0 29zm0 13zm0 47zm1-169zm0 4zm0 121zm1-158zm0 15zm0 0zm0 7zm0 36zm0 5zm0 28zm0 37zm1-160zm0 51zm0 26zm0 12zm0 16zm0 1zm0 23zm0 8zm0 18zm0 29zm0 9zm1-146zm0 48zm0 40zm0 20zm1-219zm0 80zm0 63zm0 21zm0 55zm1-174zm0 60zm0 32zm0 5zm0 60zm0 40zm1-148zm0 76zm0 2zm1-13zm0 12zm0 36zm1-124zm0 42zm0 76zm0 37zm1-143zm0 5zm0 15zm0 2zm0 42zm0 22zm0 57zm2-152zm0 100zm1-90zm1-16zm0 20zm0 11zm0 38zm0 36zm0 34zm1-123zm0 2zm0 61zm0 47zm1-181zm0 71zm0 2zm0 31zm0 30zm0 6zm0 5zm0 16zm0 11zm0 19zm0 3zm0 31zm1-219zm1 123zm0 53zm1-156zm0 68zm0 6zm0 66zm0 8zm1-159zm0 85zm0 25zm0 31zm0 64zm0 2zm1-151zm0 3zm0 28zm0 15zm0 17zm0 22zm0 9zm1-80zm0 49zm0 23zm0 17zm1-95zm0 52zm0 30zm0 3zm0 89zm1-244zm0 60zm0 31zm0 0zm0 8zm0 12zm0 2zm0 1zm0 2zm0 4zm0 5zm0 16zm0 24zm1-93zm0 5zm0 42zm0 6zm0 16zm0 46zm0 6zm0 16zm1-24zm0 19zm1-165zm0 27zm0 2zm0 17zm0 3zm0 3zm0 1zm0 20zm0 13zm0 27zm0 16zm0 36zm1-158zm0 12zm0 2zm0 22zm0 3zm0 3zm0 2zm0 23zm0 7zm0 5zm0 0zm0 14zm0 1zm0 7zm0 17zm0 9zm0 7zm0 32zm0 2zm0 1zm0 5zm1-134zm0 3zm0 25zm0 17zm0 3zm0 20zm0 5zm0 26zm0 17zm1-125zm0 0zm0 13zm0 13zm0 16zm0 6zm0 48zm0 31zm1-147zm0 38zm0 23zm0 2zm0 73zm0 29zm1-152zm0 67zm0 6zm1-54zm0 174zm3-138zm1-54zm0 67zm0 91zm1-206zm0 62zm0 56zm0 12zm0 48zm0 12zm1-133zm0 31zm0 14zm0 0zm0 26zm0 4zm1-47zm0 24zm0 41zm1-78zm0 0zm0 16zm0 14zm0 0zm0 5zm0 22zm1-38zm0 3zm0 8zm0 7zm0 27zm0 16zm1-129zm0 47zm0 32zm0 48zm1-48zm0 65zm1-114zm0 7zm0 18zm0 35zm0 30zm0 31zm1-145zm0 29zm0 2zm0 8zm0 8zm0 26zm0 5zm0 9zm0 4zm0 25zm0 5zm0 41zm1-122zm0 3zm0 12zm0 34zm0 46zm0 17zm1-193zm0 45zm0 38zm0 31zm0 22zm0 26zm1-167zm0 56zm0 111zm1-167zm0 45zm0 6zm0 20zm0 28zm0 1zm0 13zm0 3zm0 13zm0 8zm0 7zm0 35zm1-100zm0 14zm0 10zm0 34zm0 7zm0 2zm0 34zm0 15zm1-113zm0 15zm0 86zm1-99zm0 19zm7 16zm0 0zm0 106zm1-127zm0 9zm0 6zm0 6zm0 10zm0 5zm1-80zm0 12zm0 16zm0 4zm0 5zm0 28zm0 0zm0 3zm0 11zm0 2zm0 7zm1-130zm0 79zm0 0zm0 11zm0 1zm0 6zm0 10zm0 0zm0 11zm0 4zm0 2zm0 5zm0 26zm1-137zm0 10zm0 16zm0 13zm0 1zm0 7zm0 60zm0 2zm0 10zm0 43zm1-138zm0 9zm0 4zm0 12zm0 6zm0 8zm0 13zm0 23zm0 117zm1-48zm1-119zm0 26zm0 86zm1-159zm0 28zm0 29zm0 2zm0 16zm0 1zm0 11zm0 13zm0 5zm0 9zm0 24zm0 51zm0 17zm1-208zm0 19zm0 18zm0 15zm0 19zm0 9zm0 9zm0 0zm0 9zm0 13zm0 1zm0 4zm0 17zm0 19zm1-135zm0 13zm0 11zm0 20zm0 2zm0 8zm0 26zm0 11zm0 2zm0 1zm0 12zm0 45zm1-119zm0 18zm0 77zm3-125zm0 58zm0 12zm0 20zm0 14zm0 20zm1-133zm0 106zm1-78zm0 23zm0 2zm0 5zm0 41zm0 11zm1-59zm0 2zm0 4zm0 16zm0 54zm1-107zm0 19zm0 10zm0 13zm0 5zm1-83zm0 30zm0 20zm0 25zm0 6zm0 28zm0 8zm1-56zm0 0zm0 28zm0 24zm0 9zm0 9zm0 27zm1-142zm0 7zm0 56zm0 5zm0 45zm0 0zm0 14zm0 15zm0 7zm0 29zm1-151zm0 11zm0 1zm0 126zm1-101zm1-64zm0 14zm0 43zm0 22zm0 32zm0 47zm1-116zm0 65zm0 20zm0 14zm1-181zm0 99zm0 6zm0 1zm0 13zm0 30zm1-137zm0 28zm0 20zm0 25zm0 49zm0 1zm1-84zm0 1zm0 45zm0 5zm0 17zm0 18zm0 24zm0 28zm1-88zm0 105zm1-182zm0 9zm0 27zm0 138zm1-121zm0 53zm0 10zm0 62zm1-174zm0 125zm1-96zm0 7zm0 23zm0 10zm0 0zm0 11zm0 5zm0 6zm0 7zm0 0zm0 34zm0 26zm1-118zm0 14zm0 7zm0 26zm0 4zm0 0zm0 9zm0 13zm0 5zm0 0zm0 0zm0 7zm0 5zm0 3zm0 37zm1-105zm0 17zm0 16zm1-21zm0 36zm1-34zm0 12zm0 16zm0 11zm0 8zm0 44zm1-121zm0 26zm0 16zm0 40zm0 20zm1-16zm0 21zm0 14zm1-177zm0 3zm0 10zm0 29zm0 16zm0 9zm0 13zm0 18zm0 15zm1-49zm0 64zm0 10zm0 39zm0 28zm2-161zm0 20zm0 13zm0 58zm0 15zm0 67zm1-174zm0 21zm0 4zm0 30zm0 0zm0 14zm0 18zm0 37zm1-144zm0 22zm0 1zm0 12zm0 0zm0 18zm0 4zm0 9zm0 88zm1-176zm0 72zm0 7zm0 4zm0 14zm0 0zm0 0zm0 12zm0 83zm1-113zm0 68zm0 18zm1-125zm0 23zm0 12zm0 77zm1-170zm0 27zm0 20zm0 13zm0 24zm0 26zm0 14zm0 19zm0 9zm0 6zm1-122zm0 31zm0 3zm0 28zm0 3zm0 0zm0 14zm0 18zm0 16zm0 11zm0 7zm0 20zm0 7zm1-143zm0 24zm0 10zm0 30zm0 22zm0 21zm0 15zm0 5zm1-107zm0 10zm0 4zm0 80zm1-76zm0 26zm1-87zm0 12zm0 75zm0 60zm1-60zm0 65zm1-102zm0 116zm1-225zm0 92zm0 6zm0 11zm0 37zm0 0zm0 55zm1-150zm0 88zm0 14zm1-41zm2 12zm1-22zm1-79zm0 64zm0 5zm0 0zm0 20zm0 4zm0 16zm0 1zm0 4zm0 9zm0 0zm0 0zm0 16zm0 24zm0 2zm0 15zm1-102zm0 8zm0 64zm0 101zm1-225zm0 42zm0 78zm0 11zm0 8zm0 18zm0 0zm0 19zm0 55zm1-134zm1-110zm0 31zm0 0zm0 11zm0 9zm0 11zm0 0zm0 5zm0 11zm0 2zm0 1zm0 7zm0 22zm0 0zm0 0zm0 8zm0 9zm0 5zm0 14zm0 0zm0 7zm0 17zm0 27zm0 32zm1-161zm0 2zm0 51zm0 7zm0 6zm0 40zm0 34zm0 1zm1-178zm0 55zm0 65zm1-54zm0 38zm1-144zm0 71zm0 34zm0 2zm0 36zm1-122zm0 61zm0 18zm0 9zm0 10zm0 16zm0 46zm1-132zm0 26zm0 25zm0 11zm0 17zm0 123zm1-191zm0 35zm0 24zm0 11zm0 0zm1-78zm1 17zm0 24zm0 86zm1-125zm0 25zm0 13zm0 13zm0 14zm0 19zm0 3zm0 8zm0 18zm0 12zm1-112zm0 30zm0 5zm0 75zm1-66zm0 87zm1-79zm0 13zm0 59zm1-163zm0 43zm0 1zm0 13zm0 24zm0 10zm0 11zm0 19zm0 30zm0 6zm0 99zm1-214zm0 15zm0 8zm0 66zm0 15zm0 29zm1-149zm0 25zm0 62zm0 9zm0 15zm0 2zm1-107zm0 33zm0 17zm0 81zm1-125zm0 22zm0 3zm0 47zm0 8zm0 3zm0 11zm0 38zm1-127zm0 144zm1-96zm0 68zm1-84zm0 6zm0 10zm1-98zm0 50zm0 22zm0 7zm0 19zm0 0zm0 14zm1-80zm0 5zm0 5zm0 6zm0 13zm0 0zm0 6zm0 58zm0 17zm0 4zm1-74zm0 66zm0 25zm1-93zm0 28zm1-58zm0 28zm0 30zm0 7zm0 41zm0 25zm0 46zm1-184zm0 24zm0 29zm0 12zm1 22zm0 7zm2-137zm0 50zm0 58zm0 10zm0 30zm1-23zm0 23zm0 56zm0 17zm1-197zm0 62zm0 65zm1-33zm1 49zm3-65zm0 17zm1-70zm0 0zm0 11zm0 14zm0 34zm0 18zm1-80zm0 5zm0 57zm0 0zm0 0zm0 7zm0 22zm0 5zm0 0zm0 5zm1-87zm0 18zm0 14zm0 2zm0 14zm0 13zm0 27zm0 13zm1-123zm0 59zm0 11zm0 13zm0 2zm0 14zm0 13zm1-101zm0 11zm0 30zm0 61zm0 27zm0 49zm2-184zm0 12zm0 58zm0 5zm0 38zm0 22zm0 9zm1-134zm0 26zm0 15zm0 14zm0 14zm0 20zm1-34zm0 22zm1-117zm0 64zm0 104zm0 12zm6-178zm0 17zm0 17zm0 77zm0 17zm0 9zm1-103zm0 59zm0 0zm0 10zm0 38zm0 15zm0 5zm1-125zm0 21zm0 10zm0 16zm0 10zm0 10zm0 14zm0 6zm0 23zm0 55zm1-211zm0 24zm0 20zm0 21zm0 13zm0 3zm0 12zm0 28zm0 0zm0 9zm0 2zm0 25zm1-219zm0 107zm0 32zm0 26zm0 8zm0 10zm0 9zm0 0zm0 15zm0 6zm1-213zm0 86zm0 22zm0 15zm0 16zm0 0zm0 1zm0 7zm0 32zm1-139zm0 72zm0 10zm0 9zm0 8zm0 51zm0 9zm1-142zm0 20zm0 5zm0 43zm0 18zm0 0zm0 4zm0 6zm0 1zm0 4zm0 14zm0 15zm0 7zm0 26zm0 12zm0 7zm0 5zm1-79zm1-25zm1 7zm0 4zm0 36zm0 5zm0 45zm1-163zm0 57zm0 0zm0 3zm0 44zm0 11zm0 16zm1-99zm0 11zm0 0zm0 48zm0 0zm0 40zm1-131zm0 6zm0 57zm1-74zm0 32zm0 3zm0 24zm0 35zm0 8zm0 0zm0 9zm0 78zm1-199zm0 15zm0 49zm0 46zm0 12zm1 82zm1-140zm0 23zm0 25zm0 0zm0 75zm1-260zm0 106zm0 20zm0 2zm0 4zm0 23zm0 4zm0 1zm0 104zm0 4zm0 27zm1-216zm0 27zm0 20zm0 37zm0 22zm0 12zm0 6zm0 4zm0 6zm1-61zm0 26zm0 17zm0 50zm1-155zm0 122zm0 28zm1-73zm0 4zm0 3zm0 39zm1-36zm0 50zm1-42zm0 22zm0 61zm0 56zm1-74zm1-154zm0 39zm0 157zm1-137zm0 2zm0 70zm0 0zm0 14zm1-73zm0 57zm2-81zm0 47zm0 14zm1-68zm0 173zm1-244zm0 52zm0 8zm0 70zm0 30zm0 1zm1-150zm0 78zm0 72zm1-42zm0 0zm0 15zm0 1zm0 6zm0 5zm0 0zm0 21zm0 6zm1-69zm0 71zm1 23zm1-144zm0 19zm0 68zm0 12zm1-44zm0 89zm6-103zm0 17zm0 7zm0 17zm0 13zm0 58zm1-179zm0 5zm0 22zm0 7zm0 4zm0 11zm0 8zm0 5zm0 4zm0 2zm0 1zm0 2zm0 20zm0 6zm0 1zm0 46zm0 7zm1-86zm0 8zm0 18zm0 0zm0 48zm1-127zm0 49zm0 20zm0 8zm0 2zm0 13zm0 14zm1-64zm0 37zm1-36zm0 60zm1 65zm1-59zm0 18zm1-104zm0 8zm0 14zm0 34zm0 22zm0 12zm0 14zm0 4zm1-86zm1 126zm1-120zm0 10zm0 42zm1-6zm0 74zm1-96zm0 10zm0 23zm0 5zm1-25zm0 31zm1-46zm1 76zm1-60zm1 26zm1-91zm0 73zm0 4zm0 21zm0 17zm1-125zm0 21zm0 4zm0 31zm0 9zm0 0zm0 23zm0 56zm0 12zm0 28zm1-221zm0 76zm0 0zm0 18zm0 0zm0 35zm1-90zm0 2zm0 39zm0 6zm0 8zm0 8zm0 9zm0 14zm0 4zm0 0zm0 9zm0 55zm1-161zm0 109zm0 19zm1 12zm1-22zm1 10zm0 34zm1-181zm0 39zm0 50zm0 0zm0 5zm0 74zm1-103zm1 46zm5-63zm0 15zm0 54zm1-120zm0 36zm0 12zm0 4zm0 40zm0 6zm0 42zm0 64zm0 11zm1-223zm0 52zm1-17zm0 10zm0 89zm1-84zm0 58zm0 72zm1-206zm0 78zm0 66zm0 50zm1-102zm0 34zm0 6zm0 4zm0 9zm0 6zm0 8zm0 12zm0 15zm0 8zm1-130zm0 5zm0 35zm0 12zm0 0zm0 1zm0 2zm0 20zm0 8zm0 1zm0 8zm0 9zm0 26zm0 3zm0 14zm1-64zm0 24zm2-26zm0 44zm1-139zm0 106zm0 2zm0 11zm0 4zm19-123zm1 17zm0 71zm2-24zm0 50zm1-35zm0 0zm0 6zm0 24zm0 17zm1-65zm0 18zm0 22zm0 22zm0 86zm1-212zm0 15zm0 50zm0 26zm0 16zm0 5zm0 30zm0 0zm0 29zm1-67zm2-31zm0 14zm1-10zm0 53zm3-32zm1-39zm0 18zm0 5zm0 7zm0 72zm0 0zm0 4zm1-42zm0 4zm0 106zm1-240zm0 10zm0 49zm0 12zm0 78zm0 23zm1-151zm0 9zm0 11zm0 4zm0 4zm0 18zm0 1zm0 25zm0 10zm0 11zm0 2zm0 14zm0 24zm0 8zm0 6zm0 3zm0 4zm1-147zm0 2zm0 19zm0 24zm0 25zm0 7zm0 16zm0 14zm0 7zm0 5zm1-181zm0 28zm0 58zm0 45zm0 26zm2-34zm1 0zm2-26zm0 17zm1-97zm0 38zm0 57zm0 59zm0 31zm1-198zm0 95zm0 24zm0 8zm0 24zm0 16zm1-130zm0 75zm0 7zm0 0zm0 0zm0 0zm0 11zm0 44zm0 33zm1-199zm0 54zm0 16zm0 19zm0 10zm0 33zm0 13zm0 14zm1-77zm0 29zm0 10zm0 12zm1-88zm1 32zm0 24zm1 55zm19-67zm0 22zm0 32zm4 78zm1-169zm1 19zm0 40zm0 43zm1-115zm0 17zm0 73zm0 50zm0 67zm1-117zm0 4zm0 23zm11-45zm1-56zm0 30zm0 13zm0 13zm0 16zm0 44zm1-70zm0 3zm0 7zm0 0zm0 27zm0 13zm0 39zm1-12zm0 20zm1-23zm1-126zm0 33zm0 2zm0 64zm0 27zm0 15zm1-19zm1-40zm0 3zm0 10zm1-51zm0 9zm0 27zm0 46zm1-153zm0 10zm0 79zm0 55zm0 8zm0 3zm1-92zm0 26zm0 14zm0 20zm0 21zm0 17zm1-112zm0 239zm1-245zm1 50zm2-87zm0 79zm1-17zm2 31zm1-10zm2-89zm0 51zm0 52zm1-85zm0 20zm1-11zm17 3zm0 59zm0 40zm0 36zm1-80zm0 4zm0 161zm1-127zm0 31zm1-148zm1 38zm0 29zm1-37zm0 11zm0 10zm0 9zm0 23zm0 0zm0 16zm0 25zm1-100zm0 17zm0 8zm0 14zm0 27zm0 35zm0 23zm0 30zm1-214zm0 44zm0 25zm0 28zm0 73zm1-28zm1-80zm0 79zm0 16zm0 2zm1-74zm0 10zm0 24zm0 22zm0 8zm0 74zm1-155zm0 25zm0 0zm0 2zm1-124zm0 95zm0 64zm1-113zm0 23zm0 31zm0 14zm0 0zm0 23zm0 11zm0 13zm0 21zm0 6zm1-136zm0 33zm0 1zm0 31zm0 13zm0 2zm0 34zm0 33zm1-106zm0 7zm0 124zm0 28zm1-212zm0 71zm0 3zm0 89zm1-120zm0 125zm1-151zm1 75zm0 2zm0 7zm0 7zm1-34zm0 27zm0 20zm0 32zm0 40zm1-133zm0 14zm0 34zm0 9zm0 31zm0 4zm0 26zm1-142zm1 39zm0 11zm0 4zm0 2zm1 38zm1-39zm1-180zm0 118zm0 34zm0 128zm1-185zm0 35zm0 27zm0 40zm0 16zm0 2zm0 39zm0 42zm0 8zm1-71zm0 29zm1-89zm0 2zm0 22zm0 79zm0 14zm1-93zm0 70zm1-104zm0 12zm0 53zm3-65zm0 74zm1-58zm0 5zm1-52zm0 47zm0 131zm1-192zm0 70zm0 9zm0 27zm0 21zm0 60zm1-200zm0 92zm0 27zm0 69zm1-36zm0 5zm2-137zm0 34zm0 38zm0 40zm0 16zm0 23zm1-170zm0 46zm1 2zm0 13zm1 14zm0 56zm1-131zm0 20zm0 35zm0 27zm0 17zm0 2zm0 42zm1-131zm0 14zm0 65zm0 72zm0 35zm1-139zm0 10zm0 87zm1-156zm0 50zm0 4zm0 37zm0 29zm0 19zm1-82zm0 12zm0 44zm0 5zm0 67zm0 1zm2-136zm0 4zm0 3zm0 27zm0 21zm0 26zm1-78zm0 10zm0 28zm0 43zm0 17zm1-232zm0 81zm0 10zm0 2zm0 39zm0 7zm0 19zm0 41zm0 0zm0 13zm0 11zm0 18zm2-69zm1-79zm0 53zm0 14zm3-36zm0 32zm0 2zm0 14zm0 60zm0 5zm1-138zm0 10zm0 27zm0 6zm0 8zm0 30zm0 26zm0 2zm0 8zm0 35zm1-89zm0 52zm1-35zm0 41zm1-167zm0 66zm0 5zm0 35zm0 8zm0 30zm1-109zm0 24zm0 4zm0 1zm0 3zm0 16zm0 25zm0 11zm0 0zm0 11zm0 7zm0 1zm0 3zm0 7zm0 26zm0 10zm0 3zm0 26zm1-184zm0 3zm0 8zm0 31zm0 8zm0 17zm0 15zm0 1zm0 7zm0 0zm0 29zm0 19zm0 1zm0 44zm1-121zm0 2zm0 26zm0 22zm0 7zm1-83zm0 4zm0 2zm0 5zm0 1zm0 25zm0 17zm0 0zm0 10zm0 0zm0 13zm0 1zm0 24zm0 17zm1-91zm0 8zm0 12zm0 6zm0 3zm0 12zm0 43zm1-137zm0 51zm0 0zm0 11zm0 17zm0 0zm0 8zm0 14zm0 8zm0 10zm0 39zm0 20zm1-164zm0 84zm1-121zm0 157zm1-141zm0 47zm0 31zm3 64zm1-223zm0 147zm0 51zm0 52zm1-83zm0 29zm0 15zm0 35zm1-117zm0 5zm0 81zm0 91zm1-192zm0 13zm0 26zm0 47zm0 1zm0 26zm0 0zm0 19zm0 15zm1-203zm0 51zm0 48zm0 118zm1-116zm0 5zm0 3zm0 27zm0 13zm0 20zm0 4zm0 2zm0 10zm1-232zm0 89zm0 30zm0 1zm0 14zm0 17zm1-43zm0 6zm0 98zm0 6zm0 8zm1-149zm0 30zm0 15zm0 24zm0 10zm0 38zm0 41zm0 7zm1-108zm0 18zm0 4zm0 18zm0 9zm0 99zm22-144zm0 11zm0 29zm0 28zm0 36zm1-38zm1-31zm1-49zm0 52zm0 64zm0 35zm1-167zm0 8zm0 6zm0 34zm0 0zm1-37zm0 10zm0 27zm0 27zm0 33zm0 5zm1-153zm0 9zm0 20zm0 16zm0 9zm0 8zm0 20zm0 6zm0 14zm0 34zm0 47zm1-154zm0 25zm0 75zm0 12zm1-75zm0 54zm1-82zm0 2zm0 48zm0 0zm0 57zm1-211zm0 106zm0 37zm0 24zm0 8zm0 1zm0 19zm0 14zm0 22zm0 1zm0 26zm1-190zm0 47zm0 15zm0 5zm0 10zm0 9zm0 5zm0 0zm0 7zm0 0zm0 1zm0 47zm0 5zm0 14zm0 10zm1-208zm0 64zm0 37zm0 18zm0 23zm0 4zm0 21zm1-66zm0 39zm0 6zm0 17zm1-96zm0 30zm1 49zm0 34zm1-161zm0 7zm0 2zm0 50zm0 61zm1-20zm0 85zm2-160zm0 49zm0 4zm0 26zm0 20zm0 24zm0 17zm0 3zm2-187zm0 94zm0 1zm0 10zm0 74zm1-131zm0 23zm0 31zm0 7zm0 32zm0 2zm1-209zm0 112zm0 36zm0 96zm1-78zm1-40zm0 7zm0 4zm0 37zm0 4zm0 17zm0 4zm0 37zm0 34zm1-147zm0 32zm0 14zm0 16zm0 14zm0 2zm1-64zm0 56zm0 71zm1-131zm0 18zm0 12zm0 33zm0 5zm0 11zm1-13zm0 71zm1-164zm0 90zm1-41zm0 2zm0 10zm0 10zm0 8zm0 34zm0 2zm0 43zm1-174zm0 6zm0 44zm0 153zm1-122zm0 39zm0 34zm0 1zm1-139zm0 5zm0 50zm0 40zm1-64zm1 92zm1-119zm0 20zm0 61zm0 22zm0 67zm1-154zm0 83zm1-83zm1 93zm0 45zm1-79zm0 27zm0 2zm0 5zm2-113zm0 53zm0 47zm1-116zm0 14zm0 9zm0 24zm0 30zm0 26zm0 2zm0 10zm1-5zm0 7zm0 18zm2-26zm0 11zm0 8zm0 61zm1-179zm0 32zm0 11zm0 60zm0 0zm1-71zm0 17zm0 59zm0 0zm0 1zm0 36zm0 33zm1-172zm0 9zm0 9zm0 6zm0 46zm0 9zm0 0zm0 10zm0 4zm0 4zm0 0zm0 3zm0 8zm0 19zm0 148zm1-255zm0 33zm0 2zm0 9zm0 2zm0 13zm0 0zm0 14zm0 20zm0 5zm0 3zm0 18zm1 37zm2-140zm0 68zm1-119zm0 17zm0 14zm0 23zm0 8zm0 6zm0 44zm0 37zm1-97zm0 42zm1-84zm0 68zm0 16zm0 10zm0 6zm0 32zm1-213zm0 63zm0 54zm0 16zm0 15zm0 10zm0 7zm0 0zm0 0zm0 15zm0 23zm0 70zm1-199zm1 71zm0 2zm1-19zm0 18zm0 3zm2-38zm0 60zm1-149zm0 68zm0 18zm0 38zm0 1zm0 8zm0 20zm0 6zm0 11zm0 9zm0 36zm0 16zm0 9zm1-156zm0 11zm0 48zm0 0zm0 0zm0 10zm0 12zm0 3zm0 1zm0 1zm0 0zm0 38zm0 0zm0 21zm1-207zm0 10zm0 99zm0 12zm0 14zm1-40zm0 6zm0 4zm0 16zm0 0zm1-48zm0 22zm0 56zm0 1zm0 9zm0 21zm0 0zm1-73zm0 7zm0 46zm1-105zm0 22zm0 16zm0 66zm1-95zm0 2zm0 66zm0 66zm0 0zm1-138zm0 59zm2-23zm1 11zm0 24zm0 4zm0 11zm0 1zm0 24zm1-52zm0 29zm0 11zm0 3zm0 2zm0 30zm1-143zm0 9zm0 2zm0 4zm0 28zm0 8zm0 51zm0 111zm2-204zm0 50zm1-41zm0 40zm0 4zm0 12zm0 54zm1-139zm0 0zm0 8zm0 26zm0 8zm0 3zm0 8zm0 14zm0 0zm0 19zm0 4zm0 27zm0 2zm0 20zm0 19zm0 6zm1-196zm0 69zm0 26zm0 7zm0 2zm0 7zm0 6zm0 14zm0 7zm0 3zm0 49zm0 30zm1-91zm0 61zm1-79zm1-71zm0 41zm0 42zm0 18zm0 14zm0 58zm1-225zm0 4zm0 9zm0 62zm0 48zm0 0zm0 15zm0 16zm0 4zm0 5zm0 28zm1-164zm1 8zm0 9zm0 14zm0 39zm0 26zm0 0zm0 21zm0 4zm0 2zm0 62zm0 3zm1-153zm0 4zm0 7zm0 42zm0 30zm0 5zm0 15zm0 1zm0 5zm1-64zm0 16zm0 11zm0 21zm0 61zm0 3zm1-172zm0 11zm0 14zm0 67zm0 2zm0 27zm0 20zm0 33zm1-182zm0 15zm0 10zm0 11zm0 70zm0 0zm0 18zm0 2zm0 1zm1-85zm0 26zm0 9zm0 7zm0 0zm0 0zm0 10zm0 12zm0 6zm0 0zm0 4zm0 2zm0 10zm0 1zm0 3zm0 25zm0 15zm0 50zm1-174zm0 19zm0 8zm0 9zm0 68zm1-111zm0 3zm0 29zm0 4zm0 7zm0 10zm0 4zm0 105zm1-133zm1 2zm1-27zm0 39zm1-65zm0 2zm0 4zm0 0zm0 33zm0 0zm0 26zm0 48zm0 5zm1-132zm0 17zm0 10zm0 24zm0 6zm0 6zm0 16zm0 30zm0 65zm1-121zm0 16zm0 19zm0 64zm0 2zm0 17zm1-157zm0 25zm0 6zm0 0zm0 6zm0 21zm0 7zm0 0zm0 0zm0 52zm0 5zm0 15zm0 17zm1-137zm0 20zm0 22zm0 6zm0 6zm0 25zm0 0zm0 11zm0 26zm0 11zm1-174zm0 27zm0 3zm0 28zm0 11zm0 4zm0 5zm0 1zm0 8zm0 16zm0 10zm0 16zm1-52zm0 35zm0 3zm0 10zm0 18zm1-88zm0 43zm1-48zm0 45zm0 40zm0 3zm0 30zm1-117zm0 44zm0 0zm0 22zm0 26zm1-167zm0 119zm0 76zm1-155zm0 10zm0 9zm0 9zm0 3zm0 18zm0 30zm0 10zm0 8zm0 84zm1-262zm0 108zm0 18zm0 4zm0 4zm0 1zm0 10zm0 15zm0 13zm0 20zm0 24zm0 9zm0 2zm0 25zm0 6zm0 12zm0 45zm1-258zm0 54zm0 34zm0 5zm0 4zm0 12zm0 13zm0 2zm0 29zm0 17zm0 3zm0 8zm0 13zm1-171zm0 12zm0 12zm0 7zm0 0zm0 22zm0 4zm0 12zm0 10zm0 8zm0 23zm0 21zm0 3zm1-160zm0 33zm0 0zm0 4zm0 9zm0 4zm0 5zm0 5zm0 5zm0 16zm0 6zm0 0zm0 0zm0 6zm0 1zm0 11zm0 0zm0 20zm0 11zm0 7zm0 5zm0 1zm0 4zm0 3zm0 1zm0 9zm0 27zm0 33zm1-180zm0 11zm0 0zm0 48zm0 0zm0 10zm0 12zm0 1zm0 1zm0 39zm0 26zm0 87zm10-200zm0 46zm1-56zm0 23zm0 3zm0 8zm0 0zm0 10zm0 3zm0 0zm0 14zm0 71zm1-228zm0 5zm0 58zm0 16zm0 1zm0 27zm0 86zm1-21zm0 3zm1-5zm1-113zm0 32zm0 67zm0 6zm0 67zm1-201zm0 99zm0 3zm0 5zm1-37zm0 100zm1-108zm0 4zm0 20zm0 4zm0 3zm0 9zm0 22zm0 0zm0 5zm0 0zm0 24zm1-170zm0 33zm0 7zm0 15zm0 1zm0 8zm0 55zm0 9zm0 1zm0 3zm0 7zm0 4zm0 8zm0 8zm0 11zm0 22zm0 9zm1-135zm0 53zm0 34zm3 85zm1-167zm0 11zm0 13zm0 2zm0 89zm0 12zm0 0zm1-106zm0 2zm0 7zm0 5zm0 47zm0 43zm1-95zm0 7zm0 4zm0 59zm2-82zm0 6zm0 64zm1-35zm0 7zm1-85zm0 7zm0 22zm0 66zm0 5zm1-37zm0 61zm1-51zm0 13zm0 1zm0 17zm0 0zm0 17zm0 31zm0 49zm1-128zm0 27zm1-138zm0 29zm0 3zm0 9zm0 25zm0 8zm0 15zm0 4zm0 18zm0 5zm0 8zm0 5zm0 5zm0 4zm0 4zm0 21zm0 16zm0 75zm1-196zm0 31zm0 7zm0 5zm0 10zm0 16zm0 2zm0 4zm0 8zm0 10zm0 2zm0 4zm0 14zm0 19zm0 14zm1-236zm0 24zm0 11zm0 8zm0 41zm0 33zm0 4zm0 32zm0 38zm1-152zm0 104zm0 25zm0 10zm0 7zm0 56zm1-165zm0 46zm1 31zm0 79zm1-218zm0 52zm0 29zm0 11zm0 3zm0 8zm0 12zm0 7zm0 7zm0 0zm0 9zm0 5zm0 4zm0 6zm0 0zm0 3zm0 13zm0 20zm1-147zm0 24zm0 33zm0 14zm0 7zm0 9zm0 15zm0 7zm0 6zm0 5zm0 32zm0 114zm1-216zm0 27zm0 50zm0 39zm1-186zm0 2zm0 26zm0 14zm0 25zm0 14zm0 10zm0 4zm0 4zm1-16zm1-55zm0 6zm0 14zm0 4zm0 1zm0 9zm0 15zm0 16zm0 14zm0 7zm0 23zm0 18zm1-155zm0 67zm0 3zm0 4zm0 112zm1-79zm0 79zm2-79zm0 15zm0 31zm1-137zm0 2zm0 61zm0 8zm0 20zm0 8zm0 26zm0 51zm1-176zm0 65zm0 26zm0 0zm0 16zm0 11zm0 7zm0 19zm0 1zm1-142zm0 61zm0 18zm0 35zm0 53zm1-174zm0 36zm0 59zm0 18zm1-18zm0 8zm0 33zm0 7zm1-98zm0 2zm0 98zm0 29zm1-168zm0 5zm0 44zm0 12zm0 11zm0 17zm0 8zm0 2zm0 10zm0 2zm0 5zm0 0zm0 2zm0 24zm0 12zm1-136zm0 22zm0 36zm0 13zm0 11zm0 20zm0 0zm0 5zm0 59zm0 12zm0 52zm1-251zm0 148zm1-51zm0 41zm1 6zm1-160zm0 36zm0 38zm0 34zm0 5zm0 9zm0 34zm1-137zm0 69zm0 47zm0 9zm0 4zm0 11zm1-139zm0 29zm0 25zm0 8zm0 26zm0 79zm1-266zm0 97zm0 11zm0 13zm0 0zm0 13zm0 12zm0 25zm0 10zm0 15zm0 4zm0 0zm0 14zm0 10zm0 28zm0 28zm1-123zm0 10zm0 9zm0 57zm0 17zm0 67zm0 22zm1-250zm0 109zm0 1zm0 67zm1-121zm0 8zm0 16zm0 33zm0 12zm0 1zm0 1zm0 28zm0 62zm1-178zm0 17zm0 8zm0 50zm0 9zm0 2zm0 8zm2-88zm0 19zm0 22zm0 41zm0 31zm0 26zm1-202zm0 94zm0 22zm0 19zm0 3zm0 0zm0 12zm0 64zm0 0zm1-241zm0 100zm0 26zm0 35zm0 9zm0 15zm0 0zm0 19zm0 58zm1-184zm0 6zm0 0zm0 3zm0 6zm0 2zm0 19zm0 7zm0 13zm0 0zm0 9zm0 10zm0 0zm0 8zm0 14zm0 6zm0 5zm0 9zm0 38zm0 3zm1-204zm0 39zm0 24zm0 8zm0 6zm0 4zm0 4zm0 26zm0 17zm0 5zm0 5zm0 3zm0 49zm0 40zm0 13zm1-220zm0 24zm0 19zm0 8zm0 3zm0 18zm0 12zm0 13zm0 5zm0 8zm0 46zm0 27zm1-103zm0 1zm0 111zm1-173zm0 35zm0 8zm0 50zm0 84zm1-176zm0 42zm0 8zm0 6zm0 0zm0 16zm0 9zm0 4zm0 17zm0 6zm0 8zm0 12zm0 0zm0 16zm1-130zm0 43zm0 17zm0 26zm0 44zm0 3zm0 16zm0 2zm0 3zm1-290zm0 71zm0 25zm0 6zm0 38zm0 16zm0 0zm0 25zm0 14zm0 2zm0 50zm0 10zm1-146zm0 2zm0 35zm0 8zm0 77zm1-106zm1-28zm0 79zm1-67zm0 25zm0 54zm0 0zm0 16zm0 9zm0 39zm0 2zm0 8zm1-193zm0 48zm0 29zm0 16zm0 22zm0 4zm0 17zm0 45zm1-132zm0 6zm0 30zm0 12zm0 7zm0 9zm0 6zm0 0zm0 13zm0 35zm0 26zm0 18zm1-157zm0 25zm0 6zm0 37zm0 10zm1 1zm1 0zm0 2zm0 4zm1-50zm0 3zm0 38zm1-52zm0 15zm0 26zm0 53zm0 2zm1-204zm0 63zm0 7zm0 0zm0 10zm0 18zm0 1zm0 32zm0 2zm0 32zm0 13zm0 28zm0 8zm1-228zm0 93zm0 20zm0 20zm0 2zm0 14zm0 7zm0 7zm0 0zm0 0zm0 6zm0 9zm0 6zm0 12zm0 19zm0 13zm1-109zm0 83zm0 21zm1-187zm0 70zm0 12zm0 3zm1-37zm0 5zm0 74zm0 3zm0 24zm0 3zm0 7zm0 28zm1-99zm0 34zm0 23zm0 14zm0 11zm0 4zm1-146zm0 98zm0 14zm0 30zm1-107zm0 7zm0 64zm0 31zm1-138zm0 16zm0 17zm0 10zm0 29zm0 1zm0 22zm0 22zm0 110zm1-172zm0 8zm0 32zm0 0zm0 6zm0 31zm0 11zm1-129zm0 22zm0 11zm0 18zm0 7zm0 11zm0 12zm0 0zm0 0zm0 22zm0 12zm0 5zm0 91zm1-211zm0 2zm0 31zm0 0zm0 26zm0 3zm0 1zm0 39zm0 4zm0 2zm0 0zm0 1zm0 10zm0 27zm0 37zm0 82zm1-263zm0 26zm0 8zm0 6zm0 24zm0 2zm0 13zm0 0zm0 13zm0 39zm1-111zm0 8zm0 51zm0 43zm0 45zm1-198zm0 42zm0 20zm0 27zm0 21zm0 0zm0 16zm0 8zm1-60zm0 49zm0 3zm1-95zm0 9zm0 2zm0 10zm0 10zm0 0zm0 6zm0 0zm0 2zm0 12zm0 5zm0 1zm0 5zm0 17zm0 0zm0 0zm0 9zm0 5zm0 2zm0 14zm0 5zm0 2zm0 11zm0 31zm1-145zm0 26zm0 6zm0 6zm0 5zm0 1zm0 2zm0 2zm0 1zm0 17zm0 0zm0 0zm0 0zm0 0zm0 7zm0 3zm0 4zm0 4zm0 0zm0 1zm0 3zm0 0zm0 11zm0 1zm0 1zm0 1zm0 1zm0 3zm0 13zm0 7zm0 1zm0 14zm0 25zm1-227zm0 48zm0 31zm0 22zm0 5zm0 12zm0 9zm0 0zm0 10zm0 1zm0 9zm0 13zm0 62zm1-214zm0 48zm0 27zm0 13zm0 20zm0 4zm0 47zm1-151zm0 43zm0 7zm0 17zm0 3zm0 19zm0 4zm0 1zm0 17zm0 0zm0 16zm0 3zm0 19zm0 1zm0 21zm0 72zm1-240zm0 29zm0 12zm0 19zm0 11zm0 13zm0 12zm0 12zm0 5zm0 0zm0 5zm0 9zm0 15zm0 9zm0 26zm1-148zm0 18zm0 13zm0 0zm0 23zm0 4zm0 4zm0 17zm0 0zm0 13zm1-79zm0 7zm0 107zm0 31zm1-121zm1 42zm0 59zm1-83zm0 11zm0 13zm0 13zm1-201zm0 121zm0 2zm0 95zm0 18zm1-66zm0 45zm0 25zm1-34zm2-97zm0 111zm1-91zm0 28zm0 9zm0 8zm0 14zm0 22zm0 8zm0 40zm0 70zm1-184zm0 18zm0 14zm0 12zm0 22zm1-38zm0 43zm0 13zm3-40zm1-132zm0 144zm0 27zm0 63zm1-181zm0 20zm0 19zm0 40zm0 21zm1-45zm0 6zm0 32zm0 28zm0 5zm0 16zm1-158zm0 24zm0 45zm0 1zm0 3zm0 8zm0 6zm0 26zm0 1zm0 14zm1-173zm0 61zm0 7zm0 48zm0 2zm0 14zm0 8zm0 0zm0 11zm0 3zm0 12zm0 8zm0 10zm0 21zm0 4zm1-164zm0 36zm0 4zm0 10zm0 35zm0 0zm0 3zm0 9zm0 14zm0 63zm1-105zm0 10zm2 39zm2-49zm1-164zm0 146zm0 44zm0 16zm0 77zm1-130zm1-114zm1 72zm0 42zm0 3zm0 23zm0 0zm0 11zm0 0zm0 0zm0 0zm0 10zm0 103zm1-153zm0 3zm0 19zm0 13zm0 5zm0 0zm0 4zm0 14zm0 7zm0 2zm0 10zm0 11zm0 46zm1-142zm0 14zm0 4zm0 7zm0 5zm0 18zm0 38zm0 15zm0 4zm0 8zm0 17zm0 46zm1-204zm0 25zm0 11zm0 40zm1-59zm0 4zm0 7zm0 61zm0 9zm0 9zm0 59zm1-179zm0 46zm0 34zm0 48zm1-12zm1-116zm0 58zm0 9zm0 22zm0 30zm3-52zm0 0zm0 0zm1-35zm0 2zm0 38zm0 0zm0 17zm0 0zm0 0zm0 7zm0 0zm0 4zm0 11zm0 5zm0 27zm0 6zm0 1zm0 2zm1-142zm0 24zm0 3zm0 8zm0 33zm0 2zm0 9zm0 0zm0 15zm0 12zm0 11zm1-112zm0 57zm0 10zm0 7zm0 0zm1-26zm0 18zm0 8zm0 12zm0 5zm0 1zm0 54zm1-159zm0 28zm0 0zm0 19zm0 3zm0 9zm0 2zm0 6zm0 36zm0 11zm0 38zm0 30zm1-58zm0 5zm0 4zm2-68zm0 115zm1-160zm0 18zm0 9zm0 10zm0 14zm0 16zm0 0zm0 6zm0 14zm1-99zm0 9zm0 5zm0 17zm0 8zm0 7zm0 11zm0 2zm0 4zm0 1zm0 15zm0 18zm0 7zm0 23zm0 31zm0 19zm1-204zm0 49zm0 45zm0 12zm0 6zm0 12zm0 61zm1-132zm1 93zm1-110zm0 56zm0 14zm1-69zm0 117zm0 113zm1-243zm0 82zm0 40zm0 44zm1-23zm1-133zm0 72zm0 33zm0 1zm0 8zm1-157zm0 85zm0 2zm0 6zm0 0zm0 12zm0 10zm0 10zm0 4zm0 10zm0 3zm0 7zm0 45zm1-127zm0 8zm0 10zm0 2zm0 28zm0 0zm0 14zm0 9zm0 1zm0 22zm0 21zm0 6zm1-93zm0 20zm0 22zm1-22zm0 21zm1-24zm3 33zm1 60zm1-182zm1 13zm0 63zm0 16zm0 124zm1-194zm0 36zm1 61zm1 0zm2-88zm1-49zm0 45zm0 65zm0 14zm0 4zm0 0zm0 9zm0 7zm1-65zm0 12zm0 36zm3-91zm1 101zm0 24zm0 28zm1-150zm0 3zm0 3zm0 19zm0 24zm0 32zm0 15zm0 28zm0 2zm1-79zm0 6zm0 36zm2-54zm1 12zm0 16zm0 8zm0 0zm0 60zm0 154zm1-306zm0 47zm7 121zm1-187zm0 85zm0 6zm0 8zm0 12zm0 29zm1-148zm0 75zm0 7zm0 0zm0 18zm0 19zm0 0zm0 6zm0 4zm0 8zm0 4zm0 84zm0 2zm1-187zm0 0zm0 7zm0 7zm0 2zm0 15zm0 35zm0 1zm0 6zm0 6zm0 18zm0 0zm0 4zm0 1zm1-153zm0 11zm0 49zm0 16zm0 17zm0 12zm0 8zm0 3zm0 4zm0 23zm0 0zm0 1zm0 7zm0 34zm0 24zm1-158zm0 0zm0 20zm0 25zm0 12zm0 7zm0 15zm0 6zm0 10zm0 6zm0 5zm0 3zm0 1zm0 11zm0 44zm1-214zm0 9zm0 40zm0 0zm0 34zm0 15zm0 30zm0 9zm0 5zm0 8zm0 8zm0 1zm0 3zm0 14zm0 0zm0 31zm0 16zm1-223zm0 69zm0 2zm0 15zm0 16zm0 4zm0 4zm0 6zm0 6zm0 12zm0 1zm0 72zm0 56zm1-230zm0 4zm0 25zm0 50zm0 5zm0 5zm0 2zm0 2zm0 2zm0 5zm0 3zm0 14zm0 16zm0 6zm0 4zm0 0zm0 5zm0 2zm0 24zm0 8zm0 61zm1-267zm0 60zm0 15zm0 2zm0 16zm0 0zm0 4zm0 8zm0 14zm0 0zm0 0zm0 5zm0 17zm0 3zm0 2zm0 7zm0 0zm0 14zm0 19zm1-151zm0 25zm0 11zm0 6zm0 12zm0 4zm0 0zm0 3zm0 3zm0 1zm0 1zm0 1zm0 1zm0 4zm0 5zm0 2zm0 5zm0 0zm0 0zm0 3zm0 15zm0 4zm0 2zm0 1zm0 5zm0 10zm0 4zm0 16zm0 2zm0 0zm0 3zm0 11zm0 58zm1-238zm0 25zm0 17zm0 1zm0 2zm0 9zm0 8zm0 8zm0 9zm0 19zm0 16zm0 3zm0 0zm0 7zm0 2zm0 3zm0 2zm0 4zm0 12zm0 5zm0 3zm0 17zm0 22zm0 5zm0 3zm0 0zm1-200zm0 54zm0 22zm0 8zm0 10zm0 19zm0 5zm0 6zm0 38zm0 8zm0 27zm1-148zm0 0zm0 1zm0 7zm0 28zm0 12zm0 22zm0 35zm1-126zm0 19zm0 16zm0 10zm0 10zm0 19zm0 0zm0 32zm0 3zm0 23zm1-166zm0 32zm0 6zm0 11zm0 14zm0 7zm0 7zm0 9zm0 13zm0 9zm0 0zm0 7zm0 0zm0 2zm0 13zm0 16zm0 2zm0 5zm0 52zm1-183zm0 50zm0 2zm0 8zm0 8zm0 4zm0 14zm0 0zm0 10zm0 4zm0 10zm0 16zm0 8zm0 0zm0 35zm0 12zm1-135zm0 22zm0 9zm1 9zm0 4zm1-75zm0 23zm0 4zm0 1zm0 20zm0 6zm0 6zm0 3zm0 8zm0 0zm0 11zm0 37zm0 12zm0 5zm0 4zm0 3zm1-241zm0 47zm0 24zm0 19zm0 0zm0 14zm0 6zm0 4zm0 5zm0 2zm0 7zm0 15zm0 12zm0 1zm0 13zm0 0zm0 8zm0 3zm0 11zm0 3zm0 2zm0 1zm0 10zm0 1zm0 9zm1-116zm0 0zm0 1zm0 8zm0 21zm0 23zm0 1zm0 14zm0 0zm0 0zm0 13zm0 14zm0 13zm0 8zm0 6zm0 6zm0 0zm0 4zm1-162zm0 53zm0 17zm0 10zm0 3zm0 15zm0 14zm0 8zm0 0zm0 5zm0 2zm0 9zm0 54zm0 1zm0 9zm1-161zm0 11zm0 34zm0 0zm0 38zm0 10zm0 0zm0 0zm0 6zm0 2zm1-142zm0 45zm0 21zm0 11zm0 4zm0 3zm0 16zm0 0zm0 0zm0 16zm0 18zm0 7zm0 2zm0 10zm0 4zm0 3zm0 4zm0 3zm0 41zm0 41zm1-314zm0 27zm0 63zm0 16zm0 11zm0 6zm0 8zm0 12zm0 4zm0 1zm0 1zm0 3zm0 8zm0 27zm0 22zm0 9zm0 10zm0 6zm0 18zm0 42zm0 32zm0 21zm1-252zm0 5zm0 6zm0 3zm0 16zm0 8zm0 12zm0 2zm0 0zm0 18zm0 0zm0 0zm0 14zm0 65zm0 11zm0 62zm1-221zm0 10zm0 11zm0 10zm0 14zm0 6zm0 3zm0 6zm0 9zm0 0zm0 0zm0 8zm0 1zm0 11zm0 5zm0 13zm0 8zm0 2zm0 0zm0 4zm0 6zm0 7zm0 7zm0 0zm0 23zm1-178zm0 15zm0 3zm0 28zm0 11zm0 38zm0 15zm0 13zm0 25zm0 18zm1-134zm0 3zm0 7zm0 10zm0 31zm0 0zm0 27zm0 30zm0 6zm1-240zm0 151zm0 4zm0 22zm0 0zm0 0zm0 10zm0 14zm0 19zm0 7zm0 10zm1-192zm0 92zm0 23zm0 17zm0 0zm0 25zm0 46zm0 36zm1-155zm0 11zm0 17zm0 4zm0 38zm0 0zm0 12zm0 8zm0 21zm1-158zm0 73zm1-26zm0 0zm0 0zm0 41zm0 46zm0 1zm0 23zm1-122zm0 30zm0 15zm0 14zm0 102zm1-189zm0 2zm0 6zm0 10zm0 10zm0 5zm0 10zm0 2zm0 0zm0 8zm0 6zm0 5zm0 1zm0 16zm0 2zm0 4zm0 0zm0 3zm0 1zm0 5zm0 7zm0 7zm0 35zm0 25zm0 16zm0 25zm1-250zm0 15zm0 32zm0 0zm0 14zm0 1zm0 5zm0 2zm0 5zm0 9zm0 9zm0 0zm0 7zm0 7zm0 2zm0 4zm0 3zm0 2zm0 9zm0 0zm0 0zm0 0zm0 10zm0 4zm0 4zm0 12zm0 4zm0 4zm0 5zm0 5zm0 6zm0 1zm0 3zm0 8zm0 13zm0 4zm0 4zm1-166zm0 0zm0 46zm0 33zm0 13zm0 9zm0 5zm0 0zm0 92zm1-128zm0 9zm0 0zm0 13zm0 5zm0 40zm0 2zm0 59zm0 87zm1-285zm0 0zm0 26zm0 13zm0 14zm0 36zm0 6zm0 2zm0 2zm0 9zm0 4zm0 6zm0 1zm0 16zm0 91zm1-235zm0 9zm0 38zm0 3zm0 4zm0 3zm0 3zm0 11zm0 6zm0 11zm0 0zm0 5zm0 12zm1-102zm0 15zm0 29zm0 3zm0 7zm0 5zm0 20zm0 6zm0 0zm0 36zm0 3zm0 2zm0 2zm0 10zm0 54zm0 1zm1-183zm0 13zm0 14zm0 0zm0 48zm0 8zm0 4zm0 15zm0 16zm0 29zm0 7zm1-249zm0 98zm0 9zm0 56zm0 1zm0 12zm0 14zm0 20zm0 0zm0 10zm0 1zm0 4zm0 8zm0 1zm0 10zm1-91zm0 37zm0 67zm0 8zm0 7zm1-170zm0 46zm0 22zm0 79zm1-128zm0 27zm0 40zm0 9zm0 5zm0 36zm0 5zm0 53zm1-205zm0 6zm0 10zm0 53zm0 10zm0 0zm0 22zm0 5zm0 11zm0 81zm1-211zm0 63zm0 7zm0 22zm0 24zm1-72zm0 22zm0 35zm0 43zm0 16zm0 15zm1-162zm0 27zm0 11zm0 27zm0 14zm0 0zm0 27zm0 46zm1-130zm0 9zm0 30zm0 18zm0 23zm0 6zm0 50zm1-164zm0 17zm0 3zm0 15zm0 2zm0 10zm0 1zm0 12zm0 3zm0 5zm0 17zm0 6zm0 4zm0 11zm0 13zm0 15zm0 11zm1-146zm0 7zm0 9zm0 18zm0 2zm0 30zm0 20zm0 13zm0 14zm0 38zm0 75zm1-221zm0 2zm0 3zm0 35zm0 4zm0 21zm0 4zm0 2zm0 10zm0 11zm0 6zm0 14zm0 3zm0 5zm0 1zm1-154zm0 49zm0 40zm0 1zm0 10zm0 5zm0 5zm0 4zm0 18zm0 0zm0 1zm0 8zm0 17zm0 8zm0 1zm0 7zm0 4zm0 11zm0 20zm0 0zm1-139zm0 18zm0 0zm0 17zm0 9zm0 3zm0 6zm0 13zm0 3zm0 2zm0 77zm0 13zm1-158zm0 1zm0 14zm0 48zm0 26zm1 8zm17-51zm1-27zm2 22zm0 10zm0 30zm0 49zm1-168zm0 16zm0 21zm0 5zm0 19zm0 4zm0 2zm0 0zm0 5zm0 7zm0 7zm0 36zm0 5zm0 0zm0 1zm0 30zm1-174zm0 40zm0 14zm0 27zm0 14zm0 0zm0 0zm0 8zm0 4zm0 1zm0 11zm0 3zm0 0zm0 21zm0 9zm0 3zm0 16zm0 64zm1-239zm0 8zm0 12zm0 0zm0 17zm0 14zm0 4zm0 1zm0 3zm0 9zm0 5zm0 8zm0 4zm0 14zm0 0zm0 27zm0 5zm0 6zm0 14zm0 3zm0 9zm0 1zm0 48zm0 6zm1-189zm0 33zm0 33zm0 18zm0 51zm1-81zm0 66zm1-67zm0 1zm0 16zm0 40zm0 20zm0 68zm1-183zm0 73zm1-109zm0 32zm0 25zm0 97zm1-63zm1 29zm0 50zm1-105zm0 74zm1-90zm1 116zm1-217zm0 64zm0 26zm0 69zm1-22zm0 12zm0 12zm1-146zm0 66zm0 42zm0 9zm0 65zm1-95zm0 16zm0 36zm0 3zm0 4zm0 4zm0 11zm0 1zm0 9zm0 22zm1-144zm0 17zm0 18zm0 22zm0 0zm0 4zm0 18zm0 18zm0 1zm1-61zm0 64zm1-181zm0 80zm0 55zm0 2zm0 0zm0 44zm0 0zm0 8zm0 15zm1-93zm0 10zm0 16zm0 74zm0 10zm0 17zm1-57zm0 57zm1-23zm1-67zm0 84zm1-25zm1-70zm0 22zm0 42zm0 6zm1-55zm0 52zm1-153zm0 128zm0 59zm1-167zm0 18zm0 3zm0 5zm0 40zm0 101zm1-167zm0 5zm0 20zm0 3zm0 38zm0 8zm0 4zm0 10zm0 0zm0 51zm0 6zm0 3zm1-203zm0 44zm0 81zm0 18zm0 0zm0 36zm0 4zm0 8zm0 9zm0 3zm0 11zm1-202zm0 37zm0 15zm0 0zm0 31zm0 64zm0 18zm0 5zm1-102zm0 29zm1-25zm0 16zm0 43zm0 3zm1-57zm0 33zm0 39zm0 4zm0 41zm0 1zm0 41zm1-173zm0 13zm0 2zm0 7zm0 8zm0 8zm0 44zm0 13zm0 7zm0 9zm1-69zm0 6zm0 25zm0 13zm1-97zm1 73zm0 33zm12-103zm0 50zm0 50zm0 3zm0 1zm0 0zm1-54zm0 26zm0 36zm0 30zm4-52zm0 31zm1-104zm0 16zm0 43zm0 0zm0 6zm0 10zm0 63zm1-88zm1-25zm0 47zm1-13zm0 27zm0 79zm4-156zm0 16zm0 17zm0 17zm1-13zm1-22zm0 13zm0 36zm1-73zm1 33zm0 39zm0 18zm0 17zm0 65zm1-147zm0 12zm0 29zm0 35zm2-72zm1 14zm0 29zm0 14zm1-110zm0 20zm0 34zm0 7zm0 6zm0 5zm0 40zm1-194zm0 131zm0 34zm0 28zm0 11zm0 28zm0 0zm0 35zm1-157zm0 2zm0 13zm0 4zm0 14zm0 44zm0 34zm0 4zm1-94zm0 34zm2 15zm2-71zm0 4zm0 120zm1-140zm0 13zm0 25zm0 52zm0 6zm0 5zm0 4zm0 12zm0 3zm1-26zm0 5zm1-27zm1-28zm0 0zm0 3zm0 16zm0 0zm0 25zm0 44zm0 2zm1 7zm0 50zm11-149zm0 119zm1-155zm0 32zm0 15zm0 39zm0 2zm0 18zm0 39zm0 6zm1-85zm0 14zm0 46zm0 12zm1-123zm0 3zm0 14zm0 74zm0 5zm0 50zm1-117zm0 10zm0 12zm0 11zm0 37zm0 47zm1-159zm0 27zm0 5zm0 21zm0 11zm0 11zm0 11zm0 5zm0 52zm1-121zm0 2zm0 6zm0 22zm0 12zm0 12zm0 1zm0 1zm0 6zm0 14zm0 26zm0 19zm1-192zm0 50zm0 39zm0 2zm0 22zm0 9zm0 1zm0 33zm0 100zm1-226zm0 71zm0 12zm0 34zm0 14zm0 7zm1-127zm0 22zm0 27zm0 14zm0 9zm0 12zm0 11zm0 3zm0 8zm0 6zm0 4zm0 4zm0 17zm0 22zm0 32zm1-191zm0 6zm0 26zm0 14zm0 22zm0 4zm0 35zm0 30zm0 30zm1-174zm0 27zm0 3zm0 15zm0 26zm0 0zm0 19zm1-81zm0 0zm0 54zm0 2zm0 14zm0 8zm0 5zm0 18zm0 17zm1-85zm0 0zm0 2zm0 13zm0 10zm0 34zm0 0zm0 5zm0 11zm0 29zm0 12zm1-148zm0 83zm0 18zm0 21zm1-204zm0 72zm0 17zm0 14zm0 20zm0 11zm0 12zm0 24zm0 7zm0 16zm0 77zm1-198zm0 14zm0 0zm0 40zm0 35zm0 12zm0 2zm0 3zm0 7zm0 6zm0 4zm1-101zm0 16zm0 7zm0 10zm0 7zm0 17zm0 12zm0 2zm0 46zm0 0zm0 42zm1-184zm0 54zm0 17zm0 1zm0 6zm0 4zm0 0zm0 8zm0 21zm0 23zm1-131zm0 24zm0 115zm1-112zm0 62zm0 7zm1-41zm0 2zm0 0zm0 141zm1-184zm0 6zm0 11zm0 10zm0 3zm0 4zm0 11zm0 2zm0 0zm0 4zm0 5zm0 2zm0 7zm0 4zm0 9zm0 28zm0 7zm0 65zm1-161zm0 32zm0 12zm0 0zm0 4zm0 18zm0 24zm0 52zm1-118zm0 24zm0 10zm0 8zm0 7zm0 35zm1-145zm0 26zm0 11zm0 18zm0 21zm0 1zm0 8zm0 15zm0 1zm0 0zm0 2zm0 27zm0 3zm0 0zm0 12zm1-222zm0 88zm0 45zm0 4zm0 3zm0 22zm0 3zm0 19zm0 2zm0 3zm0 3zm0 2zm0 10zm0 1zm0 0zm0 5zm0 12zm0 5zm1-208zm0 68zm0 16zm0 21zm0 14zm0 10zm0 0zm0 4zm0 1zm0 9zm0 3zm0 21zm0 3zm0 3zm0 8zm0 2zm0 1zm0 19zm0 4zm0 44zm1-231zm0 25zm0 50zm0 30zm0 18zm0 21zm0 74zm1-137zm0 24zm0 32zm1-105zm0 36zm0 87zm0 5zm1-106zm0 3zm0 18zm0 14zm0 13zm0 13zm0 48zm1-77zm0 6zm0 1zm0 11zm0 10zm0 3zm0 17zm0 13zm0 11zm0 5zm0 52zm1-200zm0 6zm0 23zm0 16zm0 4zm0 16zm0 7zm0 10zm0 4zm0 4zm0 32zm0 8zm0 6zm0 20zm0 7zm1-155zm0 61zm0 8zm0 31zm0 0zm0 4zm0 6zm0 8zm0 9zm0 29zm1-60zm0 8zm0 12zm0 11zm0 75zm1-195zm0 28zm0 56zm0 9zm0 42z" stroke="#1f77b4" stroke-width="7.4"/>
</g>
<line x1="103.5" x2="1501" y1="1738.8" y2="1738.8" stroke="#f6a935" stroke-width="1.7" stroke-dasharray="5.9 2.7"/><line x1="103.5" x2="1501" y1="1755.3" y2="1755.3" stroke="#f6a935" stroke-width="1.7" stroke-dasharray="5.9 2.7"/><line x1="103.5" x2="1501" y1="1787.6" y2="1787.6" stroke="#f6a935" stroke-width="1.7" stroke-dasharray="5.9 2.7"/><line x1="103.5" x2="1501" y1="1820.0" y2="1820.0" stroke="#f6a935" stroke-width="1.7" stroke-dasharray="5.9 2.7"/><line x1="103.5" x2="1501" y1="1836.5" y2="1836.5" stroke="#f6a935" stroke-width="1.7" stroke-dasharray="5.9 2.7"/>
<path d="M103.9 1787.6H162.3M173.0 1787.6H371.3M377.0 1787.6H378.4M384.7 1787.6H387.6M391.2 1787.6H416.8M423.1 1787.6H436.7M439.6 1787.6H461.6M464.2 1787.6H470.4M473.1 1787.6H475.5M479.0 1787.6H493.0M496.7 1787.6H551.7M555.6 1787.6H641.3M644.3 1787.6H726.6M731.5 1787.6H796.5M801.5 1787.6H806.5M809.3 1787.6H811.9M815.3 1787.6H831.6M835.4 1787.6H870.5M886.7 1787.6H932.5M935.7 1787.6H936.0M939.0 1787.6H1007.1M1011.6 1787.6H1067.9M1071.0 1787.6H1089.7M1093.1 1787.6H1115.6M1125.6 1787.6H1140.8M1150.6 1787.6H1154.5M1160.4 1787.6H1171.0M1180.3 1787.6H1223.0M1233.1 1787.6H1290.7M1296.1 1787.6H1300.6M1303.2 1787.6H1390.5M1394.9 1787.6H1423.2M1432.6 1787.6H1453.3M1459.6 1787.6H1476.3M1482.4 1787.6H1500.8" stroke="#984ea3" stroke-width="4.1" stroke-linecap="round" fill="none"/>
<path d="M224.4 1656.6V1918.3M341.8 1656.6V1918.3M437.5 1656.6V1918.3M530.7 1656.6V1918.3M618.2 1656.6V1918.3M702.0 1656.6V1918.3M779.5 1656.6V1918.3M850.5 1656.6V1918.3M918.6 1656.6V1918.3M984.6 1656.6V1918.3M1051.0 1656.6V1918.3M1116.0 1656.6V1918.3M1171.6 1656.6V1918.3M1223.5 1656.6V1918.3M1273.4 1656.6V1918.3M1317.1 1656.6V1918.3M1356.2 1656.6V1918.3M1394.4 1656.6V1918.3M1423.3 1656.6V1918.3M1453.9 1656.6V1918.3M1477.2 1656.6V1918.3" stroke="#8e519f" stroke-width="1.9" fill="none"/>
<text x="163.9" y="1683.0" font-size="13" text-anchor="middle" fill="#9d5fae">1</text><text x="283.1" y="1683.0" font-size="13" text-anchor="middle" fill="#9d5fae">2</text><text x="389.6" y="1683.0" font-size="13" text-anchor="middle" fill="#9d5fae">3</text><text x="484.1" y="1683.0" font-size="13" text-anchor="middle" fill="#9d5fae">4</text><text x="574.5" y="1683.0" font-size="13" text-anchor="middle" fill="#9d5fae">5</text><text x="660.1" y="1683.0" font-size="13" text-anchor="middle" fill="#9d5fae">6</text><text x="740.8" y="1683.0" font-size="13" text-anchor="middle" fill="#9d5fae">7</text><text x="815.0" y="1683.0" font-size="13" text-anchor="middle" fill="#9d5fae">8</text><text x="884.5" y="1683.0" font-size="13" text-anchor="middle" fill="#9d5fae">9</text><text x="951.6" y="1683.0" font-size="13" text-anchor="middle" fill="#9d5fae">10</text><text x="1017.8" y="1683.0" font-size="13" text-anchor="middle" fill="#9d5fae">11</text><text x="1083.5" y="1683.0" font-size="13" text-anchor="middle" fill="#9d5fae">12</text><text x="1143.8" y="1683.0" font-size="13" text-anchor="middle" fill="#9d5fae">13</text><text x="1197.5" y="1683.0" font-size="13" text-anchor="middle" fill="#9d5fae">14</text><text x="1248.5" y="1683.0" font-size="13" text-anchor="middle" fill="#9d5fae">15</text><text x="1295.2" y="1683.0" font-size="13" text-anchor="middle" fill="#9d5fae">16</text><text x="1336.7" y="1683.0" font-size="13" text-anchor="middle" fill="#9d5fae">17</text><text x="1375.3" y="1683.0" font-size="13" text-anchor="middle" fill="#9d5fae">18</text><text x="1408.8" y="1683.0" font-size="13" text-anchor="middle" fill="#9d5fae">19</text><text x="1438.6" y="1683.0" font-size="13" text-anchor="middle" fill="#9d5fae">20</text><text x="1465.6" y="1683.0" font-size="13" text-anchor="middle" fill="#9d5fae">21</text><text x="1489.1" y="1683.0" font-size="13" text-anchor="middle" fill="#9d5fae">22</text>
<rect x="103.5" y="1656.6" width="1397.5" height="261.7" fill="none" stroke="#3a3a3a" stroke-width="1.4"/>
<line x1="98.5" x2="103.5" y1="1906.7" y2="1906.7" stroke="#3a3a3a" stroke-width="1.2"/><text x="92.0" y="1911.4" font-size="12.8" text-anchor="end" fill="#262626">0.0</text><line x1="98.5" x2="103.5" y1="1859.1" y2="1859.1" stroke="#3a3a3a" stroke-width="1.2"/><text x="92.0" y="1863.8" font-size="12.8" text-anchor="end" fill="#262626">0.2</text><line x1="98.5" x2="103.5" y1="1811.5" y2="1811.5" stroke="#3a3a3a" stroke-width="1.2"/><text x="92.0" y="1816.2" font-size="12.8" text-anchor="end" fill="#262626">0.4</text><line x1="98.5" x2="103.5" y1="1763.8" y2="1763.8" stroke="#3a3a3a" stroke-width="1.2"/><text x="92.0" y="1768.5" font-size="12.8" text-anchor="end" fill="#262626">0.6</text><line x1="98.5" x2="103.5" y1="1716.2" y2="1716.2" stroke="#3a3a3a" stroke-width="1.2"/><text x="92.0" y="1720.9" font-size="12.8" text-anchor="end" fill="#262626">0.8</text><line x1="98.5" x2="103.5" y1="1668.6" y2="1668.6" stroke="#3a3a3a" stroke-width="1.2"/><text x="92.0" y="1673.3" font-size="12.8" text-anchor="end" fill="#262626">1.0</text>
<text transform="translate(62 1788.9) rotate(-90)" font-size="13.8" text-anchor="middle" fill="#262626">ASE (normal)</text>
<text x="1500" y="1934.3" font-size="13.6" text-anchor="end" fill="#262626">1e9</text>
</g>
<g><rect x="103.5" y="1932.6" width="1397.5" height="261.7" fill="#fff"/>
<g transform="translate(103.5 1932.6) scale(.5)" fill="none" stroke-linecap="round">
<path d="M1076 258zm4-54zm1 43zm2-12zm0 64zm0 17zm1-88zm1 51zm1-18zm0 4zm0 8zm0 24zm1-68zm0 31zm0 5zm0 31zm1-24zm1 7zm1-68zm0 100zm2-56zm1-15zm0 9zm0 10zm1-54zm0 49zm0 3zm0 1zm0 16zm0 1zm1-48zm0 23zm0 0zm0 36zm1-43zm0 13zm0 3zm0 7zm0 11zm0 14zm0 4zm1-98zm0 37zm0 1zm0 42zm0 9zm0 14zm1-83zm0 2zm0 37zm0 3zm0 3zm0 11zm0 18zm0 11zm1-62zm0 18zm0 8zm0 2zm0 4zm0 9zm0 1zm0 3zm0 31zm1-136zm0 41zm0 14zm0 2zm0 10zm0 19zm0 3zm0 5zm0 4zm0 12zm0 9zm0 12zm0 17zm1-111zm0 44zm0 28zm0 20zm1-91zm0 48zm0 7zm0 82zm1-118zm0 20zm0 2zm0 23zm1-78zm0 33zm0 7zm1 14zm2-17zm0 25zm0 12zm0 5zm1-4zm0 16zm1-97zm0 33zm0 5zm0 9zm0 9zm0 5zm0 1zm0 8zm0 12zm1-32zm0 3zm0 27zm0 2zm0 25zm1-50zm0 6zm0 7zm1-51zm0 11zm0 12zm0 42zm0 3zm0 12zm1-14zm0 45zm1-133zm0 65zm0 15zm0 23zm0 12zm1-66zm0 78zm1-68zm0 26zm1-37zm0 5zm0 8zm0 13zm0 36zm1-60zm0 0zm1-36zm0 22zm0 14zm0 10zm0 8zm0 54zm1-131zm0 46zm0 34zm0 7zm0 16zm1-84zm1 11zm1 32zm0 10zm0 22zm1-63zm0 9zm0 12zm0 24zm0 18zm1-31zm1 14zm1-28zm1 9zm0 11zm1-29zm0 3zm0 19zm0 21zm1 39zm1-55zm0 20zm0 16zm1-110zm0 24zm0 31zm0 9zm0 4zm0 2zm0 12zm0 10zm0 5zm0 5zm0 15zm0 6zm1-59zm0 6zm0 1zm0 1zm0 8zm0 1zm0 13zm0 0zm0 16zm0 19zm1-109zm0 29zm0 5zm0 1zm0 4zm0 1zm0 14zm0 0zm0 1zm0 7zm0 6zm0 2zm0 1zm0 14zm0 9zm0 6zm0 3zm0 5zm0 5zm0 1zm1-69zm0 12zm0 10zm0 3zm0 17zm0 1zm0 23zm1-106zm0 23zm0 32zm0 7zm0 6zm0 1zm0 4zm0 9zm1-43zm1 26zm1-8zm1-83zm0 47zm0 32zm0 5zm0 0zm0 0zm0 81zm1-144zm0 28zm0 38zm0 3zm0 3zm0 7zm0 8zm1-77zm0 7zm0 19zm0 17zm0 4zm0 34zm1-81zm0 1zm0 1zm0 4zm0 28zm0 4zm0 5zm0 9zm0 1zm0 9zm0 2zm0 1zm0 1zm0 2zm0 2zm0 6zm0 6zm0 3zm0 31zm1-114zm0 11zm0 1zm0 3zm0 0zm0 6zm0 11zm0 12zm0 8zm0 0zm0 1zm0 1zm0 1zm0 14zm0 2zm0 1zm0 3zm0 7zm0 1zm0 9zm1-69zm0 11zm0 6zm0 10zm0 3zm0 5zm0 23zm0 17zm1-83zm0 3zm0 1zm0 29zm0 21zm0 3zm1-66zm0 44zm0 17zm0 4zm0 5zm0 18zm1-81zm0 10zm0 12zm0 22zm0 11zm0 17zm0 12zm1-86zm0 3zm0 6zm0 5zm0 16zm0 25zm0 80zm1-157zm0 32zm0 13zm0 3zm0 7zm0 12zm0 1zm0 1zm0 87zm1-137zm0 3zm0 40zm0 3zm0 0zm0 5zm0 20zm0 18zm0 7zm1-69zm0 17zm0 13zm0 2zm0 20zm0 3zm0 13zm1-89zm0 26zm0 37zm0 10zm0 13zm0 22zm1-88zm0 24zm0 12zm1-13zm1-60zm0 6zm0 9zm0 9zm0 9zm0 4zm0 3zm0 31zm1-49zm0 2zm0 6zm0 18zm0 2zm0 37zm0 34zm1-120zm0 81zm0 11zm1-89zm0 14zm1 9zm0 21zm0 3zm0 1zm0 50zm1-107zm0 29zm0 1zm0 2zm0 4zm0 2zm0 9zm0 13zm0 11zm0 3zm1-78zm0 22zm0 4zm0 10zm0 10zm0 0zm0 1zm0 8zm0 12zm0 12zm0 2zm0 10zm0 2zm1-57zm0 33zm0 36zm0 7zm1-115zm0 53zm0 2zm0 7zm0 0zm0 52zm1-89zm0 27zm0 1zm0 2zm0 8zm0 17zm0 4zm0 9zm0 1zm1-130zm0 86zm0 9zm0 10zm0 18zm1-55zm0 14zm0 1zm0 18zm0 7zm0 9zm0 2zm0 23zm1-125zm0 53zm0 8zm0 1zm0 11zm0 1zm0 4zm0 3zm0 5zm0 3zm0 6zm0 6zm0 3zm0 2zm0 2zm0 0zm0 0zm0 11zm0 12zm1-100zm0 22zm0 0zm0 10zm0 3zm0 9zm0 13zm0 2zm0 5zm0 7zm0 2zm0 4zm0 9zm0 3zm0 8zm0 9zm0 57zm1-166zm0 18zm0 7zm0 22zm0 12zm0 1zm0 4zm0 3zm0 5zm0 1zm0 10zm0 12zm0 22zm0 39zm1-148zm0 58zm0 3zm1-38zm0 6zm0 35zm1-59zm0 22zm0 14zm0 7zm0 4zm0 1zm0 5zm0 7zm0 7zm0 23zm1-179zm0 105zm0 7zm0 11zm0 1zm0 9zm0 5zm0 1zm0 1zm0 0zm0 4zm0 18zm0 5zm0 19zm0 7zm0 15zm1-142zm0 3zm0 22zm0 17zm0 1zm0 14zm0 19zm0 3zm0 3zm0 7zm0 10zm0 21zm0 1zm0 66zm1-168zm0 22zm0 4zm0 5zm0 4zm0 22zm0 33zm1-88zm0 72zm0 6zm1-24zm1-51zm0 9zm0 10zm0 10zm0 0zm0 6zm0 3zm0 32zm1-81zm0 6zm0 32zm0 13zm0 1zm0 5zm0 26zm0 7zm1-47zm1-5zm0 8zm0 2zm0 8zm0 23zm0 4zm0 5zm0 4zm1-38zm0 9zm0 4zm0 2zm0 24zm1-134zm0 39zm0 60zm1-39zm0 10zm0 11zm0 0zm0 16zm0 18zm0 11zm0 8zm0 6zm0 20zm0 0zm1-74zm0 3zm0 6zm0 18zm0 4zm1-92zm0 54zm0 9zm0 3zm0 43zm0 20zm0 1zm0 25zm1-163zm0 6zm0 7zm0 49zm0 2zm0 0zm0 12zm0 11zm0 1zm0 0zm0 6zm0 6zm0 5zm0 10zm0 10zm0 45zm1-115zm0 5zm0 12zm0 13zm0 30zm0 2zm1 60zm1-115zm0 30zm0 24zm1-49zm1-28zm0 3zm0 9zm0 25zm0 11zm1-65zm0 1zm0 43zm0 5zm0 4zm0 12zm0 0zm0 11zm0 1zm0 5zm0 22zm1-127zm0 67zm0 13zm0 3zm0 5zm0 1zm0 9zm0 1zm0 49zm1-87zm0 47zm0 7zm1-68zm0 16zm0 1zm0 22zm1-26zm495 8zm1-34zm1-21zm0 34zm0 4zm0 0zm0 10zm0 12zm0 4zm0 60zm0 64zm1-259zm0 68zm0 17zm0 13zm0 1zm0 0zm0 4zm0 3zm0 0zm0 1zm0 31zm0 10zm0 16zm0 2zm0 0zm0 19zm0 4zm1-95zm0 1zm0 3zm0 10zm0 35zm0 4zm0 2zm0 12zm0 14zm0 5zm0 14zm0 0zm1-150zm0 9zm0 57zm0 3zm0 16zm0 4zm0 9zm0 62zm1-137zm0 19zm0 19zm0 13zm0 11zm0 7zm0 16zm0 4zm0 6zm0 9zm0 3zm0 9zm1-116zm0 20zm0 10zm0 7zm0 2zm0 0zm0 6zm0 2zm0 1zm0 12zm0 8zm0 15zm0 2zm0 4zm0 1zm0 13zm0 9zm0 5zm0 0zm0 9zm0 0zm0 16zm0 7zm0 7zm1-122zm0 4zm0 2zm0 7zm0 7zm0 2zm0 5zm0 3zm0 12zm0 5zm0 1zm0 6zm0 8zm0 10zm0 1zm0 16zm0 2zm0 7zm0 28zm1-208zm0 51zm0 1zm0 15zm0 5zm0 1zm0 11zm0 19zm0 45zm0 5zm0 25zm0 13zm1-106zm0 25zm0 9zm0 19zm0 7zm0 7zm1-60zm0 3zm0 35zm2-80zm0 58zm0 13zm1-81zm0 21zm0 17zm0 0zm0 15zm0 5zm0 98zm1-166zm0 36zm0 18zm0 5zm0 15zm0 2zm0 1zm0 22zm0 7zm1-96zm0 0zm0 9zm0 25zm0 3zm0 10zm0 14zm0 1zm0 1zm0 5zm0 8zm0 5zm0 0zm0 15zm0 0zm0 6zm0 6zm0 8zm0 2zm0 0zm0 10zm1-129zm0 19zm0 2zm0 8zm0 13zm0 3zm0 3zm0 15zm0 62zm1-88zm0 3zm0 1zm0 12zm0 29zm0 8zm0 7zm0 19zm1-77zm0 1zm0 1zm0 12zm0 1zm0 27zm0 0zm0 1zm0 16zm0 10zm0 2zm1-54zm0 59zm0 15zm0 8zm1-92zm0 50zm0 5zm0 27zm1-100zm0 1zm0 16zm0 28zm0 30zm0 18zm0 6zm0 1zm1-202zm0 124zm0 7zm0 8zm0 16zm0 20zm0 0zm0 102zm1-149zm0 13zm0 7zm0 3zm0 5zm0 3zm0 17zm0 4zm0 6zm0 5zm0 35zm1-122zm0 2zm0 5zm0 8zm0 22zm0 22zm0 1zm0 7zm0 16zm1-83zm0 10zm0 11zm0 17zm0 9zm0 23zm0 17zm0 14zm1-79zm0 44zm0 1zm0 3zm0 2zm0 23zm1-127zm0 51zm0 26zm1 124zm1-165zm0 3zm0 12zm0 54zm1-104zm0 20zm0 4zm0 55zm0 50zm0 1zm0 2zm0 7zm1-158zm0 48zm0 4zm0 12zm0 35zm0 2zm0 1zm0 1zm0 2zm0 4zm0 15zm0 2zm0 1zm0 31zm0 50zm1-169zm0 15zm0 3zm0 1zm0 22zm0 10zm0 24zm0 35zm0 8zm1-102zm0 36zm0 1zm0 30zm0 44zm1-137zm0 58zm0 9zm0 12zm0 1zm0 7zm0 5zm0 3zm0 41zm0 16zm1-101zm0 2zm0 6zm0 8zm0 0zm0 3zm0 1zm0 31zm0 34zm0 0zm0 30zm1-211zm0 67zm0 33zm0 17zm0 8zm1-51zm0 107zm2-78zm1-4zm0 9zm0 8zm0 13zm0 5zm1-58zm0 12zm0 38zm0 38zm1-89zm0 54zm0 42zm1-131zm0 16zm0 36zm0 7zm0 10zm0 38zm0 27zm1-149zm0 57zm0 5zm0 23zm0 18zm0 19zm1-14zm0 190zm1-229zm1-18zm0 21zm1-74zm0 43zm0 43zm0 11zm0 13zm0 59zm1-131zm0 22zm0 12zm0 20zm0 5zm0 2zm0 0zm0 37zm0 9zm0 47zm1-125zm0 43zm0 1zm0 1zm0 18zm0 34zm1-82zm0 8zm0 3zm0 8zm0 6zm0 7zm0 33zm1-77zm0 4zm0 0zm0 26zm0 23zm1-54zm2-90zm0 80zm0 4zm0 2zm0 16zm0 10zm1-85zm0 9zm0 6zm0 69zm0 31zm0 31zm1-151zm0 41zm0 2zm0 28zm0 76zm1-136zm0 41zm0 1zm0 68zm0 5zm1-59zm0 3zm0 1zm0 31zm0 41zm1-124zm0 34zm0 2zm0 6zm0 4zm0 2zm0 16zm0 5zm0 3zm0 27zm0 5zm0 5zm1-111zm0 27zm0 5zm0 2zm0 8zm0 2zm0 4zm0 18zm0 8zm0 5zm0 4zm0 4zm0 8zm0 5zm0 1zm0 2zm0 14zm0 8zm0 1zm0 3zm0 21zm1-165zm0 39zm0 11zm0 15zm0 13zm0 51zm1-118zm0 16zm0 29zm0 4zm0 14zm0 3zm0 21zm0 6zm0 16zm0 12zm0 4zm0 0zm0 53zm1-159zm0 16zm0 24zm0 6zm0 5zm0 3zm0 2zm0 6zm0 3zm0 12zm0 14zm0 11zm0 7zm1-60zm0 16zm0 10zm0 14zm1-98zm0 45zm0 9zm0 1zm0 12zm0 10zm0 7zm1-97zm0 50zm0 24zm0 25zm0 28zm0 6zm0 5zm1-62zm0 1zm0 4zm1-6zm0 25zm723-26zm0 24zm0 29zm1-128zm0 29zm0 23zm0 13zm0 2zm0 13zm0 1zm0 21zm1-84zm0 20zm0 18zm0 9zm0 2zm0 4zm0 3zm0 10zm0 18zm0 16zm0 3zm0 1zm1-129zm0 18zm0 22zm0 9zm0 22zm0 3zm0 63zm1-93zm0 98zm2-69zm0 1zm1-42zm1 34zm0 20zm0 22zm1-46zm0 30zm0 5zm3-43zm1 14zm0 22zm0 28zm0 18zm1-77zm0 60zm1-61zm4 28zm0 43zm266-54zm4-20zm0 66zm0 14zm0 6zm0 2zm1-92zm0 4zm0 48zm0 24zm1-77zm0 21zm0 1zm1 14zm0 4zm0 5zm0 1zm1-121zm0 73zm0 10zm0 2zm0 1zm0 15zm0 19zm0 5zm0 3zm0 15zm0 6zm0 7zm0 4zm0 0zm1-105zm0 3zm0 30zm0 10zm0 26zm0 4zm0 28zm1-53zm0 8zm0 6zm0 23zm1-88zm0 8zm0 17zm0 15zm0 1zm0 4zm0 3zm0 9zm0 7zm0 4zm0 19zm1-72zm0 27zm0 4zm0 0zm0 2zm0 5zm0 0zm0 4zm0 15zm0 2zm1-53zm0 3zm0 22zm0 5zm0 5zm0 2zm0 8zm0 3zm0 3zm0 1zm0 2zm0 3zm0 14zm0 4zm1-63zm0 26zm0 49zm0 13zm1-43zm0 29zm1-74zm0 32zm0 12zm0 3zm0 4zm1-110zm0 28zm0 22zm0 63zm1-66zm0 2zm0 28zm0 12zm0 1zm0 1zm0 12zm0 5zm0 12zm0 35zm1-101zm0 14zm0 6zm0 6zm0 1zm0 2zm0 9zm0 3zm0 4zm0 6zm0 4zm0 2zm0 2zm0 5zm0 3zm1-99zm0 38zm0 18zm0 9zm0 18zm1-29zm0 10zm0 0zm0 19zm0 25zm1-70zm0 25zm0 12z" stroke="#1f77b4" stroke-width="7.4"/>
<path d="M2 72zm1-4zm0 7zm0 2zm0 5zm0 15zm1-37zm0 17zm0 36zm1-40zm0 24zm1-59zm0 52zm1-22zm0 21zm0 5zm1-37zm0 12zm1-8zm0 23zm0 11zm1-48zm0 108zm1-102zm0 7zm0 39zm0 2zm0 6zm1-62zm0 20zm0 1zm0 1zm0 18zm0 53zm2-112zm0 33zm0 4zm0 40zm0 7zm2-55zm0 17zm0 11zm0 2zm0 3zm1-27zm0 25zm0 7zm2-39zm0 12zm1-9zm0 20zm0 35zm2-84zm0 26zm0 23zm0 9zm0 54zm1-54zm1-26zm0 1zm0 15zm1-3zm0 3zm1-13zm0 31zm3-63zm0 20zm1-9zm0 42zm0 12zm0 7zm1-64zm0 9zm0 22zm0 10zm0 8zm1-52zm1 31zm0 13zm1-30zm0 55zm1-59zm0 9zm0 8zm0 14zm1-22zm0 8zm0 7zm0 39zm1-84zm0 16zm0 36zm0 6zm0 7zm0 8zm1-44zm0 2zm0 4zm0 8zm0 5zm0 1zm0 2zm0 5zm1-28zm0 38zm0 7zm0 4zm0 13zm1-85zm0 14zm0 12zm0 21zm0 4zm1-19zm0 8zm0 4zm0 1zm0 19zm0 12zm1-69zm0 17zm0 1zm0 0zm0 8zm0 1zm0 3zm0 0zm0 3zm0 0zm0 21zm1-49zm0 33zm1-23zm0 4zm0 39zm1-60zm0 13zm0 10zm0 11zm0 20zm1-61zm0 17zm0 8zm0 14zm0 2zm0 12zm0 16zm0 0zm1-47zm0 13zm0 4zm0 5zm0 20zm1-41zm0 3zm0 13zm0 30zm1-35zm0 4zm0 4zm0 6zm0 7zm0 4zm0 2zm0 23zm1-46zm0 4zm0 7zm0 35zm1-65zm0 9zm0 53zm1-69zm0 66zm1-48zm0 48zm1-79zm1 26zm0 5zm1-3zm0 10zm0 2zm0 9zm0 7zm1-40zm2 2zm0 13zm1 12zm0 27zm1-38zm0 16zm1-23zm1 19zm0 4zm1-23zm0 0zm0 6zm0 10zm0 9zm0 2zm0 2zm0 8zm0 10zm0 23zm1-92zm0 21zm0 60zm2-54zm0 18zm0 40zm1-85zm0 14zm0 25zm0 9zm1-25zm0 9zm1 22zm1-14zm0 6zm1-22zm2 15zm0 14zm1-24zm0 36zm1-26zm1-9zm0 2zm1-10zm0 51zm1-48zm2-16zm1 0zm0 12zm0 22zm1-33zm0 5zm0 29zm0 6zm0 1zm0 54zm1-90zm0 7zm0 4zm0 0zm0 2zm0 9zm0 5zm0 13zm1-40zm1-2zm1 5zm0 7zm0 16zm0 13zm1-38zm0 10zm1-20zm0 7zm0 15zm0 37zm0 3zm1-24zm1-24zm0 3zm1 10zm0 9zm0 34zm1-25zm0 20zm1-57zm0 31zm1-46zm0 29zm0 33zm0 4zm1-56zm0 32zm0 49zm1-89zm0 52zm1-46zm0 55zm1-42zm0 4zm1 6zm0 7zm1-22zm0 3zm0 16zm0 10zm0 5zm1 1zm0 17zm1-43zm0 1zm0 15zm1-5zm1-37zm0 47zm0 19zm1-50zm0 3zm0 38zm0 18zm2-72zm0 26zm0 14zm0 3zm0 2zm0 16zm1-61zm0 4zm0 9zm0 41zm1-37zm0 66zm1-69zm0 3zm0 11zm0 10zm0 35zm1-58zm1-7zm0 6zm0 9zm0 3zm0 7zm0 15zm0 10zm0 14zm1-61zm0 59zm0 18zm1-90zm0 13zm1 35zm0 13zm0 12zm1-40zm22 19zm0 22zm0 6zm1-65zm0 33zm0 16zm0 14zm1-56zm1 8zm0 11zm0 20zm1-28zm0 35zm1-42zm1 23zm1-8zm2-41zm0 19zm0 33zm0 1zm0 5zm1-43zm0 10zm0 1zm0 6zm0 8zm0 8zm0 5zm1-45zm0 0zm1-4zm0 7zm0 12zm0 24zm0 43zm1-80zm0 14zm0 1zm0 3zm0 0zm0 8zm0 16zm0 39zm1-63zm0 8zm0 8zm2-21zm0 8zm0 6zm0 16zm0 3zm0 22zm1-63zm0 1zm0 27zm0 40zm1-66zm1 13zm0 9zm1-11zm0 21zm1-34zm1-6zm1-7zm0 27zm0 25zm0 15zm1-58zm0 19zm0 23zm0 5zm0 13zm1-42zm1 3zm1-26zm0 21zm0 5zm0 21zm2 13zm1-14zm1-22zm0 43zm1-54zm0 29zm1-33zm0 9zm1-22zm3 11zm4-5zm0 32zm1-25zm0 40zm0 17zm0 3zm1-72zm0 53zm0 11zm0 11zm1-62zm0 16zm0 5zm0 7zm0 1zm1-47zm0 26zm0 0zm0 38zm2-51zm0 31zm0 17zm2-23zm3 3zm1-39zm0 23zm0 13zm0 26zm1-11zm0 9zm0 3zm1-60zm0 22zm0 12zm0 15zm1-33zm0 19zm0 16zm1-47zm1 17zm2-26zm0 30zm0 22zm1-47zm0 3zm0 8zm0 5zm0 10zm0 1zm0 1zm0 18zm0 8zm0 2zm0 6zm0 1zm1-6zm1-26zm0 1zm0 12zm1-36zm0 14zm0 8zm0 5zm0 0zm0 11zm0 1zm0 16zm0 2zm0 0zm0 7zm0 7zm1-78zm0 14zm0 3zm0 1zm0 0zm0 12zm0 4zm0 10zm0 4zm0 3zm0 16zm1-23zm0 16zm0 10zm0 10zm1-46zm1-21zm0 42zm1-46zm0 5zm0 10zm0 39zm1-47zm0 38zm0 1zm1-50zm0 30zm0 19zm1-46zm0 10zm0 7zm0 19zm0 8zm1-37zm0 11zm0 7zm0 4zm0 5zm1-30zm0 36zm0 4zm0 1zm0 23zm1-42zm2-16zm0 44zm1-53zm0 2zm0 22zm1-21zm0 12zm0 28zm0 1zm0 16zm0 1zm0 21zm1-69zm0 7zm0 6zm0 2zm0 3zm0 2zm0 5zm0 4zm0 2zm1-40zm0 1zm0 14zm0 3zm0 3zm0 3zm0 4zm0 11zm0 22zm0 16zm1-63zm0 2zm0 24zm0 4zm0 30zm1-87zm0 13zm0 12zm0 26zm1 5zm2-40zm0 37zm1-11zm1-30zm0 8zm0 5zm0 13zm0 10zm0 0zm1-33zm0 20zm0 5zm0 27zm1-64zm0 30zm0 15zm1-37zm0 1zm0 26zm1-33zm0 31zm1-27zm0 16zm0 2zm0 2zm0 26zm1-36zm0 23zm0 2zm1-42zm0 20zm0 17zm0 13zm1-60zm0 0zm0 20zm0 5zm0 14zm0 11zm0 5zm0 3zm1-37zm0 24zm0 0zm0 3zm0 12zm0 0zm1-44zm0 46zm1 70zm2-128zm0 4zm0 27zm0 2zm0 13zm0 2zm0 4zm0 9zm0 5zm1-31zm0 7zm0 3zm0 16zm0 1zm0 9zm1-57zm0 34zm0 65zm1-26zm0 35zm0 8zm1-33zm0 24zm0 10zm1-46zm0 1zm0 9zm0 1zm0 9zm0 95zm1-44zm1-30zm0 5zm0 12zm1-57zm0 23zm0 22zm0 19zm0 8zm0 3zm0 4zm1-106zm0 32zm0 5zm0 10zm0 4zm0 7zm0 16zm0 0zm0 35zm0 21zm1-124zm0 34zm0 8zm0 19zm0 4zm0 1zm0 1zm0 7zm0 13zm0 16zm0 0zm0 4zm0 49zm1-110zm0 31zm0 20zm1-134zm0 72zm0 10zm0 51zm1-55zm0 9zm0 4zm0 5zm0 6zm0 16zm0 12zm1-57zm0 2zm0 13zm0 4zm0 2zm0 0zm0 13zm0 6zm0 6zm0 5zm0 10zm0 2zm0 24zm1-98zm0 30zm0 8zm0 15zm0 6zm0 14zm0 17zm0 7zm1-76zm0 6zm0 3zm0 1zm0 29zm0 15zm0 25zm1-127zm0 55zm0 4zm0 19zm0 8zm1-39zm0 0zm0 25zm0 4zm0 0zm0 25zm1-60zm0 29zm0 25zm1-91zm1-20zm1 63zm0 36zm0 12zm1-7zm1-97zm0 84zm0 0zm0 34zm1-15zm1-141zm0 96zm0 14zm1-11zm1 36zm1-50zm0 3zm0 1zm0 4zm0 4zm0 88zm1-95zm0 4zm0 21zm0 53zm1-77zm0 2zm0 30zm0 9zm0 5zm0 43zm1-74zm1-3zm0 67zm1-81zm1-34zm0 76zm0 12zm1-127zm0 98zm0 3zm0 24zm1-39zm0 13zm0 1zm0 39zm1-35zm1-26zm0 29zm0 6zm0 34zm2-73zm0 54zm1-72zm0 57zm0 6zm1-4zm0 6zm1-61zm0 1zm0 16zm0 54zm1-26zm0 6zm0 27zm1-52zm0 13zm0 5zm0 26zm0 18zm1-82zm0 60zm0 10zm1-74zm0 26zm0 4zm0 18zm0 6zm1-75zm0 68zm0 2zm0 7zm0 73zm1-92zm0 29zm0 43zm1-136zm0 60zm0 6zm0 1zm0 5zm0 1zm0 3zm0 40zm0 2zm1-97zm0 35zm0 12zm0 0zm0 9zm0 63zm1-100zm0 0zm0 3zm0 19zm0 2zm0 6zm0 2zm0 16zm1-47zm0 10zm0 5zm0 31zm0 10zm0 7zm0 6zm1-60zm0 2zm1 30zm2-51zm0 28zm0 28zm1-48zm0 7zm0 21zm0 1zm1-15zm0 4zm0 23zm1-2zm0 4zm0 1zm0 17zm1-63zm0 36zm0 20zm0 18zm1-49zm0 24zm0 8zm0 8zm2-89zm1 66zm1-76zm0 20zm1 20zm0 7zm0 25zm0 22zm1-36zm0 22zm1-18zm1-102zm0 44zm0 16zm0 56zm0 15zm1-45zm0 5zm0 11zm0 22zm2-46zm0 15zm0 9zm0 11zm0 6zm1-25zm0 30zm0 0zm0 20zm0 6zm1-108zm1-1zm0 3zm0 2zm0 13zm0 9zm0 9zm0 34zm1-27zm0 9zm0 1zm0 23zm0 5zm0 6zm0 2zm0 8zm0 4zm1-49zm0 2zm0 11zm1-22zm0 57zm1-31zm0 3zm1-51zm0 24zm0 40zm0 0zm0 0zm1-49zm0 19zm0 5zm0 27zm1-68zm0 19zm0 32zm0 21zm0 5zm0 7zm0 3zm1-73zm0 8zm0 55zm0 7zm1-60zm0 10zm0 22zm1-32zm3 37zm2-74zm0 16zm1 14zm0 32zm1 0zm0 6zm0 16zm1-22zm0 26zm1-24zm0 25zm0 10zm1-82zm0 7zm0 83zm1-46zm1 5zm0 6zm1-41zm0 42zm1-53zm0 47zm0 10zm1-36zm0 2zm0 10zm0 31zm1-103zm0 16zm0 42zm0 4zm0 0zm0 4zm0 12zm1-25zm0 21zm0 5zm0 22zm0 5zm1-72zm0 63zm1-59zm0 28zm0 1zm0 33zm0 2zm1-62zm0 51zm1-57zm0 44zm0 31zm0 5zm0 3zm1-14zm1-49zm0 48zm0 3zm0 3zm1-66zm0 7zm0 17zm0 2zm1-17zm0 38zm0 16zm1-82zm0 25zm1 18zm0 26zm0 21zm1-117zm0 40zm0 14zm0 23zm1-37zm0 21zm0 13zm0 23zm0 0zm1 4zm1 12zm1-89zm0 22zm0 21zm0 0zm0 49zm1-13zm1-76zm0 78zm2-41zm0 4zm0 4zm0 10zm2-74zm0 102zm1-88zm0 30zm0 2zm0 65zm1-67zm2-23zm1 18zm0 27zm0 1zm0 39zm1 3zm1-94zm0 41zm0 13zm0 6zm0 8zm0 1zm1-49zm0 1zm1 5zm0 40zm0 2zm1-43zm0 45zm1-53zm0 9zm0 4zm0 0zm0 15zm0 1zm0 39zm0 52zm1-107zm0 54zm1-39zm0 5zm0 11zm0 17zm0 26zm1-17zm0 4zm1-79zm0 53zm1-54zm0 12zm0 36zm0 68zm1-90zm0 29zm0 4zm2-61zm0 3zm0 31zm1-5zm0 9zm0 21zm1-30zm0 57zm1-54zm0 2zm0 4zm0 5zm0 16zm1-83zm0 8zm0 36zm0 7zm0 13zm0 1zm0 10zm0 6zm0 3zm0 4zm0 5zm0 1zm0 53zm0 5zm1-115zm0 22zm0 2zm0 11zm0 0zm0 16zm0 7zm0 46zm1-77zm0 1zm0 32zm0 3zm1-47zm1 3zm0 26zm0 6zm0 29zm1-70zm0 29zm0 38zm1-108zm0 58zm0 4zm1 13zm0 14zm2-51zm0 77zm1-112zm0 45zm0 4zm0 24zm0 40zm1-66zm0 22zm1-25zm0 1zm0 6zm0 0zm0 1zm0 13zm0 4zm0 22zm0 46zm1-95zm0 31zm0 20zm1-65zm0 0zm0 31zm0 14zm0 35zm1-118zm0 51zm0 18zm0 2zm0 26zm1 28zm1-74zm1 0zm2 47zm1-54zm0 5zm0 7zm0 5zm0 1zm1 1zm0 3zm0 36zm0 0zm1-56zm0 29zm1 9zm1-65zm0 34zm0 21zm1-75zm0 5zm0 19zm0 34zm0 3zm0 5zm0 23zm0 12zm0 7zm1-39zm0 2zm0 14zm0 70zm1-149zm0 68zm0 2zm0 19zm1-69zm0 30zm0 4zm0 13zm0 2zm1-33zm0 9zm0 19zm0 12zm2-32zm0 24zm0 54zm1-68zm0 8zm0 6zm0 11zm1-45zm0 47zm0 22zm0 8zm2-78zm1-3zm0 8zm0 7zm0 8zm1-45zm0 2zm0 43zm0 7zm0 58zm1-85zm0 22zm0 9zm0 2zm0 8zm0 2zm1-47zm0 12zm0 3zm0 24zm0 36zm0 15zm1-115zm0 0zm0 27zm0 22zm0 18zm0 17zm1-35zm0 11zm0 28zm0 5zm0 4zm0 14zm0 6zm1-103zm0 31zm0 11zm0 3zm1-37zm0 16zm0 1zm0 6zm0 9zm0 2zm0 1zm1-57zm0 45zm0 16zm0 4zm0 0zm0 0zm0 2zm0 21zm1-24zm0 16zm1-57zm0 19zm0 22zm1-21zm1 2zm0 4zm0 42zm2-38zm0 20zm1 44zm1-47zm3-112zm0 85zm1-113zm0 25zm0 34zm1-42zm2 10zm0 4zm2 11zm5-29zm0 17zm1 2zm2-18zm0 10zm2-10zm5-13zm0 12zm0 17zm3-13zm0 55zm2-73zm0 26zm0 93zm1-99zm2-14zm2 32zm3-36zm11 18zm2-11zm1-10zm0 9zm1-11zm2 11zm1 7zm0 18zm0 19zm2-37zm1-10zm0 1zm1 16zm4 15zm4-39zm4 23zm0 27zm1-46zm0 20zm1 7zm3-15zm3 5zm1 23zm2-21zm1 3zm1 23zm1-49zm0 9zm0 6zm0 8zm1-14zm0 18zm0 16zm4-34zm0 9zm1-6zm0 1zm0 8zm1 16zm0 74zm1-107zm0 17zm1 27zm45-33zm15-1zm3-5zm7 5zm0 20zm2-1zm0 98zm3-126zm16 25zm15-2zm6 0zm2-13zm1 42zm5-19zm1-12zm3 6zm4-16zm0 112zm8 27zm1-98zm0 56zm0 13zm0 43zm0 5zm1-67zm0 33zm0 4zm5 38zm0 4zm3-5zm0 17zm1-81zm0 37zm0 27zm6-35zm2 1zm2 24zm0 55zm1-90zm0 24zm0 11zm0 59zm1-65zm1-71zm0 0zm0 37zm0 14zm0 1zm0 10zm0 1zm0 9zm0 28zm0 1zm0 0zm1-75zm0 18zm0 24zm0 28zm1-77zm0 48zm0 4zm0 10zm0 45zm1-122zm0 39zm0 79zm0 2zm0 12zm1-104zm0 17zm0 30zm0 17zm0 7zm3-39zm1-9zm0 23zm0 6zm2-22zm0 14zm2 24zm0 9zm1-21zm1 8zm1-84zm0 43zm0 8zm1-4zm0 29zm1-60zm1-3zm0 63zm1-56zm0 21zm0 20zm0 7zm0 25zm1-27zm0 11zm0 35zm0 0zm1-85zm1 11zm3 52zm1-16zm1-27zm0 44zm0 0zm1-60zm0 5zm0 9zm1 8zm0 7zm0 15zm0 16zm1-56zm0 46zm1 0zm3-83zm0 39zm0 26zm0 3zm0 8zm1-74zm2 20zm0 14zm0 36zm1 11zm0 16zm1-65zm5 72zm1-58zm0 25zm0 5zm0 3zm1-63zm0 14zm0 23zm0 11zm0 8zm0 3zm0 6zm0 10zm1-81zm1 63zm1-28zm0 3zm7 63zm1-26zm0 3zm1-88zm0 23zm0 25zm0 12zm0 31zm0 5zm1-50zm0 67zm1-61zm0 9zm0 15zm0 29zm1-96zm0 27zm0 30zm0 41zm0 1zm0 8zm1-37zm0 20zm3-80zm0 37zm1-34zm1 45zm0 18zm1-67zm0 35zm0 8zm0 6zm0 17zm0 41zm1-91zm0 32zm1-45zm0 27zm0 64zm1-46zm2 16zm1-2zm0 3zm1-1zm1-43zm2-48zm3 39zm0 30zm0 5zm0 24zm0 2zm1-93zm0 5zm0 27zm0 3zm0 9zm0 30zm0 4zm0 1zm0 16zm1-151zm1 146zm6 2zm2-80zm3 38zm0 36zm0 26zm1 4zm1-102zm1 100zm1-46zm3-42zm1-41zm0 42zm0 15zm0 63zm1-35zm0 1zm0 26zm0 10zm1-54zm2-8zm0 26zm0 48zm1-108zm1 65zm0 8zm6-58zm0 36zm1-8zm0 34zm3-23zm1 43zm1-123zm1 66zm0 23zm1 0zm1-29zm1-20zm0 14zm1-16zm0 53zm1 49zm1-118zm0 36zm0 5zm0 34zm1-136zm0 39zm0 34zm0 15zm0 0zm0 65zm1-102zm0 29zm0 20zm0 10zm0 35zm0 1zm1-29zm0 3zm0 0zm0 4zm0 2zm0 1zm0 19zm0 7zm0 2zm1-87zm0 8zm0 0zm0 28zm0 7zm0 13zm0 3zm0 15zm0 1zm0 11zm2-28zm1-69zm0 49zm0 14zm0 27zm0 4zm1-65zm0 47zm0 9zm0 8zm0 8zm1-129zm0 64zm0 25zm0 5zm3-48zm2 23zm2-3zm1 12zm3 44zm1-54zm0 2zm0 61zm1-13zm0 30zm0 4zm1-80zm1-68zm0 77zm3-74zm0 53zm1 42zm2 37zm3-124zm0 22zm0 9zm0 31zm1-30zm0 25zm3-11zm0 9zm1 18zm1-133zm0 46zm0 10zm0 26zm0 2zm0 28zm0 20zm0 35zm0 6zm1-114zm0 9zm0 36zm0 2zm0 2zm0 27zm0 3zm0 4zm1-56zm0 23zm0 23zm4-80zm0 16zm1 79zm1-70zm0 4zm0 21zm0 2zm0 20zm0 25zm1-76zm0 23zm2-39zm0 55zm4-49zm1 39zm0 20zm0 24zm1 5zm1-76zm1-42zm0 38zm0 29zm0 11zm1-37zm1 16zm1 26zm1-53zm0 27zm0 24zm1-62zm0 34zm0 7zm0 13zm0 7zm0 7zm1-18zm0 25zm0 33zm1-101zm0 23zm0 9zm0 14zm0 7zm0 2zm1-56zm0 18zm0 28zm0 13zm0 15zm0 34zm1-59zm2-23zm1 25zm3-60zm8 13zm0 20zm0 26zm1-3zm0 65zm2-7zm1-114zm0 47zm0 10zm1-40zm0 19zm0 5zm0 1zm0 10zm0 9zm0 8zm0 12zm0 8zm0 1zm0 6zm1-55zm0 6zm0 15zm0 16zm0 10zm0 0zm1-67zm0 19zm0 43zm1-64zm0 10zm0 31zm0 11zm0 3zm0 1zm0 8zm1-28zm0 1zm1-8zm0 6zm1-21zm0 19zm1-36zm0 58zm0 4zm1-71zm0 30zm0 1zm0 3zm0 12zm0 17zm1-69zm0 24zm0 18zm0 7zm0 35zm0 4zm0 27zm1-104zm0 23zm0 76zm0 35zm2-92zm1-22zm0 2zm0 23zm1-49zm0 8zm0 19zm0 4zm0 10zm0 27zm0 18zm1-63zm0 17zm0 24zm0 23zm0 4zm1-96zm1 11zm1-26zm0 58zm0 0zm0 11zm0 23zm1-67zm0 14zm0 4zm0 6zm0 15zm0 15zm1-18zm2 37zm2-36zm2 29zm2 5zm2-45zm4-23zm0 61zm2-79zm0 74zm0 5zm1-58zm0 14zm0 3zm0 26zm0 0zm0 11zm1-87zm0 43zm0 3zm0 14zm0 11zm0 6zm0 10zm0 3zm0 21zm1-67zm0 38zm0 40zm4-11zm1-87zm0 26zm0 3zm0 47zm1-68zm0 22zm0 15zm2 14zm2-14zm1 16zm5-1zm0 52zm2-28zm1-71zm1 50zm1-66zm0 35zm0 19zm0 7zm1-35zm0 5zm0 23zm1-32zm1-34zm0 85zm2-78zm0 29zm0 2zm0 8zm2 8zm0 14zm1-66zm0 43zm0 15zm0 11zm0 6zm1-32zm0 69zm1-118zm0 54zm0 14zm0 19zm1-33zm1 15zm2-54zm0 13zm0 25zm0 6zm1-30zm0 17zm0 5zm0 1zm0 7zm0 17zm0 27zm0 7zm1-54zm3-23zm1 16zm0 18zm0 16zm0 4zm1-140zm0 61zm0 26zm0 3zm0 38zm1-47zm0 28zm0 82zm1-76zm0 16zm0 0zm1-39zm0 14zm0 14zm0 17zm0 68zm1-118zm0 8zm0 2zm0 58zm1-108zm0 103zm1-5zm7-102zm0 49zm0 15zm1-32zm0 43zm1 10zm1-51zm0 3zm0 15zm0 5zm0 1zm0 22zm0 43zm0 10zm1-70zm0 22zm0 16zm1-21zm1-29zm0 30zm0 4zm3-68zm0 69zm2-23zm0 10zm0 4zm0 5zm2-9zm0 4zm0 32zm1-62zm0 38zm1-4zm1-25zm0 20zm0 15zm0 33zm1-57zm1-5zm0 41zm2-60zm2 12zm1-45zm0 1zm0 61zm0 78zm1-113zm0 20zm0 26zm0 12zm1-33zm0 8zm0 7zm1-60zm0 117zm0 27zm1-127zm0 47zm0 9zm0 27zm0 1zm0 14zm0 16zm0 12zm0 2zm0 6zm1-47zm2 13zm0 14zm1-42zm4 14zm1-28zm1-7zm0 43zm0 44zm1-74zm0 6zm0 5zm0 1zm0 3zm0 4zm0 10zm0 8zm0 6zm0 29zm1-99zm0 12zm0 8zm0 10zm0 4zm0 4zm0 10zm0 2zm0 7zm0 14zm0 15zm1-34zm1 6zm0 3zm1-48zm0 37zm0 17zm0 13zm1-47zm0 58zm1-60zm0 4zm0 7zm0 7zm0 33zm1-55zm0 60zm1-49zm0 31zm0 22zm1-16zm2-60zm0 25zm0 10zm0 41zm1-88zm0 54zm0 13zm1-25zm0 12zm0 4zm0 5zm0 11zm1-57zm0 36zm0 9zm0 3zm0 12zm0 18zm1-86zm0 29zm0 4zm0 23zm0 17zm0 11zm1-91zm0 15zm0 5zm0 3zm0 25zm0 35zm0 5zm1-77zm0 26zm0 29zm0 1zm0 5zm1-63zm0 31zm0 4zm0 5zm0 10zm0 32zm1-78zm0 7zm0 23zm0 4zm0 6zm0 29zm0 4zm1-76zm0 28zm0 0zm0 10zm0 5zm0 10zm0 2zm0 10zm0 9zm1-67zm0 33zm0 3zm0 10zm0 29zm0 2zm1-60zm0 1zm0 5zm1-41zm0 48zm0 1zm0 31zm1-100zm0 25zm0 18zm0 7zm0 13zm0 23zm0 13zm1-58zm0 2zm0 1zm0 7zm0 4zm0 8zm0 6zm0 7zm0 5zm0 4zm0 5zm0 2zm0 4zm0 1zm1-67zm0 12zm0 7zm0 10zm0 3zm0 6zm0 13zm0 11zm0 2zm0 1zm0 6zm0 0zm0 8zm0 3zm0 0zm1-92zm0 20zm0 14zm0 2zm0 8zm0 4zm0 3zm0 5zm0 2zm0 1zm0 3zm0 5zm0 29zm1-73zm0 26zm0 3zm0 0zm0 9zm0 11zm0 1zm0 6zm1-48zm0 13zm0 32zm0 8zm1-58zm0 12zm0 14zm0 2zm0 32zm0 2zm1-87zm0 60zm0 5zm0 11zm1-32zm0 12zm0 32zm1-76zm0 2zm0 33zm0 8zm0 0zm0 14zm1-88zm0 17zm0 65zm0 1zm1-30zm0 19zm0 14zm1 18zm3-51zm116-13zm1 3zm0 1zm0 51zm1-87zm0 7zm0 6zm0 4zm0 37zm0 27zm0 1zm0 13zm0 5zm1-130zm0 51zm0 3zm0 13zm0 11zm0 1zm0 29zm0 15zm2-60zm0 4zm1-49zm0 21zm0 10zm0 17zm0 50zm1-103zm0 29zm0 18zm0 7zm0 13zm0 14zm0 24zm0 16zm1-103zm0 29zm0 21zm2-2zm0 7zm1-48zm0 39zm0 1zm0 23zm0 13zm1-95zm0 61zm0 56zm1-122zm0 18zm0 10zm0 13zm0 2zm0 37zm0 1zm0 5zm0 9zm1-130zm0 16zm0 17zm0 3zm0 12zm0 25zm0 1zm0 16zm0 0zm0 1zm0 1zm0 1zm0 11zm0 17zm0 5zm0 12zm0 0zm1-98zm0 12zm0 8zm0 12zm0 56zm0 28zm1-86zm0 6zm1-18zm0 6zm0 25zm0 13zm1 7zm2-32zm0 18zm2-28zm0 31zm1 9zm0 25zm0 11zm0 1zm1-100zm0 1zm0 42zm0 8zm0 5zm0 5zm0 2zm0 2zm0 4zm0 0zm1-76zm0 28zm0 16zm0 6zm0 11zm0 22zm0 4zm0 23zm1-142zm0 44zm0 3zm0 8zm0 10zm0 4zm0 12zm0 18zm0 32zm1-67zm0 18zm0 16zm0 14zm1-68zm0 17zm0 36zm1-26zm0 2zm0 3zm0 6zm0 34zm0 15zm1-110zm0 52zm0 2zm0 13zm0 19zm1-25zm0 12zm0 3zm0 31zm1-97zm0 44zm0 1zm0 30zm1-56zm0 91zm2-23zm1-49zm0 5zm0 38zm1-70zm0 22zm0 4zm0 42zm0 18zm1-93zm0 48zm0 19zm0 11zm1-15zm0 50zm1-106zm0 31zm0 24zm0 24zm1-134zm0 22zm0 39zm0 15zm0 1zm0 15zm0 8zm0 1zm0 16zm0 14zm1-103zm0 0zm0 44zm1 55zm0 10zm1-62zm0 19zm1-25zm0 47zm1-48zm0 4zm0 40zm0 11zm1-138zm0 59zm0 21zm0 9zm0 13zm1-40zm1-23zm0 21zm0 31zm0 11zm0 3zm0 31zm1-71zm0 12zm0 47zm1 1zm0 6zm2-5zm2-14zm1 28zm2 24zm1-61zm0 26zm0 14zm1-28zm0 3zm0 2zm0 5zm0 1zm0 3zm0 3zm0 6zm0 15zm0 6zm0 9zm1-60zm0 7zm0 13zm0 1zm0 19zm0 11zm0 1zm1-46zm0 16zm0 9zm0 2zm0 18zm1-2zm1-14zm2-6zm0 16zm1-29zm1 9zm1-36zm0 78zm3-21zm1-33zm0 10zm0 26zm1-46zm0 13zm0 9zm0 17zm0 1zm0 7zm0 2zm0 16zm1-73zm1 25zm0 1zm0 6zm0 13zm1-17zm0 7zm0 4zm1-8zm0 11zm0 4zm0 7zm2-27zm0 1zm1 20zm0 15zm1-61zm0 43zm1-8zm0 0zm0 1zm0 3zm1-27zm0 29zm1-31zm0 29zm0 37zm1-86zm0 12zm0 33zm0 4zm0 1zm1-36zm0 7zm0 8zm0 7zm0 3zm0 8zm0 6zm0 3zm1-21zm0 11zm0 22zm1-53zm1 24zm1-21zm0 7zm0 7zm0 4zm0 9zm1-1zm0 31zm1-46zm0 18zm0 2zm0 3zm1-27zm0 3zm0 3zm0 10zm0 18zm1-25zm0 3zm0 1zm1-5zm0 0zm0 4zm0 8zm0 12zm1-38zm0 0zm0 5zm0 6zm0 17zm0 30zm1-73zm0 25zm0 5zm0 6zm0 11zm0 16zm0 17zm1-53zm0 22zm0 9zm0 1zm0 15zm1-66zm0 11zm0 19zm0 14zm0 21zm1-62zm0 10zm0 21zm0 8zm1-27zm0 14zm0 1zm0 19zm0 24zm1-141zm0 60zm0 26zm0 28zm0 3zm0 13zm1-41zm0 24zm0 6zm0 16zm1-52zm0 6zm0 5zm0 17zm1-43zm0 29zm0 3zm0 10zm0 28zm1-84zm0 42zm0 5zm0 9zm0 1zm0 7zm1-26zm0 8zm0 23zm1-31zm0 9zm1-23zm0 21zm0 0zm0 1zm0 23zm1-60zm0 39zm0 22zm0 3zm1-63zm0 11zm0 26zm0 38zm1-95zm0 30zm0 33zm1-4zm0 5zm1-55zm0 30zm0 14zm0 6zm0 15zm1-30zm0 8zm1-10zm0 4zm0 17zm0 2zm1 6zm1-40zm0 2zm0 3zm0 6zm0 1zm0 4zm0 5zm0 1zm0 18zm0 19zm1-77zm0 19zm0 36zm1-37zm0 7zm0 1zm0 1zm0 16zm0 6zm0 1zm1-42zm0 18zm0 7zm0 6zm0 20zm1-20zm0 20zm1-38zm0 9zm1-3zm0 29zm0 15zm1-47zm0 6zm0 3zm0 20zm0 7zm2-28zm1-3zm3 7zm0 6zm0 6zm1-25zm2-36zm1 49zm2-13zm1-10zm0 6zm1 4zm0 6zm0 11zm0 0zm0 14zm0 17zm1-53zm0 6zm0 14zm0 13zm0 5zm1-24zm0 12zm0 0zm0 9zm0 1zm0 5zm0 12zm0 11zm1-63zm0 13zm0 31zm1-56zm0 15zm0 2zm0 5zm0 6zm0 7zm1-36zm0 14zm0 4zm0 32zm0 4zm1-26zm0 40zm1-41zm0 3zm0 4zm1 2zm0 5zm1-40zm1 1zm0 27zm0 14zm1-48zm0 51zm1-4zm0 4zm0 19zm2-64zm0 10zm0 5zm0 10zm0 1zm0 1zm0 2zm0 3zm0 4zm0 6zm0 30zm0 5zm1-54zm0 10zm1-2zm1-10zm1-163zm0 40zm3-30zm0 50zm1-37zm0 126zm1-74zm1-42zm0 11zm1-44zm0 16zm0 132zm1-139zm0 111zm1 24zm3-131zm0 90zm1-105zm1 54zm0 64zm2-94zm0 1zm0 12zm0 7zm0 26zm2-49zm1-14zm0 3zm2-4zm0 146zm1-131zm0 42zm0 76zm1-111zm0 35zm7-18zm1-30zm1 51zm0 2zm9 58zm1-40zm0 11zm0 57zm0 38zm3-127zm0 47zm0 37zm1-5zm1-2zm1-30zm0 2zm1 34zm1-95zm0 131zm2-69zm0 50zm0 21zm1-93zm0 44zm0 44zm3-43zm1-2zm1-62zm0 82zm1 9zm0 46zm1-85zm0 19zm0 8zm2 26zm0 5zm0 17zm6-24zm2-184zm3 7zm0 3zm0 12zm0 9zm1-34zm0 5zm0 24zm0 31zm1-30zm0 9zm0 59zm1-90zm0 3zm0 8zm0 14zm0 1zm0 8zm0 4zm0 32zm0 14zm0 58zm0 19zm1-133zm0 32zm2-59zm0 9zm0 39zm0 17zm0 20zm0 35zm1 4zm0 7zm1 2zm0 6zm2-79zm1 38zm2 47zm3-13zm1-75zm0 55zm1-29zm0 2zm0 40zm0 18zm0 3zm0 21zm1-75zm0 15zm0 26zm1 29zm0 6zm1-30zm1-131zm0 98zm0 26zm0 32zm1-1zm0 37zm0 12zm1-209zm1 118zm0 6zm1-121zm0 144zm1 10zm0 39zm1 5zm2 3zm7-168zm0 57zm0 73zm0 12zm0 43zm1-227zm0 168zm1-102zm4-72zm1 52zm1 32zm1 28zm1 57zm1-172zm0 107zm1-9zm0 11zm0 18zm1-25zm0 22zm0 13zm3-7zm0 18zm0 68zm1-140zm0 28zm0 52zm0 29zm1-181zm0 23zm0 119zm0 7zm1-38zm0 48zm1-68zm0 110zm1-151zm1 170zm1-184zm0 46zm0 1zm0 21zm0 23zm0 16zm0 12zm0 9zm0 9zm0 13zm1-85zm0 4zm0 0zm0 24zm0 15zm0 6zm0 2zm0 60zm1-130zm1-13zm1 63zm0 33zm1 44zm1-165zm2-22zm2-26zm7 10zm0 4zm7-1zm9 20zm2-26zm1 20zm0 13zm2 47zm1-84zm6 46zm3-39zm0 13zm33-17zm1 7zm1 22zm2 81zm5-74zm1-21zm2-21zm2 30zm4 6zm0 5zm0 7zm0 23zm1-52zm2 4zm1 6zm4 2zm1-6zm2 13zm2-4zm1-21zm1 6zm0 8zm0 51zm1-49zm1-2zm0 40zm2-55zm1 0zm0 9zm1 12zm0 2zm1-21zm0 17zm0 7zm0 1zm1 6zm0 29zm1-74zm1 3zm3 56zm2-13zm2-16zm4-5zm1-24zm2 4zm0 17zm1-5zm0 12zm0 7zm2-30zm1 124zm1 23zm1-9zm0 2zm1 12zm0 36zm1-67zm0 7zm0 14zm0 6zm0 12zm1-65zm0 3zm0 17zm0 33zm0 6zm1-71zm0 18zm0 15zm0 3zm0 14zm0 10zm0 51zm1-97zm0 0zm0 65zm1-53zm0 7zm0 1zm0 9zm0 4zm0 8zm0 19zm1-57zm0 5zm0 11zm0 50zm1-58zm1-36zm0 31zm0 18zm1-42zm0 7zm0 46zm0 17zm0 16zm1-72zm0 93zm1-41zm1 2zm0 24zm1-65zm0 28zm0 9zm3-73zm0 52zm1-6zm0 75zm1-76zm0 8zm0 6zm0 29zm1-70zm0 11zm0 2zm0 18zm0 27zm0 53zm1-54zm0 37zm3-26zm0 6zm1-75zm0 39zm0 19zm0 3zm1-84zm0 34zm0 17zm0 0zm0 2zm0 32zm0 1zm0 17zm1-70zm0 51zm0 2zm0 10zm1-77zm0 6zm5 2zm0 57zm0 5zm0 18zm1-63zm0 52zm0 6zm0 3zm1-12zm4-14zm1-70zm2 26zm0 44zm1-34zm0 9zm0 43zm1-24zm0 79zm1-56zm0 19zm1-98zm0 26zm0 58zm1-34zm0 6zm0 6zm0 1zm1-63zm0 33zm0 66zm1-111zm0 74zm4-34zm1-17zm0 17zm5 13zm0 74zm1-146zm0 56zm0 14zm0 38zm1-69zm0 24zm0 5zm0 45zm1-6zm1-47zm0 8zm0 36zm1-48zm2 1zm65 42zm1-39zm0 27zm0 40zm1-23zm1-15zm0 29zm0 1zm0 11zm0 20zm2-53zm1 65zm1-117zm0 62zm0 69zm1-84zm0 11zm0 15zm0 12zm0 11zm0 9zm1-55zm0 28zm0 13zm0 15zm1-60zm0 87zm1-121zm0 54zm1-33zm0 23zm0 11zm1 40zm1-75zm0 31zm0 28zm0 1zm0 39zm1-125zm0 25zm0 23zm0 6zm0 11zm0 9zm0 24zm2-101zm0 46zm0 1zm0 3zm0 17zm0 1zm0 11zm1-78zm0 63zm0 1zm0 8zm0 4zm0 3zm0 12zm0 4zm0 29zm1-64zm0 15zm1-36zm0 7zm0 24zm0 8zm0 1zm0 13zm0 15zm0 15zm1-98zm0 17zm0 8zm0 10zm0 1zm0 6zm0 2zm0 10zm0 4zm0 21zm0 2zm1-95zm0 69zm0 3zm0 15zm0 1zm0 4zm1-107zm0 55zm0 31zm0 1zm0 8zm1-76zm0 7zm0 53zm0 4zm1-60zm0 36zm0 0zm0 54zm1-100zm0 70zm3-46zm0 17zm2-40zm0 19zm0 15zm0 12zm1-53zm0 35zm0 18zm0 13zm0 49zm1-61zm0 14zm1-87zm0 33zm0 10zm0 59zm1-42zm0 1zm0 19zm0 1zm0 24zm0 14zm0 8zm1-77zm0 4zm0 1zm0 47zm1-60zm0 80zm1-134zm0 48zm0 33zm0 14zm0 40zm0 2zm1-106zm0 17zm0 11zm0 6zm0 2zm0 11zm0 36zm0 33zm1-119zm0 74zm0 46zm1-102zm0 59zm0 5zm1-118zm0 67zm0 19zm0 8zm1-60zm0 34zm0 16zm0 7zm0 4zm0 4zm0 21zm0 24zm1-105zm0 39zm0 5zm0 12zm0 23zm1-32zm0 13zm2 59zm6-27zm1-70zm0 18zm0 18zm0 7zm0 22zm0 1zm1-18zm0 13zm1-67zm0 14zm0 46zm0 23zm0 15zm0 5zm1-89zm0 3zm0 9zm0 27zm0 11zm0 6zm0 10zm0 21zm1-113zm0 21zm0 13zm0 9zm0 36zm0 29zm1-38zm1-45zm0 2zm0 31zm0 37zm1-68zm0 0zm0 5zm0 14zm0 2zm0 24zm0 5zm0 22zm1-92zm0 26zm0 3zm0 7zm0 25zm0 21zm0 2zm0 14zm1-115zm0 14zm0 27zm0 3zm0 19zm0 3zm0 7zm0 4zm0 0zm0 15zm1-81zm1 76zm0 7zm2-22zm0 6zm0 6zm1-8zm1-69zm0 18zm0 6zm0 6zm0 86zm1-105zm0 81zm1-88zm0 28zm0 53zm1-101zm0 50zm0 42zm0 36zm1-60zm0 6zm0 34zm1-93zm0 31zm0 15zm0 0zm0 4zm0 16zm0 25zm1-33zm0 3zm0 32zm1-67zm1-28zm0 36zm0 5zm0 41zm1-7zm0 8zm1-90zm0 66zm0 3zm0 1zm0 17zm1-44zm0 13zm0 19zm0 21zm0 10zm1-98zm0 49zm0 29zm0 10zm1 4zm1-19zm0 47zm1-108zm0 55zm0 26zm1-59zm0 1zm0 22zm0 7zm1-54zm0 15zm0 9zm0 3zm0 5zm0 24zm0 15zm0 12zm0 1zm0 7zm0 14zm1-77zm0 2zm0 4zm0 4zm0 9zm0 6zm0 10zm0 6zm0 6zm0 20zm0 25zm1-83zm0 26zm0 39zm2-67zm0 9zm0 63zm0 9zm1-72zm0 15zm1-17zm1-29zm0 1zm0 25zm0 8zm0 13zm0 14zm1-75zm0 40zm0 33zm0 41zm2-84zm1 9zm0 26zm0 1zm0 9zm0 18zm1-58zm0 18zm0 8zm0 6zm1-123zm0 67zm0 8zm0 18zm0 37zm0 7zm0 2zm1-70zm0 22zm1-43zm0 15zm0 51zm0 24zm0 21zm0 11zm1-99zm0 39zm0 2zm0 9zm0 9zm1-107zm0 31zm0 17zm0 35zm0 12zm1-22zm0 14zm0 24zm0 6zm0 36zm1-103zm0 13zm0 42zm0 15zm1-31zm0 36zm1-62zm0 1zm0 20zm1-13zm0 19zm0 5zm1 24zm1-94zm0 65zm0 21zm0 16zm0 2zm1-70zm3 19zm1-55zm0 62zm1-80zm0 52zm0 14zm0 9zm0 5zm0 2zm0 1zm0 30zm0 1zm0 6zm0 9zm1-24zm0 17zm1-58zm0 14zm0 5zm0 10zm0 35zm0 14zm1-75zm0 47zm1-90zm0 10zm0 6zm0 3zm0 22zm0 3zm0 1zm0 10zm0 5zm0 9zm0 14zm0 9zm0 7zm0 1zm0 9zm0 0zm1-108zm0 45zm0 22zm0 12zm1-44zm1 15zm0 42zm1-101zm0 32zm0 29zm0 22zm0 4zm0 24zm0 22zm1-96zm0 16zm0 8zm1 1zm0 6zm0 2zm0 5zm1-8zm0 2zm0 9zm0 16zm2-39zm0 49zm1-98zm0 57zm0 11zm0 8zm0 7zm0 34zm1-97zm0 8zm0 16zm1-17zm1 57zm1-167zm1-26zm1 40zm2 13zm5-8zm1-45zm2 24zm5-5zm7-8zm1 16zm0 13zm0 5zm1-35zm0 31zm0 3zm1-28zm0 18zm1-25zm2-5zm1 50zm0 72zm8-112zm1 8zm0 4zm1 107zm1-106zm1 6zm0 10zm0 17zm1-10zm1-48zm1 8zm0 38zm0 13zm1-54zm2 2zm1-2zm1-3zm0 77zm2-60zm1-13zm3-8zm0 44zm1-18zm4 23zm3-32zm1 39zm3-48zm1 21zm1-6zm1 30zm1-38zm0 6zm3-1zm0 50zm7-52zm1-4zm0 36zm1-29zm1-3zm1 15zm4-29zm3 31zm2-27zm6 2zm1 2zm0 7zm1 10zm1-26zm0 16zm0 3zm0 16zm4-3zm1-34zm8 17zm0 6zm1-7zm4-8zm40 15zm1 24zm1-28zm3 17zm6-15zm2 14zm1 74zm25-70zm3-12zm12 52zm1-51zm0 31zm0 2zm0 2zm1-7zm2 18zm1-56zm0 30zm0 5zm0 12zm2-54zm1 40zm1-6zm1 37zm0 13zm1-42zm7 15zm1 42zm21 110zm1 0zm1-95zm2 26zm0 9zm0 19zm0 17zm0 10zm0 20zm1-47zm0 10zm0 5zm0 20zm0 2zm0 5zm1-59zm0 65zm0 9zm1-86zm0 25zm0 50zm1-66zm0 32zm0 29zm0 7zm1-47zm0 20zm1-46zm0 57zm0 5zm0 16zm1-63zm0 1zm0 0zm0 43zm0 5zm1-89zm0 57zm0 8zm0 12zm0 15zm1-74zm0 16zm0 6zm0 36zm0 14zm1-98zm0 5zm0 40zm0 6zm0 25zm0 14zm0 6zm2-52zm0 59zm0 5zm0 4zm1-69zm0 21zm1-46zm0 32zm0 15zm1-33zm0 55zm0 8zm0 19zm1-70zm0 10zm0 16zm0 1zm0 12zm0 6zm0 25zm1-101zm0 39zm0 4zm0 5zm0 30zm0 2zm0 2zm1-44zm0 3zm1-41zm0 4zm0 27zm0 1zm0 12zm0 4zm0 35zm0 13zm1-94zm1-97zm1 86zm0 2zm0 13zm0 55zm1-60zm0 19zm0 24zm0 19zm1-23zm0 4zm0 14zm0 37zm1-83zm0 30zm0 35zm1-23zm0 33zm1-92zm0 99zm2-52zm0 4zm1-33zm0 45zm0 14zm0 6zm1 1zm0 22zm1-89zm0 24zm0 11zm1-52zm0 26zm0 12zm0 52zm1-60zm0 6zm0 39zm1-19zm0 31zm2-50zm0 17zm0 18zm0 5zm1-45zm1 54zm1-52zm0 4zm0 34zm1-73zm0 68zm0 27zm1-24zm0 22zm0 13zm1-63zm0 14zm0 38zm1-58zm1-53zm0 57zm0 15zm0 11zm0 10zm0 1zm0 17zm0 13zm1-114zm0 19zm1-137zm0 163zm0 57zm1-75zm0 84zm1-112zm0 56zm0 44zm1-85zm0 11zm0 38zm0 46zm1-39zm0 42zm1-48zm0 30zm0 17zm1-137zm0 71zm0 19zm0 0zm1-54zm0 25zm1-29zm0 55zm0 16zm0 26zm1-28zm0 14zm0 0zm0 1zm0 23zm1-9zm1-76zm1 6zm0 13zm0 18zm0 15zm0 0zm0 15zm1-77zm0 15zm0 6zm0 3zm0 2zm0 3zm0 2zm0 26zm0 18zm0 13zm0 5zm1-85zm0 7zm0 7zm0 8zm0 20zm0 2zm0 7zm0 1zm0 1zm0 12zm0 5zm0 7zm1-131zm0 21zm0 22zm0 31zm0 17zm0 14zm0 21zm0 1zm0 9zm1-97zm0 29zm0 1zm0 9zm0 4zm0 1zm0 11zm0 5zm0 3zm0 20zm0 9zm1-105zm0 7zm0 21zm0 6zm0 27zm0 10zm0 22zm0 16zm1-82zm0 28zm0 0zm0 12zm0 19zm0 9zm0 14zm1-123zm1 40zm0 11zm0 74zm2-33zm0 6zm2-58zm0 35zm0 28zm1-67zm0 48zm0 12zm0 16zm0 11zm1-27zm0 16zm0 14zm0 3zm1-126zm0 26zm0 10zm0 26zm0 26zm0 38zm1-94zm0 2zm0 14zm0 4zm0 0zm0 9zm2-50zm0 48zm0 10zm0 16zm0 27zm0 0zm0 9zm1-28zm1-66zm0 68zm0 25zm0 6zm1-99zm0 22zm0 9zm0 12zm0 15zm0 17zm0 11zm1-89zm0 47zm0 1zm0 8zm0 29zm1-62zm0 20zm2-2zm21-170zm3 16zm1 3zm3-3zm2 62zm1-71zm5 46zm2-58zm0 29zm0 20zm2-27zm3 14zm1-20zm0 23zm0 1zm1-25zm2 17zm2-19zm1 11zm0 3zm1-1zm5 11zm0 2zm2-21zm1 24zm3-32zm1 14zm0 11zm3 8zm2-18zm1-25zm0 42zm1-6zm7-23zm0 16zm0 6zm0 1zm0 30zm5-46zm1-14zm0 26zm1-32zm0 32zm0 93zm3-89zm0 105zm9-121zm1 128zm1-116zm1-10zm0 16zm0 43zm1-74zm0 11zm0 15zm0 41zm0 23zm0 3zm0 5zm0 31zm0 21zm1-142zm0 1zm0 5zm0 30zm0 4zm0 16zm0 20zm0 39zm0 1zm0 4zm1-99zm1 70zm0 17zm1-111zm0 40zm0 11zm0 24zm0 21zm0 6zm0 19zm1-114zm0 7zm0 10zm0 20zm0 10zm0 12zm0 8zm0 20zm1 36zm1-114zm0 72zm0 3zm0 15zm0 1zm0 1zm0 16zm0 2zm1-103zm0 28zm0 15zm0 5zm0 13zm0 44zm0 28zm1-128zm0 54zm0 7zm1-56zm0 32zm0 23zm0 4zm0 2zm0 18zm0 5zm0 6zm0 18zm1-120zm0 15zm0 6zm0 79zm0 15zm1-139zm0 26zm0 2zm0 9zm0 17zm0 5zm0 7zm0 6zm0 37zm0 17zm0 20zm1-114zm0 16zm0 19zm0 19zm0 68zm1-145zm0 4zm0 15zm0 20zm0 8zm0 0zm0 19zm0 21zm0 0zm0 3zm0 13zm1-41zm0 26zm1-10zm1-50zm0 26zm0 41zm1-69zm0 51zm0 2zm0 49zm0 30zm1-99zm0 4zm0 5zm0 108zm1-161zm0 13zm0 52zm0 52zm1-109zm0 39zm0 3zm0 0zm0 2zm0 4zm0 11zm0 1zm0 14zm0 18zm0 23zm0 46zm1-176zm0 21zm0 43zm0 0zm0 16zm0 30zm1-109zm0 68zm0 7zm0 22zm0 26zm1-121zm0 18zm0 53zm0 19zm0 13zm0 42zm1-103zm0 30zm1-52zm0 70zm0 14zm0 5zm0 14zm0 20zm1-132zm0 22zm0 53zm0 1zm0 11zm0 0zm1-32zm0 26zm0 7zm0 7zm0 79zm1-130zm0 3zm0 13zm0 7zm0 20zm0 8zm0 5zm0 5zm0 11zm1-140zm0 36zm0 16zm0 1zm0 2zm0 11zm0 11zm1-84zm0 36zm0 9zm0 14zm0 18zm0 14zm0 26zm0 69zm1-193zm0 24zm0 35zm0 0zm0 1zm0 15zm0 8zm0 4zm0 22zm0 27zm0 1zm1-136zm0 13zm0 48zm0 6zm0 6zm0 4zm0 1zm0 15zm0 14zm0 4zm0 6zm0 11zm0 12zm0 0zm0 7zm0 4zm0 43zm1-153zm0 21zm0 28zm0 1zm0 1zm0 3zm0 6zm0 5zm0 28zm1-14zm10-40zm0 4zm0 3zm0 12zm0 8zm0 16zm0 25zm1-31zm0 8zm0 5zm0 79zm1-111zm1-28zm1 5zm0 12zm1 15zm0 32zm2-98zm0 34zm0 90zm1-81zm0 7zm0 1zm0 1zm0 13zm0 15zm0 2zm1-91zm4-26zm0 106zm0 30zm0 2zm0 31zm1-140zm0 1zm0 13zm0 91zm3-81zm0 5zm1 53zm1-97zm0 10zm0 42zm0 60zm1 8zm1-92zm0 54zm0 20zm0 32zm0 7zm2-78zm0 8zm0 12zm0 3zm1-58zm0 1zm0 12zm0 57zm0 31zm1-89zm0 18zm0 44zm0 36zm1-68zm0 27zm1-51zm0 54zm2-80zm0 19zm0 27zm0 26zm0 19zm0 12zm1-95zm0 15zm0 22zm0 10zm0 27zm2-58zm0 39zm0 10zm0 5zm1-46zm1-21zm0 23zm0 8zm0 36zm0 18zm0 32zm1-131zm0 74zm0 7zm3-44zm1-3zm0 5zm0 29zm0 14zm1-66zm0 18zm0 38zm1-13zm1-91zm1 79zm1-36zm1-38zm0 24zm0 22zm0 11zm0 32zm0 45zm1-92zm0 21zm0 89zm1-110zm1 32zm2-27zm0 60zm1-85zm1 10zm0 15zm0 2zm0 12zm0 5zm1-70zm0 10zm0 27zm0 1zm0 12zm0 14zm0 4zm0 3zm1-24zm0 51zm1-69zm0 31zm1-20zm0 48zm0 1zm1 3zm0 2zm2 35zm0 25zm0 11zm0 9zm1-36zm1-37zm0 13zm0 17zm0 16zm0 0zm0 28zm0 5zm1-110zm0 24zm0 8zm0 6zm0 10zm0 21zm0 4zm1-56zm0 18zm0 9zm0 6zm0 10zm0 3zm0 4zm0 7zm0 3zm0 4zm1-37zm0 26zm0 32zm0 8zm1-38zm1-51zm0 34zm0 4zm0 28zm1-63zm0 4zm0 10zm0 9zm0 31zm0 39zm0 8zm1-108zm0 10zm0 38zm0 4zm1-67zm0 3zm0 38zm0 15zm0 5zm0 4zm0 6zm1-3zm0 8zm0 29zm3-80zm0 11zm0 14zm0 23zm0 5zm0 21zm0 29zm1-62zm0 1zm0 6zm0 45zm1-133zm0 28zm0 11zm0 8zm0 9zm0 11zm0 25zm0 2zm1-46zm1 14zm0 13zm1-27zm0 28zm1-33zm0 42zm0 18zm1-59zm0 27zm0 1zm0 28zm1-43zm0 19zm0 1zm0 4zm0 15zm0 2zm0 4zm1-90zm0 3zm0 0zm0 9zm0 18zm0 33zm0 10zm0 9zm0 10zm0 12zm1-16zm1-88zm0 34zm0 30zm1-77zm0 26zm0 14zm0 12zm0 11zm1-4zm0 12zm1-43zm0 16zm0 1zm0 13zm1 15zm1-77zm0 27zm0 25zm0 7zm0 6zm0 8zm0 33zm1-83zm0 8zm0 13zm0 0zm0 4zm0 10zm1-51zm0 18zm0 5zm0 29zm0 0zm0 14zm0 4zm1-63zm0 10zm0 17zm0 5zm0 17zm0 12zm0 7zm0 20zm1-72zm0 3zm0 0zm0 20zm1-34zm0 7zm0 10zm0 1zm0 24zm0 12zm1-13zm0 3zm0 2zm0 11zm0 7zm0 3zm1-14zm1-89zm0 44zm0 3zm0 5zm0 1zm0 2zm0 3zm0 0zm0 3zm0 4zm0 3zm0 8zm0 4zm0 4zm0 4zm0 6zm0 1zm0 12zm1-84zm0 9zm0 1zm0 10zm0 1zm0 17zm0 1zm0 2zm0 7zm0 1zm0 2zm0 6zm0 7zm0 1zm0 14zm0 5zm1-127zm0 50zm0 2zm0 6zm0 6zm0 20zm0 0zm0 16zm1-28zm0 15zm0 5zm0 21zm20 39zm0 35zm1-68zm0 17zm0 26zm0 8zm0 1zm1-56zm0 19zm0 5zm0 16zm0 47zm0 9zm1-102zm0 4zm0 3zm0 17zm0 40zm0 9zm0 11zm1-81zm0 8zm0 12zm0 2zm0 3zm0 16zm0 17zm0 30zm1-111zm2 7zm2 85zm1-54zm0 6zm0 60zm3-107zm0 32zm0 28zm0 20zm0 21zm0 3zm0 12zm1-97zm0 13zm0 15zm0 12zm0 21zm1-25zm0 2zm0 10zm0 27zm0 31zm1-120zm0 74zm1-77zm1 23zm2 14zm0 1zm0 75zm3-13zm1-67zm0 1zm0 1zm0 15zm0 13zm0 1zm0 17zm0 1zm0 18zm1-81zm0 2zm0 12zm0 10zm0 87zm1-100zm1 17zm0 12zm0 21zm0 2zm0 6zm0 3zm0 19zm1-68zm0 11zm0 10zm0 11zm0 2zm0 8zm0 23zm0 7zm4-84zm0 12zm0 21zm0 1zm0 3zm0 21zm1-83zm0 31zm0 8zm0 7zm0 7zm0 18zm0 17zm1-87zm0 47zm0 5zm0 7zm0 7zm1-47zm2 25zm0 15zm1-15zm0 6zm1 8zm2-29zm0 25zm0 6zm0 10zm0 22zm1-95zm0 1zm0 21zm0 10zm0 10zm0 81zm1-112zm0 4zm0 23zm0 9zm0 6zm0 7zm0 1zm0 18zm0 2zm0 3zm1-69zm0 31zm1-14zm0 20zm5 23zm1 18zm1-20zm1-5zm0 16zm5-16zm0 3zm0 30zm0 4zm0 10zm1-103zm0 10zm0 42zm4 5zm1-16zm0 39zm0 0zm0 30zm1-11zm3-105zm0 52zm0 3zm0 18zm1-87zm1 62zm4 25zm3-88zm0 39zm0 28zm0 9zm0 28zm0 13zm0 15zm1-170zm0 36zm0 60zm0 2zm0 2zm0 25zm0 6zm0 3zm0 6zm0 19zm1-83zm0 4zm0 4zm0 7zm0 2zm0 5zm0 16zm0 13zm0 0zm0 4zm0 12zm0 5zm0 13zm0 5zm0 6zm0 2zm1-182zm0 105zm0 10zm0 4zm0 5zm0 5zm0 3zm0 0zm0 21zm0 2zm0 6zm0 5zm0 4zm0 12zm1-111zm0 19zm0 1zm0 17zm0 13zm0 2zm0 1zm0 4zm0 0zm0 1zm0 4zm0 3zm0 8zm0 6zm1-102zm0 34zm0 10zm0 3zm0 16zm0 10zm0 4zm0 4zm0 0zm0 7zm0 4zm0 3zm0 1zm0 3zm0 5zm0 1zm0 1zm1-114zm0 54zm0 10zm0 13zm0 5zm0 4zm0 16zm0 1zm0 11zm0 6zm0 14zm0 3zm0 4zm1-136zm0 44zm0 34zm0 1zm0 5zm0 1zm0 2zm0 10zm0 13zm0 21zm0 1zm0 1zm0 2zm1-97zm0 16zm0 4zm0 5zm0 4zm0 2zm0 7zm0 8zm0 1zm0 12zm0 9zm0 1zm0 1zm0 2zm0 4zm0 2zm0 2zm0 3zm0 11zm1-176zm0 36zm0 43zm0 14zm0 1zm0 4zm0 9zm0 13zm0 11zm0 4zm0 6zm0 6zm0 3zm0 2zm0 1zm0 0zm0 2zm0 1zm0 1zm0 5zm0 2zm0 2zm0 1zm0 7zm1-135zm0 40zm0 6zm0 9zm0 1zm0 8zm0 3zm0 5zm0 1zm0 6zm0 6zm0 0zm0 17zm0 2zm0 5zm0 3zm0 1zm0 3zm0 3zm0 4zm0 4zm0 0zm0 6zm0 6zm1-97zm0 5zm0 19zm0 16zm0 13zm0 6zm0 13zm0 7zm0 6zm0 0zm0 1zm0 1zm0 5zm0 4zm0 2zm1-83zm0 4zm0 30zm0 10zm0 12zm0 4zm0 13zm1-106zm0 13zm0 1zm0 4zm0 22zm0 6zm0 0zm0 2zm0 3zm0 7zm0 19zm0 1zm0 12zm1-112zm0 23zm0 7zm0 17zm0 15zm0 3zm0 9zm0 1zm0 30zm0 3zm0 12zm0 3zm1-83zm0 10zm0 0zm0 4zm0 17zm0 3zm0 17zm0 5zm0 27zm0 1zm0 11zm1-111zm0 32zm0 14zm0 5zm0 27zm0 2zm0 5zm0 3zm0 19zm1-128zm0 69zm0 26zm0 10zm0 8zm0 3zm0 0zm0 3zm0 0zm1-112zm0 24zm0 8zm0 15zm0 14zm0 2zm0 1zm0 1zm0 5zm0 11zm0 8zm0 1zm0 15zm0 1zm0 13zm1-123zm0 2zm0 13zm0 1zm0 3zm0 9zm0 14zm0 2zm0 8zm0 7zm0 10zm0 10zm0 1zm0 4zm0 5zm0 7zm0 1zm0 2zm0 2zm0 1zm0 3zm0 4zm0 0zm0 2zm0 2zm0 6zm0 4zm0 3zm0 4zm1-175zm0 77zm0 19zm0 0zm0 6zm0 6zm0 6zm0 0zm0 2zm0 6zm0 3zm0 2zm0 4zm0 14zm0 2zm0 2zm0 19zm0 4zm0 0zm0 6zm1-165zm0 22zm0 37zm0 32zm0 3zm0 1zm0 3zm0 14zm0 2zm0 1zm0 1zm0 0zm0 1zm0 12zm0 8zm0 1zm0 3zm0 1zm0 6zm0 17zm1-105zm0 18zm0 29zm0 9zm0 16zm0 0zm0 6zm0 4zm0 20zm1-147zm0 11zm0 0zm0 35zm0 3zm0 1zm0 19zm0 1zm0 11zm0 3zm0 5zm0 5zm0 9zm0 6zm0 2zm0 1zm0 5zm0 2zm0 12zm0 0zm0 9zm0 1zm0 4zm0 4zm1-160zm0 46zm0 0zm0 30zm0 5zm0 1zm0 11zm0 2zm0 6zm0 6zm0 7zm0 2zm0 12zm0 1zm0 3zm0 1zm0 9zm0 4zm0 6zm0 1zm0 1zm0 4zm0 1zm1-157zm0 82zm0 5zm0 20zm0 1zm0 0zm0 1zm0 4zm0 3zm0 1zm0 10zm0 23zm0 5zm0 4zm0 1zm1-137zm0 31zm0 4zm0 1zm0 22zm0 12zm0 1zm0 1zm0 5zm0 2zm0 10zm0 3zm0 3zm0 5zm0 0zm0 1zm0 5zm0 1zm0 4zm0 1zm0 2zm0 3zm0 6zm0 1zm0 0zm0 1zm0 4zm0 2zm1-190zm0 55zm0 42zm0 19zm0 12zm0 5zm0 15zm0 3zm0 0zm0 8zm0 9zm0 26zm1-94zm0 21zm0 15zm0 4zm0 1zm0 14zm0 19zm1-1zm0 7zm1-92zm0 1zm0 41zm0 20zm0 0zm0 6zm0 6zm0 15zm0 12zm0 6zm1-132zm0 35zm0 33zm0 28zm0 2zm0 2zm0 1zm0 2zm0 2zm1-100zm0 43zm0 63zm0 22zm1-96zm0 8zm0 8zm0 37zm0 2zm0 4zm0 2zm0 21zm0 11zm1-188zm0 30zm0 75zm0 11zm0 3zm0 1zm0 6zm0 27zm0 16zm0 10zm0 3zm0 2zm1-139zm0 23zm0 4zm0 3zm0 3zm0 1zm0 0zm0 1zm0 17zm0 3zm0 0zm0 7zm0 5zm0 13zm0 0zm0 0zm0 3zm0 4zm0 13zm0 5zm0 1zm0 1zm0 1zm0 1zm0 12zm0 5zm0 1zm0 2zm0 1zm0 4zm0 1zm0 1zm1-105zm0 6zm0 8zm0 0zm0 4zm0 2zm0 10zm0 12zm0 1zm0 3zm0 2zm0 1zm0 5zm0 5zm0 5zm0 2zm0 0zm0 5zm0 1zm0 5zm0 1zm0 5zm0 1zm0 6zm0 9zm0 1zm0 7zm0 1zm1-111zm0 37zm0 6zm0 13zm0 2zm0 2zm0 29zm0 3zm0 7zm0 19zm1-159zm0 4zm0 60zm0 2zm0 15zm0 0zm0 7zm0 13zm0 3zm0 5zm0 17zm0 11zm0 7zm0 14zm1-143zm0 31zm0 3zm0 11zm0 1zm0 49zm0 2zm0 12zm0 3zm0 1zm0 15zm0 13zm0 1zm1-95zm0 1zm0 4zm0 6zm0 11zm0 6zm0 2zm0 20zm0 9zm0 2zm0 11zm0 2zm0 4zm0 3zm0 1zm0 6zm0 1zm0 5zm1-114zm0 20zm0 5zm0 9zm0 4zm0 18zm0 2zm0 1zm0 8zm0 4zm0 3zm0 2zm0 1zm0 10zm0 17zm0 12zm1-112zm0 15zm0 9zm0 5zm0 4zm0 9zm0 3zm0 15zm0 7zm0 2zm0 6zm0 3zm0 2zm0 10zm0 1zm0 3zm0 3zm1-182zm0 2zm0 82zm0 10zm0 2zm0 12zm0 11zm0 1zm0 3zm0 2zm0 2zm0 8zm0 1zm0 1zm0 1zm0 3zm0 9zm0 26zm1-70zm0 39zm0 2zm0 4zm0 16zm0 16zm0 1zm0 9zm0 4zm0 0zm1-63zm0 30zm0 4zm0 2zm0 18zm1-84zm0 25zm0 8zm0 1zm0 14zm0 13zm0 10zm0 2zm0 3zm0 8zm1-70zm0 34zm0 3zm0 11zm0 12zm0 5zm0 7zm0 4zm0 0zm0 2zm1-101zm0 29zm0 10zm0 26zm1-157zm0 78zm0 6zm0 1zm0 25zm0 3zm0 4zm0 28zm0 6zm0 11zm0 21zm0 2zm1-114zm0 19zm0 7zm0 6zm0 20zm0 3zm0 7zm0 5zm0 36zm0 19zm1-95zm0 17zm0 6zm0 9zm0 4zm0 2zm0 27zm0 11zm0 1zm0 14zm1-145zm0 33zm0 30zm0 5zm0 2zm0 1zm0 0zm0 11zm0 33zm0 3zm0 3zm0 12zm0 0zm0 10zm0 7zm1-97zm0 13zm0 9zm0 2zm0 24zm0 4zm0 7zm0 8zm0 3zm0 26zm1-142zm0 43zm0 6zm0 20zm0 31zm0 2zm0 6zm0 5zm0 2zm0 0zm0 4zm0 4zm0 10zm0 4zm1-130zm0 32zm0 5zm0 10zm0 2zm0 12zm0 3zm0 6zm0 7zm0 17zm0 30zm1-123zm0 32zm0 51zm0 3zm0 17zm0 5zm0 6zm0 8zm0 6zm0 7zm1-125zm0 74zm0 2zm0 14zm0 21zm0 3zm0 9zm1-66zm0 4zm0 4zm0 13zm1-27zm0 73zm0 1zm16-160zm1 46zm1-40zm1 18zm0 10zm0 5zm1-38zm0 15zm0 8zm0 7zm0 9zm0 3zm1-55zm0 11zm0 1zm0 9zm0 0zm0 31zm0 1zm0 3zm0 12zm0 2zm1-74zm0 17zm0 8zm0 2zm0 1zm0 13zm0 2zm0 2zm0 6zm0 0zm0 10zm0 10zm1-52zm0 10zm0 17zm0 16zm0 11zm1-61zm0 65zm1-55zm0 14zm0 16zm0 4zm0 7zm2-10zm1 2zm2-43zm1 5zm2 33zm0 1zm0 9zm0 20zm1-68zm0 22zm1 20zm1-50zm0 8zm0 8zm0 2zm0 46zm1-77zm0 36zm0 15zm0 16zm2-29zm0 7zm0 1zm0 2zm0 12zm0 3zm0 3zm1 8zm1-68zm0 52zm1-12zm1-9zm0 27zm1 20zm1-38zm1-16zm0 45zm1-13zm1-32zm0 11zm0 25zm1-19zm0 16zm1-65zm0 9zm0 11zm0 5zm0 18zm0 6zm0 12zm0 17zm0 18zm0 3zm0 11zm1-93zm0 9zm0 5zm0 40zm2-50zm0 11zm0 12zm0 3zm0 14zm1-50zm0 24zm0 30zm0 1zm1-41zm0 11zm0 10zm0 2zm0 6zm0 25zm1-44zm0 4zm0 5zm0 14zm2-18zm10-3zm2-26zm0 16zm0 1zm1-67zm0 40zm0 39zm0 32zm1-65zm2 23zm0 24zm1-48zm0 10zm1-30zm0 17zm0 6zm0 1zm0 12zm0 7zm1-22zm1-52zm0 43zm0 39zm1-35zm0 25zm0 26zm0 1zm3-11zm1-7zm0 14zm1-32zm1-2zm0 15zm0 5zm2-31zm0 21zm0 1zm0 36zm1-69zm0 7zm0 22zm0 11zm1-12zm0 24zm1-17zm0 37zm1-88zm0 17zm0 11zm0 37zm1-62zm0 41zm0 14zm1-63zm0 5zm0 26zm0 40zm0 8zm0 12zm0 17zm1-101zm0 22zm0 6zm0 2zm0 5zm0 1zm0 24zm0 8zm0 71zm1-96zm1-11zm1 1zm2-4zm0 3zm0 11zm0 28zm0 12zm1-65zm0 10zm0 6zm0 14zm1-10zm0 22zm0 4zm0 27zm1-120zm0 72zm0 6zm0 0zm0 14zm1-79zm0 3zm0 52zm0 44zm1-79zm2 54zm0 28zm9-29zm1 21zm0 33zm1-40zm0 6zm0 20zm1 10zm1-57zm0 38zm0 15zm1-33zm0 11zm0 12zm0 7zm0 33zm1-74zm0 7zm0 5zm0 33zm0 14zm0 8zm1-84zm0 23zm0 19zm0 3zm0 28zm0 10zm1-65zm0 12zm1-58zm0 31zm0 5zm0 6zm0 0zm0 3zm0 37zm0 7zm0 3zm1-63zm0 52zm0 2zm0 3zm0 11zm2-42zm0 27zm1-67zm0 103zm2-72zm0 2zm0 9zm0 20zm0 7zm1-53zm0 5zm0 4zm0 64zm1-51zm0 3zm0 10zm0 7zm1-12zm0 25zm0 2zm0 46zm0 7zm4-48zm0 7zm0 4zm0 2zm0 4zm0 11zm1-26zm0 46zm1-95zm0 43zm0 5zm1-119zm0 111zm0 8zm0 11zm0 10zm0 12zm1-52zm0 6zm0 2zm0 20zm0 13zm0 15zm0 1zm0 2zm1-55zm0 41zm0 25zm1-43zm0 23zm0 10zm0 19zm0 2zm1-90zm0 73zm1-56zm1-12zm1 78zm1-113zm0 82zm0 43zm0 17zm1-116zm0 36zm0 15zm0 13zm0 9zm0 21zm1-52zm0 23zm1-45zm0 6z" stroke="#2ca02c" stroke-width="7.4"/>
<path d="M3 419zm0 30zm0 14zm0 13zm0 17zm1-10zm0 1zm1-32zm1-1zm1-31zm0 30zm0 11zm0 5zm0 6zm1-27zm0 26zm0 7zm0 2zm0 5zm1-72zm0 33zm0 8zm0 36zm0 4zm1-56zm0 2zm0 18zm0 15zm0 0zm0 9zm1-134zm0 96zm0 1zm0 16zm0 2zm0 4zm0 7zm1-55zm0 39zm0 13zm1 21zm1-59zm0 5zm0 17zm0 2zm0 3zm0 15zm0 2zm1-20zm1-40zm0 29zm0 6zm0 2zm1-31zm0 1zm0 35zm1 38zm1-36zm1-76zm0 37zm0 29zm0 17zm0 16zm0 7zm1-96zm0 37zm0 0zm1 27zm0 28zm1-64zm0 10zm0 43zm1-60zm0 20zm0 30zm0 22zm1-33zm0 7zm1-37zm0 7zm0 28zm0 14zm1-153zm0 113zm1-17zm0 31zm2-6zm0 29zm1-12zm1 22zm2-65zm0 32zm0 14zm2-11zm0 1zm0 2zm0 2zm0 9zm0 6zm0 9zm1-56zm0 5zm1-7zm0 9zm0 14zm0 3zm0 6zm0 16zm1-16zm0 1zm0 5zm0 18zm0 18zm1-78zm0 20zm0 16zm1-20zm0 3zm0 2zm0 10zm0 2zm0 5zm0 0zm0 5zm0 1zm0 5zm0 7zm0 17zm0 3zm1-58zm0 3zm0 5zm0 11zm0 1zm0 2zm0 4zm0 1zm0 2zm0 3zm0 4zm0 22zm1-71zm0 36zm0 0zm1-9zm0 13zm0 16zm1-53zm1 11zm0 5zm0 0zm0 1zm0 6zm0 12zm0 2zm0 3zm0 7zm1-51zm0 16zm0 1zm0 11zm0 5zm0 5zm0 16zm1-26zm1 0zm0 1zm0 7zm0 5zm0 18zm1-22zm1 1zm0 8zm0 7zm1-64zm2-2zm1 29zm0 5zm0 12zm0 11zm1-21zm0 9zm0 32zm1-66zm1 28zm0 16zm1-32zm0 4zm0 1zm0 2zm0 5zm0 30zm1-26zm0 6zm1-56zm0 48zm1-13zm1 30zm1-35zm0 15zm0 9zm0 23zm1-15zm0 3zm1-30zm0 47zm1 3zm1-44zm1-6zm0 20zm1-30zm0 50zm2-14zm2-34zm0 26zm1 21zm1-40zm0 48zm0 13zm1-71zm0 33zm1 6zm0 5zm0 7zm2-25zm1 1zm0 8zm1-47zm0 31zm0 13zm0 5zm0 8zm0 15zm1-54zm0 41zm0 0zm0 14zm1-42zm0 11zm0 1zm0 13zm1-17zm1 17zm1-49zm0 12zm0 12zm0 8zm0 10zm0 18zm0 0zm1-14zm0 9zm0 1zm0 15zm1-29zm0 4zm0 33zm1-69zm2-34zm0 57zm1-34zm0 14zm0 20zm0 12zm0 0zm0 7zm0 12zm1-30zm0 16zm0 0zm0 6zm0 2zm1-38zm0 1zm0 10zm0 6zm0 15zm0 1zm0 18zm2-69zm1 70zm1-55zm0 15zm1-5zm0 0zm0 3zm0 3zm0 3zm0 9zm0 24zm1-48zm0 22zm0 21zm2-42zm0 15zm2 0zm1 0zm1-28zm0 1zm1 19zm0 19zm1-61zm0 7zm0 29zm0 21zm0 1zm0 2zm1-7zm1 13zm1-52zm0 16zm0 36zm0 2zm0 6zm1-40zm0 2zm0 14zm0 2zm0 37zm1-83zm0 30zm0 6zm0 11zm0 14zm0 22zm0 0zm1-33zm0 12zm0 17zm2-71zm0 10zm1 43zm22-50zm0 15zm0 13zm0 0zm0 5zm0 6zm0 35zm1-86zm0 50zm2 11zm1-64zm2 73zm2-65zm0 3zm0 59zm1-27zm0 17zm0 14zm0 1zm1-66zm1 11zm0 7zm0 13zm0 23zm0 0zm0 3zm1-37zm0 23zm0 6zm1 29zm2-86zm0 50zm0 9zm1-46zm0 13zm0 10zm0 7zm0 7zm0 2zm0 28zm1-12zm1-7zm1-32zm1-20zm1 35zm0 6zm0 9zm1-44zm0 18zm0 16zm0 10zm1-56zm0 29zm0 10zm0 5zm0 5zm1-15zm0 14zm1 4zm1-2zm0 11zm1-29zm0 14zm0 5zm0 10zm1-9zm0 19zm1-127zm0 137zm1-73zm1-16zm0 46zm0 5zm0 7zm1-45zm0 19zm1-17zm0 21zm0 5zm0 2zm0 1zm0 37zm2-57zm0 36zm0 3zm1-5zm0 25zm4-40zm1 17zm0 20zm1-48zm0 0zm0 0zm0 3zm0 3zm0 4zm1-26zm0 12zm0 19zm0 23zm0 7zm0 1zm1-28zm2 23zm1-29zm0 29zm1-95zm0 28zm0 37zm0 12zm0 15zm0 3zm1-53zm1 35zm0 4zm1-13zm0 9zm0 3zm0 19zm1-27zm0 46zm1-89zm0 27zm0 2zm0 1zm0 13zm0 18zm0 1zm1-20zm0 12zm0 0zm0 7zm0 10zm1-48zm1 40zm3-44zm1-1zm0 0zm0 2zm0 15zm0 19zm0 5zm0 9zm0 11zm1-76zm0 17zm0 1zm0 1zm0 1zm0 23zm1-42zm0 10zm0 30zm0 11zm0 0zm0 26zm1-57zm0 6zm0 3zm0 1zm0 2zm0 7zm0 2zm0 0zm0 21zm0 1zm1-47zm0 7zm0 5zm0 1zm0 6zm0 5zm0 3zm0 17zm0 15zm1-79zm0 12zm0 2zm0 26zm0 14zm0 11zm1-25zm0 1zm2-44zm0 10zm0 37zm0 6zm0 14zm1-60zm0 26zm0 3zm0 4zm0 11zm0 27zm1-11zm1-34zm0 11zm1-15zm0 3zm0 16zm0 4zm0 21zm0 10zm1-49zm0 16zm2-18zm0 51zm1-38zm0 1zm1-34zm0 24zm1 9zm0 2zm0 7zm0 1zm0 9zm0 4zm0 1zm1-43zm0 1zm0 7zm0 2zm0 4zm0 10zm0 7zm0 6zm0 21zm0 0zm1-56zm0 1zm0 3zm0 12zm0 4zm0 1zm0 4zm0 1zm0 1zm0 6zm0 5zm0 7zm0 6zm1-24zm0 2zm0 12zm1-5zm1-23zm0 10zm0 21zm1-42zm0 11zm1-15zm0 48zm1-44zm0 5zm0 15zm0 13zm0 3zm0 4zm1-35zm0 11zm0 7zm0 14zm0 11zm1-62zm0 2zm0 0zm0 16zm0 1zm0 23zm0 2zm1-2zm1-20zm0 27zm0 3zm1-16zm1-22zm0 29zm0 1zm0 1zm1-55zm0 4zm0 63zm0 14zm1-43zm0 1zm1-37zm0 21zm0 1zm0 4zm0 1zm0 3zm0 3zm0 4zm0 1zm0 0zm0 2zm0 5zm0 3zm0 10zm0 2zm0 4zm1-38zm0 5zm0 42zm4-42zm1-114zm0 57zm0 41zm0 24zm0 4zm0 6zm0 0zm0 4zm0 1zm0 2zm0 2zm0 12zm1-162zm0 8zm0 51zm0 5zm0 105zm1-138zm1-17zm0 16zm0 6zm0 20zm0 5zm0 12zm1-12zm0 2zm0 1zm1-58zm0 20zm0 4zm0 19zm0 11zm1-64zm0 20zm0 2zm1-13zm0 2zm0 16zm0 6zm0 11zm0 10zm1-109zm0 72zm0 13zm0 0zm0 6zm0 9zm0 2zm0 32zm0 2zm0 1zm1-75zm0 28zm0 2zm0 10zm0 0zm0 6zm0 7zm0 1zm0 15zm1-91zm0 70zm0 5zm0 12zm0 2zm1-70zm0 11zm0 6zm0 7zm0 1zm0 15zm0 4zm0 15zm0 5zm1-85zm0 24zm0 5zm0 6zm0 19zm0 7zm1-73zm0 34zm0 11zm0 18zm0 5zm0 3zm0 13zm0 3zm0 1zm0 15zm0 15zm0 1zm0 1zm1-83zm0 4zm0 9zm0 1zm0 4zm0 9zm0 2zm0 11zm0 1zm0 4zm0 6zm0 0zm0 3zm0 1zm0 4zm0 4zm0 12zm0 33zm1-107zm0 16zm0 11zm0 10zm0 6zm0 3zm0 7zm0 3zm0 20zm0 5zm0 36zm0 3zm1-111zm0 2zm0 22zm0 2zm0 4zm0 7zm0 25zm0 0zm1-14zm0 22zm0 3zm1-114zm0 47zm0 17zm0 20zm1-3zm0 11zm2-4zm0 34zm1-67zm0 8zm0 17zm0 3zm0 56zm1-14zm1-68zm1 5zm0 5zm0 7zm1-2zm0 7zm1-7zm1-8zm0 9zm1-63zm0 78zm0 7zm0 1zm0 5zm1-8zm0 23zm1-53zm1 42zm1-80zm0 54zm1-72zm0 22zm0 3zm1-4zm0 53zm1-65zm0 45zm1-5zm0 2zm0 8zm0 4zm1-73zm0 15zm0 55zm1 18zm2-31zm1 17zm0 11zm1-93zm0 46zm0 9zm0 9zm0 3zm0 74zm1-95zm0 56zm0 2zm1-124zm0 78zm0 25zm0 44zm1-68zm0 31zm0 3zm0 20zm1-70zm1 75zm0 15zm1-116zm0 37zm0 12zm1-14zm0 27zm0 2zm0 15zm1-39zm0 1zm0 1zm0 12zm0 16zm0 2zm0 60zm1-105zm0 31zm0 25zm0 33zm0 35zm1-111zm0 5zm0 8zm0 15zm0 6zm0 5zm1-80zm0 57zm0 109zm1-89zm1-58zm0 36zm1-24zm0 4zm0 28zm1-37zm0 9zm0 19zm0 19zm1-1zm0 8zm0 1zm0 14zm0 20zm1-61zm0 1zm0 13zm0 3zm1-17zm0 9zm0 1zm0 34zm1-44zm0 16zm3-31zm0 43zm0 19zm1-90zm0 57zm0 8zm0 5zm1-80zm0 21zm0 16zm0 18zm0 13zm1-30zm0 40zm0 38zm1-138zm0 72zm0 23zm0 8zm0 4zm0 41zm1-73zm0 8zm0 7zm0 42zm1-85zm0 9zm0 54zm1-40zm0 16zm1-47zm0 63zm0 13zm1-90zm0 80zm0 8zm1-81zm0 50zm0 3zm0 14zm0 2zm1-99zm0 30zm0 26zm0 1zm0 25zm0 8zm0 26zm1-68zm0 13zm0 11zm0 15zm0 4zm0 5zm0 9zm0 14zm0 18zm1-64zm0 16zm0 6zm0 31zm1-78zm0 45zm1-27zm0 21zm0 3zm0 11zm1-73zm0 11zm0 23zm0 1zm0 0zm0 3zm0 16zm0 5zm0 1zm0 9zm0 16zm1-44zm0 3zm0 5zm0 5zm0 0zm0 0zm0 0zm0 2zm0 45zm1-88zm0 15zm0 3zm1 0zm0 32zm0 17zm1-56zm0 15zm0 21zm0 1zm1-43zm0 11zm2 26zm1 0zm0 56zm1-55zm2-41zm0 7zm0 10zm0 25zm0 33zm1-50zm0 6zm0 68zm1-53zm1-51zm0 22zm0 1zm0 49zm1-58zm0 19zm1-3zm0 15zm1 46zm0 2zm2-70zm0 3zm0 16zm0 9zm0 2zm0 26zm0 19zm1-92zm0 18zm0 22zm0 7zm0 1zm0 9zm0 5zm0 58zm1-123zm0 65zm1-66zm0 40zm0 10zm0 14zm1-27zm0 7zm0 21zm1-60zm0 13zm0 15zm0 8zm1 34zm0 12zm0 1zm1-78zm0 3zm0 27zm0 28zm0 13zm2-38zm0 2zm0 35zm1-56zm0 6zm0 7zm0 33zm0 5zm1-55zm0 48zm1-46zm0 9zm1-8zm0 61zm1-62zm0 13zm1-10zm0 0zm0 65zm1-73zm0 37zm0 7zm1-73zm0 21zm0 28zm0 18zm1-12zm0 26zm1-38zm1 35zm0 25zm1-102zm0 58zm1-80zm0 37zm0 16zm0 20zm0 1zm0 13zm0 22zm1 2zm1-39zm1 1zm0 4zm0 25zm1-16zm0 43zm1-62zm1-2zm0 79zm1-108zm0 20zm0 26zm1-27zm0 28zm0 13zm0 24zm0 9zm0 32zm1-108zm0 83zm1-123zm0 45zm2 24zm0 7zm0 15zm1-63zm0 31zm0 17zm0 5zm0 18zm0 3zm0 2zm0 3zm1-99zm0 24zm0 18zm0 5zm0 1zm0 7zm0 4zm0 9zm0 21zm0 19zm0 16zm0 0zm1-119zm0 9zm0 15zm0 4zm0 6zm0 2zm0 16zm0 4zm0 11zm0 2zm0 8zm0 39zm1-101zm0 19zm0 30zm0 4zm1-47zm0 26zm0 13zm1-106zm1 8zm0 60zm0 60zm1-78zm1 22zm0 35zm0 12zm0 12zm1-59zm0 35zm0 5zm1-54zm0 25zm1 2zm0 3zm0 2zm0 1zm0 1zm0 29zm1-78zm0 4zm0 9zm0 9zm0 21zm0 5zm0 2zm0 29zm0 13zm0 2zm1-53zm0 20zm0 20zm0 2zm0 0zm0 1zm0 40zm1-162zm0 37zm0 69zm0 3zm0 26zm1-70zm0 27zm0 13zm0 12zm0 2zm0 52zm1-41zm1-87zm0 29zm0 26zm0 11zm0 3zm0 8zm0 6zm0 14zm1-31zm0 34zm1-97zm0 59zm0 60zm1-96zm1-15zm0 10zm0 31zm0 49zm1-88zm0 8zm0 63zm1-61zm0 9zm0 34zm0 31zm0 12zm1-124zm0 20zm0 5zm0 9zm0 40zm0 1zm0 12zm0 15zm1-39zm1-4zm0 19zm0 7zm1-72zm0 17zm0 57zm1-73zm0 38zm4 9zm0 28zm1-36zm0 3zm1-41zm0 8zm0 18zm0 3zm0 30zm0 32zm1-63zm1 25zm1-50zm0 23zm0 57zm1-42zm1 25zm1-11zm1-2zm0 16zm0 4zm0 16zm1-62zm0 27zm1-21zm0 27zm1-27zm0 2zm0 8zm1-26zm0 14zm0 36zm0 8zm1-12zm1-60zm0 97zm1-71zm0 38zm1-54zm0 19zm0 6zm0 62zm1-61zm0 46zm1-65zm1 10zm0 20zm0 16zm0 30zm1-102zm0 14zm0 53zm1-57zm0 17zm0 10zm0 3zm0 14zm0 1zm0 7zm0 19zm0 12zm1-82zm0 8zm0 23zm0 52zm1-117zm0 29zm0 20zm0 6zm0 11zm0 7zm0 8zm0 5zm0 14zm0 4zm0 58zm1-137zm0 8zm0 16zm0 4zm0 39zm1-90zm0 33zm0 31zm0 45zm0 7zm1-54zm0 5zm0 8zm0 34zm0 1zm1-89zm0 32zm0 2zm1-10zm0 93zm1-133zm0 76zm0 5zm0 15zm1-18zm0 3zm1-18zm0 16zm0 13zm0 33zm1-72zm0 50zm0 16zm4 56zm0 28zm1-13zm1-9zm3-11zm0 13zm1-23zm3 13zm2-15zm8-4zm0 15zm0 4zm0 9zm0 6zm1-8zm0 17zm2-117zm1 104zm5 11zm3-96zm0 76zm0 4zm0 9zm1-43zm1 44zm1-14zm1 26zm1-4zm2-13zm2-50zm2 62zm1 9zm8-28zm1 18zm1-6zm0 6zm8-31zm1 21zm6-25zm0 0zm0 11zm0 15zm1-34zm3 40zm1-34zm3 31zm1 5zm1-31zm0 8zm0 6zm0 15zm1-15zm1-27zm2 31zm1-16zm0 34zm1 4zm3-33zm0 6zm4 25zm11-13zm3-27zm13 31zm4-12zm1-7zm9-7zm12-87zm5 105zm0 0zm1-11zm2 10zm1-12zm2-69zm4 85zm1-7zm1 6zm4-65zm5 69zm1-9zm1 8zm9-22zm0 38zm1-19zm0 12zm0 7zm20-35zm1 5zm0 1zm1-55zm0 63zm0 10zm6 4zm2-15zm2 14zm0 8zm1-61zm6 43zm1 0zm1-1zm3-86zm1-69zm0 6zm0 23zm0 40zm0 53zm1-178zm0 139zm2-118zm2 1zm1 55zm1-15zm1 14zm1-24zm0 4zm0 4zm0 22zm1 47zm1-95zm0 85zm2-49zm5-27zm2 19zm0 22zm1-35zm0 29zm2-75zm0 43zm0 14zm0 11zm0 11zm0 28zm1-79zm0 18zm0 31zm0 38zm1-99zm0 3zm0 14zm0 15zm0 1zm0 7zm0 28zm0 26zm0 61zm1-131zm0 0zm0 0zm0 5zm0 1zm0 4zm1-23zm0 59zm2 33zm1-101zm0 29zm1-48zm0 38zm1-16zm0 17zm0 25zm1-22zm0 8zm1 49zm1-19zm3-11zm2 14zm2-80zm0 28zm2 34zm0 61zm1-91zm0 38zm4-46zm0 61zm1-60zm0 126zm1-46zm1-116zm0 88zm1-65zm0 25zm0 21zm0 30zm1-90zm1 34zm1-10zm0 37zm1-15zm0 15zm0 16zm3-40zm0 26zm0 69zm3-78zm0 17zm3-8zm0 13zm1-61zm0 41zm1-42zm0 30zm0 1zm0 18zm1-22zm0 37zm2-33zm1-17zm0 13zm0 38zm1-15zm4 29zm2-22zm0 16zm0 11zm0 25zm1-101zm0 35zm1-63zm0 24zm0 17zm0 2zm0 6zm0 2zm0 10zm1-7zm0 4zm0 4zm0 11zm0 13zm0 30zm0 27zm1-132zm0 61zm1-46zm0 14zm0 27zm3 13zm1-28zm0 34zm0 32zm1-97zm0 21zm0 38zm0 13zm0 8zm1-31zm1-13zm1-54zm0 19zm0 4zm0 13zm0 34zm0 17zm0 1zm0 2zm0 0zm0 5zm0 11zm0 3zm0 15zm1-92zm0 6zm0 33zm0 6zm0 1zm0 28zm1-56zm0 48zm0 1zm0 7zm2-107zm0 17zm1 5zm0 55zm1-60zm0 1zm0 35zm0 32zm0 11zm1-49zm3 17zm0 47zm1-19zm1-75zm0 55zm0 1zm0 65zm1-141zm0 47zm0 13zm0 34zm0 3zm1-62zm8 6zm0 50zm0 33zm1-17zm0 25zm2-71zm1-41zm3 63zm1 1zm0 15zm3-32zm0 5zm0 8zm1-33zm0 18zm1-19zm0 38zm1-30zm0 37zm1 16zm1-45zm0 24zm0 64zm1-106zm0 49zm0 12zm1-56zm0 4zm0 22zm3-12zm3-11zm0 87zm1-118zm0 16zm0 21zm0 20zm0 31zm0 8zm3-118zm0 20zm0 66zm1 3zm1-42zm0 3zm1 9zm1-21zm1 2zm0 1zm0 72zm1-1zm2-106zm0 72zm1-23zm0 0zm0 13zm0 10zm1 0zm0 3zm0 3zm0 14zm0 12zm1-95zm0 58zm0 6zm0 3zm0 8zm0 4zm0 41zm1-117zm0 29zm0 36zm0 12zm0 4zm0 16zm1-110zm0 13zm0 27zm1 27zm0 13zm1-51zm0 25zm0 5zm0 12zm0 2zm1-63zm1 10zm0 26zm0 112zm1-111zm0 0zm0 45zm1 0zm1-2zm1-96zm0 66zm1 34zm1-27zm7-16zm0 23zm1-76zm0 113zm1-48zm1 1zm1 8zm7 88zm1-114zm1 33zm1 31zm1-35zm0 23zm2-15zm0 16zm0 42zm1-114zm1 45zm0 5zm0 11zm0 15zm0 3zm0 4zm0 3zm0 10zm0 14zm1-23zm0 35zm0 14zm2-18zm1-48zm0 53zm1-31zm1-25zm1-2zm0 51zm2-44zm0 43zm2-84zm0 42zm0 11zm4-27zm1 22zm2-44zm0 26zm0 6zm0 56zm1-56zm0 41zm1-14zm2-29zm0 29zm2-80zm0 5zm0 22zm0 39zm1-32zm0 10zm0 18zm1 33zm2-47zm1 13zm1-38zm0 7zm0 39zm2-36zm0 50zm6-11zm2 6zm1-27zm0 38zm1-11zm2-25zm0 45zm1-49zm0 17zm0 2zm0 49zm1-95zm0 9zm0 12zm0 2zm0 28zm0 4zm1-71zm0 35zm0 11zm0 59zm1-95zm0 14zm0 41zm1-81zm0 18zm0 26zm0 61zm1-42zm0 4zm2 12zm1-45zm0 32zm0 2zm0 14zm1-54zm0 24zm1 5zm0 1zm0 1zm0 2zm0 29zm1-55zm0 1zm0 3zm0 10zm0 34zm1-8zm3-37zm0 6zm0 61zm0 2zm1-115zm0 15zm0 46zm0 27zm0 1zm0 20zm0 6zm1-78zm0 19zm0 37zm2-20zm1-32zm0 67zm1-44zm0 8zm0 15zm0 3zm1-13zm3-12zm1 0zm0 44zm0 17zm1-55zm1-34zm0 23zm0 30zm4 12zm1 11zm1-68zm0 32zm0 1zm0 16zm0 28zm1-128zm1 51zm0 1zm0 34zm1 14zm0 18zm1-59zm0 1zm0 4zm0 1zm0 26zm0 33zm1-119zm0 13zm0 29zm0 4zm0 34zm0 13zm0 5zm0 0zm0 11zm1-120zm2 50zm2 24zm0 14zm1-34zm0 26zm0 2zm0 3zm0 0zm0 7zm0 7zm3-33zm1-55zm0 110zm1-55zm0 52zm3-38zm3 7zm1-40zm2-1zm0 51zm1 13zm0 4zm1-33zm1-12zm0 18zm0 50zm0 8zm3-100zm0 18zm1-41zm0 74zm0 43zm0 20zm2-79zm0 20zm2-61zm0 26zm0 48zm1-52zm0 2zm0 41zm1 14zm1-1zm2-80zm0 31zm0 6zm0 25zm0 56zm1-95zm0 0zm0 10zm1-16zm0 14zm0 10zm0 3zm0 5zm0 23zm1 6zm1-68zm1 35zm0 23zm0 0zm0 9zm1-39zm0 25zm1-54zm1 59zm0 36zm0 3zm2-159zm0 101zm0 4zm0 77zm1-88zm0 21zm0 2zm1-58zm0 50zm0 13zm4 1zm3 20zm1-35zm1-22zm0 35zm1-43zm0 28zm1-31zm0 15zm0 10zm0 18zm1-88zm0 48zm0 2zm0 46zm1-24zm0 8zm0 47zm1-113zm0 11zm0 15zm1-14zm0 20zm0 12zm0 71zm1-64zm1-7zm1 46zm1-52zm0 79zm0 39zm1-128zm1 8zm0 24zm0 20zm1-120zm0 82zm0 7zm0 0zm0 13zm0 17zm0 16zm1-63zm0 40zm0 50zm1-108zm1-4zm0 3zm0 62zm1-24zm1-11zm3 14zm1-4zm0 24zm0 15zm1-107zm0 6zm0 81zm0 28zm1-94zm0 18zm0 19zm2-82zm0 12zm0 7zm0 30zm0 9zm1-49zm1 2zm0 20zm0 7zm2-39zm0 44zm1-16zm0 10zm0 58zm2-58zm0 12zm1 19zm1-34zm0 15zm0 0zm0 3zm0 28zm1-85zm0 76zm1-51zm0 3zm0 2zm0 0zm0 0zm0 48zm0 25zm1-61zm0 3zm0 0zm0 48zm0 11zm0 3zm0 1zm1-99zm0 8zm1 13zm1-17zm0 0zm0 3zm0 10zm0 7zm0 22zm0 9zm0 18zm1-64zm0 81zm1-53zm0 24zm1-37zm0 14zm0 0zm0 7zm1-46zm0 31zm0 25zm1-16zm1-42zm0 25zm0 6zm0 9zm1-35zm0 2zm0 3zm0 19zm0 45zm0 2zm1-65zm0 3zm0 1zm0 2zm0 9zm0 6zm0 2zm0 1zm0 18zm0 21zm1-67zm0 26zm0 5zm0 5zm0 3zm0 6zm0 2zm0 5zm0 1zm0 1zm0 4zm0 44zm1-101zm0 7zm0 5zm0 25zm0 15zm1-64zm0 32zm0 10zm0 2zm0 0zm0 27zm0 7zm0 20zm1-94zm0 21zm0 7zm0 8zm0 15zm1-55zm0 20zm0 13zm0 17zm0 2zm0 4zm0 18zm1-74zm0 7zm0 17zm0 4zm0 33zm1-51zm0 1zm0 11zm0 9zm0 3zm0 11zm0 3zm0 1zm0 10zm0 8zm0 38zm1-89zm0 16zm0 1zm0 6zm0 11zm0 24zm0 9zm0 21zm1-82zm0 3zm0 18zm0 22zm0 1zm0 12zm1-73zm0 1zm0 7zm0 17zm0 4zm0 12zm0 1zm0 18zm0 1zm0 2zm0 13zm1-60zm0 2zm0 25zm0 3zm0 8zm1-36zm0 22zm0 29zm1-67zm0 14zm0 7zm0 12zm0 2zm0 8zm0 1zm0 38zm0 8zm1-80zm0 32zm0 4zm0 3zm0 24zm0 4zm0 3zm0 28zm1-106zm0 14zm0 2zm0 18zm0 4zm0 10zm0 5zm0 7zm0 13zm1-61zm0 8zm0 3zm0 16zm0 2zm0 2zm0 6zm1-56zm0 29zm0 7zm0 5zm0 4zm0 7zm1-35zm0 14zm0 16zm1-11zm0 12zm0 9zm1-46zm0 18zm0 20zm0 9zm0 21zm1-23zm0 33zm0 4zm1-70zm0 5zm0 17zm1-5zm0 1zm0 30zm120-20zm1-32zm0 91zm0 0zm1-47zm0 10zm0 3zm0 25zm0 11zm0 12zm1-95zm0 1zm0 17zm0 12zm0 4zm0 1zm0 0zm0 57zm0 17zm1-55zm1-51zm0 26zm1 1zm0 16zm0 3zm1-40zm0 17zm0 5zm0 27zm1-66zm0 11zm2-11zm0 38zm1 16zm0 3zm0 9zm0 34zm2-98zm0 0zm0 15zm0 10zm0 35zm0 32zm0 2zm0 24zm1-103zm0 28zm0 5zm0 54zm0 10zm1-116zm0 11zm0 7zm0 45zm0 32zm0 0zm0 8zm2-86zm0 7zm0 28zm0 3zm2-14zm1-17zm0 8zm0 3zm1-22zm0 22zm0 10zm0 0zm1 47zm0 15zm1-78zm0 14zm0 12zm0 6zm0 2zm0 46zm0 22zm1-147zm0 7zm0 40zm0 14zm0 10zm0 6zm0 9zm0 0zm0 2zm0 2zm0 17zm1-107zm0 16zm0 16zm0 6zm0 5zm0 0zm0 3zm0 12zm0 5zm0 19zm0 3zm0 6zm1-84zm0 42zm0 8zm0 21zm0 5zm0 6zm0 7zm1-71zm0 8zm0 9zm0 22zm0 5zm0 2zm0 22zm1-59zm0 4zm0 8zm0 16zm1 34zm1-27zm1 6zm1-38zm0 3zm0 53zm0 9zm1-80zm0 23zm0 2zm0 27zm0 6zm0 7zm1-65zm0 63zm0 9zm2-60zm0 9zm0 12zm1-31zm0 1zm0 11zm0 17zm0 7zm0 27zm0 3zm0 39zm0 10zm1-98zm0 25zm0 32zm1-52zm0 21zm0 24zm0 1zm0 4zm1-50zm0 2zm1-47zm0 30zm0 10zm0 10zm0 13zm0 17zm0 8zm0 9zm0 2zm0 9zm0 29zm1-90zm0 20zm0 1zm0 2zm0 35zm1-35zm0 11zm0 29zm1-83zm0 32zm1-32zm0 41zm1-61zm0 28zm0 2zm0 15zm0 43zm0 9zm0 4zm0 13zm1-7zm1-47zm1 11zm1-54zm0 10zm0 5zm0 12zm0 21zm0 36zm1-78zm0 11zm0 7zm2-27zm4 15zm0 12zm2-14zm0 6zm0 1zm0 0zm1-30zm0 1zm0 4zm0 5zm0 3zm0 4zm0 7zm0 8zm0 0zm0 5zm0 11zm1-25zm0 11zm0 4zm0 14zm0 20zm1-56zm0 0zm0 14zm1-16zm2-18zm2 12zm0 42zm1-22zm1-24zm0 34zm1-39zm1-16zm0 43zm1-29zm0 49zm1-15zm0 17zm2-37zm0 22zm0 3zm1-20zm1 17zm1-16zm2 13zm1-46zm0 32zm0 6zm1 51zm1-39zm1-28zm0 4zm0 30zm0 14zm1-34zm0 2zm0 13zm0 5zm0 3zm0 1zm1-55zm0 14zm0 12zm0 16zm0 1zm0 1zm0 13zm1-50zm0 32zm0 18zm0 11zm1-44zm0 9zm0 34zm1-13zm2-21zm1-13zm0 35zm1-3zm0 9zm1-11zm0 3zm0 11zm0 19zm1-67zm0 29zm0 33zm1-84zm0 13zm0 37zm0 5zm0 1zm0 6zm1-27zm0 4zm0 18zm0 1zm0 0zm0 7zm1-61zm0 20zm0 14zm0 2zm0 13zm0 10zm1-50zm0 0zm0 5zm0 20zm0 1zm0 1zm0 14zm0 3zm1-53zm0 41zm0 4zm0 23zm0 3zm1-45zm0 9zm0 1zm0 17zm0 9zm1-46zm0 9zm0 11zm0 5zm0 1zm0 4zm0 1zm1-15zm0 2zm0 5zm0 29zm1-47zm0 3zm0 5zm0 15zm0 5zm0 8zm1-52zm0 29zm0 11zm0 1zm1-51zm0 30zm0 51zm1-34zm0 25zm0 33zm1-100zm0 11zm0 18zm0 10zm0 0zm0 4zm0 4zm0 9zm1-12zm0 24zm1-68zm0 9zm0 4zm0 23zm0 36zm1-26zm0 24zm1-57zm0 21zm0 2zm0 5zm0 26zm1-55zm0 26zm0 13zm0 14zm1-42zm0 25zm0 12zm1-49zm0 20zm0 3zm0 11zm0 2zm0 3zm1-28zm0 22zm1-8zm0 2zm0 14zm1-32zm0 43zm1-58zm0 5zm0 6zm0 11zm0 17zm0 1zm0 4zm0 3zm0 4zm1-44zm0 17zm0 3zm0 6zm0 15zm0 6zm0 10zm1-51zm0 15zm0 6zm0 1zm0 25zm1-57zm0 8zm0 30zm1-40zm0 28zm0 2zm0 4zm1-9zm0 5zm0 5zm0 18zm1-48zm0 18zm0 18zm0 1zm1-39zm3 37zm3-9zm1 11zm0 6zm0 0zm2-34zm0 74zm1-67zm0 0zm0 19zm0 6zm0 21zm1-60zm0 7zm0 65zm2-30zm1-30zm0 26zm0 33zm1-88zm0 27zm0 8zm0 1zm0 3zm0 2zm0 13zm0 5zm0 14zm1-73zm0 18zm0 6zm0 7zm0 8zm0 1zm0 3zm0 5zm0 4zm0 1zm0 1zm0 1zm0 23zm1-19zm1-50zm0 11zm0 13zm0 2zm0 7zm0 2zm0 10zm1-45zm0 14zm0 18zm0 7zm0 3zm0 13zm1-36zm0 34zm1-39zm0 6zm0 5zm0 17zm1-39zm0 28zm0 16zm2-41zm0 9zm0 26zm1-22zm0 11zm0 12zm1-38zm0 6zm0 1zm0 13zm0 5zm0 7zm0 0zm1 4zm0 29zm1-47zm0 8zm0 14zm0 14zm0 7zm1-68zm0 23zm0 9zm0 0zm0 9zm0 3zm1-29zm0 3zm0 30zm0 3zm0 1zm0 29zm1-61zm0 176zm6-36zm0 12zm1-8zm0 21zm1 30zm0 2zm1-175zm0 131zm1 55zm1-95zm2-103zm0 107zm1 20zm0 49zm0 22zm1-161zm0 128zm0 4zm0 19zm3-67zm0 63zm1-52zm0 51zm1-146zm0 153zm1-181zm0 105zm0 11zm0 6zm1-44zm0 73zm1-60zm1 66zm2-32zm3 34zm1 15zm1-12zm1-106zm0 30zm2 37zm0 7zm9-74zm2 21zm1-33zm0 10zm0 26zm0 10zm1-20zm0 47zm0 28zm1-153zm0 174zm0 12zm5-147zm5-16zm0 10zm1-60zm0 27zm1 51zm1-27zm0 6zm2-56zm0 40zm0 20zm2-30zm5 154zm0 14zm0 16zm3-52zm1-4zm0 21zm0 13zm1-171zm0 140zm0 32zm0 18zm1-194zm0 121zm0 17zm0 25zm0 2zm0 7zm0 0zm0 18zm0 6zm0 1zm1-13zm0 15zm1-91zm0 69zm0 21zm1-30zm1-78zm0 25zm0 26zm1-105zm0 61zm2-102zm0 76zm0 27zm2-71zm6-27zm0 49zm0 6zm0 117zm1-68zm0 78zm1-128zm1 22zm1-5zm0 7zm1-49zm0 92zm3-90zm1-1zm0 87zm1-123zm2 73zm7-70zm0 5zm1 9zm0 22zm0 18zm1-67zm0 32zm0 18zm0 58zm0 6zm0 72zm1-112zm3 39zm1-27zm0 7zm0 28zm1-23zm0 64zm1-143zm0 193zm1-190zm0 80zm0 13zm0 61zm1-49zm0 28zm2-123zm0 62zm0 5zm0 30zm1-54zm1 49zm2-25zm0 10zm1-114zm0 79zm0 6zm0 20zm0 4zm0 6zm0 7zm0 23zm0 58zm0 18zm1-167zm0 27zm0 24zm0 73zm1-145zm0 77zm2-32zm0 35zm0 37zm1-109zm1-13zm0 59zm0 16zm1-49zm0 6zm0 7zm0 14zm0 7zm0 2zm0 2zm0 8zm0 1zm0 3zm0 3zm0 7zm0 7zm1-52zm0 93zm1 17zm1-114zm0 12zm0 59zm1-31zm4 114zm2-42zm0 29zm1 22zm6-30zm12-42zm3-53zm1 108zm1-21zm2 14zm1 24zm1-7zm3-39zm4 32zm1-20zm0 5zm32 8zm3-10zm0 12zm1-7zm4-30zm1 33zm0 21zm1-37zm1 5zm1-8zm2 2zm1-65zm7 8zm0 71zm1 2zm2-21zm4 23zm1 5zm2-23zm1 17zm7-22zm0 5zm0 5zm0 5zm0 9zm0 5zm1-33zm0 43zm1-26zm3-29zm1 28zm0 11zm2-20zm4 42zm4-100zm0 72zm0 2zm0 13zm1-22zm1 22zm3-2zm3-80zm2-58zm0 13zm0 14zm0 33zm1-64zm0 9zm0 1zm0 8zm0 29zm1-30zm0 34zm0 1zm0 8zm2-93zm0 0zm1 21zm0 21zm0 4zm0 13zm0 2zm0 4zm0 1zm1-35zm1-4zm0 35zm1-47zm0 8zm0 26zm0 35zm1-21zm0 13zm1-34zm1-28zm0 9zm0 20zm0 31zm0 7zm0 9zm1-86zm0 19zm0 10zm0 5zm0 15zm0 9zm1-27zm0 21zm3 34zm1-62zm0 48zm1-95zm0 74zm0 6zm0 1zm0 9zm1-50zm0 24zm0 27zm0 11zm1-29zm1 14zm2-36zm0 7zm0 48zm1-80zm0 25zm0 25zm0 5zm0 1zm0 5zm1-38zm0 39zm0 1zm1-44zm0 0zm0 8zm0 12zm0 15zm0 44zm6-53zm0 6zm0 36zm0 9zm1-80zm0 34zm0 57zm2-64zm3-16zm0 25zm0 29zm1-58zm1 6zm1-25zm0 19zm1-12zm0 25zm0 82zm1-63zm0 23zm1-30zm0 2zm0 7zm0 28zm1-5zm0 10zm1-69zm0 26zm1-39zm0 66zm1-25zm4-45zm2 52zm3-47zm1 9zm0 35zm0 0zm0 6zm0 11zm1-78zm0 20zm0 22zm0 26zm0 21zm0 3zm1-44zm0 21zm0 7zm0 10zm1-35zm0 8zm0 4zm1-32zm0 5zm0 6zm0 15zm0 17zm1-76zm0 30zm0 32zm67-41zm1-11zm1-16zm0 18zm0 31zm1-81zm0 47zm2 49zm2-87zm0 31zm0 36zm0 4zm0 5zm1 37zm1-122zm0 30zm0 16zm0 6zm0 1zm0 31zm0 4zm0 4zm0 1zm3-52zm0 12zm0 7zm1-27zm0 16zm0 16zm0 13zm0 4zm0 7zm0 28zm1-79zm0 43zm0 4zm0 2zm0 3zm1-10zm1-50zm0 25zm0 2zm0 9zm0 9zm0 18zm1-86zm0 9zm0 4zm0 25zm0 33zm0 22zm0 20zm0 11zm1-56zm0 0zm1-39zm0 27zm0 24zm1-92zm0 64zm0 4zm0 1zm0 5zm0 45zm1-94zm0 9zm0 16zm0 0zm0 1zm0 16zm0 1zm0 18zm0 2zm0 3zm0 3zm0 0zm0 33zm1-59zm0 1zm0 16zm0 29zm1-78zm0 10zm0 14zm0 12zm0 9zm0 4zm0 4zm1-35zm0 36zm1-18zm5-36zm0 15zm0 38zm1-49zm0 6zm0 24zm1 5zm0 17zm0 3zm1-71zm0 30zm0 13zm0 41zm0 4zm1-75zm0 31zm0 42zm0 13zm0 6zm0 2zm1-64zm0 31zm0 1zm0 8zm0 34zm1-68zm1-46zm1 36zm0 22zm1-21zm0 11zm0 8zm0 4zm0 12zm0 3zm0 3zm1-104zm0 0zm0 33zm0 34zm0 31zm0 18zm1-91zm0 49zm0 7zm0 28zm0 10zm2-91zm0 2zm0 50zm0 5zm0 10zm1-76zm0 2zm0 33zm0 11zm0 4zm0 9zm0 49zm1-111zm0 39zm0 3zm1 23zm0 0zm7-53zm0 68zm1-16zm0 8zm1-50zm0 6zm0 8zm0 6zm0 0zm0 11zm0 7zm0 32zm0 9zm0 35zm1-144zm0 12zm0 3zm0 11zm0 6zm0 3zm0 16zm0 10zm0 12zm0 11zm1-26zm0 6zm0 10zm0 4zm0 16zm0 10zm1-68zm0 3zm0 22zm0 21zm0 1zm0 10zm1-66zm0 27zm0 32zm1-56zm0 23zm0 17zm1-61zm0 16zm0 21zm0 5zm0 42zm0 2zm0 3zm0 7zm1-102zm0 36zm0 2zm0 11zm0 17zm0 0zm0 5zm0 22zm0 17zm0 2zm1-85zm0 4zm0 3zm0 5zm0 37zm1-42zm0 8zm0 18zm2 23zm1-75zm0 70zm0 30zm1-55zm0 21zm0 8zm1-44zm0 14zm1-16zm0 7zm0 68zm1-89zm0 0zm0 13zm0 11zm0 39zm0 2zm1-68zm0 43zm0 5zm1-51zm0 18zm0 25zm0 20zm1-44zm0 2zm0 23zm0 29zm1-54zm0 41zm1-9zm0 37zm1-37zm0 22zm0 67zm1-144zm0 1zm0 71zm0 37zm1-60zm0 20zm1-46zm0 52zm1-67zm0 33zm0 9zm0 12zm0 47zm1-74zm0 21zm1-78zm0 43zm0 36zm1-57zm0 14zm0 32zm2-33zm0 4zm0 2zm0 21zm0 26zm0 4zm0 4zm0 10zm1-102zm0 31zm0 33zm0 3zm0 3zm1-34zm0 39zm1-49zm0 5zm0 33zm0 6zm1-19zm0 41zm0 46zm1-116zm0 15zm0 24zm0 42zm1-57zm0 90zm1-87zm0 13zm0 18zm0 21zm1-89zm0 58zm0 23zm2-59zm0 4zm0 27zm0 6zm0 15zm1-61zm0 2zm0 19zm0 26zm0 2zm1-69zm0 3zm0 50zm0 5zm0 6zm0 5zm0 32zm0 7zm0 3zm1-73zm0 5zm0 10zm0 5zm0 1zm0 60zm1-91zm1-15zm0 65zm1-75zm0 15zm0 2zm0 25zm0 9zm0 8zm1-62zm0 9zm0 26zm0 4zm0 12zm0 2zm0 29zm0 3zm0 35zm1-90zm0 15zm0 22zm0 10zm0 1zm0 4zm0 52zm1-96zm1-3zm0 3zm0 110zm1-103zm0 10zm2 37zm1-69zm0 6zm0 33zm0 32zm1-73zm0 1zm0 5zm1 87zm2-78zm1 92zm1-133zm0 46zm0 3zm0 19zm0 1zm0 17zm1-78zm0 19zm0 6zm0 14zm0 31zm1-66zm0 25zm0 14zm0 0zm0 13zm1-29zm0 4zm0 39zm0 5zm1-68zm0 14zm0 5zm0 1zm0 4zm0 16zm0 6zm0 0zm0 15zm0 10zm0 44zm1-100zm0 11zm0 11zm0 15zm1 18zm0 6zm0 47zm1-40zm1-64zm1 16zm0 14zm0 12zm0 38zm1-98zm0 47zm0 16zm0 12zm1-45zm0 12zm0 19zm0 23zm1-42zm1 32zm1-79zm0 11zm0 33zm0 17zm0 13zm1-47zm0 59zm1-48zm1 152zm1-2zm0 29zm1-157zm1 150zm0 6zm2-42zm0 2zm1 15zm2 1zm1 24zm1-37zm2 40zm3-15zm2-10zm1-15zm8-29zm0 45zm1 18zm1-9zm0 2zm1-107zm3 100zm8 10zm1-10zm2-4zm3 7zm0 1zm5-19zm0 12zm1 2zm0 21zm2-20zm0 10zm1-31zm3-12zm0 27zm0 15zm0 1zm1-113zm1 117zm6-1zm1-7zm3-23zm2 2zm1 34zm1-5zm0 1zm1-25zm0 5zm3 1zm6-4zm1-10zm0 7zm0 22zm2 2zm5-3zm4-39zm1 21zm3-68zm4 44zm0 30zm2-10zm0 31zm1-5zm12-12zm3-71zm1 72zm1-118zm1 94zm0 9zm1-22zm23-12zm3 39zm0 23zm1-52zm1 33zm0 22zm4-65zm4 59zm1-9zm1 4zm1-22zm0 7zm2-3zm0 7zm0 11zm0 3zm5-16zm1-1zm2-2zm1-14zm0 2zm30 15zm13-53zm1 38zm0 27zm1-40zm2-2zm0 43zm1-43zm1-73zm0 104zm2-131zm0 121zm1-39zm0 23zm2-3zm1 8zm2-85zm0 27zm6 27zm0 8zm1 39zm18-195zm0 22zm0 12zm0 15zm0 39zm1-101zm0 78zm0 1zm0 2zm1-76zm0 20zm0 69zm1-48zm0 5zm1 1zm0 62zm1-110zm0 6zm0 0zm0 21zm0 3zm0 32zm0 1zm0 1zm0 62zm1-113zm0 4zm0 55zm0 7zm0 8zm0 6zm1-79zm0 5zm0 8zm0 3zm0 2zm0 6zm0 65zm1-50zm0 19zm1-64zm0 33zm0 6zm0 32zm1-61zm0 0zm0 18zm0 16zm0 7zm0 14zm0 24zm1-70zm0 34zm0 4zm0 16zm0 76zm1-113zm0 23zm0 14zm1-43zm0 4zm0 21zm0 1zm0 3zm1-55zm0 18zm0 18zm0 12zm0 8zm0 5zm0 33zm1-84zm0 18zm0 6zm0 2zm0 45zm1-53zm1-41zm0 72zm1-60zm0 28zm0 110zm1-127zm0 5zm0 39zm1-14zm0 11zm0 48zm1-107zm0 27zm0 29zm0 9zm2-21zm1-28zm0 28zm1-12zm0 15zm1-36zm0 55zm0 76zm1-149zm0 3zm0 18zm0 35zm0 9zm0 17zm0 16zm0 32zm0 9zm1-137zm0 120zm1-110zm0 18zm0 2zm0 33zm0 29zm1-16zm0 21zm1-17zm1-57zm0 11zm0 24zm1-5zm1 61zm2-65zm1-33zm0 7zm0 15zm0 14zm0 8zm1-56zm0 2zm0 3zm0 110zm1-81zm0 53zm1-35zm0 40zm1-93zm0 42zm0 1zm1-49zm0 26zm0 3zm0 36zm0 20zm1 34zm1-100zm0 2zm0 27zm0 3zm0 32zm1-75zm0 47zm0 7zm0 38zm0 19zm1-118zm0 43zm0 0zm0 25zm0 7zm0 31zm1-72zm0 4zm0 19zm0 3zm0 29zm1-87zm0 7zm0 18zm0 4zm0 64zm0 54zm1-140zm0 66zm0 13zm1-54zm1-34zm0 0zm0 5zm0 29zm0 26zm0 11zm1-66zm0 37zm0 1zm0 28zm0 1zm0 5zm1-75zm0 1zm0 27zm0 14zm0 6zm0 11zm0 2zm0 7zm0 0zm1 5zm1-25zm1-20zm1 13zm0 0zm1-15zm0 20zm0 35zm1-77zm0 10zm0 6zm0 21zm0 37zm0 7zm0 4zm1-77zm0 3zm0 10zm0 0zm0 9zm0 0zm0 3zm0 19zm0 4zm1-46zm0 21zm1-25zm0 8zm0 49zm0 27zm0 1zm1-97zm0 2zm0 3zm0 3zm0 13zm0 19zm0 18zm0 19zm1-76zm0 6zm0 4zm0 23zm0 9zm0 6zm0 3zm0 3zm0 1zm0 1zm0 23zm0 23zm0 1zm0 3zm0 6zm0 8zm1-113zm0 46zm0 4zm0 5zm0 6zm0 50zm0 30zm1-145zm0 84zm0 32zm1-115zm0 4zm0 2zm0 0zm0 9zm0 2zm0 4zm0 12zm0 12zm0 2zm0 2zm0 17zm0 18zm0 36zm1-109zm0 2zm0 2zm0 10zm0 22zm0 28zm1-70zm0 1zm0 1zm0 4zm0 5zm0 1zm0 8zm0 5zm0 17zm0 1zm0 55zm0 19zm1-85zm1 2zm0 0zm0 20zm1-52zm0 14zm0 0zm0 22zm1-17zm0 73zm1-84zm2-1zm0 16zm0 19zm0 9zm1-42zm0 54zm1-70zm0 42zm1-45zm0 2zm0 12zm0 8zm0 4zm0 18zm1-23zm0 12zm0 1zm0 16zm0 18zm0 5zm1-38zm0 12zm0 14zm0 7zm0 1zm0 7zm0 18zm1-88zm0 0zm0 30zm0 4zm0 13zm0 2zm0 15zm0 22zm0 12zm1-103zm0 0zm0 1zm0 12zm0 4zm0 28zm0 28zm1-58zm0 17zm0 1zm0 62zm0 28zm1-104zm0 4zm0 1zm0 10zm2 19zm20 180zm1-42zm2-3zm1 35zm1-37zm1-2zm0 34zm4 1zm1-47zm0 38zm1-19zm0 17zm0 25zm1-18zm1-36zm2 5zm0 33zm5-10zm0 9zm0 17zm1-23zm5-15zm1 37zm3-22zm1 2zm1-21zm1 6zm1 19zm5 2zm1 1zm2-17zm1-4zm0 5zm0 2zm0 2zm4-37zm0 57zm1-12zm1 6zm0 2zm1-88zm0 54zm0 4zm0 22zm4-4zm0 5zm2-30zm0 2zm0 43zm2-39zm2 35zm3-41zm1 30zm1-12zm0 17zm1-24zm0 21zm1-22zm3-24zm0 51zm1-19zm2-118zm1 75zm1 23zm0 29zm1-68zm2-2zm1-48zm0 32zm0 23zm0 45zm1-79zm0 11zm0 20zm0 10zm0 0zm0 6zm0 11zm0 11zm0 7zm0 4zm0 30zm1-107zm0 3zm0 15zm0 41zm0 3zm0 6zm0 13zm1-61zm0 1zm0 43zm1-50zm0 6zm1-57zm0 51zm0 25zm1-106zm0 47zm0 28zm0 11zm0 3zm1 10zm0 29zm1-68zm0 9zm0 2zm0 23zm0 0zm0 1zm0 19zm0 10zm1-143zm0 54zm0 13zm0 14zm0 15zm0 27zm0 77zm1-171zm0 24zm0 3zm0 23zm0 27zm0 26zm0 53zm1-117zm0 19zm0 15zm0 28zm0 3zm1-91zm0 21zm0 1zm0 48zm0 3zm0 15zm1-148zm0 57zm0 22zm0 19zm0 2zm0 12zm0 13zm0 11zm1-3zm0 6zm0 15zm0 35zm0 12zm1-139zm0 33zm0 25zm0 2zm1-31zm1 28zm1 35zm1-73zm0 22zm0 6zm0 7zm0 6zm0 16zm0 4zm1-75zm0 9zm0 16zm0 2zm0 5zm0 19zm0 0zm0 23zm0 0zm1-112zm0 14zm0 49zm0 6zm0 38zm0 0zm0 7zm1-86zm0 35zm0 30zm0 6zm0 9zm0 5zm0 57zm1-90zm0 15zm0 2zm0 17zm0 10zm0 13zm0 21zm1-99zm0 25zm0 0zm0 1zm0 8zm0 9zm0 8zm0 8zm1 16zm1-158zm0 32zm1 55zm0 32zm1-59zm0 83zm0 17zm1-19zm0 1zm0 8zm0 3zm1-71zm0 15zm0 6zm0 25zm0 8zm0 4zm0 1zm0 62zm1-193zm0 26zm0 22zm0 25zm0 17zm0 22zm0 3zm0 7zm0 0zm0 10zm0 1zm0 16zm0 9zm0 26zm0 11zm1-157zm0 39zm0 6zm0 4zm0 9zm0 2zm0 23zm0 26zm1-77zm0 2zm0 5zm0 31zm0 16zm0 11zm0 1zm0 18zm0 2zm0 4zm0 17zm1-163zm0 7zm0 15zm0 58zm0 1zm0 3zm0 5zm0 7zm0 0zm0 12zm0 2zm0 5zm0 11zm0 1zm0 52zm1-106zm0 3zm0 20zm0 15zm0 19zm0 12zm1-73zm1-10zm1 48zm7-59zm1 58zm1-37zm0 11zm1 35zm2-91zm0 29zm0 15zm1 20zm1-79zm0 32zm1-20zm0 71zm0 12zm0 7zm0 1zm1-55zm0 4zm0 2zm0 35zm1-11zm3-30zm1 7zm0 62zm1-13zm0 60zm1-118zm0 9zm0 43zm2-20zm1-64zm1 40zm1 49zm1-57zm0 9zm0 5zm1 14zm1-66zm0 14zm0 30zm0 4zm0 23zm0 9zm0 16zm0 2zm0 3zm0 17zm0 4zm0 1zm0 9zm1-65zm0 18zm0 19zm1-39zm0 61zm0 9zm1-114zm0 123zm2-76zm1-16zm0 10zm0 0zm0 16zm0 8zm0 3zm0 4zm0 8zm0 6zm0 17zm0 7zm1-101zm0 42zm0 3zm0 24zm0 3zm0 2zm0 30zm1-129zm0 45zm0 5zm1-12zm0 26zm0 31zm0 37zm2-105zm0 6zm0 69zm0 10zm1-39zm1-44zm2 3zm0 64zm1-23zm0 11zm1-71zm0 17zm0 66zm0 19zm0 27zm1-90zm0 83zm1-54zm0 43zm1-7zm2-99zm0 99zm0 13zm0 1zm0 20zm0 3zm1-124zm0 66zm0 9zm0 1zm1-54zm3 57zm1-55zm0 3zm0 6zm0 61zm1-31zm1-15zm0 21zm0 4zm0 4zm0 8zm0 34zm1-56zm0 0zm0 17zm0 10zm1-22zm1-27zm0 27zm0 11zm0 52zm1-117zm0 97zm0 9zm1-119zm1-26zm0 17zm0 57zm1-117zm0 46zm0 2zm0 6zm0 10zm0 19zm0 6zm0 21zm1-84zm0 37zm0 24zm1-44zm0 3zm0 20zm0 4zm0 1zm0 6zm0 10zm0 1zm0 2zm0 5zm0 4zm0 0zm0 11zm1-84zm0 18zm0 25zm0 4zm0 11zm0 21zm0 6zm0 7zm1-84zm0 11zm0 4zm0 1zm0 1zm0 2zm0 19zm0 1zm0 10zm0 3zm0 27zm1-54zm0 35zm0 48zm1-110zm1 28zm0 1zm0 11zm0 3zm0 7zm0 3zm0 1zm0 22zm0 14zm1-80zm0 14zm0 3zm0 12zm0 17zm0 5zm0 4zm1-77zm0 32zm0 13zm0 18zm0 10zm0 1zm0 9zm1-21zm0 8zm1-36zm0 22zm1-15zm0 23zm1-43zm0 56zm0 0zm0 2zm0 22zm1-68zm0 9zm0 9zm0 33zm0 0zm1-97zm0 15zm0 37zm0 3zm0 13zm0 18zm0 24zm1-78zm0 27zm0 7zm0 6zm0 8zm2-23zm0 12zm1-8zm1 23zm0 27zm0 21zm1-106zm0 17zm0 12zm0 16zm0 3zm0 3zm0 18zm1-83zm0 22zm0 6zm0 24zm0 3zm0 34zm1-27zm0 6zm0 8zm0 2zm0 7zm0 1zm1-35zm0 1zm0 16zm1-21zm0 16zm0 6zm0 25zm1-32zm0 15zm0 9zm0 23zm0 11zm1-58zm1-18zm0 8zm0 40zm0 8zm1-31zm0 1zm0 6zm0 4zm0 1zm0 40zm1-59zm0 2zm0 24zm0 29zm1-75zm0 45zm0 17zm0 7zm0 0zm0 2zm0 3zm1-89zm0 16zm0 4zm0 1zm0 34zm0 5zm0 1zm0 1zm0 5zm0 1zm0 8zm0 13zm0 7zm0 1zm1-57zm0 6zm0 2zm0 3zm0 2zm0 22zm0 24zm1-45zm0 1zm0 14zm0 30zm1-63zm0 11zm0 10zm0 30zm1-83zm0 52zm0 46zm0 16zm1-90zm0 6zm0 5zm0 1zm0 0zm0 9zm0 3zm0 8zm0 7zm0 9zm0 4zm1-54zm0 10zm0 2zm0 6zm0 3zm0 1zm0 4zm0 3zm0 0zm0 1zm0 3zm0 3zm0 3zm0 0zm0 5zm0 1zm0 1zm0 0zm0 14zm0 5zm1-64zm0 9zm0 11zm0 7zm0 13zm0 3zm1-43zm19 2zm1-106zm0 30zm0 11zm1 14zm0 13zm1-31zm0 14zm0 18zm0 0zm0 5zm1-53zm0 18zm0 4zm0 10zm0 23zm0 5zm0 8zm0 7zm0 5zm0 18zm0 3zm1-111zm0 24zm1-13zm5 25zm0 68zm1-37zm1-53zm0 47zm1 1zm0 30zm0 2zm0 9zm0 10zm1-82zm0 10zm0 24zm0 1zm0 1zm0 5zm0 18zm0 4zm0 3zm1-74zm0 3zm0 8zm0 19zm0 9zm0 4zm0 20zm1-88zm0 37zm1 2zm0 1zm0 12zm0 6zm0 12zm0 5zm0 0zm1-7zm0 8zm0 40zm1-57zm1-22zm0 26zm2-25zm1 35zm0 8zm1-68zm0 54zm0 0zm0 4zm0 8zm0 8zm0 10zm1-83zm0 32zm0 1zm0 27zm0 10zm0 21zm1-47zm0 2zm0 15zm0 8zm1-47zm0 9zm1 10zm0 3zm0 44zm0 6zm1-58zm0 19zm0 14zm0 13zm1-58zm1-44zm0 60zm0 40zm1-84zm0 33zm0 11zm0 8zm0 8zm1-41zm0 10zm0 13zm0 1zm0 11zm0 21zm0 4zm0 4zm0 9zm0 0zm0 9zm0 14zm1-74zm0 62zm2-96zm1 10zm0 2zm1 62zm1-43zm0 25zm0 27zm1-29zm1-17zm1-42zm0 25zm0 7zm0 16zm0 0zm0 24zm0 29zm1-27zm0 4zm0 5zm1-38zm0 28zm1 19zm1-50zm3-63zm1 81zm1-38zm1 13zm0 23zm0 11zm2 30zm1-46zm2-24zm1 19zm0 32zm0 7zm4-43zm1-29zm0 57zm1-67zm0 11zm0 9zm0 8zm0 42zm0 7zm1-43zm0 26zm2-43zm1 19zm0 13zm0 21zm1-45zm0 75zm1-91zm5 143zm1-117zm0 20zm1-68zm0 28zm0 5zm0 14zm0 20zm0 18zm0 28zm1-114zm0 15zm0 15zm0 0zm0 0zm0 1zm0 6zm0 13zm0 1zm0 4zm0 3zm1-55zm0 3zm0 2zm0 4zm0 9zm0 12zm0 6zm0 11zm0 10zm0 7zm0 8zm0 26zm1-111zm0 4zm0 2zm0 17zm0 6zm0 2zm0 2zm0 7zm0 20zm0 21zm0 2zm0 38zm1-113zm0 5zm0 17zm0 1zm0 2zm0 8zm0 3zm0 17zm0 7zm0 9zm0 1zm0 3zm0 3zm1-73zm0 16zm0 11zm0 4zm0 14zm0 6zm0 15zm0 4zm0 1zm0 0zm0 7zm0 28zm0 10zm1-124zm0 5zm0 21zm0 16zm0 2zm0 10zm0 16zm0 0zm0 5zm0 10zm1-86zm0 4zm0 4zm0 4zm0 2zm0 3zm0 2zm0 6zm0 5zm0 0zm0 1zm0 7zm0 2zm0 3zm0 5zm0 1zm0 21zm0 8zm0 2zm0 11zm0 36zm1-130zm0 0zm0 2zm0 4zm0 6zm0 8zm0 24zm0 2zm0 5zm0 6zm0 7zm0 4zm0 6zm0 11zm0 8zm0 12zm0 45zm1-147zm0 17zm0 0zm0 5zm0 10zm0 8zm0 0zm0 6zm0 1zm0 0zm0 3zm0 4zm0 6zm0 3zm0 8zm0 1zm0 2zm0 9zm0 2zm0 0zm0 16zm0 6zm0 7zm1-111zm0 0zm0 6zm0 10zm0 1zm0 0zm0 4zm0 1zm0 6zm0 3zm0 2zm0 1zm0 0zm0 2zm0 4zm0 5zm0 5zm0 3zm0 6zm0 5zm0 2zm0 5zm0 17zm0 9zm0 13zm0 42zm1-139zm0 7zm0 2zm0 5zm0 1zm0 10zm0 0zm0 4zm0 20zm0 3zm0 11zm0 15zm1-91zm0 18zm0 1zm0 2zm0 7zm0 15zm0 2zm0 20zm0 7zm0 34zm1-107zm0 6zm0 1zm0 1zm0 6zm0 15zm0 2zm0 12zm0 2zm0 6zm0 30zm0 7zm0 4zm0 1zm1-94zm0 6zm0 7zm0 5zm0 9zm0 3zm0 0zm0 1zm0 6zm0 1zm0 6zm0 9zm0 5zm0 3zm0 10zm0 41zm0 34zm0 30zm1-182zm0 11zm0 6zm0 4zm0 2zm0 5zm0 1zm0 8zm0 5zm0 1zm0 17zm0 2zm0 1zm0 15zm0 16zm1-89zm0 6zm0 17zm0 22zm0 31zm0 2zm0 5zm0 40zm0 45zm1-160zm0 14zm0 18zm0 7zm0 8zm0 3zm0 45zm0 6zm0 9zm1-122zm0 15zm0 6zm0 3zm0 7zm0 6zm0 6zm0 2zm0 3zm0 10zm0 2zm0 8zm0 10zm0 17zm0 9zm0 30zm1-133zm0 0zm0 7zm0 1zm0 6zm0 8zm0 16zm0 1zm0 1zm0 14zm0 4zm0 4zm0 5zm0 20zm0 1zm0 23zm1-110zm0 3zm0 1zm0 5zm0 3zm0 2zm0 11zm0 3zm0 10zm0 4zm0 2zm0 9zm0 5zm0 4zm0 2zm0 7zm0 23zm0 8zm0 93zm1-196zm0 4zm0 17zm0 6zm0 4zm0 10zm0 6zm0 4zm0 9zm0 6zm0 5zm0 1zm0 16zm0 13zm0 1zm0 2zm0 8zm0 16zm1-113zm0 2zm0 3zm0 1zm0 3zm0 4zm0 0zm0 7zm0 2zm0 4zm0 9zm0 10zm0 2zm0 3zm0 3zm0 6zm0 2zm0 12zm0 14zm0 15zm1-103zm0 0zm0 2zm0 6zm0 7zm0 1zm0 3zm0 0zm0 3zm0 3zm0 6zm0 1zm0 1zm0 2zm0 2zm0 2zm0 10zm0 10zm0 1zm0 13zm0 15zm1-97zm0 12zm0 2zm0 3zm0 1zm0 0zm0 1zm0 2zm0 16zm0 14zm0 0zm0 18zm0 10zm0 9zm0 0zm0 4zm0 25zm1-118zm0 3zm0 11zm0 12zm0 3zm0 4zm0 1zm0 1zm0 24zm0 10zm0 7zm0 22zm0 1zm1-98zm0 6zm0 7zm0 3zm0 3zm0 6zm0 7zm0 8zm0 2zm0 0zm0 4zm0 14zm0 4zm0 1zm0 5zm0 6zm0 3zm0 11zm0 13zm0 1zm0 74zm1-182zm0 15zm0 4zm0 18zm0 2zm0 0zm0 7zm0 1zm0 5zm0 9zm0 5zm0 2zm0 30zm1-97zm0 8zm0 2zm0 2zm0 1zm0 0zm0 22zm0 1zm0 7zm0 17zm0 2zm0 13zm0 31zm1-108zm0 8zm0 13zm0 2zm0 0zm0 1zm0 1zm0 1zm0 21zm0 7zm0 4zm0 17zm0 6zm0 5zm0 7zm1-90zm0 7zm0 2zm0 5zm0 9zm0 9zm0 5zm0 6zm0 31zm0 14zm0 3zm0 5zm1-93zm0 20zm0 8zm0 1zm0 0zm0 8zm0 10zm0 32zm0 2zm1-80zm0 6zm0 4zm0 26zm0 62zm0 61zm1-136zm0 33zm0 2zm0 8zm0 21zm0 0zm0 21zm1-98zm0 0zm0 7zm0 6zm0 12zm0 24zm0 19zm0 1zm0 14zm0 6zm0 2zm1-107zm0 15zm0 6zm0 7zm0 8zm0 0zm0 3zm0 0zm0 9zm0 2zm0 2zm0 3zm0 5zm0 1zm0 4zm0 1zm0 1zm0 11zm0 1zm0 6zm0 9zm0 1zm0 6zm0 12zm1-115zm0 2zm0 8zm0 2zm0 7zm0 4zm0 1zm0 2zm0 6zm0 2zm0 2zm0 10zm0 2zm0 3zm0 0zm0 3zm0 8zm0 1zm0 0zm0 6zm0 7zm0 1zm0 2zm0 1zm0 8zm0 5zm0 2zm0 22zm0 8zm0 4zm0 11zm1-129zm0 14zm0 8zm0 3zm0 9zm0 7zm0 2zm0 14zm0 5zm0 11zm0 5zm0 1zm0 21zm0 24zm0 43zm1-166zm0 8zm0 1zm0 2zm0 6zm0 7zm0 11zm0 19zm0 0zm0 5zm0 5zm0 1zm0 42zm1-116zm0 14zm0 12zm0 11zm0 7zm0 5zm0 11zm0 3zm0 7zm0 3zm0 1zm0 10zm0 6zm0 21zm1-104zm0 14zm0 14zm0 5zm0 6zm0 1zm0 5zm0 21zm0 1zm0 1zm0 67zm1-144zm0 0zm0 3zm0 5zm0 1zm0 1zm0 17zm0 15zm0 3zm0 0zm0 2zm0 16zm0 41zm0 14zm0 19zm1-135zm0 10zm0 15zm0 6zm0 10zm0 1zm0 5zm0 14zm0 4zm0 1zm0 2zm0 16zm0 7zm1-91zm0 25zm0 9zm0 3zm0 0zm0 23zm0 22zm0 104zm1-176zm0 2zm0 29zm0 6zm0 21zm0 4zm1-75zm0 1zm0 14zm0 17zm0 16zm0 35zm0 28zm0 47zm1-144zm0 1zm0 2zm0 43zm1-58zm0 3zm0 1zm0 21zm0 23zm0 9zm0 32zm1-85zm0 1zm0 2zm0 11zm0 15zm0 2zm0 17zm0 10zm1-24zm0 1zm0 23zm0 14zm1-78zm0 14zm0 20zm0 7zm0 8zm0 6zm0 35zm0 12zm0 39zm1-129zm0 0zm0 6zm0 8zm0 3zm0 17zm0 5zm0 4zm0 3zm0 15zm0 1zm0 7zm0 11zm1-91zm0 10zm0 8zm0 19zm0 0zm0 10zm0 1zm0 5zm0 0zm0 2zm0 6zm0 9zm0 3zm0 5zm1-75zm0 2zm0 10zm0 21zm0 3zm0 6zm0 10zm0 2zm0 33zm0 5zm0 6zm0 8zm0 52zm1-153zm0 10zm0 3zm0 0zm0 4zm0 4zm0 3zm0 5zm0 3zm0 0zm0 18zm0 17zm0 0zm1-74zm0 2zm0 4zm0 1zm0 5zm0 8zm0 5zm0 4zm0 0zm0 19zm0 3zm0 4zm0 7zm0 9zm0 7zm0 1zm0 3zm0 0zm0 7zm0 7zm0 19zm0 7zm1-119zm0 10zm0 1zm0 16zm0 0zm0 6zm0 15zm0 6zm0 4zm0 16zm0 1zm0 5zm0 2zm0 10zm0 17zm0 11zm1-117zm0 7zm0 53zm0 43zm0 0zm0 32zm0 6zm1-109zm0 124zm18-16zm2-17zm0 5zm0 11zm1-36zm0 3zm0 3zm0 9zm0 1zm0 10zm0 1zm0 7zm0 5zm0 35zm0 18zm1-131zm0 36zm0 7zm0 18zm0 2zm0 1zm0 1zm0 8zm0 0zm0 1zm0 1zm0 19zm1-95zm0 8zm0 38zm0 2zm0 4zm0 4zm0 5zm0 1zm0 1zm0 0zm0 1zm0 1zm0 17zm0 12zm0 19zm1-83zm0 55zm1-66zm1 19zm0 41zm1-29zm0 13zm0 10zm1-49zm0 39zm0 12zm2-21zm0 21zm1 14zm2-22zm1 8zm0 26zm1-51zm1-14zm0 31zm0 11zm0 7zm0 13zm1-44zm0 5zm0 4zm0 15zm0 22zm1-51zm0 12zm0 3zm0 15zm0 11zm0 3zm0 19zm1-34zm0 16zm1-63zm0 3zm0 44zm1-27zm0 5zm0 11zm0 18zm0 5zm5-51zm0 33zm0 4zm1-18zm1 6zm0 15zm0 19zm1-48zm0 15zm0 1zm1-27zm0 13zm0 1zm0 5zm0 0zm0 3zm0 1zm0 17zm0 0zm0 1zm0 0zm0 20zm1-64zm0 16zm0 10zm0 6zm1-8zm0 2zm0 7zm0 40zm0 20zm1-84zm0 24zm0 5zm0 20zm1-88zm0 27zm1 18zm0 3zm0 8zm0 5zm0 15zm1-52zm0 19zm0 11zm0 3zm0 0zm0 12zm1-30zm0 23zm1-39zm1 67zm11-20zm1-21zm0 34zm0 41zm0 16zm1-93zm0 53zm0 7zm1-38zm0 88zm1-52zm0 1zm1 6zm2-76zm0 34zm0 24zm0 10zm0 27zm1-56zm1 7zm0 31zm2-43zm3-14zm0 34zm1-65zm1-39zm0 58zm0 45zm0 51zm1-86zm0 46zm1-13zm0 20zm0 4zm1-39zm0 4zm0 29zm1 16zm1-34zm1 55zm1-85zm0 6zm0 23zm0 3zm0 42zm0 21zm1-77zm0 26zm0 14zm0 14zm1-96zm0 19zm0 13zm0 4zm0 27zm0 1zm0 10zm0 39zm1-82zm0 10zm0 3zm1 51zm1-99zm2 27zm0 52zm0 11zm0 16zm1-67zm0 2zm0 13zm0 6zm0 18zm1-20zm0 10zm2-59zm0 44zm0 4zm0 1zm0 19zm0 15zm1-71zm0 82zm1-80zm10-41zm1-14zm0 24zm0 19zm0 26zm0 17zm2-14zm0 3zm0 12zm1-30zm0 23zm1-137zm0 122zm0 8zm1-64zm0 31zm0 4zm0 5zm0 31zm1-24zm0 11zm0 29zm1-79zm0 52zm1-42zm0 39zm0 13zm1-70zm0 6zm0 8zm1 34zm0 6zm0 2zm0 3zm1-22zm0 4zm0 4zm0 2zm0 2zm0 51zm1-93zm0 27zm0 15zm0 10zm0 4zm0 14zm1-61zm0 58zm1-84zm0 33zm0 17zm0 3zm0 8zm1-13zm0 8zm0 19zm1-53zm0 4zm0 35zm0 1zm0 64zm1-90zm0 5zm1-74zm2 19zm0 35zm1-1zm1-73zm0 35zm0 37zm0 35zm0 2zm1-47zm0 10zm0 10zm1-41zm0 17zm0 24zm1-61zm0 7zm0 1zm0 65zm0 8zm0 42zm1-94zm0 8zm0 3zm0 13zm0 51zm1-81zm1-14zm0 30zm0 9zm1 21zm1-37zm0 9zm0 16zm0 15zm0 2zm1-50zm0 28zm0 74zm1-114zm0 1zm0 28zm0 31zm0 40zm1-73zm0 3zm0 17zm0 6zm0 2zm1-23zm1 21zm0 32z" stroke="#e31a1c" stroke-width="7.4"/>
</g>
<line x1="103.5" x2="1501" y1="2014.8" y2="2014.8" stroke="#f6a935" stroke-width="1.7" stroke-dasharray="5.9 2.7"/><line x1="103.5" x2="1501" y1="2031.3" y2="2031.3" stroke="#f6a935" stroke-width="1.7" stroke-dasharray="5.9 2.7"/><line x1="103.5" x2="1501" y1="2063.7" y2="2063.7" stroke="#f6a935" stroke-width="1.7" stroke-dasharray="5.9 2.7"/><line x1="103.5" x2="1501" y1="2096.0" y2="2096.0" stroke="#f6a935" stroke-width="1.7" stroke-dasharray="5.9 2.7"/><line x1="103.5" x2="1501" y1="2112.5" y2="2112.5" stroke="#f6a935" stroke-width="1.7" stroke-dasharray="5.9 2.7"/>
<path d="M103.9 1965.6H162.3M173.0 1965.6H224.2M325.8 1965.6H333.1M337.4 1965.6H346.8M351.8 1965.6H355.8M358.6 1965.6H371.3M377.0 1965.6h0M387.6 1965.6h0M391.2 1965.6H393.4M397.9 1965.6H402.5M406.4 1965.6H406.9M410.0 1965.6H412.7M415.9 1965.6H416.8M428.1 1965.6H435.3M780.6 1965.6H796.5M815.3 1965.6H819.8M851.8 1965.6H852.7M859.8 1965.6H867.5M886.7 1965.6H888.0M892.4 1965.6H917.1M1051.8 1965.6H1067.9M1071.6 1965.6H1089.7M1093.1 1965.6H1115.6M1125.6 1965.6H1129.7M1133.3 1965.6H1134.1M1137.4 1965.6H1140.4M1160.4 1965.6H1171.0M1233.1 1965.6H1255.5M1258.3 1965.6H1262.4M1265.3 1965.6H1265.8M1269.1 1965.6H1290.7M1296.1 1965.6H1300.6M1303.2 1965.6H1325.0M1459.6 1965.6H1476.3M103.9 2161.7H162.3M173.0 2161.7H224.2M325.8 2161.7H333.1M337.4 2161.7H346.8M351.8 2161.7H355.8M358.6 2161.7H371.3M377.0 2161.7h0M387.6 2161.7h0M391.2 2161.7H393.4M397.9 2161.7H402.5M406.4 2161.7H406.9M410.0 2161.7H412.7M415.9 2161.7H416.8M428.1 2161.7H435.3M780.6 2161.7H796.5M815.3 2161.7H819.8M851.8 2161.7H852.7M859.8 2161.7H867.5M886.7 2161.7H888.0M892.4 2161.7H917.1M1051.8 2161.7H1067.9M1071.6 2161.7H1089.7M1093.1 2161.7H1115.6M1125.6 2161.7H1129.7M1133.3 2161.7H1134.1M1137.4 2161.7H1140.4M1160.4 2161.7H1171.0M1233.1 2161.7H1255.5M1258.3 2161.7H1262.4M1265.3 2161.7H1265.8M1269.1 2161.7H1290.7M1296.1 2161.7H1300.6M1303.2 2161.7H1325.0M1459.6 2161.7H1476.3M225.1 2014.8H324.1M439.6 2014.8H441.0M530.9 2014.8H551.7M555.6 2014.8H618.2M801.5 2014.8H803.7M820.1 2014.8H827.7M843.7 2014.8H850.1M918.9 2014.8H932.5M935.7 2014.8H936.0M939.0 2014.8H951.0M1326.1 2014.8H1337.9M1401.1 2014.8H1423.2M1492.4 2014.8H1500.5M225.1 2112.5H324.1M439.6 2112.5H441.0M530.9 2112.5H551.7M555.6 2112.5H618.2M801.5 2112.5H803.7M820.1 2112.5H827.7M843.7 2112.5H850.1M918.9 2112.5H932.5M935.7 2112.5H936.0M939.0 2112.5H951.0M1326.1 2112.5H1337.9M1401.1 2112.5H1423.2M1492.4 2112.5H1500.5M442.6 2031.3H461.6M464.2 2031.3H470.4M473.1 2031.3H475.5M479.0 2031.3H493.0M496.7 2031.3H529.9M702.2 2031.3H726.6M804.3 2031.3H806.5M809.3 2031.3H811.9M828.2 2031.3H831.6M835.4 2031.3H835.9M984.6 2031.3H1007.1M1011.6 2031.3H1050.5M1356.4 2031.3H1390.5M1394.9 2031.3H1400.4M442.6 2096.0H461.6M464.2 2096.0H470.4M473.1 2096.0H475.5M479.0 2096.0H493.0M496.7 2096.0H529.9M702.2 2096.0H726.6M804.3 2096.0H806.5M809.3 2096.0H811.9M828.2 2096.0H831.6M835.4 2096.0H835.9M984.6 2096.0H1007.1M1011.6 2096.0H1050.5M1356.4 2096.0H1390.5M1394.9 2096.0H1400.4M618.3 2044.1H641.3M731.5 2044.1H779.2M1195.6 2044.1H1223.0M618.3 2083.2H641.3M731.5 2083.2H779.2M1195.6 2083.2H1223.0M644.3 2063.7H701.7M951.0 2063.7H984.2M1492.0 2063.7H1500.2M836.3 1999.4H841.9M836.3 2127.9H841.9M1180.3 2039.1H1194.9M1180.3 2088.2H1194.9M1338.3 1998.9H1346.4M1432.6 1998.9H1453.3M1338.3 2128.4H1346.4M1432.6 2128.4H1453.3M1346.9 2049.4H1355.9M1346.9 2077.9H1355.9M1482.4 2004.1H1500.7M1482.4 2123.2H1500.7M1491.4 2025.6H1495.1M1498.2 2025.6H1500.8M1491.4 2101.7H1495.1M1498.2 2101.7H1500.8M726.5 1972.0h0M726.5 2005.3h0M726.5 2122.0h0M726.5 2156.5h0M726.5 2116.0h0" stroke="#984ea3" stroke-width="4.1" stroke-linecap="round" fill="none"/>
<path d="M224.4 1932.6V2194.3M341.8 1932.6V2194.3M437.5 1932.6V2194.3M530.7 1932.6V2194.3M618.2 1932.6V2194.3M702.0 1932.6V2194.3M779.5 1932.6V2194.3M850.5 1932.6V2194.3M918.6 1932.6V2194.3M984.6 1932.6V2194.3M1051.0 1932.6V2194.3M1116.0 1932.6V2194.3M1171.6 1932.6V2194.3M1223.5 1932.6V2194.3M1273.4 1932.6V2194.3M1317.1 1932.6V2194.3M1356.2 1932.6V2194.3M1394.4 1932.6V2194.3M1423.3 1932.6V2194.3M1453.9 1932.6V2194.3M1477.2 1932.6V2194.3" stroke="#8e519f" stroke-width="1.9" fill="none"/>
<text x="163.9" y="1959.0" font-size="13" text-anchor="middle" fill="#9d5fae">1</text><text x="283.1" y="1959.0" font-size="13" text-anchor="middle" fill="#9d5fae">2</text><text x="389.6" y="1959.0" font-size="13" text-anchor="middle" fill="#9d5fae">3</text><text x="484.1" y="1959.0" font-size="13" text-anchor="middle" fill="#9d5fae">4</text><text x="574.5" y="1959.0" font-size="13" text-anchor="middle" fill="#9d5fae">5</text><text x="660.1" y="1959.0" font-size="13" text-anchor="middle" fill="#9d5fae">6</text><text x="740.8" y="1959.0" font-size="13" text-anchor="middle" fill="#9d5fae">7</text><text x="815.0" y="1959.0" font-size="13" text-anchor="middle" fill="#9d5fae">8</text><text x="884.5" y="1959.0" font-size="13" text-anchor="middle" fill="#9d5fae">9</text><text x="951.6" y="1959.0" font-size="13" text-anchor="middle" fill="#9d5fae">10</text><text x="1017.8" y="1959.0" font-size="13" text-anchor="middle" fill="#9d5fae">11</text><text x="1083.5" y="1959.0" font-size="13" text-anchor="middle" fill="#9d5fae">12</text><text x="1143.8" y="1959.0" font-size="13" text-anchor="middle" fill="#9d5fae">13</text><text x="1197.5" y="1959.0" font-size="13" text-anchor="middle" fill="#9d5fae">14</text><text x="1248.5" y="1959.0" font-size="13" text-anchor="middle" fill="#9d5fae">15</text><text x="1295.2" y="1959.0" font-size="13" text-anchor="middle" fill="#9d5fae">16</text><text x="1336.7" y="1959.0" font-size="13" text-anchor="middle" fill="#9d5fae">17</text><text x="1375.3" y="1959.0" font-size="13" text-anchor="middle" fill="#9d5fae">18</text><text x="1408.8" y="1959.0" font-size="13" text-anchor="middle" fill="#9d5fae">19</text><text x="1438.6" y="1959.0" font-size="13" text-anchor="middle" fill="#9d5fae">20</text><text x="1465.6" y="1959.0" font-size="13" text-anchor="middle" fill="#9d5fae">21</text><text x="1489.1" y="1959.0" font-size="13" text-anchor="middle" fill="#9d5fae">22</text>
<rect x="103.5" y="1932.6" width="1397.5" height="261.7" fill="none" stroke="#3a3a3a" stroke-width="1.4"/>
<line x1="98.5" x2="103.5" y1="2182.7" y2="2182.7" stroke="#3a3a3a" stroke-width="1.2"/><text x="92.0" y="2187.4" font-size="12.8" text-anchor="end" fill="#262626">0.0</text><line x1="98.5" x2="103.5" y1="2135.1" y2="2135.1" stroke="#3a3a3a" stroke-width="1.2"/><text x="92.0" y="2139.8" font-size="12.8" text-anchor="end" fill="#262626">0.2</text><line x1="98.5" x2="103.5" y1="2087.5" y2="2087.5" stroke="#3a3a3a" stroke-width="1.2"/><text x="92.0" y="2092.2" font-size="12.8" text-anchor="end" fill="#262626">0.4</text><line x1="98.5" x2="103.5" y1="2039.8" y2="2039.8" stroke="#3a3a3a" stroke-width="1.2"/><text x="92.0" y="2044.5" font-size="12.8" text-anchor="end" fill="#262626">0.6</text><line x1="98.5" x2="103.5" y1="1992.2" y2="1992.2" stroke="#3a3a3a" stroke-width="1.2"/><text x="92.0" y="1996.9" font-size="12.8" text-anchor="end" fill="#262626">0.8</text><line x1="98.5" x2="103.5" y1="1944.6" y2="1944.6" stroke="#3a3a3a" stroke-width="1.2"/><text x="92.0" y="1949.3" font-size="12.8" text-anchor="end" fill="#262626">1.0</text>
<text transform="translate(62 2064.9) rotate(-90)" font-size="13.8" text-anchor="middle" fill="#262626">BAF (tumour)</text>
<text x="1500" y="2210.3" font-size="13.6" text-anchor="end" fill="#262626">1e9</text>
</g>
<text class="lib" transform="translate(785.3 2229.7) scale(.977 1)" font-size="24.9" text-anchor="middle" fill="#1a1a1a">genomic position</text>
</svg>
</body></html>
